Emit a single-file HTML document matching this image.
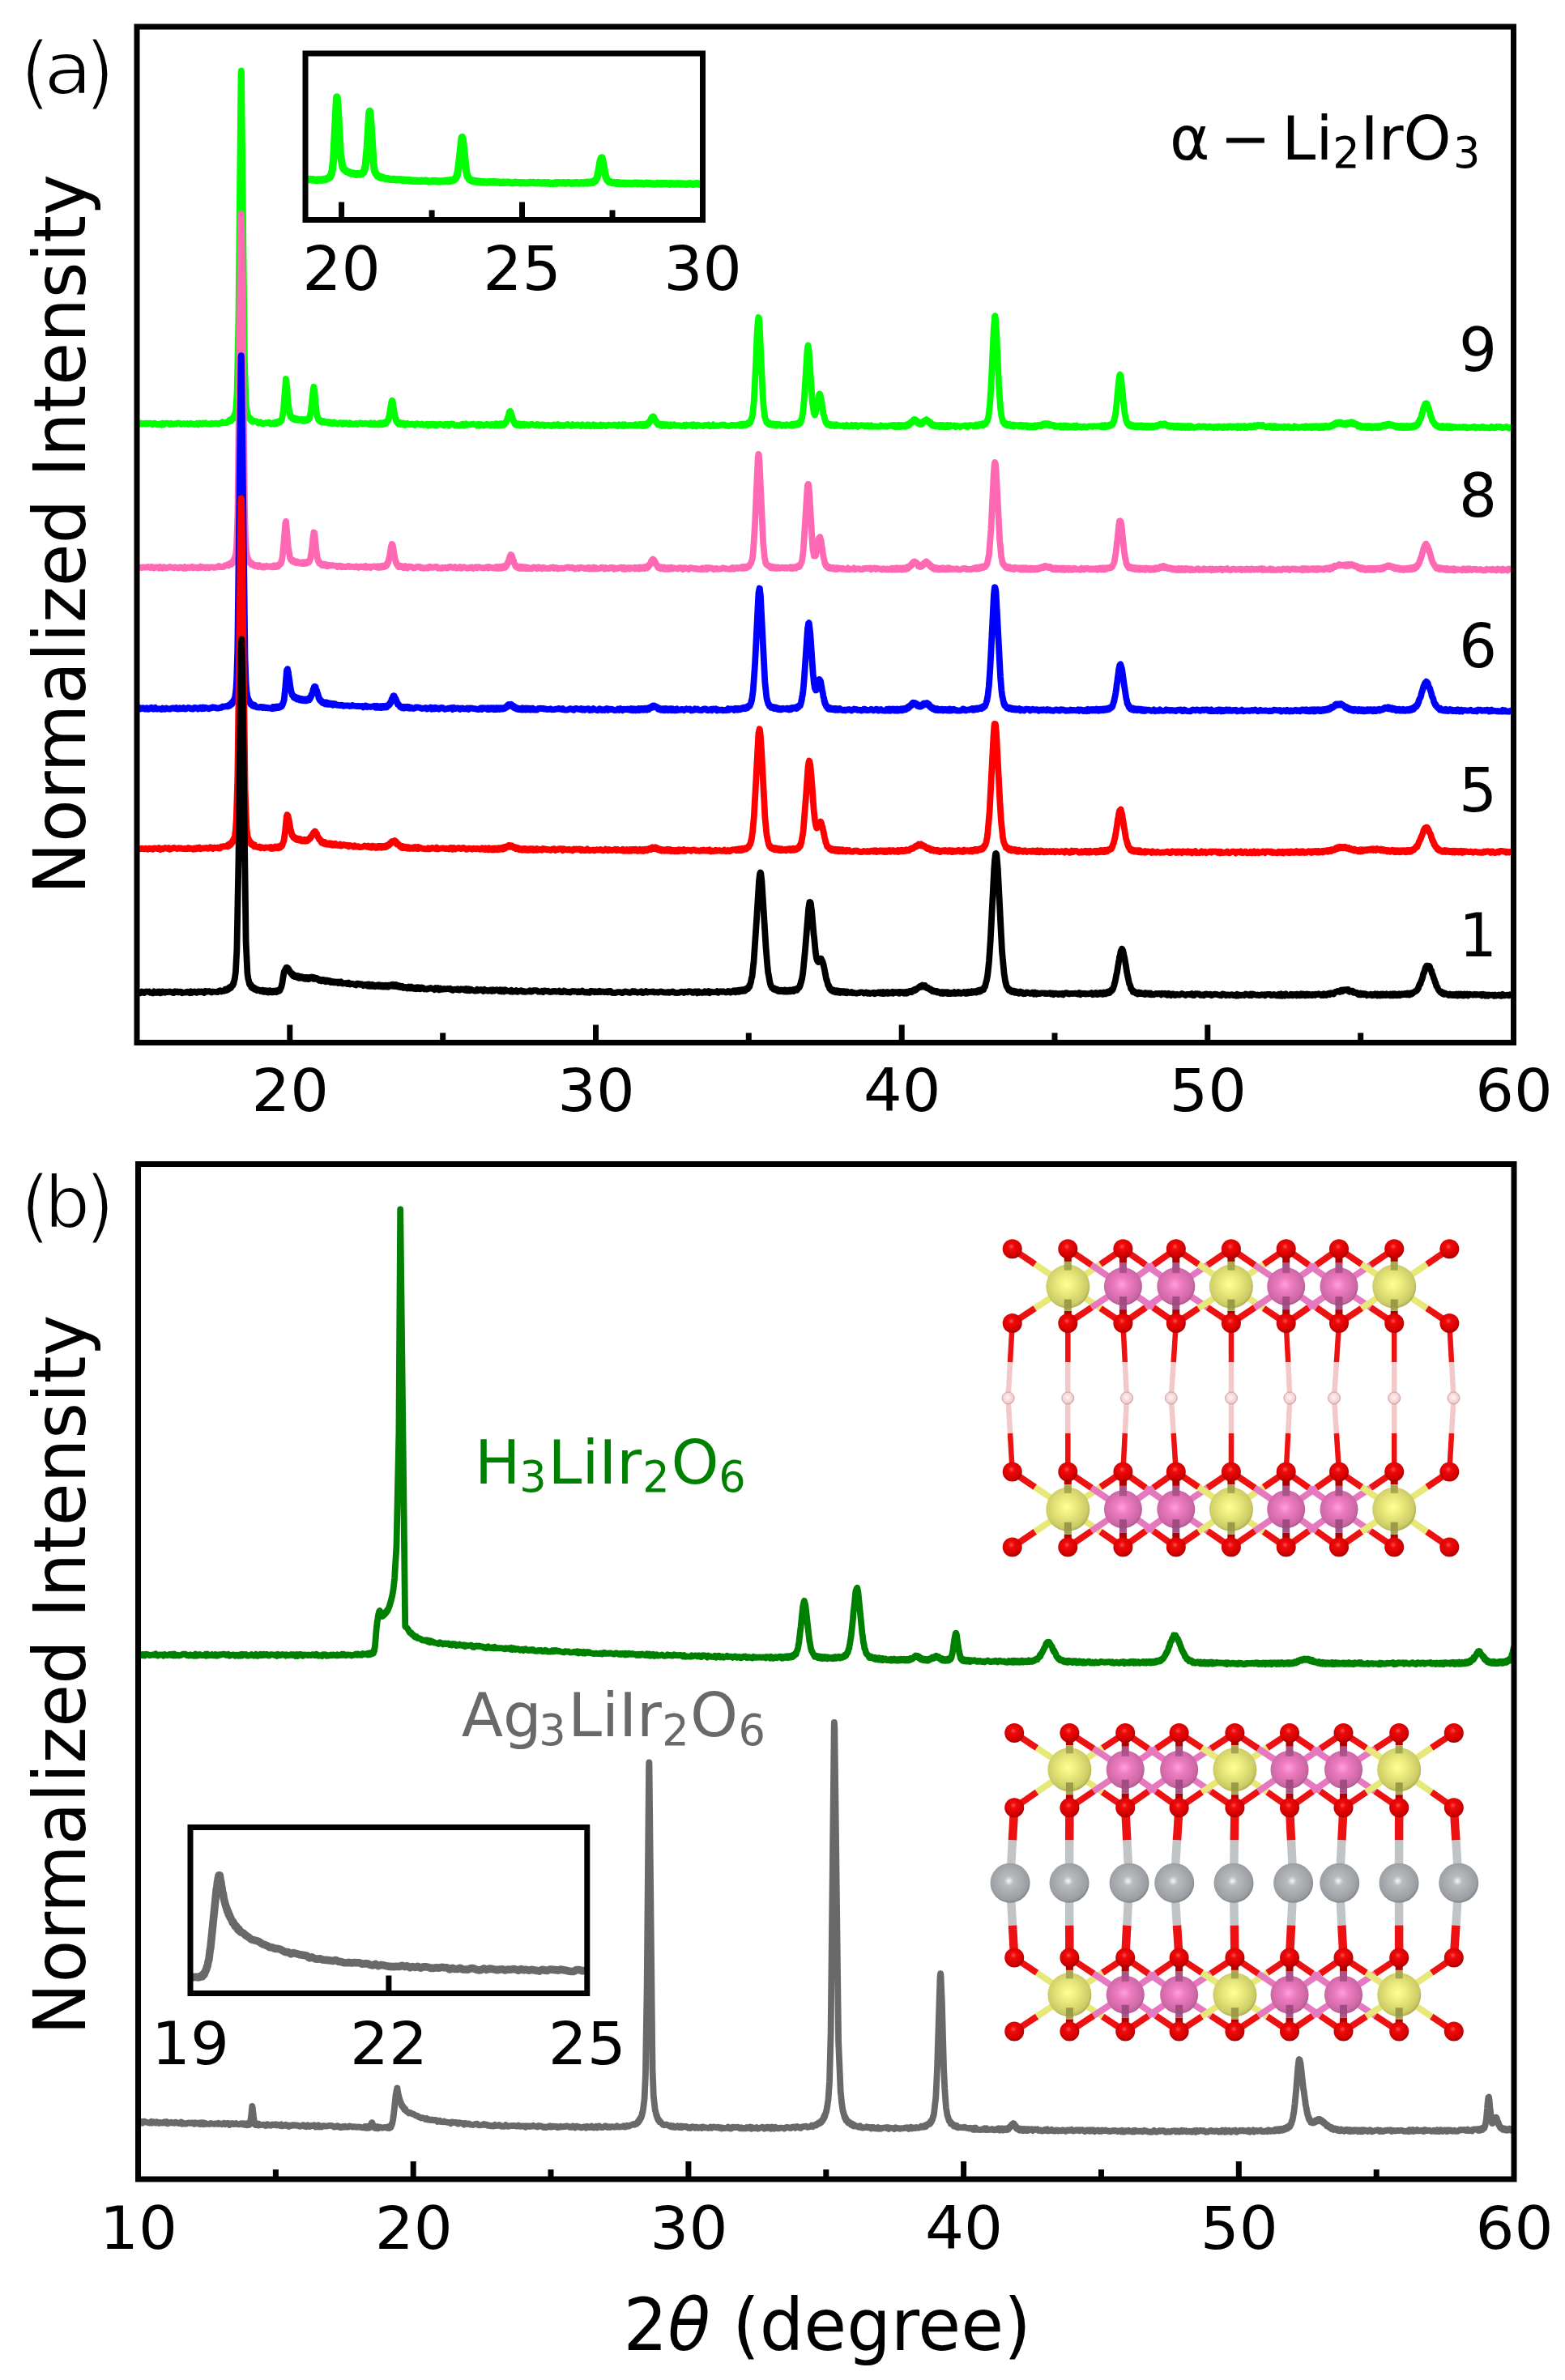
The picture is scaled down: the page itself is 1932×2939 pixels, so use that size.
<!DOCTYPE html>
<html><head><meta charset="utf-8"><title>XRD</title><style>html,body{margin:0;padding:0;background:#fff;}svg{display:block;}</style></head><body>
<svg width="1932" height="2939" viewBox="0 0 1932 2939">
<defs>
<radialGradient id="gO" cx="0.45" cy="0.38" r="0.6">
 <stop offset="0" stop-color="#ff5050"/><stop offset="0.25" stop-color="#f00a0a"/><stop offset="0.8" stop-color="#d20000"/><stop offset="1" stop-color="#a80000"/></radialGradient>
<radialGradient id="gY" cx="0.47" cy="0.45" r="0.6">
 <stop offset="0" stop-color="#ffff9a"/><stop offset="0.3" stop-color="#eeee80"/><stop offset="0.8" stop-color="#cccc66"/><stop offset="1" stop-color="#99994a"/></radialGradient>
<radialGradient id="gP" cx="0.47" cy="0.45" r="0.6">
 <stop offset="0" stop-color="#ffa0dc"/><stop offset="0.3" stop-color="#ee7cc0"/><stop offset="0.8" stop-color="#cc66a4"/><stop offset="1" stop-color="#99507c"/></radialGradient>
<radialGradient id="gA" cx="0.47" cy="0.45" r="0.6">
 <stop offset="0" stop-color="#f4f6f8"/><stop offset="0.2" stop-color="#b8bcbf"/><stop offset="0.8" stop-color="#9a9ea2"/><stop offset="1" stop-color="#6e7276"/></radialGradient>
<radialGradient id="gH" cx="0.47" cy="0.45" r="0.6">
 <stop offset="0" stop-color="#fff4f4"/><stop offset="0.7" stop-color="#f2d0d0"/><stop offset="1" stop-color="#d8a8a8"/></radialGradient>

<clipPath id="ca"><rect x="169.0" y="33.0" width="1699.5" height="1254.5"/></clipPath>
<clipPath id="cb"><rect x="170.5" y="1437.5" width="1698.5" height="1253.5"/></clipPath>
<clipPath id="cia"><rect x="377.0" y="66.0" width="490.5" height="205.5"/></clipPath>
<clipPath id="cib"><rect x="235.0" y="2256.5" width="489.8" height="205.0"/></clipPath>
</defs>
<rect width="1932" height="2939" fill="#fff"/>
<g clip-path="url(#ca)" fill="none" stroke-width="7.8" stroke-linejoin="round" stroke-linecap="butt">
<path d="M169.0 523.2L170.5 522.8L172.0 523.9L173.5 522.6L175.0 523.6L176.6 523.2L178.1 522.6L179.6 523.5L181.1 522.5L182.6 523.4L184.1 522.6L185.6 522.6L188.6 524.2L190.1 522.7L191.7 522.9L194.7 524.5L196.2 523.7L197.7 523.3L199.2 524.6L200.7 522.5L202.2 524.3L203.7 523.0L205.3 522.7L206.8 522.6L208.3 523.1L209.8 524.2L211.3 522.8L212.8 523.7L214.3 523.8L215.8 523.2L217.3 523.6L218.9 522.5L220.4 522.5L221.9 522.8L223.4 523.8L224.9 523.3L226.4 523.0L227.9 523.6L230.9 523.0L232.4 524.0L234.0 523.8L235.5 522.8L237.0 523.5L238.5 523.4L240.0 524.2L241.5 523.8L243.0 522.8L244.5 524.4L246.0 522.4L249.1 523.8L250.6 522.5L252.1 523.2L253.6 522.2L255.1 523.5L256.6 523.7L258.1 523.2L259.6 523.9L261.2 522.6L262.7 523.4L267.2 522.6L268.7 523.4L270.2 523.5L271.7 522.4L273.2 522.6L274.7 521.1L276.3 522.3L277.8 521.9L279.3 522.4L280.8 521.6L282.3 519.9L283.1 519.8L283.3 520.3L283.5 518.7L283.8 519.6L283.8 518.9L284.3 518.4L284.5 519.8L284.8 518.2L285.3 518.5L285.3 519.5L285.5 517.6L285.8 518.2L286.0 518.2L286.2 518.7L286.7 518.2L286.8 516.8L287.0 516.9L287.2 516.5L287.5 517.4L287.7 517.2L288.0 515.1L288.5 514.5L288.7 514.6L288.9 514.3L289.4 511.9L289.7 512.2L289.9 511.6L289.9 511.8L290.2 511.8L291.2 506.2L291.4 503.2L291.4 504.7L292.6 484.8L294.4 396.9L297.5 90.9L297.8 87.5L298.0 90.0L302.0 449.3L303.7 499.2L304.2 504.4L304.9 508.4L305.0 508.0L306.1 514.0L306.4 513.5L306.6 515.2L306.9 515.6L307.1 514.7L308.0 515.7L308.3 517.7L308.6 517.8L308.8 517.3L309.3 518.5L309.5 517.1L309.6 518.4L309.8 519.2L310.3 519.2L310.8 518.3L311.0 519.8L311.0 518.8L311.5 520.5L311.8 519.3L312.0 519.5L312.3 520.8L312.5 520.4L314.0 519.8L317.0 520.6L318.6 522.5L320.1 522.5L321.6 521.3L323.1 522.9L324.6 523.4L327.6 522.2L329.1 522.6L330.6 521.8L332.2 521.5L333.7 523.6L335.2 522.9L336.7 522.6L338.2 523.4L338.4 522.3L338.7 523.3L338.9 523.1L339.2 521.8L339.7 521.9L339.9 522.5L340.2 521.8L340.4 522.1L340.6 521.4L340.9 523.1L341.1 521.9L341.6 523.0L341.9 521.9L342.1 522.9L342.4 522.0L342.7 522.0L342.9 520.8L343.1 521.7L343.6 520.6L343.8 522.3L344.1 520.8L344.3 521.9L344.8 520.8L345.1 521.1L345.3 521.1L345.6 521.4L345.7 519.8L345.8 520.8L346.1 519.9L346.3 519.7L346.5 520.5L346.8 519.6L347.0 519.4L347.3 519.4L347.5 518.2L347.8 517.9L348.5 515.5L349.0 512.3L349.2 511.7L350.0 505.4L352.9 468.0L353.3 469.7L353.4 469.2L353.9 475.4L354.2 476.6L355.1 490.7L356.6 505.3L356.9 505.5L357.3 509.1L357.6 509.3L358.1 512.3L358.3 512.7L358.6 512.3L358.8 514.8L359.1 514.8L359.3 515.5L359.3 513.7L359.6 514.3L359.8 514.0L360.0 515.9L360.3 515.0L360.5 514.9L360.9 516.8L361.0 516.7L361.3 515.6L361.5 515.5L361.8 517.4L362.0 516.7L362.3 517.1L362.4 515.8L362.5 515.8L362.7 517.3L363.2 516.1L363.5 518.1L363.7 517.5L363.9 517.9L364.0 516.4L364.2 518.2L364.5 516.5L364.7 518.3L365.0 517.5L365.2 517.3L365.4 518.7L365.7 517.3L365.9 517.0L366.2 518.0L366.7 517.1L366.9 517.3L366.9 517.1L367.4 517.7L367.7 517.8L368.4 518.9L369.9 518.1L371.4 518.7L372.6 518.1L372.8 518.5L372.9 517.8L373.1 518.3L373.3 517.8L373.5 519.4L374.0 518.2L374.5 519.8L374.5 518.0L374.8 519.6L375.0 518.7L375.3 518.9L375.5 519.6L375.8 518.7L376.2 519.9L376.5 518.5L376.7 519.6L377.7 518.4L378.0 517.7L378.2 517.8L378.5 517.7L378.7 519.1L379.0 517.7L379.2 517.5L379.4 519.1L379.7 519.0L380.2 517.5L380.5 517.3L380.7 517.6L380.9 516.7L381.2 517.1L381.4 516.4L381.6 517.5L381.9 517.1L382.1 515.0L382.4 515.9L383.1 511.1L383.6 509.5L386.8 479.8L387.3 477.7L387.5 478.0L387.8 480.5L388.0 480.4L388.5 484.8L389.6 498.3L389.7 498.9L391.2 512.5L391.7 514.4L392.0 514.3L392.6 516.4L392.7 516.1L392.9 518.2L393.2 518.0L393.9 519.2L394.2 517.9L394.4 519.8L394.7 519.9L394.9 519.5L395.4 520.1L395.6 518.9L395.6 520.4L395.9 519.5L396.1 519.2L396.6 520.8L396.9 519.7L397.4 521.6L397.6 520.6L397.8 520.4L398.6 521.4L398.6 521.1L398.8 521.2L399.1 520.0L399.6 520.5L399.8 521.6L400.1 520.7L400.1 521.3L400.3 520.1L400.8 520.7L401.0 521.6L401.5 521.7L401.6 520.9L401.8 521.4L403.2 521.5L404.7 520.9L406.2 522.7L407.7 521.3L409.2 523.1L410.7 523.1L412.2 521.2L415.2 523.1L416.7 523.5L418.3 522.5L419.8 522.1L421.3 522.1L422.8 523.7L424.3 522.2L425.8 523.1L427.3 522.1L430.3 524.0L431.9 522.3L433.4 523.8L434.9 523.2L436.4 524.0L437.9 523.7L439.4 522.7L440.9 524.2L443.9 522.3L445.5 522.3L447.0 523.4L451.5 522.7L453.0 523.1L454.5 523.1L456.0 524.2L457.5 522.4L459.0 524.1L460.6 524.3L462.1 522.7L463.6 524.4L465.1 523.9L466.6 524.3L467.0 523.0L467.5 523.2L467.8 524.5L468.4 523.1L468.7 523.2L469.2 522.3L469.5 522.4L469.6 524.0L469.8 522.8L470.1 524.2L470.4 522.7L470.7 522.7L470.9 523.2L471.1 522.5L471.5 524.2L472.4 523.4L472.6 523.9L472.9 524.0L473.2 523.1L473.5 523.4L473.8 521.9L474.1 523.3L474.2 522.7L474.3 523.3L474.6 523.0L475.2 521.5L475.5 523.4L475.7 521.6L475.8 522.3L476.3 521.6L476.9 522.8L477.2 521.0L477.5 521.6L477.7 520.5L478.0 520.7L478.9 518.4L479.2 519.2L479.7 515.8L480.0 516.2L483.4 495.8L484.0 494.7L484.5 495.0L484.8 498.1L485.1 497.7L486.0 504.8L486.2 505.3L487.9 516.2L488.2 515.5L489.1 520.0L489.3 519.5L489.4 519.9L489.6 519.2L490.2 522.0L490.8 522.4L491.1 522.9L491.3 521.5L491.6 521.4L491.9 521.6L492.5 523.6L493.0 523.1L493.3 523.5L493.6 522.8L493.8 523.1L493.9 522.0L494.2 523.7L494.5 522.5L494.7 524.1L495.6 522.5L495.9 522.8L496.2 523.7L496.4 523.8L496.8 522.5L497.0 523.5L497.3 523.7L497.9 522.9L498.1 523.8L498.3 522.5L498.4 523.2L498.7 523.5L499.0 524.7L499.3 524.0L499.6 524.5L500.1 523.1L500.4 523.2L500.7 524.8L501.3 523.4L502.9 522.8L504.4 523.9L505.9 524.3L508.9 523.5L510.4 524.4L511.9 525.0L513.4 523.5L514.9 523.1L516.5 523.8L518.0 524.0L519.5 524.6L521.0 523.6L522.5 524.9L524.0 524.8L527.0 523.6L528.5 525.3L530.0 523.9L531.6 525.0L533.1 523.7L534.6 523.7L536.1 524.9L537.6 523.9L539.1 525.4L540.6 524.4L542.1 523.7L543.6 523.8L548.2 525.4L549.7 523.7L551.2 524.2L552.7 523.8L554.2 525.5L555.7 523.7L558.8 523.5L560.3 524.3L561.8 525.4L563.3 525.4L564.8 525.0L566.3 525.6L567.8 525.5L569.3 524.2L570.8 523.8L572.3 525.5L573.9 525.1L575.4 523.5L576.9 524.9L578.4 524.3L581.4 524.2L584.4 523.5L585.9 524.1L587.5 524.3L589.0 525.6L590.5 523.8L592.0 525.6L593.5 524.0L595.0 524.3L596.5 525.3L598.0 525.3L601.1 523.6L602.6 524.6L604.1 524.3L605.6 525.5L607.1 523.9L608.6 524.3L610.1 525.4L611.6 523.5L612.2 525.2L612.5 525.1L612.8 523.5L613.4 523.5L613.7 525.4L614.0 523.9L614.3 525.0L614.6 525.3L614.9 524.1L615.3 523.9L615.6 525.4L616.2 523.9L616.5 524.8L616.8 523.9L617.1 523.8L617.4 523.2L617.7 524.9L618.0 525.2L618.3 524.5L618.6 525.2L618.9 523.1L619.5 524.1L619.8 525.1L620.1 525.0L620.4 523.8L620.7 523.4L621.3 523.8L621.6 524.7L621.9 523.0L622.2 524.2L622.5 524.0L622.8 524.0L623.4 523.1L623.7 522.3L624.3 521.7L624.6 522.2L624.9 520.2L625.2 519.9L625.5 520.5L626.4 516.5L626.7 516.7L627.0 515.2L627.3 515.6L627.9 513.4L628.5 509.4L628.8 508.6L629.5 508.9L630.1 507.9L631.9 513.8L632.2 513.7L632.5 516.3L632.8 516.1L633.1 517.7L633.4 518.1L633.7 519.7L634.0 519.3L634.6 520.6L634.9 520.9L635.2 522.9L635.8 522.3L636.1 522.7L636.4 524.2L637.0 522.9L637.3 524.3L637.6 524.1L637.9 524.9L638.2 523.0L638.8 524.7L639.4 525.0L639.7 523.2L640.0 523.8L640.3 523.4L640.6 523.6L640.9 525.4L641.2 524.5L641.5 525.3L641.8 524.1L642.1 525.2L642.7 523.9L643.0 525.1L643.3 525.5L643.7 523.7L644.0 524.7L644.3 524.8L644.6 523.9L644.9 524.3L645.2 523.8L645.8 524.1L646.1 524.8L646.4 525.0L647.0 523.6L647.6 525.1L647.9 524.0L649.4 524.3L650.9 524.1L652.4 525.4L653.9 524.9L655.4 523.9L656.9 524.0L658.5 524.6L661.5 525.2L663.0 524.0L664.5 524.2L666.0 525.4L667.5 524.7L669.0 524.5L670.5 524.5L672.1 526.0L673.6 524.6L675.1 525.1L676.6 524.7L678.1 524.8L679.6 525.8L681.1 526.1L682.6 524.7L684.1 524.4L685.6 525.5L687.2 524.4L688.7 524.0L690.2 525.9L691.7 524.9L693.2 525.8L694.7 524.9L696.2 525.9L697.7 525.0L699.2 524.4L700.8 524.0L702.3 525.2L703.8 525.4L705.3 526.0L706.8 524.2L708.3 525.4L709.8 524.9L711.3 525.2L712.8 524.4L715.9 525.2L717.4 526.1L718.9 524.3L721.9 525.9L723.4 526.2L724.9 524.5L726.4 524.4L727.9 526.2L729.5 526.3L732.5 524.3L734.0 526.2L735.5 525.0L737.0 526.1L738.5 525.5L740.0 526.0L741.5 524.5L743.1 525.9L744.6 524.7L746.1 525.1L747.6 526.0L749.1 526.0L750.6 524.6L752.1 524.7L755.1 525.3L756.6 525.0L758.2 524.5L759.7 524.7L761.2 525.8L762.7 526.2L764.2 524.3L765.7 525.4L767.2 525.9L768.7 524.3L770.2 526.0L771.8 524.4L773.3 525.5L774.8 525.4L776.3 525.6L777.8 524.8L780.8 525.4L782.3 525.1L783.5 525.6L783.8 525.1L784.2 525.1L784.6 524.2L785.0 525.5L785.7 524.6L786.1 525.8L786.5 525.8L787.2 524.5L787.6 525.1L788.0 524.3L788.4 524.3L788.8 525.0L789.1 524.2L789.5 525.0L789.9 525.1L790.3 524.1L790.6 525.4L791.0 524.2L791.4 525.6L791.8 525.7L792.5 524.0L792.9 525.0L793.3 524.7L793.7 526.0L794.0 524.1L794.4 525.7L794.8 526.0L795.2 525.3L795.5 525.5L795.9 524.1L796.3 525.7L796.7 524.6L797.1 525.5L797.4 525.4L797.8 523.6L798.2 524.8L798.6 525.0L798.9 522.9L799.7 523.9L800.1 522.3L800.5 523.6L800.8 521.8L801.2 522.5L801.6 520.6L802.3 521.1L802.7 518.9L803.1 518.3L803.5 518.2L804.2 515.8L805.0 514.9L805.4 516.2L805.7 515.4L806.1 515.8L806.5 514.3L806.9 515.9L807.3 514.8L808.0 517.1L808.4 517.2L808.8 519.0L809.1 519.0L809.9 521.0L810.3 519.9L810.7 522.4L811.4 522.1L811.8 523.4L812.2 522.6L812.5 524.5L812.9 523.8L813.3 523.6L813.7 524.7L814.4 523.7L814.8 525.0L815.2 523.6L815.6 525.4L815.9 524.2L816.7 525.9L817.1 525.1L817.5 525.3L818.2 523.9L819.0 524.3L819.3 525.3L819.7 524.9L820.1 525.1L820.5 526.0L820.9 524.3L821.2 524.6L821.6 525.5L822.0 524.1L822.4 524.1L822.7 524.9L823.1 524.4L823.5 524.9L823.9 524.6L824.3 525.4L824.6 525.5L825.0 524.6L825.4 525.5L825.8 525.2L826.1 524.5L826.5 526.3L826.9 524.7L827.7 524.4L828.0 525.6L828.4 526.1L828.8 526.0L829.2 525.1L830.7 524.8L832.2 524.3L833.7 525.7L835.2 525.5L836.7 525.1L838.2 525.7L839.7 525.3L841.2 526.4L842.8 526.0L844.3 524.9L845.8 526.3L847.3 524.5L848.8 525.5L853.3 524.5L854.8 526.1L856.4 524.4L857.9 525.6L859.4 526.5L860.9 524.7L862.4 524.8L863.9 525.7L865.4 525.5L868.4 526.2L869.9 524.8L871.5 525.1L873.0 525.0L874.5 524.5L876.0 526.3L879.0 525.9L880.5 524.4L882.0 526.2L883.5 526.0L885.1 525.4L886.6 526.0L889.6 524.8L891.1 524.5L892.6 524.8L894.1 524.4L897.1 525.9L898.7 525.8L900.2 526.1L901.7 525.7L903.2 524.7L904.7 525.3L906.2 525.0L907.7 525.7L910.7 524.5L913.8 525.8L914.1 524.1L914.5 525.6L914.9 523.6L915.3 524.1L915.6 524.0L916.0 525.1L916.4 525.5L917.2 524.1L917.5 525.2L917.9 524.0L918.3 523.7L918.7 525.1L919.0 524.5L919.8 524.4L920.2 525.0L920.6 523.8L920.9 524.6L921.3 524.2L921.7 524.4L922.1 523.4L922.4 523.9L923.6 522.4L924.0 523.1L924.3 521.7L924.7 523.3L925.1 521.4L925.5 520.8L925.8 520.6L926.2 522.0L927.7 516.8L928.1 516.9L929.2 510.7L930.8 495.0L933.0 450.8L934.5 413.4L935.7 396.0L936.4 392.0L936.8 392.2L937.6 399.6L941.7 489.6L942.8 503.8L944.3 515.4L944.7 516.1L945.1 518.2L945.5 518.9L945.9 519.1L946.2 521.2L946.6 520.1L947.0 522.1L947.4 521.1L947.7 521.0L948.1 521.7L948.5 523.2L948.9 523.8L949.3 521.9L949.6 523.1L950.0 523.2L950.4 524.0L950.8 522.8L951.1 523.6L951.5 523.3L951.9 524.5L952.3 523.3L952.7 524.9L953.0 523.5L953.4 523.4L953.8 524.6L954.5 523.4L954.9 524.6L955.3 523.4L955.7 525.0L956.1 524.8L956.4 525.1L957.2 524.2L957.9 524.4L958.3 525.5L958.7 523.7L959.1 525.5L960.6 523.7L962.1 524.2L963.6 524.4L965.1 525.8L966.6 524.9L968.1 524.7L969.7 525.8L971.2 524.3L972.7 524.8L974.2 524.9L974.9 525.4L975.7 525.1L976.1 524.4L976.5 524.4L976.8 524.0L977.2 525.4L977.6 525.0L978.0 525.2L978.3 523.9L979.1 525.1L979.5 524.7L979.9 523.6L980.6 525.2L981.0 523.7L981.4 523.6L981.7 523.8L982.1 524.6L982.5 524.8L982.9 523.2L984.0 523.4L984.4 523.7L984.8 522.8L985.1 523.0L985.5 522.6L985.9 524.2L986.3 523.4L986.6 521.8L987.0 523.4L987.4 521.2L987.8 521.4L988.2 522.2L988.9 520.2L989.7 516.8L990.0 516.3L991.2 509.0L992.7 493.9L996.5 433.8L997.2 427.7L997.6 426.5L998.7 434.1L1002.9 497.0L1004.8 510.2L1005.9 512.4L1006.3 510.3L1006.7 510.6L1007.0 509.7L1007.8 505.8L1008.2 504.9L1008.6 500.6L1008.9 499.4L1009.3 496.2L1010.1 493.3L1010.8 487.7L1011.2 487.5L1011.6 486.6L1012.0 486.8L1012.3 486.7L1013.8 493.0L1014.2 496.6L1014.6 497.6L1015.7 506.5L1016.1 507.5L1016.5 511.6L1017.2 513.4L1018.0 517.2L1018.4 517.6L1018.8 519.5L1019.5 521.7L1019.9 521.6L1020.6 522.2L1021.0 523.7L1021.4 524.4L1022.1 523.2L1022.5 524.7L1022.9 523.9L1023.7 523.5L1024.0 525.1L1024.4 525.2L1025.2 524.6L1025.5 524.9L1025.9 524.2L1026.3 525.8L1026.7 524.5L1027.4 525.7L1027.8 525.7L1028.6 524.6L1028.9 525.2L1029.3 524.3L1029.7 525.9L1030.1 524.9L1030.5 526.0L1030.8 524.7L1031.2 525.0L1031.6 524.7L1032.0 525.2L1032.7 524.3L1033.1 525.9L1033.5 524.9L1034.2 525.0L1034.6 525.4L1036.1 525.3L1037.6 525.9L1039.1 526.0L1040.7 525.3L1042.2 526.6L1043.7 526.5L1045.2 524.8L1046.7 526.5L1048.2 526.7L1049.7 526.4L1051.2 525.0L1052.7 526.6L1054.3 526.2L1055.8 524.8L1057.3 524.8L1058.8 526.9L1061.8 525.4L1063.3 525.1L1066.3 525.4L1067.8 526.6L1069.4 525.6L1070.9 525.2L1072.4 526.9L1073.9 526.6L1075.4 525.3L1076.9 526.9L1078.4 526.3L1079.9 526.6L1081.4 526.4L1083.0 526.9L1084.5 526.7L1086.0 526.8L1087.5 525.4L1089.0 526.5L1090.5 526.1L1092.0 526.6L1093.5 525.9L1095.0 526.9L1098.1 525.5L1100.7 525.3L1101.1 526.0L1101.2 525.1L1101.6 526.0L1102.1 525.3L1102.6 526.0L1103.5 526.1L1104.0 526.8L1104.1 524.9L1104.5 526.8L1105.0 526.0L1105.9 526.8L1106.4 525.7L1106.8 525.8L1107.1 527.0L1107.3 525.1L1107.8 526.3L1108.3 526.3L1108.6 524.9L1108.7 526.2L1109.2 526.4L1109.7 526.9L1110.1 525.6L1110.6 527.0L1111.1 526.0L1111.6 525.9L1111.7 526.8L1112.0 524.9L1112.5 526.4L1113.0 526.2L1113.2 525.5L1113.4 526.7L1113.9 525.6L1114.7 525.9L1114.9 526.4L1115.3 525.2L1115.4 525.7L1115.8 525.6L1116.2 526.5L1116.3 525.3L1116.4 526.5L1116.8 525.5L1116.8 525.7L1117.2 525.2L1117.7 526.7L1117.8 526.0L1118.2 526.2L1118.3 525.2L1118.7 525.0L1119.6 525.9L1119.7 524.2L1120.2 526.0L1120.5 525.1L1120.6 524.0L1120.7 524.5L1121.0 523.7L1121.5 525.5L1121.6 524.8L1121.9 524.7L1122.2 525.1L1122.5 524.3L1123.0 524.1L1123.4 523.6L1123.5 523.7L1123.7 522.4L1123.8 523.4L1123.9 522.8L1124.3 523.1L1124.4 521.6L1124.8 521.4L1124.9 521.0L1125.3 522.5L1125.8 520.8L1126.2 521.4L1126.7 520.4L1126.8 519.6L1127.1 519.4L1127.2 519.6L1127.6 519.1L1128.1 519.5L1128.2 520.1L1128.3 518.2L1128.6 519.2L1128.7 518.0L1129.0 518.1L1129.1 519.6L1129.5 519.2L1129.6 519.9L1130.0 518.1L1130.1 518.9L1130.4 519.6L1130.5 520.4L1130.9 520.8L1131.0 519.7L1131.3 519.8L1131.4 519.2L1131.5 520.5L1132.0 519.8L1132.4 519.9L1132.8 521.7L1132.9 520.5L1133.3 522.7L1133.4 520.9L1133.7 522.9L1133.8 521.3L1134.2 521.3L1134.3 522.9L1134.7 522.1L1134.8 523.2L1135.3 521.9L1135.6 523.6L1135.7 523.5L1135.8 523.8L1136.1 523.6L1136.2 522.1L1136.7 523.5L1137.1 522.9L1137.1 523.9L1137.3 522.4L1137.5 523.9L1138.1 521.6L1138.6 523.1L1138.8 521.3L1139.0 522.6L1139.4 521.0L1139.5 522.5L1139.9 521.4L1140.0 520.3L1140.4 520.7L1140.5 521.1L1140.8 520.4L1140.9 520.9L1141.3 519.4L1141.4 520.7L1141.8 519.5L1141.9 520.0L1142.2 519.8L1142.3 519.2L1142.7 519.0L1142.8 519.8L1143.2 520.0L1143.8 518.0L1144.1 520.1L1144.2 519.5L1144.6 519.9L1144.7 518.9L1145.1 520.5L1145.6 520.0L1145.6 519.5L1146.0 520.0L1146.1 521.1L1146.4 520.3L1147.0 522.0L1147.5 520.6L1148.5 523.3L1148.9 523.8L1149.0 522.0L1149.4 524.1L1149.8 524.5L1149.9 523.9L1150.3 523.5L1150.4 524.9L1150.7 525.0L1150.8 524.8L1150.9 525.4L1151.3 523.7L1151.8 525.5L1152.2 524.4L1152.4 526.1L1152.6 524.6L1152.7 525.4L1153.1 525.7L1153.6 524.8L1154.0 526.2L1154.1 525.5L1154.5 524.7L1154.6 526.3L1155.0 526.3L1155.1 525.1L1155.5 525.9L1155.6 526.6L1155.9 526.6L1156.0 525.8L1156.4 525.8L1156.5 526.0L1157.0 525.2L1157.4 525.2L1157.4 526.3L1157.9 525.6L1158.4 526.1L1158.5 525.7L1158.9 526.0L1159.3 525.2L1159.8 525.0L1160.0 527.1L1160.3 525.7L1160.8 525.1L1161.5 526.7L1161.7 525.3L1162.2 526.3L1162.6 525.7L1163.0 526.1L1163.1 525.0L1163.6 525.0L1164.1 527.1L1164.5 526.9L1165.0 526.1L1165.5 526.2L1165.9 525.6L1166.0 526.7L1166.4 525.9L1166.9 527.1L1167.4 526.7L1167.8 527.1L1168.3 525.6L1168.8 525.1L1169.1 525.5L1170.2 525.1L1170.7 526.9L1171.1 526.0L1171.6 527.1L1172.1 527.0L1173.6 525.2L1175.1 526.4L1178.1 525.3L1179.6 527.2L1181.1 525.6L1182.7 526.3L1184.2 526.4L1185.7 527.1L1188.7 525.8L1190.2 525.9L1191.7 525.3L1193.2 527.0L1194.7 527.1L1196.3 525.3L1197.8 524.9L1199.3 525.3L1200.8 525.4L1202.3 526.6L1204.6 526.3L1205.0 524.5L1205.4 526.0L1205.8 525.8L1206.1 526.5L1206.5 524.4L1206.8 524.6L1206.9 525.9L1207.3 526.3L1208.1 524.8L1208.5 525.7L1208.9 524.3L1209.3 524.7L1209.7 524.5L1209.8 524.2L1210.1 524.9L1210.5 524.2L1210.9 524.3L1211.3 524.0L1211.4 525.1L1211.7 523.6L1212.1 525.1L1212.5 523.8L1212.9 523.4L1212.9 525.3L1213.3 523.7L1213.7 525.1L1214.4 524.8L1214.5 523.1L1214.9 523.7L1215.3 522.7L1215.7 524.3L1216.9 522.2L1217.3 522.9L1217.4 522.0L1217.6 522.0L1218.0 520.4L1218.4 519.9L1218.8 518.6L1218.9 519.9L1219.6 516.4L1220.0 516.3L1221.9 501.3L1223.4 478.7L1226.8 405.6L1228.0 392.5L1228.0 390.6L1228.4 390.1L1228.8 392.5L1229.1 393.7L1230.3 412.5L1233.1 475.9L1235.1 504.5L1236.3 513.6L1237.1 516.5L1238.3 521.2L1238.6 521.2L1238.7 520.6L1239.1 520.9L1239.5 522.8L1239.9 522.5L1240.1 523.3L1240.3 522.0L1240.6 523.9L1241.0 523.1L1241.6 524.5L1242.2 522.9L1242.6 525.0L1243.0 524.2L1243.1 525.1L1243.4 523.9L1243.8 523.8L1244.2 525.3L1244.6 523.9L1245.4 525.1L1245.8 523.8L1246.1 525.0L1246.2 524.9L1246.6 525.1L1247.0 524.3L1247.8 526.0L1248.2 524.9L1248.6 525.8L1249.0 525.1L1249.1 526.0L1249.4 524.5L1249.8 526.3L1250.2 526.5L1250.6 525.6L1251.4 525.7L1251.8 524.6L1252.1 526.7L1253.7 525.2L1256.7 525.1L1257.8 525.4L1258.2 526.7L1258.4 525.0L1258.9 525.2L1259.5 526.5L1259.7 525.4L1260.1 525.0L1260.6 526.3L1261.8 526.2L1262.3 526.6L1262.7 525.3L1262.9 527.0L1263.5 526.7L1264.0 525.2L1264.6 526.2L1265.2 526.2L1266.3 525.4L1266.9 526.0L1267.3 525.5L1267.4 526.5L1268.0 527.1L1268.6 525.5L1268.8 526.4L1269.1 526.8L1269.7 525.5L1270.3 527.0L1270.8 527.3L1271.4 526.1L1271.8 526.1L1272.0 527.0L1272.5 526.4L1273.1 526.1L1273.3 527.3L1274.2 526.0L1274.8 525.7L1275.9 526.2L1276.3 527.4L1276.5 527.0L1277.1 527.2L1277.8 527.0L1278.2 525.3L1279.3 527.2L1279.9 527.1L1280.5 525.6L1281.0 526.4L1281.6 525.7L1282.2 526.0L1282.4 525.0L1282.7 525.7L1283.3 525.8L1283.9 524.6L1284.4 524.7L1285.0 526.4L1285.4 525.9L1285.6 526.2L1286.1 525.3L1286.9 525.6L1287.3 525.5L1287.8 523.4L1288.4 524.6L1289.0 523.6L1289.5 524.3L1289.9 523.3L1290.7 524.6L1291.2 523.9L1291.4 523.0L1291.8 523.6L1292.4 523.5L1292.9 524.7L1293.5 523.3L1294.1 523.5L1294.4 524.4L1294.6 523.3L1295.8 525.5L1296.0 524.6L1296.3 524.2L1297.5 525.2L1298.0 524.5L1299.0 524.8L1299.2 525.2L1299.7 525.6L1300.9 525.1L1302.0 526.9L1302.6 526.5L1303.1 526.4L1303.5 526.7L1303.7 525.7L1304.3 526.8L1304.8 526.3L1305.4 526.7L1307.1 525.9L1307.7 525.9L1308.0 526.5L1308.2 526.3L1308.8 526.7L1309.4 525.5L1309.9 527.4L1310.5 526.0L1311.1 526.7L1311.6 526.6L1312.2 526.1L1312.6 527.7L1312.8 526.1L1313.3 527.2L1314.1 525.6L1314.5 527.4L1315.6 525.7L1316.2 526.4L1316.7 526.5L1317.1 527.1L1317.3 525.8L1317.9 526.0L1318.4 527.6L1319.0 525.9L1319.6 526.3L1320.1 526.3L1320.7 527.0L1321.3 526.9L1321.6 527.4L1322.4 526.7L1323.1 527.2L1323.5 527.2L1324.1 526.6L1324.7 527.3L1325.2 527.1L1325.8 527.6L1326.2 525.8L1327.7 527.5L1329.2 525.6L1330.7 527.3L1333.7 526.7L1335.2 527.7L1336.7 526.8L1338.3 526.5L1339.8 527.3L1341.3 527.5L1344.3 526.4L1347.3 526.5L1348.8 527.1L1350.3 526.1L1353.4 526.7L1356.4 526.1L1357.9 527.0L1359.0 527.1L1359.8 525.6L1360.2 525.9L1360.6 525.5L1361.0 526.5L1361.4 525.4L1361.8 527.2L1362.2 525.8L1362.4 527.0L1363.0 527.2L1363.4 525.5L1363.8 525.9L1363.9 527.0L1364.2 525.0L1364.6 525.0L1365.0 526.1L1365.4 526.0L1365.4 526.9L1366.2 526.0L1366.6 526.9L1367.0 525.8L1367.4 525.8L1367.8 526.1L1368.1 525.4L1368.5 525.2L1368.5 525.7L1368.9 525.1L1369.3 526.4L1370.0 525.3L1370.1 524.3L1370.5 524.8L1370.9 524.7L1371.5 524.8L1371.7 525.4L1372.1 525.3L1372.5 524.0L1372.9 523.6L1373.3 524.4L1373.7 522.4L1374.5 522.0L1374.5 520.5L1374.9 519.9L1375.3 520.2L1376.0 516.3L1376.1 515.1L1376.5 514.8L1377.7 506.8L1380.8 473.6L1382.0 463.9L1382.1 464.5L1382.4 464.1L1382.8 462.5L1383.2 463.9L1383.6 463.7L1386.0 486.0L1386.8 496.1L1388.1 506.2L1388.4 509.5L1389.6 515.3L1390.0 518.4L1390.8 521.0L1391.1 520.2L1391.5 522.7L1391.9 522.4L1392.3 523.8L1392.7 523.0L1393.1 523.6L1393.5 523.5L1393.9 525.5L1394.3 524.5L1394.7 524.9L1395.1 524.9L1395.5 524.3L1395.7 526.1L1395.9 525.5L1396.3 526.5L1396.7 525.4L1397.1 525.9L1397.2 525.1L1397.5 524.7L1397.9 526.7L1398.3 526.6L1398.7 525.5L1399.1 526.8L1399.5 526.7L1399.9 525.6L1400.2 526.3L1400.3 527.1L1400.7 526.1L1401.1 527.1L1401.5 525.6L1401.9 526.7L1402.1 525.6L1402.6 527.1L1403.0 526.3L1403.2 526.9L1403.4 525.7L1403.8 525.6L1403.8 526.0L1404.2 525.7L1404.3 527.4L1404.6 525.9L1404.7 526.5L1404.9 525.6L1405.0 526.5L1405.5 526.2L1405.8 525.5L1406.0 525.6L1406.2 527.2L1406.2 526.1L1407.2 525.8L1407.7 526.0L1408.3 526.0L1408.9 525.5L1409.3 526.9L1409.4 526.2L1410.0 525.8L1410.6 527.1L1410.8 525.7L1411.1 526.1L1411.7 527.4L1412.3 525.8L1413.4 527.4L1413.8 527.3L1414.0 525.9L1414.5 526.4L1415.1 527.2L1415.3 526.4L1415.7 527.7L1416.2 526.1L1416.8 527.7L1417.9 526.1L1418.3 526.6L1418.5 525.9L1419.1 527.2L1419.6 526.2L1419.8 527.6L1420.2 526.9L1421.3 526.2L1421.9 526.9L1422.5 526.1L1422.9 527.5L1423.0 525.8L1423.6 526.7L1424.2 526.7L1424.4 526.1L1424.7 527.2L1425.3 526.3L1425.9 526.8L1426.4 526.5L1427.0 525.9L1427.4 526.0L1427.6 525.3L1428.1 525.4L1428.7 526.7L1428.9 525.5L1429.3 526.2L1429.8 524.8L1430.4 525.6L1431.0 525.0L1431.5 525.1L1432.1 523.9L1432.7 524.3L1433.4 523.6L1433.8 524.8L1434.4 523.7L1434.9 523.9L1435.5 524.9L1436.1 524.6L1436.6 524.8L1437.2 523.3L1437.8 523.7L1438.0 523.2L1438.3 524.8L1438.9 524.9L1439.5 524.4L1440.0 524.8L1441.0 525.7L1441.2 524.8L1441.7 526.3L1442.3 525.4L1442.5 526.1L1442.9 525.2L1443.4 525.2L1444.0 527.1L1444.6 526.8L1445.1 526.9L1445.5 525.5L1446.8 526.0L1447.4 526.5L1448.0 525.8L1449.1 527.2L1449.7 526.2L1450.0 527.6L1450.2 527.1L1450.8 527.4L1451.4 526.4L1451.9 527.4L1453.1 525.9L1453.6 527.7L1454.2 527.6L1454.8 526.0L1455.3 527.8L1455.9 527.3L1456.1 526.0L1456.5 526.5L1457.0 526.2L1457.6 527.7L1458.2 526.4L1458.7 528.0L1459.1 527.6L1459.3 526.2L1459.9 527.5L1460.4 526.8L1460.6 527.6L1461.0 527.8L1461.6 526.6L1462.1 526.2L1462.7 528.1L1463.3 526.9L1463.6 528.0L1463.8 527.5L1465.0 527.8L1466.1 526.1L1466.7 527.6L1467.2 527.0L1467.8 527.2L1468.2 528.1L1468.4 526.3L1468.9 527.7L1469.5 526.1L1469.7 527.6L1470.1 527.8L1471.2 526.6L1472.7 527.3L1474.2 528.2L1475.7 527.5L1477.2 527.3L1480.3 526.2L1481.8 526.9L1483.3 527.0L1484.8 526.5L1486.3 526.8L1487.8 526.4L1489.3 527.7L1490.8 527.6L1492.3 526.7L1493.9 526.7L1495.4 527.3L1496.9 527.1L1498.4 528.2L1499.9 526.9L1501.4 526.8L1502.9 528.1L1504.4 526.5L1505.9 527.4L1507.5 526.9L1509.0 528.0L1509.7 527.4L1510.5 527.9L1511.2 526.6L1512.0 527.6L1513.5 527.2L1514.2 527.9L1515.0 528.0L1515.8 526.4L1517.3 527.0L1518.8 526.3L1519.5 526.8L1520.3 526.6L1521.0 527.7L1522.6 526.4L1524.1 527.2L1527.1 526.2L1527.8 528.4L1528.6 527.8L1529.4 526.4L1530.1 527.8L1530.9 528.3L1532.4 526.4L1533.1 527.2L1533.9 527.1L1534.6 526.6L1535.4 527.3L1536.2 526.2L1536.9 528.1L1537.7 527.5L1538.4 527.5L1539.2 528.1L1540.7 526.5L1543.0 525.9L1543.7 527.5L1544.5 527.5L1545.2 526.3L1546.0 525.9L1546.7 526.8L1547.5 527.1L1548.2 527.2L1549.0 525.4L1549.7 526.6L1550.5 526.6L1551.3 526.3L1552.0 525.2L1552.8 524.8L1553.5 526.2L1554.3 525.0L1555.0 525.1L1555.8 525.5L1556.5 525.2L1557.3 526.3L1558.1 525.0L1558.8 524.7L1559.6 526.0L1560.3 526.3L1561.1 526.8L1561.8 526.7L1562.6 527.3L1563.3 527.5L1564.1 526.6L1564.9 526.7L1565.6 526.1L1566.4 526.5L1567.1 527.1L1567.9 526.1L1568.6 527.5L1569.4 526.4L1570.1 527.0L1570.9 528.2L1571.7 526.3L1572.4 526.2L1573.2 527.1L1573.9 526.6L1574.7 527.8L1575.4 526.2L1576.2 528.1L1577.7 528.0L1578.5 527.2L1579.2 526.9L1580.0 527.7L1582.2 527.0L1583.0 527.2L1584.5 528.1L1585.2 528.2L1586.0 526.6L1588.3 527.5L1590.5 526.5L1592.0 527.3L1592.8 528.4L1594.3 528.2L1595.1 528.4L1595.8 528.4L1596.6 527.6L1597.3 528.1L1598.1 526.4L1598.8 527.8L1599.6 527.6L1600.4 526.9L1602.6 528.4L1604.1 527.3L1605.6 527.7L1607.2 526.9L1608.7 527.0L1610.2 528.2L1611.7 526.3L1612.8 526.7L1613.2 527.8L1614.1 526.5L1614.7 527.7L1614.8 527.1L1615.5 527.5L1616.1 527.2L1616.2 527.4L1616.8 527.5L1617.4 527.1L1617.7 526.5L1618.1 526.7L1618.8 528.2L1619.2 527.5L1619.4 526.5L1620.1 528.1L1620.8 526.8L1621.4 526.4L1622.1 527.4L1622.3 526.8L1622.7 527.3L1623.4 527.4L1623.8 526.7L1624.1 527.5L1624.7 526.5L1625.4 527.5L1626.0 526.4L1626.7 527.1L1626.8 526.4L1628.0 528.1L1628.3 527.4L1628.7 527.7L1629.3 527.8L1629.8 526.4L1630.0 528.3L1630.7 527.7L1631.3 526.4L1632.0 527.9L1632.8 526.5L1633.3 528.2L1634.0 527.3L1634.3 527.8L1634.6 526.3L1635.3 527.7L1635.9 526.1L1636.0 526.5L1636.6 526.8L1637.3 525.9L1637.4 527.2L1637.9 526.3L1638.6 526.4L1638.9 527.3L1639.3 526.6L1639.9 527.6L1640.4 526.9L1640.6 527.4L1641.2 526.6L1641.9 527.2L1642.6 526.9L1643.2 525.2L1643.4 526.4L1643.9 525.3L1644.5 526.0L1644.9 525.7L1645.2 525.9L1645.9 524.0L1646.4 524.3L1646.5 525.0L1647.2 525.1L1647.8 524.3L1647.9 522.8L1648.5 523.7L1649.2 522.3L1649.5 523.1L1649.8 523.5L1650.5 521.7L1651.0 523.4L1651.8 521.7L1652.5 521.5L1653.1 522.0L1653.8 522.9L1654.5 521.5L1655.1 521.4L1655.5 521.7L1655.8 523.4L1656.4 522.2L1657.0 523.2L1657.1 522.6L1657.8 523.7L1658.4 523.2L1658.5 522.7L1659.1 524.4L1659.7 523.7L1660.4 524.3L1661.1 524.6L1661.5 522.5L1661.7 523.2L1662.4 522.7L1663.7 523.9L1664.4 523.6L1664.6 521.8L1665.0 522.0L1665.7 523.2L1666.4 522.1L1667.0 522.2L1667.6 521.4L1667.7 522.9L1668.3 521.9L1669.0 523.0L1669.1 522.5L1669.7 521.4L1670.3 522.2L1670.6 522.1L1671.0 523.7L1671.6 523.3L1672.1 522.4L1674.3 524.7L1675.1 524.6L1675.5 524.0L1675.6 525.3L1676.2 525.0L1676.3 524.4L1676.8 526.7L1676.9 524.7L1677.5 525.1L1677.6 526.3L1678.3 525.6L1678.8 526.3L1678.9 525.8L1679.6 526.5L1679.7 527.5L1680.1 527.6L1680.2 525.6L1680.9 527.3L1681.2 527.6L1681.6 527.1L1682.1 527.2L1682.2 526.6L1682.7 526.4L1682.9 527.8L1683.4 527.9L1683.5 527.4L1684.1 526.6L1684.2 527.6L1684.8 527.6L1684.9 527.1L1685.4 527.4L1685.5 526.8L1685.7 527.2L1686.1 526.9L1686.2 526.2L1686.8 526.8L1687.2 528.2L1687.5 526.9L1688.2 526.6L1688.7 526.9L1688.8 526.4L1689.4 526.1L1689.5 528.0L1690.1 527.1L1690.2 527.4L1690.8 526.5L1691.4 526.3L1691.5 526.8L1691.8 526.8L1692.0 527.7L1692.1 527.3L1692.7 528.2L1692.8 526.9L1693.3 528.2L1693.5 526.3L1694.0 526.5L1694.1 527.4L1694.7 528.3L1694.8 526.9L1695.3 527.8L1695.4 527.1L1696.0 528.0L1696.1 526.3L1696.7 528.1L1696.8 526.7L1697.3 526.7L1697.4 526.2L1698.0 526.7L1698.1 527.7L1698.6 526.6L1698.7 527.0L1699.3 526.5L1699.4 527.4L1700.0 528.0L1700.6 526.5L1700.8 528.1L1701.3 527.3L1701.4 526.2L1702.0 527.9L1702.6 526.2L1703.3 527.0L1703.4 527.7L1703.8 527.2L1703.9 527.8L1704.0 526.2L1704.6 526.4L1704.7 527.3L1705.3 527.0L1705.3 526.4L1705.9 526.9L1706.0 526.2L1706.6 525.4L1706.7 526.2L1706.9 525.3L1707.2 526.5L1707.3 525.9L1707.9 526.1L1708.0 526.3L1708.4 525.4L1708.6 525.8L1709.2 524.7L1709.9 526.5L1710.5 525.5L1711.2 526.2L1711.4 524.1L1711.9 525.2L1712.5 525.3L1713.2 523.7L1714.4 523.7L1714.5 525.0L1715.2 523.5L1715.8 525.1L1715.9 524.3L1717.4 524.8L1717.8 525.1L1718.5 525.2L1718.9 524.7L1719.1 525.6L1719.8 524.8L1720.5 526.0L1721.8 526.5L1722.0 525.5L1722.4 526.7L1723.1 527.3L1723.8 525.9L1724.4 526.6L1725.0 527.6L1725.1 525.8L1725.7 525.6L1726.5 527.1L1727.1 527.5L1727.6 526.6L1727.7 528.0L1728.0 526.3L1728.2 527.5L1728.4 526.1L1728.8 526.0L1729.0 526.2L1729.3 526.1L1729.5 527.0L1729.7 527.2L1729.9 526.3L1730.4 528.0L1730.5 526.8L1731.0 526.3L1731.6 526.4L1731.7 527.6L1732.2 528.0L1732.4 526.3L1732.5 526.0L1732.7 527.7L1733.0 526.5L1733.3 528.1L1733.7 527.1L1733.9 527.4L1734.1 526.7L1734.3 527.7L1734.4 527.0L1735.0 526.7L1735.6 527.9L1735.7 526.2L1736.1 527.6L1736.3 526.1L1736.7 527.4L1737.0 526.8L1737.1 527.8L1737.3 526.0L1737.6 527.1L1737.8 526.8L1738.4 528.0L1739.0 526.4L1739.6 526.4L1740.1 526.8L1740.3 526.3L1740.7 526.2L1740.9 527.4L1741.6 526.4L1741.8 527.9L1742.3 526.1L1742.4 526.9L1742.9 526.0L1743.1 527.5L1743.5 527.5L1743.6 526.1L1744.2 527.3L1744.6 526.0L1745.2 526.4L1745.6 527.2L1745.8 525.5L1746.1 526.6L1746.3 526.0L1746.9 526.1L1747.5 526.5L1747.6 525.0L1747.6 526.4L1748.0 525.1L1748.2 525.9L1748.6 525.8L1748.9 524.1L1749.2 525.4L1749.5 525.3L1749.7 523.6L1750.3 522.5L1750.7 523.9L1750.9 521.5L1751.4 522.6L1751.5 520.8L1752.0 521.2L1752.2 519.4L1752.6 518.7L1752.8 519.2L1753.1 517.2L1753.5 516.7L1753.7 517.5L1754.8 514.2L1755.2 510.8L1756.0 509.9L1756.5 507.7L1756.7 505.7L1757.1 505.4L1757.7 503.0L1758.2 501.8L1758.8 499.7L1759.4 498.5L1759.7 500.1L1759.9 498.4L1760.5 499.5L1761.1 498.0L1761.2 499.0L1761.6 498.7L1762.2 500.4L1762.8 501.3L1763.3 504.0L1763.9 504.6L1764.3 507.2L1765.0 508.4L1766.2 514.1L1766.7 514.6L1767.3 516.0L1767.9 519.1L1768.8 520.8L1769.0 520.2L1770.1 522.2L1770.3 522.0L1770.7 522.4L1771.3 524.1L1771.8 524.4L1772.4 525.2L1773.0 525.1L1773.3 524.6L1773.5 526.2L1774.8 526.4L1775.8 527.5L1776.9 527.2L1777.5 526.5L1777.9 526.4L1778.6 527.9L1779.2 526.7L1779.7 526.8L1780.3 526.2L1780.9 528.1L1781.4 526.0L1782.4 528.1L1782.6 526.6L1783.1 527.4L1783.9 526.6L1784.8 526.4L1785.4 528.0L1786.0 527.9L1786.5 528.2L1786.9 526.3L1787.1 527.7L1787.7 526.9L1788.2 527.7L1788.8 526.9L1789.4 528.4L1789.9 526.3L1790.5 527.9L1791.1 528.2L1791.5 527.4L1792.2 528.5L1792.8 526.8L1793.0 527.7L1793.3 528.0L1793.9 527.2L1794.5 527.9L1796.0 527.2L1800.5 527.9L1802.0 527.1L1803.5 527.8L1805.1 527.7L1806.6 527.0L1808.1 527.8L1809.6 527.1L1811.1 528.5L1812.6 527.6L1814.1 528.1L1815.6 527.7L1817.1 527.6L1818.6 527.0L1820.2 526.9L1821.7 528.6L1823.2 527.7L1826.2 527.7L1827.7 528.4L1829.2 527.1L1830.7 527.0L1832.2 528.4L1833.8 527.6L1836.8 528.4L1839.8 528.5L1841.3 526.7L1844.3 528.4L1845.8 528.4L1847.4 526.9L1850.4 527.2L1851.9 526.9L1853.4 527.4L1854.9 528.4L1856.4 527.8L1857.9 527.6L1859.4 526.8L1860.9 527.5L1862.5 528.8L1865.5 527.6L1867.0 527.7L1868.5 528.4" stroke="#00ff00"/>
<path d="M169.0 701.5L170.5 700.2L172.0 701.3L173.5 700.6L175.0 701.0L176.6 700.4L178.1 700.6L181.1 700.7L182.6 699.9L184.1 700.3L185.6 701.1L187.1 699.9L188.6 700.2L190.1 701.4L191.7 700.4L193.2 700.5L194.7 700.3L196.2 701.6L197.7 700.0L199.2 701.2L200.7 701.7L202.2 700.2L203.7 700.7L205.3 701.5L208.3 700.6L209.8 699.9L211.3 700.7L212.8 700.6L214.3 701.3L215.8 700.4L217.3 700.7L220.4 701.5L221.9 700.5L223.4 700.6L224.9 701.0L226.4 701.8L227.9 700.1L229.4 701.8L232.4 700.5L234.0 701.1L237.0 699.8L238.5 701.3L240.0 700.5L241.5 700.8L243.0 700.7L244.5 701.6L246.0 701.2L247.6 699.6L249.1 700.8L250.6 700.5L252.1 700.5L253.6 701.3L255.1 700.3L256.6 700.4L258.1 701.3L259.6 700.3L262.7 700.4L264.2 701.0L265.7 700.6L267.2 700.7L270.2 698.9L271.7 700.2L273.2 699.8L274.7 700.1L276.3 699.9L277.8 698.2L279.3 698.1L280.8 697.3L282.3 698.4L283.1 696.5L283.3 696.4L283.5 697.7L283.8 697.2L283.8 696.0L284.0 697.3L284.3 697.2L284.8 695.5L285.0 696.7L285.3 695.9L285.5 697.0L285.8 696.4L286.0 696.3L286.2 694.5L286.7 694.8L286.8 693.6L287.0 695.6L287.2 693.7L288.0 692.7L288.2 693.6L288.9 690.5L289.2 690.6L289.4 691.2L289.9 690.1L289.9 688.5L290.4 686.3L290.7 686.2L291.4 681.4L291.9 676.6L293.4 637.8L297.5 268.5L297.8 264.2L298.3 278.4L302.0 627.0L302.9 662.8L303.9 679.0L304.4 683.3L304.7 684.0L304.9 687.0L305.0 686.0L305.1 688.0L305.4 687.4L305.9 690.8L306.4 689.9L306.6 691.8L306.9 691.4L307.1 692.5L307.4 691.9L307.8 694.0L308.0 693.6L308.1 694.3L308.3 693.3L308.6 695.2L308.8 693.9L309.1 695.9L309.5 696.3L309.6 695.5L309.8 695.2L310.1 695.5L310.3 696.6L310.5 696.2L310.8 697.3L311.0 695.6L311.3 697.5L311.5 697.0L311.8 697.0L312.0 696.2L314.0 698.8L315.5 699.1L317.0 698.1L318.6 699.9L320.1 698.2L321.6 699.6L323.1 700.6L324.6 699.3L326.1 700.7L327.6 700.1L329.1 698.8L330.6 699.5L332.2 699.8L333.7 699.3L335.2 700.3L336.7 699.0L336.9 700.4L337.5 698.7L337.7 699.8L338.0 698.8L338.3 700.3L338.8 699.5L339.1 698.5L339.3 699.5L339.6 698.6L339.7 699.8L339.9 698.6L340.1 699.6L340.4 699.0L340.6 699.0L340.9 699.6L341.2 698.5L341.4 700.1L341.7 698.7L342.0 699.8L342.2 699.8L342.8 697.9L343.0 699.6L343.3 697.8L343.6 698.5L343.8 698.5L344.1 697.5L344.2 698.2L344.4 697.4L344.6 698.1L345.4 696.7L345.7 696.9L345.9 696.0L346.2 695.8L346.5 696.8L346.7 695.4L347.0 695.6L347.3 693.0L347.5 694.1L347.8 692.0L348.1 691.4L348.8 685.7L348.8 686.3L350.4 670.0L352.3 645.7L352.5 645.0L352.8 645.3L353.1 643.9L354.7 663.0L354.8 662.9L354.9 666.3L356.3 679.7L356.5 680.0L358.1 689.2L358.4 689.9L358.6 690.0L358.9 689.8L359.4 691.6L359.9 691.6L360.2 690.9L360.7 692.7L361.0 691.2L361.3 692.8L361.8 691.8L362.1 693.7L362.3 693.2L362.6 692.2L362.9 693.8L363.1 694.1L363.4 694.2L363.6 693.9L363.9 694.1L364.4 693.5L364.7 694.4L365.0 694.4L365.2 694.7L365.4 693.5L365.5 695.0L365.8 694.1L366.0 695.1L366.3 693.3L366.6 695.2L366.8 694.9L366.9 693.7L367.1 695.1L367.4 693.8L367.6 693.8L367.9 694.4L368.1 693.9L368.4 694.6L369.9 695.7L371.4 695.4L371.8 695.5L372.1 694.8L372.3 695.7L372.6 695.8L372.9 695.5L372.9 696.1L373.7 694.3L373.9 695.5L374.2 695.9L374.5 694.9L375.0 696.0L375.2 695.9L375.5 694.1L375.8 695.2L376.0 694.2L376.3 695.9L376.6 695.0L376.8 695.4L377.5 694.5L377.9 695.8L378.7 694.0L378.9 694.4L379.0 695.3L379.2 694.7L379.7 695.3L380.0 693.7L380.3 694.8L380.5 693.2L380.5 694.9L380.8 693.3L381.1 693.3L381.3 694.5L381.9 692.2L382.0 693.4L382.1 692.5L382.4 692.6L382.6 690.8L382.9 690.2L383.2 690.2L383.4 688.1L383.5 688.8L383.7 686.0L384.0 685.9L384.2 682.8L384.5 681.7L385.0 676.5L385.3 675.8L386.6 662.3L387.4 657.5L387.7 658.4L387.9 658.7L388.2 657.9L390.6 680.9L391.1 683.6L391.1 685.2L391.4 684.9L391.6 688.2L392.4 690.9L392.7 692.8L393.2 693.8L393.5 692.8L393.7 693.9L394.0 693.9L394.1 695.7L394.3 695.8L394.5 694.5L394.8 695.7L395.1 695.9L395.3 694.9L395.9 696.7L396.1 696.6L396.4 696.0L396.7 697.1L396.9 696.2L397.1 696.8L397.2 696.6L397.5 697.9L397.7 697.3L398.0 697.7L398.5 696.9L398.6 698.2L398.8 697.7L399.0 697.7L399.3 696.9L399.6 696.7L400.1 698.2L400.6 696.8L401.2 698.5L401.4 697.0L401.6 698.3L401.7 697.1L401.9 697.4L402.2 696.9L402.7 697.7L403.0 699.0L403.2 699.0L403.3 697.3L404.7 699.2L406.2 697.7L409.2 698.5L410.7 697.9L413.7 698.7L415.2 698.7L416.7 700.1L418.3 698.6L419.8 698.6L421.3 700.2L422.8 699.2L424.3 700.2L425.8 699.8L427.3 700.1L428.8 699.2L430.3 698.9L431.9 700.2L433.4 699.6L437.9 700.4L439.4 699.4L440.9 699.6L442.4 700.9L443.9 700.0L445.5 699.5L447.0 700.3L448.5 699.5L450.0 700.7L451.5 699.1L453.0 700.8L456.0 699.8L457.5 701.1L459.0 699.6L460.6 699.6L462.1 699.2L463.6 700.2L465.1 700.6L465.8 700.4L466.1 699.8L466.5 700.7L466.6 699.2L467.4 701.0L467.7 700.3L468.1 700.6L468.3 699.7L468.6 700.9L469.2 699.6L469.5 699.7L469.6 700.6L469.8 699.5L470.1 699.2L470.4 700.6L470.7 699.9L471.0 699.8L471.3 700.6L471.6 698.9L471.9 699.3L472.2 698.7L472.8 700.3L473.7 699.2L474.0 699.5L474.2 698.8L474.3 700.0L474.9 699.8L475.2 698.2L475.7 699.4L475.8 698.8L476.1 699.5L476.7 698.8L477.0 698.7L477.2 698.2L477.3 698.5L477.6 696.5L477.9 697.3L478.5 696.0L478.8 694.1L479.1 694.5L479.4 694.0L480.3 688.8L480.7 688.6L481.3 685.5L481.6 682.8L481.7 682.6L481.9 680.3L482.2 680.1L482.8 674.9L483.1 674.9L483.7 671.9L484.3 673.0L484.6 674.2L484.7 673.0L484.9 675.3L485.2 675.2L486.4 683.3L486.7 684.3L487.0 687.3L487.3 687.6L487.8 691.1L488.2 691.3L488.5 694.0L488.8 693.3L489.3 695.4L489.4 694.9L489.7 696.8L490.0 697.5L490.6 697.6L490.9 698.3L491.2 697.7L491.5 699.4L491.8 699.8L492.1 699.6L492.3 700.0L492.4 698.7L492.7 700.2L493.0 698.3L493.3 699.3L493.6 698.6L493.9 699.9L494.2 700.0L495.2 699.1L495.3 699.6L495.8 699.2L496.1 700.4L496.7 699.8L496.8 699.3L497.0 700.4L497.3 699.4L497.6 699.5L498.2 700.6L498.3 701.2L498.5 700.7L498.8 701.1L499.1 701.1L499.4 700.7L499.7 700.7L499.8 699.3L500.0 699.6L500.3 699.2L500.6 701.1L501.2 700.6L501.3 699.8L501.5 700.0L501.8 699.6L502.1 700.7L502.9 701.5L504.4 700.0L505.9 699.5L508.9 700.3L510.4 701.5L511.9 701.3L514.9 699.8L518.0 699.9L519.5 701.3L521.0 700.7L522.5 701.8L525.5 701.4L527.0 700.7L528.5 701.5L530.0 700.0L531.6 699.9L533.1 700.9L534.6 700.8L536.1 700.2L537.6 700.3L539.1 699.8L540.6 701.7L542.1 701.3L543.6 701.8L545.2 701.9L546.7 700.7L548.2 701.4L549.7 700.6L551.2 701.6L552.7 701.6L554.2 700.1L555.7 699.8L557.2 700.3L558.8 701.1L560.3 700.7L561.8 699.9L563.3 701.7L564.8 701.6L567.8 700.0L569.3 701.8L572.3 700.1L576.9 701.9L578.4 701.0L579.9 701.3L581.4 700.4L582.9 700.5L584.4 701.9L585.9 700.8L587.5 700.2L589.0 701.3L590.5 700.2L592.0 700.4L593.5 701.0L598.0 701.5L601.1 700.1L602.6 701.6L604.1 700.1L605.6 701.0L607.1 700.8L608.6 701.4L610.1 701.5L611.6 700.4L611.9 701.3L612.3 701.4L612.9 700.2L613.1 701.9L613.6 700.0L613.9 700.4L614.2 702.0L614.5 700.3L614.8 701.6L615.2 701.6L615.5 701.2L615.8 701.4L616.2 700.0L616.4 701.9L616.8 701.5L617.1 699.8L617.4 699.8L617.7 700.2L617.7 701.7L618.0 700.2L618.7 701.7L619.0 701.0L619.2 701.6L619.3 700.2L620.0 699.6L620.3 701.2L620.6 699.7L620.7 701.6L621.3 699.8L621.6 701.1L621.9 699.6L622.2 700.3L622.2 699.4L622.5 700.8L623.2 700.9L623.5 698.7L623.7 700.5L623.8 699.8L624.1 700.2L624.5 699.2L624.8 699.2L625.1 698.8L625.2 699.1L625.4 697.3L625.8 696.8L626.1 697.4L626.4 696.2L626.7 695.8L626.7 694.9L627.0 695.8L627.4 693.4L627.7 694.3L628.3 690.8L628.6 690.9L629.0 688.9L629.3 688.4L629.6 686.8L629.8 688.3L630.6 685.0L630.9 686.3L631.3 686.7L631.5 685.4L632.2 687.2L632.5 689.2L632.8 688.7L633.1 691.6L633.5 692.2L633.8 691.5L634.3 693.2L634.4 694.9L635.7 697.1L636.3 699.2L636.7 699.2L637.3 700.2L637.9 700.2L638.3 698.9L638.8 700.9L638.9 700.0L639.2 701.1L639.6 699.6L639.9 701.4L640.2 700.4L640.3 701.0L640.5 700.0L641.5 700.3L641.8 699.8L642.1 701.8L642.4 701.1L642.8 701.8L643.1 701.4L643.3 701.6L643.4 702.0L644.0 700.4L644.4 700.4L644.7 700.8L644.9 699.9L645.3 701.8L645.7 701.9L646.0 700.6L646.6 701.9L647.3 701.1L647.6 700.2L647.9 701.8L647.9 700.7L648.2 701.4L648.5 700.8L648.9 701.2L649.2 702.2L649.4 700.4L649.5 701.2L649.8 701.5L650.1 701.2L650.9 702.1L652.4 701.0L653.9 702.2L655.4 701.7L656.9 702.3L658.5 700.4L661.5 700.9L663.0 702.2L664.5 700.3L666.0 700.8L667.5 701.9L669.0 702.5L670.5 700.7L673.6 701.8L678.1 702.0L679.6 700.9L681.1 700.9L682.6 700.4L684.1 701.9L685.6 700.8L687.2 701.0L688.7 702.5L690.2 701.8L691.7 701.7L693.2 701.9L694.7 701.7L696.2 702.0L697.7 701.1L699.2 700.6L702.3 700.5L703.8 701.3L705.3 700.8L706.8 700.7L709.8 702.6L711.3 702.0L712.8 701.1L714.4 702.2L715.9 700.9L717.4 700.7L720.4 701.4L721.9 702.1L723.4 701.5L724.9 702.2L726.4 700.8L727.9 702.6L729.5 701.3L731.0 702.4L732.5 700.7L734.0 702.4L735.5 701.1L737.0 702.5L740.0 702.1L741.5 701.2L743.1 700.6L744.6 701.0L746.1 702.6L747.6 701.0L749.1 702.1L750.6 701.9L752.1 702.1L753.6 701.0L756.6 700.9L758.2 702.8L759.7 701.5L761.2 702.1L762.7 701.9L764.2 701.2L767.2 700.7L768.7 702.6L770.2 701.0L771.8 702.8L773.3 701.5L774.8 702.3L776.3 701.0L777.8 702.4L779.3 701.2L782.3 701.8L783.5 700.9L783.8 701.2L784.2 702.4L784.6 701.3L785.0 701.5L785.4 702.3L785.7 701.1L786.5 701.1L786.9 701.5L787.2 701.4L787.6 702.0L788.0 701.6L788.4 702.5L788.8 700.7L789.1 702.0L789.5 702.4L789.9 701.1L790.3 700.6L790.6 701.5L791.0 700.8L791.8 702.0L792.1 700.7L792.5 700.7L792.9 701.5L793.3 700.8L793.7 700.9L794.0 701.3L794.4 700.6L794.8 700.4L795.2 701.1L795.5 701.3L795.9 702.2L796.7 700.2L797.1 700.5L797.4 701.5L797.8 701.0L798.2 701.5L798.6 701.6L798.9 701.2L799.3 699.3L799.7 700.9L800.5 698.7L800.8 698.1L801.2 699.2L801.6 697.2L802.0 696.4L802.3 696.2L802.7 697.0L803.1 695.3L803.5 695.2L803.9 693.1L804.2 693.2L805.0 691.6L805.4 692.2L806.1 690.6L806.5 692.6L806.9 691.8L807.3 691.5L807.6 691.7L808.0 693.7L808.4 694.1L808.8 693.7L809.5 696.6L809.9 696.8L810.3 696.8L811.4 699.2L811.8 698.5L812.2 700.3L812.5 700.9L812.9 700.7L813.3 701.2L813.7 700.3L814.1 701.7L814.4 700.2L814.8 700.4L815.6 702.1L815.9 700.4L816.3 700.7L816.7 700.4L817.1 701.3L817.5 700.7L817.8 700.8L818.2 702.1L818.6 701.8L819.0 702.6L819.3 701.4L819.7 702.0L820.1 700.6L820.5 702.7L820.9 701.1L821.2 701.7L821.6 701.8L822.0 702.7L822.4 701.7L822.7 702.9L823.5 701.2L823.9 702.5L824.3 701.2L824.6 702.9L825.0 701.7L825.4 701.2L825.8 702.9L826.1 701.5L826.5 701.7L826.9 701.5L827.3 702.2L827.7 700.8L828.0 701.6L828.4 701.2L828.8 702.6L829.2 700.8L830.7 702.2L832.2 701.4L836.7 702.5L838.2 701.2L839.7 701.4L841.2 701.2L842.8 703.0L844.3 701.3L845.8 701.2L847.3 702.1L848.8 702.2L850.3 702.9L851.8 701.1L853.3 701.5L854.8 701.3L856.4 702.3L859.4 701.9L860.9 702.9L862.4 702.5L865.4 703.1L866.9 701.6L868.4 703.1L869.9 701.9L871.5 701.1L873.0 703.0L874.5 701.2L876.0 701.0L877.5 701.6L879.0 701.6L880.5 703.1L882.0 702.9L883.5 701.9L885.1 702.2L886.6 702.8L888.1 702.7L891.1 702.1L892.6 701.2L894.1 701.5L895.6 702.4L897.1 702.2L898.7 702.6L901.7 702.9L903.2 701.2L904.7 700.9L906.2 702.7L909.2 701.0L910.7 702.0L912.2 701.0L913.8 700.8L914.9 701.7L915.3 700.3L915.6 701.8L916.4 701.1L917.2 701.7L917.5 699.9L917.9 700.9L918.3 701.3L919.0 701.1L919.4 700.0L919.8 701.7L920.2 701.2L920.6 699.9L920.9 700.2L921.3 701.3L921.7 699.6L922.1 699.9L922.4 701.0L922.8 700.7L923.2 699.1L923.6 700.1L924.0 699.1L924.3 699.5L924.7 699.5L925.1 697.8L925.5 697.7L926.2 696.9L926.6 695.8L927.4 695.0L928.1 691.7L928.5 691.1L928.9 689.7L930.0 679.5L931.9 649.3L935.7 564.9L936.4 560.9L936.8 561.9L937.6 570.9L942.1 669.7L944.0 689.7L944.3 689.8L945.1 695.0L945.5 696.2L945.9 695.3L946.6 697.4L947.0 697.5L947.7 698.5L948.5 698.1L949.3 698.7L949.6 698.7L950.0 700.0L950.4 700.3L950.8 699.5L951.1 700.8L951.5 700.7L951.9 700.0L952.3 700.4L952.7 699.8L953.0 701.5L953.8 699.7L954.2 700.0L954.5 701.2L954.9 700.6L955.3 701.4L955.7 700.4L956.1 701.6L956.4 701.7L956.8 700.2L957.2 701.3L957.6 700.5L957.9 701.6L958.7 701.9L959.1 700.7L960.6 700.5L962.1 701.8L963.6 701.6L965.1 700.7L966.6 700.8L968.1 701.7L969.7 700.7L971.2 701.8L972.7 700.9L974.2 700.9L975.3 701.4L975.7 701.8L976.1 700.3L976.5 701.8L976.8 700.7L977.2 700.8L977.6 701.5L978.0 701.6L978.3 701.4L978.7 702.0L979.1 700.4L979.5 700.6L979.9 701.4L980.2 700.4L980.6 700.1L981.0 700.2L981.4 701.4L981.7 701.4L982.1 701.1L982.5 701.6L982.9 701.2L983.2 700.0L983.6 699.9L984.0 700.7L984.4 699.2L984.8 700.3L985.1 699.0L985.5 698.7L985.9 699.6L986.3 698.6L986.6 700.1L987.0 699.6L988.2 696.6L988.5 696.8L989.3 694.6L989.7 694.1L990.4 690.6L991.9 677.6L996.8 600.0L997.2 598.4L997.6 598.0L998.0 598.0L998.4 599.7L999.5 614.3L1002.9 671.2L1003.6 680.1L1004.0 680.9L1004.8 686.4L1005.2 686.1L1005.5 686.6L1006.7 686.6L1007.0 686.1L1007.8 681.5L1008.2 680.8L1009.7 670.4L1010.1 669.8L1010.4 665.9L1010.8 664.5L1012.0 663.7L1012.3 663.1L1012.7 665.1L1013.5 667.0L1014.6 675.2L1015.0 676.5L1015.7 683.4L1016.1 683.9L1016.5 687.7L1018.0 693.9L1018.4 696.2L1018.8 695.4L1019.1 697.9L1019.5 697.4L1019.9 697.7L1020.3 699.5L1020.6 699.0L1021.0 699.0L1021.8 700.9L1022.1 701.2L1022.5 700.7L1022.9 699.6L1023.3 701.4L1023.7 701.1L1024.0 701.8L1024.4 702.0L1024.8 700.7L1025.2 701.9L1025.5 701.9L1025.9 700.8L1027.4 701.2L1027.8 700.7L1028.2 700.9L1028.6 702.5L1028.9 701.4L1029.7 702.5L1030.1 702.3L1030.5 701.2L1030.8 702.7L1031.2 702.5L1031.6 702.9L1032.0 702.3L1032.7 702.6L1033.1 701.3L1033.5 702.3L1033.9 701.7L1034.2 702.7L1034.6 701.2L1036.1 702.1L1037.6 701.7L1039.1 702.8L1040.7 701.8L1042.2 702.9L1045.2 703.1L1046.7 701.5L1048.2 703.3L1049.7 702.8L1052.7 702.7L1054.3 701.4L1055.8 703.2L1057.3 702.5L1060.3 702.1L1061.8 703.0L1064.8 703.2L1066.3 701.8L1067.8 702.1L1070.9 701.6L1072.4 702.1L1073.9 701.4L1075.4 703.1L1076.9 701.9L1078.4 701.5L1079.9 701.5L1081.4 703.0L1083.0 701.8L1084.5 702.4L1086.0 702.3L1087.5 703.2L1089.0 703.5L1090.5 702.1L1093.5 703.4L1095.0 702.4L1096.5 703.4L1098.1 703.0L1099.6 702.1L1100.7 703.3L1101.1 702.6L1101.2 701.6L1101.6 702.6L1102.1 703.2L1102.6 702.5L1103.5 702.3L1104.0 703.3L1104.5 701.8L1105.0 702.1L1105.4 702.1L1105.6 703.4L1106.4 701.6L1106.8 703.3L1107.1 701.4L1107.3 702.6L1107.8 702.2L1108.3 702.9L1108.6 702.2L1108.7 701.5L1109.7 703.1L1110.1 703.0L1110.6 702.0L1111.1 701.7L1111.7 703.0L1112.0 701.7L1112.5 703.1L1113.0 703.4L1113.2 702.1L1113.4 702.0L1114.4 703.2L1114.7 701.5L1114.9 701.8L1115.3 701.8L1115.4 702.7L1115.8 701.4L1115.9 702.2L1116.2 702.1L1116.3 702.5L1116.4 701.3L1116.8 703.1L1117.2 702.1L1117.3 702.6L1117.7 701.3L1117.8 702.8L1118.2 702.0L1118.3 702.4L1118.6 702.6L1118.7 701.5L1119.1 702.6L1119.2 701.0L1119.6 700.5L1119.7 701.5L1120.2 702.3L1120.5 702.2L1120.6 701.2L1120.7 702.1L1121.1 700.2L1121.6 701.4L1121.9 700.3L1122.0 700.6L1122.2 699.8L1122.4 699.7L1122.5 699.9L1123.0 699.6L1123.5 698.2L1123.7 698.7L1123.9 699.4L1124.4 697.8L1124.8 698.0L1124.9 697.1L1125.3 697.6L1125.3 698.2L1125.7 696.2L1125.8 696.9L1126.3 696.8L1126.8 696.2L1127.1 694.8L1127.2 696.0L1127.6 695.9L1127.7 693.9L1128.1 695.6L1128.3 693.6L1128.6 693.5L1128.7 695.0L1129.0 694.7L1129.1 693.5L1129.8 695.5L1130.0 694.2L1130.1 695.2L1130.5 694.2L1130.9 694.4L1131.3 695.8L1131.5 694.9L1131.9 695.4L1132.0 695.2L1132.8 697.0L1132.9 696.4L1133.4 697.4L1133.7 698.9L1133.8 697.9L1134.2 699.2L1134.3 698.2L1134.7 697.8L1134.8 698.7L1135.2 697.9L1135.6 697.9L1135.8 700.0L1136.2 698.7L1136.6 698.8L1136.7 698.6L1137.1 699.3L1137.3 698.1L1137.5 699.6L1138.0 697.5L1138.1 699.3L1138.5 698.8L1138.6 697.9L1138.9 698.8L1139.0 697.6L1139.4 697.4L1139.5 697.0L1140.0 697.3L1140.4 697.1L1140.5 697.5L1140.8 695.4L1141.3 696.4L1141.8 695.4L1141.9 695.6L1142.2 694.5L1142.3 695.8L1143.3 693.5L1143.4 695.2L1143.7 695.0L1143.8 693.3L1144.2 694.4L1144.6 694.6L1144.7 694.3L1144.9 695.6L1145.1 694.5L1145.6 696.2L1145.6 695.6L1146.0 695.7L1146.1 695.4L1146.6 696.9L1147.0 696.2L1147.5 697.1L1147.9 698.7L1148.0 698.0L1148.4 697.9L1148.9 699.5L1149.0 698.2L1149.3 699.7L1149.4 698.3L1149.8 699.0L1149.9 698.8L1150.3 700.8L1150.4 699.4L1150.7 699.8L1150.8 699.5L1151.3 701.3L1151.8 702.0L1152.2 701.3L1152.3 702.2L1152.4 700.4L1152.6 702.3L1152.7 701.3L1153.1 700.9L1153.2 702.1L1153.6 702.5L1153.7 701.4L1154.0 700.9L1154.0 702.6L1154.5 702.1L1154.6 702.9L1155.1 701.0L1155.5 701.2L1155.6 701.0L1155.9 702.5L1156.4 701.2L1156.9 701.4L1157.0 702.4L1157.4 702.5L1157.4 703.2L1157.9 701.9L1158.4 703.3L1158.5 702.1L1159.8 701.7L1160.0 703.3L1160.3 703.4L1160.8 702.8L1161.2 701.6L1161.7 701.6L1162.2 702.0L1162.6 702.9L1163.0 701.4L1163.1 702.4L1163.6 702.8L1164.1 701.3L1165.0 703.0L1165.9 702.3L1166.0 703.2L1166.9 702.1L1167.4 702.2L1167.6 703.4L1167.8 703.2L1168.3 703.3L1169.1 701.6L1170.2 702.9L1170.6 701.3L1170.7 703.1L1171.1 703.1L1171.6 702.5L1172.1 701.4L1173.6 703.1L1175.1 702.3L1176.6 702.8L1178.1 702.6L1179.6 702.9L1181.1 702.2L1182.7 703.4L1185.7 703.3L1188.7 702.0L1190.2 702.1L1191.7 701.8L1193.2 703.2L1196.3 702.8L1197.8 702.9L1199.3 703.2L1202.3 701.5L1203.4 702.4L1203.8 701.3L1203.8 702.1L1204.3 701.1L1204.7 702.6L1205.3 701.2L1205.5 702.6L1205.9 700.8L1206.3 702.6L1206.8 702.2L1206.8 700.8L1207.2 702.1L1207.6 701.7L1208.0 702.3L1208.4 701.2L1208.8 702.3L1209.2 700.4L1209.7 701.8L1209.8 700.3L1210.1 700.7L1210.5 700.2L1210.9 701.8L1211.3 700.8L1211.4 701.4L1211.7 700.3L1212.2 701.3L1212.6 701.0L1212.9 699.7L1213.0 700.5L1213.4 700.9L1213.8 699.6L1214.2 700.5L1214.4 699.6L1214.6 699.7L1215.1 700.7L1215.9 700.4L1216.3 698.8L1217.1 698.9L1217.6 697.6L1218.0 697.8L1218.4 695.9L1218.8 696.0L1219.2 692.9L1219.6 692.7L1220.0 689.3L1220.4 688.3L1220.5 686.6L1220.9 685.7L1223.4 653.8L1226.7 586.3L1227.5 575.0L1227.9 572.0L1228.0 573.3L1228.4 571.0L1228.8 572.1L1229.6 579.7L1234.2 667.3L1236.2 688.2L1236.7 689.5L1237.5 694.8L1237.9 696.0L1238.3 695.4L1238.6 697.0L1239.2 697.5L1239.6 697.5L1240.0 697.9L1240.1 698.7L1240.4 699.0L1240.8 698.8L1241.6 699.9L1241.6 700.4L1242.1 700.2L1242.5 699.4L1242.9 701.2L1243.1 700.1L1243.3 701.5L1243.7 701.6L1244.1 699.9L1244.6 701.0L1244.6 701.8L1245.0 700.6L1245.4 701.1L1246.1 700.1L1246.2 700.5L1246.6 700.4L1247.5 701.6L1247.6 701.5L1247.9 702.4L1248.7 701.2L1249.1 702.5L1249.5 701.9L1250.0 701.7L1250.4 702.5L1250.8 701.4L1251.2 702.0L1251.6 701.4L1252.0 702.9L1252.1 701.3L1252.5 702.9L1252.9 700.9L1253.3 700.8L1253.7 702.1L1255.2 701.4L1256.7 702.1L1257.8 701.3L1258.2 702.9L1258.4 702.6L1258.9 702.6L1259.7 703.3L1260.1 702.6L1260.6 702.7L1261.2 701.2L1261.8 701.3L1262.3 702.2L1262.7 703.4L1262.9 701.9L1263.5 702.5L1264.0 701.3L1264.6 703.3L1265.2 702.6L1265.7 703.1L1266.3 701.3L1266.9 701.8L1267.3 701.7L1267.4 703.2L1268.0 701.6L1268.6 703.4L1268.8 701.9L1269.1 703.3L1269.7 702.5L1270.3 702.1L1270.8 703.5L1271.4 702.3L1271.8 702.9L1272.0 701.5L1272.5 703.2L1273.1 703.5L1273.3 701.6L1273.7 703.0L1274.2 702.0L1274.8 701.7L1275.9 702.8L1276.5 703.5L1277.1 703.5L1277.6 702.7L1277.8 702.8L1278.2 701.7L1278.8 702.9L1279.9 702.0L1280.5 703.2L1281.0 701.5L1282.2 701.3L1282.4 702.3L1282.7 702.7L1283.3 701.2L1283.9 701.8L1285.0 701.7L1285.4 701.2L1285.6 701.5L1286.1 700.1L1286.7 700.0L1286.9 700.8L1287.3 700.2L1287.8 701.2L1288.4 699.9L1289.0 700.9L1289.5 699.5L1289.9 699.1L1290.1 699.9L1291.2 699.4L1291.4 700.3L1291.8 699.1L1292.4 700.1L1292.9 700.6L1293.5 699.8L1294.1 700.1L1294.4 701.1L1294.6 700.5L1295.2 699.8L1296.0 699.8L1296.3 700.5L1296.9 700.2L1297.5 701.6L1298.6 701.2L1299.0 701.7L1299.2 702.7L1299.7 701.3L1300.3 701.3L1300.5 701.6L1300.9 701.7L1301.4 703.1L1303.5 701.4L1304.3 703.3L1304.8 702.9L1305.0 701.8L1305.4 702.8L1306.0 701.6L1306.5 702.6L1307.7 701.8L1308.0 703.2L1308.8 702.7L1309.4 701.9L1309.6 703.0L1309.9 702.5L1310.5 703.0L1311.1 701.8L1311.6 703.6L1312.2 701.6L1312.8 702.5L1313.9 701.8L1314.1 703.1L1314.5 703.8L1315.0 702.4L1315.6 702.2L1316.2 703.1L1316.7 702.1L1317.1 702.5L1317.3 703.1L1318.6 701.8L1319.6 703.8L1320.1 703.7L1320.7 701.9L1321.3 702.8L1321.6 702.7L1321.8 702.1L1322.4 703.1L1323.0 702.7L1323.1 703.4L1323.5 702.3L1324.1 703.7L1324.7 703.4L1325.8 702.0L1326.2 702.7L1327.7 701.9L1329.2 703.2L1330.7 703.2L1332.2 702.9L1333.7 703.8L1335.2 701.7L1336.7 703.2L1338.3 703.4L1339.8 701.9L1341.3 702.3L1342.8 701.7L1344.3 702.9L1345.8 703.2L1347.3 702.3L1348.8 703.1L1350.3 702.3L1351.9 703.1L1353.4 702.1L1354.9 703.6L1357.9 701.4L1358.3 701.5L1358.7 702.9L1359.1 703.2L1359.4 702.7L1359.6 701.6L1360.0 703.2L1360.4 702.8L1360.8 701.5L1361.2 702.7L1361.6 701.2L1362.0 701.2L1362.4 701.9L1362.5 703.0L1362.9 703.3L1363.3 701.8L1363.7 703.0L1363.9 702.7L1364.1 702.9L1364.5 702.3L1365.0 703.1L1365.4 702.3L1365.4 703.0L1366.2 701.2L1366.6 701.9L1367.0 701.8L1367.0 701.4L1368.3 701.8L1368.5 700.9L1369.1 701.4L1369.9 701.0L1370.0 701.6L1370.4 700.4L1370.8 701.0L1371.2 700.2L1371.5 701.2L1371.6 701.0L1372.0 700.9L1372.9 699.0L1373.0 700.3L1373.3 699.1L1374.5 696.5L1374.9 696.1L1375.3 695.0L1376.0 692.0L1376.2 690.2L1377.8 680.7L1379.0 668.8L1379.1 669.7L1381.2 648.9L1382.0 643.8L1382.1 645.5L1382.4 643.5L1382.8 643.3L1383.6 645.2L1383.7 644.2L1384.5 649.0L1387.8 680.9L1388.6 685.7L1389.1 689.7L1389.5 690.1L1390.3 695.2L1390.7 696.4L1391.1 696.4L1391.5 698.5L1392.0 699.3L1392.6 698.7L1392.8 700.1L1393.6 699.4L1394.0 701.4L1394.2 700.5L1394.5 700.5L1394.9 701.2L1395.7 700.2L1395.7 701.0L1396.1 701.1L1396.5 700.4L1397.2 702.2L1397.4 701.2L1397.8 702.1L1398.2 702.0L1398.7 700.8L1399.0 702.3L1399.4 702.2L1399.9 701.5L1400.2 701.4L1400.3 702.8L1400.7 703.0L1401.1 701.5L1401.5 702.3L1401.7 702.3L1402.1 701.2L1402.6 702.5L1403.2 702.3L1403.2 701.4L1404.0 702.1L1404.3 702.0L1404.4 703.2L1404.7 701.5L1404.8 703.4L1404.9 701.8L1405.3 703.2L1405.5 701.8L1405.7 702.6L1406.0 702.2L1406.1 701.4L1406.2 703.1L1406.5 703.1L1406.6 701.9L1406.9 703.1L1407.2 702.4L1407.3 703.5L1407.7 701.5L1408.3 702.2L1408.9 701.9L1409.4 703.2L1410.0 703.3L1410.8 702.3L1411.1 703.2L1411.7 701.7L1412.3 702.1L1412.8 703.2L1413.4 702.5L1413.8 703.7L1414.0 701.7L1414.5 702.6L1415.1 702.0L1415.3 701.6L1415.7 701.8L1416.2 701.8L1416.8 702.4L1417.9 702.7L1418.3 702.2L1418.5 703.1L1419.1 702.7L1419.6 703.7L1419.8 702.0L1420.2 702.7L1421.3 702.4L1421.9 703.4L1422.5 702.0L1422.9 703.5L1423.0 702.3L1423.6 702.2L1424.2 702.8L1425.3 701.6L1425.9 703.4L1426.4 702.0L1427.0 701.4L1427.4 702.5L1428.1 701.7L1428.7 701.5L1428.9 702.6L1429.3 701.4L1429.8 701.4L1430.4 702.4L1431.0 700.9L1431.5 700.8L1431.9 700.2L1432.1 701.2L1432.7 701.0L1433.8 699.7L1434.4 700.8L1434.9 699.9L1435.5 700.7L1436.1 699.7L1436.4 700.5L1436.6 698.9L1437.2 699.4L1437.8 701.2L1438.0 700.6L1438.3 700.7L1438.9 700.5L1439.5 700.6L1440.0 700.2L1440.6 700.4L1441.2 701.7L1441.7 700.9L1442.3 702.0L1442.5 700.9L1442.9 702.1L1443.4 701.3L1444.0 702.1L1444.6 701.8L1445.1 702.5L1445.5 701.6L1445.7 702.4L1446.3 702.8L1446.8 701.8L1447.4 703.0L1448.0 702.8L1449.1 703.4L1449.7 703.0L1450.0 702.2L1450.8 703.6L1451.4 703.0L1451.6 703.4L1451.9 702.6L1452.5 702.8L1453.1 703.9L1454.2 703.3L1454.6 702.1L1454.8 703.2L1455.3 701.9L1455.9 703.9L1456.1 704.0L1457.0 702.4L1457.6 703.7L1458.2 702.3L1458.7 703.7L1459.1 703.0L1459.3 701.9L1459.9 703.8L1460.4 702.8L1460.6 703.7L1461.6 703.1L1462.1 703.8L1462.7 702.3L1463.3 703.9L1463.8 702.0L1464.4 702.6L1465.0 702.1L1465.2 702.1L1465.5 703.3L1466.1 702.2L1467.2 702.6L1467.8 702.5L1468.2 703.9L1468.9 703.8L1469.5 704.1L1469.7 702.9L1470.1 703.7L1471.2 702.6L1472.7 704.0L1475.7 703.6L1477.2 702.5L1478.7 702.2L1480.3 704.0L1481.8 703.2L1483.3 703.3L1484.8 703.9L1486.3 702.3L1487.8 703.5L1489.3 703.0L1490.8 703.7L1493.9 702.4L1495.4 704.1L1496.9 702.6L1498.4 703.6L1499.9 703.8L1501.4 702.6L1502.9 703.5L1504.4 702.9L1505.9 702.5L1507.5 702.5L1509.0 704.1L1510.5 702.8L1512.0 703.1L1513.5 703.1L1515.0 702.1L1516.5 703.7L1518.0 703.7L1519.5 704.0L1521.0 702.8L1522.6 702.5L1524.1 702.8L1525.6 703.7L1527.1 703.5L1528.6 702.9L1530.1 703.2L1531.6 702.4L1533.1 704.1L1534.6 703.1L1536.2 703.2L1537.7 703.8L1539.2 702.5L1540.7 703.6L1542.2 702.8L1543.7 703.8L1545.2 702.3L1546.7 702.7L1548.2 703.5L1551.3 702.9L1552.8 703.3L1554.3 702.5L1555.8 703.0L1557.3 702.1L1558.8 703.8L1560.3 702.6L1561.8 703.9L1563.3 703.3L1566.4 703.5L1567.9 702.4L1569.4 703.8L1570.9 702.7L1572.4 704.0L1575.4 703.6L1576.9 703.9L1578.5 703.0L1581.5 704.2L1583.0 702.5L1584.5 702.3L1586.0 703.0L1587.5 703.2L1589.0 702.4L1590.5 702.6L1592.0 704.0L1593.6 702.9L1595.1 702.4L1596.6 702.5L1598.1 703.3L1599.6 702.5L1601.1 703.1L1602.6 703.2L1604.1 703.0L1605.6 703.2L1607.2 703.9L1607.9 702.1L1608.7 704.1L1609.4 702.5L1610.2 702.1L1610.9 703.7L1611.7 703.3L1612.4 703.2L1613.2 702.5L1614.0 703.7L1614.7 702.7L1615.5 703.6L1616.2 702.5L1617.0 703.3L1617.7 703.4L1618.5 702.8L1619.2 703.1L1620.0 702.1L1620.8 703.4L1621.5 703.5L1622.3 702.3L1623.0 703.2L1623.8 703.6L1624.5 702.2L1625.3 703.8L1626.0 703.9L1626.8 702.0L1627.5 702.5L1628.3 702.1L1629.1 702.4L1629.8 702.1L1630.6 702.9L1631.3 702.4L1632.8 702.8L1633.6 702.6L1634.3 703.5L1635.1 703.3L1635.9 701.9L1636.6 702.1L1637.4 701.5L1638.1 702.2L1638.9 701.6L1639.6 702.8L1640.4 702.8L1641.1 703.1L1641.9 701.2L1642.7 700.6L1643.4 702.0L1644.2 701.0L1644.9 701.8L1645.7 700.3L1646.4 699.8L1647.2 698.9L1647.9 700.5L1648.7 699.2L1650.2 698.4L1651.0 698.8L1651.7 698.7L1653.2 697.0L1654.0 697.4L1654.7 698.5L1655.5 697.5L1656.3 698.1L1657.8 697.9L1658.5 698.3L1659.3 697.6L1660.8 699.1L1661.5 697.3L1662.3 697.9L1663.0 698.9L1663.8 699.0L1664.6 696.8L1665.3 698.0L1666.1 698.0L1666.8 698.4L1668.3 696.8L1669.1 697.3L1669.8 698.4L1670.6 698.7L1671.4 697.8L1672.1 699.1L1673.6 699.8L1674.4 698.8L1675.1 700.1L1675.5 700.0L1675.9 700.7L1676.2 700.3L1676.6 700.0L1676.8 701.3L1677.4 700.6L1677.5 701.8L1678.2 701.0L1678.8 701.7L1678.9 702.3L1679.5 700.9L1679.7 702.3L1680.1 701.0L1680.4 703.0L1680.8 701.0L1681.2 702.6L1681.5 701.9L1681.9 701.6L1682.1 702.1L1682.7 702.4L1683.4 701.7L1684.1 702.6L1684.2 702.1L1684.8 703.7L1685.0 702.4L1685.4 702.5L1685.7 702.1L1686.1 703.7L1686.5 702.3L1686.7 703.1L1687.2 703.5L1687.4 702.5L1688.0 703.4L1688.1 702.3L1689.4 701.8L1689.5 702.7L1690.1 703.7L1690.2 702.2L1690.7 702.7L1691.0 703.4L1691.4 702.4L1691.8 702.1L1692.0 702.9L1692.5 702.7L1692.7 703.8L1693.3 703.8L1693.4 702.3L1694.0 703.0L1694.7 702.7L1694.8 701.9L1695.3 702.8L1695.5 703.8L1696.0 702.4L1696.3 703.1L1696.7 703.3L1697.0 701.9L1697.3 703.8L1697.8 702.0L1698.5 703.3L1698.6 701.8L1699.3 702.5L1700.0 702.0L1700.1 702.7L1700.6 701.7L1700.8 702.0L1701.3 702.1L1701.6 701.7L1702.3 701.9L1702.6 702.6L1703.1 701.7L1703.3 703.2L1703.9 701.8L1704.6 701.7L1705.3 702.9L1705.3 701.1L1705.9 702.5L1706.1 701.0L1706.6 702.8L1706.9 701.5L1707.6 702.3L1707.9 700.5L1708.4 700.2L1708.6 701.5L1709.1 701.1L1709.2 701.4L1709.9 700.1L1710.5 700.3L1710.6 699.6L1711.2 699.9L1711.4 699.5L1711.9 700.0L1712.1 699.3L1712.5 699.1L1712.9 699.8L1713.2 698.5L1713.7 699.9L1713.8 699.2L1714.5 698.3L1715.2 699.1L1715.8 699.2L1715.9 699.6L1716.5 699.0L1717.2 699.2L1717.4 700.3L1717.8 699.1L1718.5 700.9L1718.9 700.8L1719.1 701.1L1719.8 701.3L1720.5 700.0L1721.1 701.5L1721.8 701.3L1722.0 700.5L1722.4 702.4L1723.1 701.9L1723.5 702.3L1724.2 700.9L1724.4 702.7L1724.8 701.3L1725.1 702.3L1725.4 701.4L1726.0 702.7L1726.4 701.4L1726.5 702.7L1726.6 701.5L1727.3 702.7L1727.7 702.9L1727.9 701.5L1728.4 703.5L1728.5 702.3L1729.1 702.3L1729.7 703.1L1730.3 702.4L1730.4 702.8L1730.9 702.7L1731.0 702.0L1731.5 703.7L1731.7 703.7L1732.1 703.3L1732.4 703.8L1732.5 702.6L1732.7 703.4L1733.0 702.1L1733.3 703.2L1733.7 703.2L1733.9 703.7L1734.1 703.4L1734.3 703.5L1734.5 702.2L1735.0 703.3L1735.1 702.6L1735.6 702.2L1735.7 703.3L1736.9 703.4L1737.1 701.9L1737.5 701.8L1737.6 702.7L1738.1 701.9L1738.3 702.2L1738.6 701.7L1739.0 703.0L1739.3 701.9L1739.6 703.3L1739.9 702.1L1740.1 703.2L1740.3 702.0L1740.5 701.9L1740.9 702.2L1741.2 701.3L1741.6 702.2L1742.3 701.2L1742.4 703.1L1742.9 701.9L1743.0 701.1L1743.1 703.2L1743.6 701.6L1744.2 701.0L1744.6 702.4L1745.4 701.2L1745.6 701.2L1746.0 702.5L1746.1 701.2L1746.2 702.5L1746.6 702.1L1746.9 700.3L1747.2 701.7L1747.6 699.7L1747.6 701.1L1747.8 701.2L1748.4 700.2L1748.9 700.3L1749.0 698.7L1749.2 699.4L1749.5 698.4L1749.6 698.6L1750.2 697.3L1750.2 698.4L1750.7 697.4L1750.8 697.6L1751.4 696.1L1751.5 696.6L1752.6 692.7L1752.8 693.5L1753.5 689.9L1753.7 689.8L1753.8 690.2L1754.2 689.7L1754.8 686.9L1755.0 686.8L1755.7 683.6L1756.3 681.6L1756.7 680.7L1756.9 679.2L1757.5 676.8L1758.2 676.2L1758.7 673.9L1759.7 673.6L1759.9 671.8L1760.5 671.5L1761.1 672.6L1761.2 672.4L1761.7 674.3L1762.3 675.5L1762.8 675.4L1762.9 676.6L1764.1 678.9L1764.3 681.1L1764.7 680.9L1765.3 682.8L1765.8 685.2L1765.9 684.8L1766.5 687.8L1767.1 689.6L1767.3 691.2L1767.7 691.4L1768.3 693.9L1768.8 694.9L1768.9 694.8L1769.6 695.4L1770.3 697.3L1770.8 697.8L1771.4 699.2L1771.8 699.4L1772.0 699.2L1773.2 701.7L1773.3 700.1L1773.8 700.7L1774.4 700.3L1775.0 700.6L1776.2 702.7L1776.3 702.4L1776.8 703.1L1777.4 703.0L1778.0 702.5L1778.6 701.3L1779.2 702.2L1779.4 702.0L1779.8 702.8L1780.4 701.6L1780.9 702.7L1781.0 702.4L1781.6 702.7L1782.2 702.5L1782.4 701.9L1782.8 703.3L1783.4 703.4L1783.9 703.0L1784.1 702.0L1784.7 703.1L1785.4 703.9L1785.9 703.5L1786.5 701.9L1786.9 703.8L1787.7 702.5L1788.3 703.9L1788.4 703.7L1788.9 703.9L1789.5 702.5L1789.9 703.2L1790.1 702.8L1790.7 702.6L1791.3 703.6L1791.9 702.7L1792.5 703.2L1793.0 704.0L1793.1 703.2L1793.7 704.0L1794.3 703.3L1794.5 704.2L1794.9 702.1L1795.5 703.0L1796.0 703.3L1796.1 703.6L1796.7 704.2L1797.5 703.4L1799.0 703.1L1800.5 703.5L1802.0 703.3L1805.1 704.2L1806.6 702.2L1808.1 702.9L1809.6 704.1L1811.1 702.3L1812.6 703.9L1814.1 702.3L1815.6 703.6L1817.1 704.0L1818.6 702.8L1820.2 703.1L1821.7 702.7L1823.2 703.8L1824.7 703.4L1826.2 703.6L1827.7 703.0L1830.7 704.4L1832.2 704.0L1833.8 704.4L1835.3 702.8L1836.8 703.4L1839.8 703.1L1841.3 704.1L1842.8 702.7L1844.3 703.5L1847.4 704.4L1848.9 702.4L1851.9 703.4L1853.4 704.4L1854.9 702.7L1856.4 704.2L1857.9 703.2L1859.4 703.5L1860.9 704.4L1862.5 702.5L1864.0 703.1L1865.5 702.7L1867.0 702.6L1868.5 703.0" stroke="#ff69b4"/>
<path d="M169.0 875.4L170.5 875.1L172.0 874.1L173.5 875.6L176.6 874.1L178.1 875.6L179.6 875.6L181.1 874.3L182.6 875.9L184.1 875.6L185.6 874.3L187.1 873.8L188.6 875.7L190.1 875.6L191.7 874.0L193.2 875.5L194.7 875.5L196.2 875.2L199.2 876.0L200.7 874.5L202.2 875.6L203.7 875.8L205.3 874.5L206.8 875.3L208.3 875.3L209.8 875.7L212.8 874.4L214.3 874.3L215.8 875.0L217.3 874.1L218.9 875.7L220.4 875.7L221.9 874.3L223.4 875.3L224.9 875.2L226.4 874.0L227.9 875.5L229.4 875.4L230.9 874.4L232.4 873.9L234.0 874.3L235.5 875.4L237.0 874.7L238.5 875.5L240.0 874.0L241.5 873.9L243.0 874.4L244.5 875.5L246.0 874.0L247.6 873.7L249.1 875.2L250.6 873.7L252.1 875.0L253.6 873.7L255.1 874.0L256.6 874.9L258.1 875.3L259.6 874.2L261.2 874.3L262.7 873.3L264.2 873.9L265.7 873.6L267.2 874.7L268.7 874.4L270.2 874.5L271.7 873.8L273.2 874.0L274.7 872.5L276.3 872.8L279.3 871.9L280.8 872.5L281.9 870.9L282.2 871.0L282.3 870.9L282.5 872.1L283.2 870.6L283.5 871.6L283.8 871.5L283.8 870.4L284.3 871.0L284.6 869.5L285.1 868.7L285.4 870.0L285.6 868.4L286.2 869.7L286.7 867.8L286.9 868.6L287.5 866.1L287.7 866.9L288.3 866.6L288.5 864.7L288.8 864.6L289.1 863.4L289.6 862.2L289.9 862.3L290.4 859.8L290.6 857.3L290.9 856.4L291.2 852.2L291.4 851.9L292.2 837.6L293.3 801.0L297.5 441.5L297.8 439.1L298.0 442.6L302.5 811.1L303.6 842.6L304.4 853.0L304.9 856.3L305.2 859.3L305.5 860.0L305.7 862.3L306.0 863.0L306.2 862.7L306.5 862.8L306.5 864.0L306.8 864.8L307.0 864.5L307.3 864.6L307.6 866.1L307.8 865.5L308.0 867.3L308.4 866.8L308.6 867.5L308.9 867.4L309.4 867.9L309.5 869.4L309.7 868.7L309.9 869.6L310.2 869.0L310.5 870.2L310.7 870.0L311.0 870.3L311.3 869.9L311.5 870.5L311.8 869.8L312.1 871.7L312.5 871.0L312.6 871.3L312.9 870.2L313.1 870.9L313.4 870.7L313.6 872.2L314.0 870.5L317.0 873.4L320.1 873.6L321.6 872.9L323.1 872.9L324.6 874.1L326.1 873.3L327.6 874.3L329.1 873.6L330.6 874.5L332.2 874.2L335.2 875.1L336.7 873.7L337.0 875.1L337.3 872.9L337.6 874.8L337.9 872.9L338.2 874.1L338.5 873.7L338.8 874.5L339.1 873.5L339.4 873.3L339.7 874.5L340.0 874.0L340.3 874.4L340.9 872.8L341.2 874.4L341.5 873.1L341.8 873.7L342.1 872.6L342.7 874.0L343.0 874.1L343.6 873.3L343.9 873.9L344.2 873.7L344.5 872.6L344.8 873.3L345.4 873.5L345.7 872.3L346.4 872.3L346.7 871.6L347.3 872.6L347.9 870.8L348.2 871.7L348.5 869.9L348.8 870.8L349.4 868.0L350.0 867.0L350.3 865.1L350.6 865.0L352.1 851.0L353.9 828.9L354.2 827.2L354.5 827.0L354.8 827.8L355.1 826.2L355.4 828.9L355.7 829.2L356.0 830.3L356.3 834.3L356.6 835.1L359.0 851.7L360.3 856.9L360.6 856.8L360.9 858.8L361.2 859.1L362.1 859.4L362.4 859.3L362.7 861.2L363.3 859.9L363.6 862.0L363.9 862.1L364.2 860.4L364.5 862.0L364.8 861.1L365.4 862.7L365.7 861.7L366.1 862.6L366.3 861.6L366.5 862.7L366.6 862.2L366.9 863.6L367.2 861.9L367.3 863.1L367.5 861.7L367.7 862.3L367.8 862.0L368.0 862.1L368.1 863.0L368.4 862.3L368.7 863.7L368.8 862.2L369.2 864.0L369.3 862.4L369.5 862.7L369.6 863.9L369.9 863.3L370.2 864.4L370.3 863.1L370.5 863.3L370.7 864.5L370.8 863.2L371.1 864.5L371.4 863.0L371.8 864.7L372.0 863.0L372.2 864.6L372.6 864.5L372.9 863.1L373.3 865.1L373.7 863.2L374.1 864.8L374.5 864.7L374.8 863.9L375.2 864.7L375.6 864.2L376.0 864.9L376.3 863.4L376.7 865.4L377.1 864.2L377.5 865.1L377.8 864.4L378.2 865.2L378.6 864.0L379.0 864.5L379.4 863.3L379.7 864.3L380.1 863.3L380.5 864.8L381.2 863.5L381.6 864.4L382.4 863.6L382.8 861.2L383.1 862.0L383.9 860.3L384.3 858.2L384.6 859.2L385.0 857.1L385.8 855.7L386.5 851.6L386.9 852.4L387.7 848.5L388.0 848.0L388.4 849.5L389.2 847.9L389.6 848.3L389.9 850.7L390.7 852.2L391.1 852.5L391.8 856.8L392.2 856.0L392.6 858.2L393.0 858.5L393.3 861.7L393.7 860.7L394.1 863.4L394.8 864.4L395.2 863.5L395.6 865.4L396.0 865.4L396.4 865.8L396.7 865.4L397.5 867.4L397.9 866.1L398.2 868.0L398.6 867.1L399.0 866.9L399.4 867.0L400.1 868.1L400.5 868.1L400.9 868.9L401.3 868.1L401.6 868.2L402.0 869.4L402.4 867.7L402.8 867.4L403.2 868.1L403.5 868.2L403.9 867.8L404.3 868.5L404.7 867.8L405.0 869.8L405.4 868.9L405.8 869.8L406.2 869.5L406.9 869.7L407.3 868.7L407.7 869.7L408.1 868.6L408.4 869.5L408.8 869.6L409.2 870.0L409.6 868.8L410.0 869.2L410.3 870.3L410.7 870.3L411.1 870.7L411.5 868.9L412.2 869.2L413.7 869.1L415.2 870.6L416.7 870.8L418.3 870.7L419.8 871.2L421.3 870.7L422.8 870.9L424.3 871.8L425.8 871.4L430.3 871.4L431.9 872.0L433.4 871.7L434.9 870.9L436.4 871.6L439.4 871.8L440.9 872.2L442.4 871.8L445.5 872.1L447.0 872.0L448.5 873.4L450.0 871.6L451.5 871.5L453.0 873.1L454.5 872.4L457.5 873.0L462.1 871.8L463.6 873.8L464.0 873.9L464.3 872.5L464.7 872.9L465.5 872.0L465.8 873.8L466.2 873.7L466.6 872.4L467.0 872.5L467.4 873.4L467.7 873.7L468.1 872.9L468.9 872.4L469.2 873.7L470.0 873.8L470.4 872.1L471.1 874.1L472.3 872.2L472.6 872.0L473.0 873.4L473.4 872.0L473.8 873.6L474.5 872.8L474.9 873.7L475.3 873.7L476.0 871.8L476.4 872.8L477.2 871.9L477.6 873.2L477.9 872.7L478.3 871.2L479.1 871.2L479.4 871.4L479.8 870.5L480.2 870.4L480.6 870.7L481.0 868.8L481.3 869.4L481.7 867.9L482.1 868.5L482.5 867.7L482.8 865.5L483.2 865.2L483.6 863.2L484.4 862.6L485.5 859.2L485.9 859.1L486.2 860.0L486.6 859.2L487.8 862.5L488.1 862.4L488.5 862.7L488.9 864.4L489.3 864.7L489.6 866.7L490.0 866.2L491.1 870.1L491.5 869.1L493.4 871.7L493.8 872.7L494.2 872.2L494.5 872.5L494.9 872.5L495.3 873.5L495.7 873.9L496.1 872.9L496.4 874.1L496.8 872.7L497.2 874.4L497.6 873.4L497.9 873.8L498.3 873.2L499.1 872.8L499.5 874.5L499.8 873.3L500.2 874.1L500.6 873.6L501.0 873.8L501.3 873.1L501.7 873.1L502.5 874.2L502.9 874.0L503.2 872.8L503.6 874.4L504.4 873.0L504.7 873.4L505.1 873.3L505.5 874.7L506.3 873.6L506.6 873.5L507.8 873.7L508.1 874.7L508.9 874.6L510.4 875.0L511.9 874.6L513.4 873.4L514.9 873.3L518.0 873.8L521.0 875.1L525.5 873.9L527.0 875.6L528.5 875.1L531.6 873.6L533.1 875.7L534.6 874.1L536.1 875.4L537.6 873.8L539.1 875.0L540.6 874.4L542.1 875.6L543.6 874.3L545.2 873.9L546.7 874.1L548.2 875.5L549.7 875.9L551.2 875.1L552.7 875.2L554.2 874.4L555.7 874.4L557.2 874.0L558.8 876.0L560.3 873.9L561.8 875.2L564.8 874.3L566.3 874.8L567.8 875.9L569.3 874.5L570.8 874.3L572.3 875.3L573.9 875.4L575.4 875.1L576.9 874.4L578.4 875.9L579.9 874.3L582.9 874.6L584.4 875.2L585.9 875.1L590.5 876.1L593.5 874.2L595.0 875.9L596.5 874.2L598.0 874.8L599.5 874.5L601.4 875.9L601.9 874.4L602.4 874.8L602.6 876.0L603.3 874.4L603.8 875.7L604.1 875.9L604.3 875.1L604.7 874.5L605.2 875.6L605.7 874.5L606.1 874.5L606.6 875.0L607.1 874.4L608.0 875.4L608.5 875.4L608.6 875.0L609.0 875.9L609.5 874.3L609.9 874.9L610.1 876.2L610.4 876.1L610.9 876.2L611.3 875.8L611.6 875.3L611.8 875.9L612.3 875.4L612.8 874.4L613.1 874.7L613.2 874.3L613.7 876.1L614.2 874.8L615.1 875.3L615.6 874.3L616.2 875.8L617.0 876.0L617.7 874.3L618.0 875.7L618.4 875.5L618.9 874.7L619.2 874.7L619.4 874.2L619.8 875.6L620.3 874.8L620.7 875.5L620.8 874.4L621.3 874.3L622.7 875.0L623.1 873.7L623.6 874.2L623.7 873.5L624.1 874.3L625.0 873.1L625.5 872.1L626.0 873.2L626.4 872.6L626.9 870.7L627.4 870.7L627.9 872.1L628.2 869.9L628.3 871.5L628.8 870.7L630.2 870.3L630.7 870.8L631.2 869.9L631.3 871.8L631.6 870.2L632.1 870.6L632.6 872.1L633.1 872.7L633.5 872.8L634.0 873.6L634.3 871.9L634.5 871.9L634.9 872.7L635.4 874.2L635.8 873.0L635.9 873.9L636.4 874.7L636.8 873.5L637.8 875.5L638.3 875.3L638.7 874.6L638.8 874.8L639.2 874.5L639.7 876.0L640.3 875.5L640.6 874.7L641.1 875.7L641.6 875.2L641.8 875.9L642.0 875.0L642.5 876.1L643.3 875.2L643.9 876.0L644.4 875.4L644.9 876.4L645.3 874.3L645.8 876.3L646.3 875.9L646.4 875.4L646.7 876.2L647.2 874.7L647.7 875.1L647.9 875.9L648.2 876.2L648.6 875.2L649.1 876.6L649.6 874.5L650.1 874.7L650.5 874.6L650.9 875.7L651.0 875.1L651.5 875.0L651.9 875.4L652.4 874.6L652.9 876.4L653.4 876.3L654.3 875.1L654.8 875.8L655.2 875.2L655.4 876.6L655.7 876.6L656.2 876.1L656.7 876.3L656.9 874.6L657.6 875.2L658.1 874.8L658.5 875.4L660.0 876.7L661.5 876.4L663.0 876.6L664.5 875.0L666.0 875.0L667.5 874.6L669.0 875.2L670.5 874.7L672.1 875.7L673.6 875.3L675.1 876.1L676.6 875.8L678.1 875.9L679.6 875.3L681.1 876.3L684.1 876.2L685.6 875.7L687.2 875.7L690.2 874.8L691.7 875.7L693.2 876.1L694.7 875.1L696.2 876.6L700.8 876.5L703.8 875.1L705.3 875.3L706.8 876.4L708.3 876.9L709.8 875.0L711.3 874.8L712.8 875.6L714.4 875.6L715.9 876.1L717.4 875.1L718.9 876.7L720.4 875.6L721.9 876.8L723.4 875.6L726.4 875.2L727.9 877.0L729.5 876.2L731.0 876.7L732.5 875.0L734.0 876.1L737.0 877.0L738.5 877.0L740.0 875.1L741.5 875.7L743.1 877.1L744.6 876.1L746.1 877.0L747.6 875.5L749.1 875.0L750.6 877.0L752.1 875.5L753.6 876.2L755.1 875.7L756.6 876.2L758.2 877.0L761.2 876.9L762.7 875.5L764.2 876.8L765.7 875.0L768.7 877.1L770.2 875.6L773.3 876.3L774.8 875.5L776.3 876.6L777.8 876.4L778.9 875.2L779.3 877.0L779.4 875.2L779.9 876.5L780.8 875.3L781.3 875.2L781.8 877.2L782.2 876.8L782.3 876.0L782.7 876.8L783.2 877.1L783.7 877.0L784.1 875.6L784.6 876.1L785.1 877.2L785.5 876.5L786.0 876.9L786.5 875.9L786.9 876.2L787.0 876.9L787.4 875.4L787.9 876.9L788.4 875.0L788.8 876.2L789.3 876.3L789.8 875.3L789.9 877.0L790.3 875.9L790.7 875.4L791.4 876.3L792.1 875.0L792.6 875.2L792.9 876.5L793.1 875.2L793.6 875.5L794.0 876.7L794.5 876.8L795.0 875.3L795.5 874.9L795.9 876.5L796.9 875.6L797.3 874.7L797.4 875.6L797.8 875.2L798.8 876.6L798.9 874.9L799.2 874.6L799.7 875.8L800.2 874.4L801.1 876.0L801.6 874.3L802.0 874.1L802.1 874.4L802.5 873.5L803.5 874.2L804.0 873.1L804.4 873.8L805.0 872.0L805.4 873.0L805.8 872.4L806.3 873.3L806.5 871.5L806.8 872.8L807.3 872.6L808.0 871.5L808.2 872.6L808.7 873.1L809.1 872.7L809.5 872.9L809.6 873.4L810.6 873.3L811.0 873.1L811.5 873.9L812.0 874.4L812.5 875.6L812.9 874.9L813.9 874.5L814.1 875.5L814.3 875.8L814.8 874.9L815.6 876.7L815.8 875.4L816.2 876.7L816.7 875.7L817.2 876.7L817.6 875.3L818.1 875.6L818.6 877.1L819.1 875.1L820.0 876.0L820.1 876.6L820.5 876.4L820.9 877.1L821.4 876.5L821.6 875.0L821.9 875.2L822.4 875.1L822.8 876.0L823.1 875.1L823.3 876.2L823.8 876.5L824.3 875.5L824.6 877.0L824.7 876.0L825.2 877.2L825.7 875.9L826.1 876.5L826.6 876.3L827.1 875.7L827.6 876.8L827.7 875.1L828.0 875.7L828.5 875.8L829.0 877.1L829.4 875.2L830.7 876.9L830.9 875.4L831.3 876.9L831.8 876.0L832.2 876.3L832.3 876.1L832.7 876.1L833.2 877.4L834.2 877.2L834.6 876.8L835.1 876.7L835.2 875.5L835.6 875.3L836.7 877.0L838.2 876.7L839.7 876.6L841.2 875.9L842.8 875.8L844.3 877.2L847.3 875.3L848.8 876.0L850.3 876.0L851.8 875.4L853.3 877.4L856.4 877.0L857.9 875.3L859.4 876.2L860.9 875.5L862.4 876.8L866.9 877.0L868.4 875.5L869.9 875.3L871.5 875.4L873.0 877.1L874.5 877.1L877.5 875.7L879.0 877.1L880.5 875.5L882.0 875.9L883.5 875.2L885.1 877.4L886.6 876.1L888.1 876.9L889.6 876.9L891.1 876.4L892.6 877.3L894.1 876.8L895.6 877.1L897.1 877.2L898.7 875.2L900.2 876.6L901.7 875.4L904.7 875.6L906.2 876.9L907.7 874.8L909.2 875.6L910.4 874.8L910.7 876.7L910.8 875.6L911.3 876.0L911.7 875.6L912.2 876.1L912.2 875.1L912.6 875.2L913.1 875.9L913.5 875.8L913.8 876.2L914.0 874.9L914.4 876.0L915.3 875.3L915.3 874.9L915.8 875.2L916.3 874.1L916.7 874.1L916.8 874.5L917.6 873.8L918.1 875.2L918.5 874.9L919.0 873.9L919.4 874.9L919.8 875.1L920.3 873.6L920.8 874.2L921.7 873.0L922.1 874.4L922.6 873.7L922.8 874.3L923.0 872.5L923.5 872.5L924.0 872.7L924.3 871.4L924.4 871.9L924.9 872.0L925.3 871.4L925.8 871.7L925.8 870.8L927.1 868.4L927.6 865.2L928.0 865.5L929.8 852.2L932.1 819.2L936.4 732.5L937.6 726.5L937.9 726.8L938.9 735.7L944.3 842.0L946.2 859.9L946.6 862.8L947.0 863.7L947.1 865.3L947.5 865.7L948.4 869.3L948.5 868.5L948.9 869.6L949.3 869.8L949.8 871.9L950.0 870.9L950.7 871.7L951.1 872.9L951.5 873.1L951.6 872.9L952.1 873.9L952.5 873.8L953.0 872.8L953.0 873.6L953.4 872.9L953.9 873.2L954.5 873.0L955.2 875.0L955.7 874.6L956.1 873.4L956.6 874.6L957.0 874.6L957.5 873.5L957.9 874.8L958.4 874.9L958.9 873.9L959.1 875.4L959.3 874.3L959.8 875.1L960.2 875.0L960.6 874.6L960.7 876.0L961.1 874.8L962.0 875.2L962.1 875.8L962.5 876.2L963.4 875.3L963.6 875.7L963.8 875.5L964.3 876.2L964.7 876.3L966.6 874.7L968.1 875.5L971.2 874.7L971.6 875.9L972.1 874.7L972.5 875.8L972.7 875.3L973.0 875.1L973.4 875.7L973.9 875.7L974.3 876.3L974.8 875.9L975.2 874.7L975.7 875.5L976.1 875.1L976.6 876.1L977.5 874.0L978.0 874.9L978.4 875.0L978.9 874.0L979.3 874.8L979.8 873.8L980.2 874.0L980.7 874.5L981.1 874.2L981.7 874.5L982.9 873.1L983.4 875.0L983.9 873.4L984.3 873.3L984.8 873.1L985.2 873.7L985.7 872.9L986.1 873.2L986.3 871.3L986.6 871.3L987.5 870.6L987.8 870.1L987.9 871.2L987.9 869.9L988.3 869.4L988.4 869.9L988.8 867.8L989.1 867.4L989.5 864.0L989.7 865.0L990.3 859.7L990.7 859.2L991.1 854.8L991.2 855.6L992.0 847.6L992.8 838.0L997.0 776.2L997.8 771.7L997.9 769.9L998.4 769.7L998.7 769.2L1000.3 782.3L1003.8 833.8L1004.1 834.8L1004.9 844.3L1005.2 844.5L1005.7 849.4L1006.1 849.0L1006.1 850.0L1006.6 851.7L1007.0 850.8L1007.4 850.9L1007.4 852.4L1007.8 849.7L1007.9 850.9L1008.2 849.0L1008.3 850.1L1008.6 848.5L1008.8 849.1L1008.9 847.0L1009.0 848.0L1009.9 843.2L1010.1 842.9L1010.3 843.7L1010.4 841.8L1010.6 842.2L1010.7 840.4L1011.1 840.6L1011.5 839.1L1011.5 840.1L1012.0 839.8L1012.4 840.0L1012.4 841.2L1012.8 841.7L1012.9 840.7L1013.5 843.3L1014.2 848.3L1014.4 847.9L1015.1 853.7L1015.3 853.7L1016.0 856.9L1016.5 861.1L1016.9 861.2L1017.4 863.1L1017.4 865.3L1017.8 865.3L1018.0 867.4L1018.2 866.4L1018.3 868.3L1018.6 869.5L1018.8 869.1L1019.0 869.9L1019.2 869.1L1019.7 871.7L1020.1 871.1L1020.6 872.9L1020.7 871.8L1021.1 872.6L1021.5 874.2L1021.5 873.7L1021.9 873.6L1022.3 875.1L1022.5 873.7L1022.8 875.2L1023.2 874.2L1023.6 874.8L1023.7 875.8L1024.0 875.1L1024.0 874.1L1024.2 875.0L1024.4 874.5L1024.8 875.5L1025.1 874.0L1025.2 875.1L1025.5 874.8L1025.7 875.4L1026.1 876.0L1026.5 875.3L1026.9 875.7L1027.1 874.9L1027.3 874.9L1027.7 875.5L1028.2 875.6L1028.6 875.0L1029.0 876.2L1030.1 875.2L1030.2 876.5L1031.1 876.8L1031.6 874.9L1031.9 876.2L1032.3 874.9L1032.7 876.7L1033.1 876.4L1033.1 875.6L1034.0 876.4L1034.4 875.3L1034.8 876.7L1035.6 876.3L1036.0 875.3L1036.1 875.5L1036.5 875.6L1036.9 875.1L1037.6 876.5L1039.1 876.4L1040.7 877.2L1042.2 876.5L1043.7 877.3L1045.2 876.3L1046.7 876.5L1048.2 876.0L1049.7 876.4L1051.2 877.5L1054.3 875.5L1055.8 876.2L1057.3 875.9L1058.8 876.9L1061.8 876.6L1063.3 877.6L1064.8 877.2L1066.3 875.7L1067.8 875.6L1069.4 877.1L1070.9 876.9L1072.4 877.0L1073.9 876.7L1075.4 875.7L1078.4 877.4L1079.9 876.9L1081.4 875.7L1083.0 875.9L1084.5 877.6L1087.5 876.0L1089.0 877.2L1090.5 877.6L1092.0 877.5L1093.5 877.0L1094.3 877.4L1094.8 875.8L1095.4 877.4L1096.0 876.3L1096.5 875.9L1097.1 877.5L1097.7 877.1L1098.1 875.6L1099.4 877.7L1099.6 876.9L1099.9 877.5L1100.5 875.8L1101.1 876.8L1101.6 875.9L1102.2 876.3L1102.6 875.9L1102.8 876.6L1103.3 875.6L1103.9 877.0L1104.1 876.9L1104.5 877.5L1105.0 877.2L1105.6 875.7L1106.2 877.4L1106.7 876.7L1107.1 877.5L1107.3 876.5L1107.9 875.6L1108.4 877.0L1108.6 875.8L1109.0 877.6L1109.4 876.6L1109.6 877.4L1110.1 876.1L1110.7 876.9L1111.3 875.9L1111.7 876.2L1111.8 876.9L1112.4 875.6L1113.0 876.7L1113.2 875.4L1113.5 877.3L1113.9 875.7L1114.1 876.8L1114.7 875.3L1115.2 876.9L1115.6 876.7L1115.8 875.0L1116.2 876.4L1116.8 875.8L1116.9 876.1L1117.3 875.7L1117.5 874.9L1117.7 876.0L1117.9 874.7L1118.5 876.1L1118.6 875.4L1119.0 875.1L1119.2 875.5L1119.8 874.4L1120.2 874.6L1120.3 873.3L1120.7 873.8L1120.9 873.0L1121.3 874.8L1121.9 873.6L1122.0 872.4L1122.2 873.8L1122.4 872.3L1122.6 873.3L1123.2 872.4L1123.6 872.3L1123.7 871.1L1124.1 872.0L1124.3 871.1L1124.9 871.2L1125.3 869.6L1125.4 869.8L1125.8 869.4L1126.0 868.6L1126.4 870.0L1126.8 868.9L1127.0 869.0L1127.1 869.6L1127.5 867.7L1128.1 868.9L1128.3 868.5L1128.7 868.4L1128.8 867.9L1129.2 867.9L1129.4 869.0L1129.8 868.4L1130.0 869.8L1130.5 870.2L1130.9 868.9L1131.1 869.6L1131.3 868.8L1131.5 869.5L1131.7 869.0L1132.2 871.3L1132.6 871.2L1132.8 870.4L1133.2 870.4L1133.4 872.0L1133.7 870.3L1133.9 872.1L1134.3 872.3L1134.5 870.6L1134.9 872.6L1135.4 871.5L1135.8 872.0L1136.0 871.8L1136.2 872.6L1136.6 872.6L1136.8 871.3L1137.1 870.5L1137.3 872.1L1137.9 871.6L1138.3 870.1L1138.5 870.0L1138.8 871.6L1139.0 870.3L1139.4 870.3L1139.6 871.2L1140.0 869.3L1140.2 870.1L1140.4 868.7L1140.7 869.9L1141.1 868.4L1141.3 869.6L1141.7 869.9L1141.9 869.5L1142.2 869.2L1142.4 869.5L1143.0 868.5L1143.4 869.2L1143.9 868.8L1144.1 869.0L1144.5 868.1L1144.9 868.6L1145.1 869.9L1145.3 869.8L1145.6 869.0L1145.8 870.7L1146.2 869.0L1146.8 870.1L1147.0 869.7L1147.3 872.0L1147.5 870.9L1147.9 871.3L1148.1 872.5L1148.5 872.2L1148.7 872.6L1149.0 872.5L1149.2 872.7L1149.4 874.0L1149.6 872.6L1149.8 873.3L1150.2 873.5L1150.4 872.9L1150.7 873.2L1151.3 875.0L1151.9 873.7L1152.1 875.7L1152.4 874.2L1152.6 875.9L1153.0 874.2L1153.2 875.6L1153.6 874.7L1154.1 876.2L1154.3 875.5L1154.9 875.6L1155.3 875.9L1155.5 875.5L1155.8 877.0L1156.0 875.4L1156.4 875.3L1156.6 876.2L1157.0 875.8L1157.2 876.7L1157.5 875.2L1157.7 876.6L1158.1 876.0L1158.3 877.2L1158.5 875.9L1158.7 876.2L1158.9 875.9L1159.2 876.4L1159.4 875.9L1159.8 876.8L1160.0 876.2L1160.4 876.9L1160.6 876.0L1161.5 876.9L1162.1 876.3L1162.3 875.6L1163.8 875.8L1164.3 876.9L1164.5 876.2L1164.9 877.4L1165.5 876.0L1167.2 875.8L1167.6 877.0L1168.3 876.0L1168.9 877.3L1169.4 876.4L1170.0 876.8L1170.6 876.9L1171.7 875.7L1172.1 876.3L1172.3 877.6L1172.8 876.3L1173.4 876.9L1173.6 875.7L1174.0 877.2L1174.5 877.4L1175.1 876.3L1175.7 876.3L1176.2 876.6L1176.8 876.0L1177.4 875.8L1178.1 877.0L1179.6 876.6L1181.1 877.6L1184.2 877.4L1185.7 877.5L1187.2 877.2L1188.7 875.4L1190.2 875.6L1191.7 877.4L1193.2 877.1L1194.7 876.5L1196.3 876.5L1197.8 876.0L1199.3 875.9L1200.0 875.2L1200.5 876.1L1201.0 875.1L1201.4 876.7L1201.9 876.0L1202.3 876.6L1202.4 875.4L1202.9 875.9L1203.3 875.2L1203.8 876.4L1204.3 875.0L1204.8 875.9L1205.2 875.6L1205.7 874.5L1206.2 875.4L1206.6 875.4L1206.8 876.0L1207.1 874.6L1207.6 874.5L1208.1 874.7L1208.3 875.7L1208.5 874.4L1209.0 875.2L1209.5 873.8L1209.8 873.8L1209.9 875.2L1210.9 873.6L1211.8 875.1L1212.3 873.7L1212.8 873.9L1212.9 873.6L1213.2 873.6L1213.7 872.3L1214.2 873.9L1214.7 872.3L1215.6 871.1L1215.9 872.3L1216.6 870.1L1217.0 869.6L1217.4 868.5L1218.0 865.5L1218.4 865.2L1218.9 861.6L1219.4 859.6L1220.8 847.4L1222.2 827.7L1223.6 801.9L1226.9 734.5L1227.9 725.5L1228.0 726.2L1228.4 725.3L1228.8 726.7L1229.5 731.2L1232.1 780.2L1235.0 835.7L1236.4 852.6L1237.3 860.3L1237.8 861.3L1238.6 865.8L1238.7 865.7L1239.2 868.9L1239.7 868.5L1240.1 871.0L1240.2 869.8L1240.6 870.3L1241.1 872.3L1241.6 872.7L1242.0 872.5L1242.5 873.3L1243.0 873.5L1243.1 874.4L1243.5 873.6L1243.9 873.9L1244.6 873.9L1244.9 874.6L1245.3 873.5L1246.1 875.5L1247.7 874.1L1248.7 876.0L1249.1 876.1L1249.6 874.6L1250.1 875.9L1250.5 876.1L1250.6 875.4L1251.0 876.3L1251.5 874.9L1252.4 876.2L1253.4 875.4L1253.7 876.6L1253.8 875.6L1254.3 875.7L1254.8 875.3L1255.3 876.4L1255.7 875.7L1256.2 876.4L1258.2 875.1L1259.7 877.3L1261.2 875.9L1262.7 876.5L1264.2 877.5L1265.7 875.9L1267.3 875.6L1268.8 876.0L1270.3 875.9L1271.8 877.5L1273.3 876.8L1274.8 875.7L1277.8 876.8L1279.3 876.1L1280.9 876.4L1282.4 877.7L1283.9 876.7L1285.4 876.3L1286.9 877.1L1288.4 876.1L1289.9 877.0L1291.4 877.3L1292.9 876.0L1294.4 877.1L1296.0 876.5L1297.5 877.5L1299.0 877.2L1300.5 877.9L1303.5 876.3L1305.0 876.3L1306.5 877.5L1308.0 877.7L1309.6 876.1L1311.1 876.8L1312.6 876.5L1314.1 877.0L1315.6 877.8L1317.1 877.2L1318.6 877.6L1320.1 877.6L1321.6 876.5L1323.1 877.3L1324.7 876.8L1329.2 877.4L1330.7 876.3L1332.2 877.8L1333.7 876.3L1335.2 876.6L1336.7 877.8L1338.3 878.1L1339.8 876.7L1341.3 878.0L1342.8 875.9L1344.3 877.9L1345.8 876.3L1347.3 875.9L1348.8 877.4L1350.3 876.1L1351.9 877.4L1353.4 875.7L1354.2 876.4L1354.7 875.8L1354.9 876.7L1355.2 876.4L1355.7 877.2L1356.2 876.7L1356.4 877.7L1356.7 877.4L1357.2 875.9L1357.7 877.5L1357.9 877.5L1358.2 876.7L1358.7 876.6L1359.1 875.8L1359.4 876.1L1359.6 875.9L1360.1 875.8L1360.6 876.7L1360.9 876.1L1361.1 877.0L1361.6 876.6L1362.1 877.1L1362.4 875.4L1362.6 877.1L1363.1 876.3L1363.6 876.5L1363.9 875.6L1364.1 876.6L1364.5 875.9L1365.0 876.6L1365.4 876.2L1365.5 875.2L1366.0 875.5L1366.5 876.4L1367.0 874.7L1367.0 876.1L1367.5 875.8L1368.0 876.1L1368.5 875.1L1369.0 875.3L1369.5 875.1L1369.9 875.5L1370.0 874.0L1370.4 874.7L1370.9 873.8L1371.4 874.2L1371.5 873.4L1372.4 872.3L1372.9 873.1L1373.0 871.7L1373.4 872.2L1374.4 868.5L1374.5 868.7L1374.9 866.4L1375.3 866.6L1376.0 861.9L1376.3 861.3L1377.3 855.9L1377.5 853.6L1377.8 853.2L1378.8 844.1L1379.0 843.7L1379.8 837.0L1380.7 830.9L1381.2 825.9L1381.7 824.8L1382.1 822.0L1382.2 822.7L1383.2 820.2L1385.1 826.5L1387.6 844.6L1390.6 864.0L1391.1 864.6L1391.5 868.5L1392.0 868.4L1392.5 870.2L1392.6 869.6L1393.5 873.0L1394.0 871.9L1394.2 873.8L1395.0 874.8L1395.5 873.9L1395.7 875.5L1396.0 874.4L1396.5 874.9L1396.9 876.2L1397.2 875.4L1397.4 875.8L1397.9 874.7L1398.4 874.5L1398.7 875.2L1398.9 874.9L1399.4 876.6L1399.9 875.4L1400.2 877.0L1400.9 875.4L1401.4 876.6L1401.7 875.8L1401.9 876.3L1402.3 875.3L1402.8 877.0L1403.2 877.0L1403.3 876.5L1403.8 876.8L1404.7 875.6L1405.3 877.0L1405.8 876.7L1406.2 875.8L1406.8 876.5L1407.3 875.6L1407.7 875.7L1408.2 876.6L1408.7 875.9L1409.2 877.6L1409.3 875.9L1409.7 877.3L1410.2 877.4L1410.7 876.4L1411.2 877.9L1412.2 876.6L1412.3 877.9L1412.7 876.3L1413.8 877.9L1415.3 876.5L1416.8 876.8L1418.3 876.6L1421.3 877.9L1422.9 877.5L1424.4 876.4L1425.9 878.2L1428.9 877.2L1430.4 877.9L1431.9 876.3L1433.4 877.4L1434.9 877.8L1438.0 877.6L1439.5 876.3L1441.0 877.2L1442.5 876.7L1444.0 877.5L1445.5 877.0L1450.0 877.5L1451.6 878.1L1453.1 876.8L1457.6 876.5L1459.1 878.1L1460.6 878.2L1462.1 876.5L1463.6 877.0L1465.2 878.2L1466.7 878.1L1469.7 878.4L1471.2 876.9L1472.7 876.4L1475.7 877.4L1477.2 876.3L1481.8 877.8L1483.3 876.6L1484.8 876.5L1486.3 877.0L1487.8 876.5L1490.8 876.5L1492.3 878.0L1493.9 878.2L1495.4 876.4L1496.9 878.1L1498.4 878.2L1499.9 877.7L1501.4 877.0L1502.9 878.1L1504.4 876.5L1505.9 876.4L1507.5 878.4L1509.0 876.8L1510.5 878.3L1512.0 878.0L1513.5 876.4L1515.0 876.5L1516.5 877.7L1518.0 876.6L1519.5 877.8L1521.0 877.8L1522.6 876.8L1524.1 877.4L1525.6 876.8L1527.1 878.3L1528.6 877.7L1530.1 877.9L1531.6 877.7L1533.1 876.5L1534.6 878.3L1536.2 878.1L1537.7 877.5L1539.2 877.6L1540.7 877.4L1542.2 878.0L1545.2 877.0L1546.7 877.5L1549.7 876.4L1551.3 877.5L1552.8 878.3L1554.3 877.9L1555.8 876.8L1557.3 877.5L1560.3 877.6L1561.8 877.4L1563.3 877.5L1566.4 878.3L1567.9 877.5L1569.4 878.1L1570.9 877.9L1572.4 876.6L1578.5 877.4L1580.0 877.0L1581.5 878.6L1584.5 877.2L1587.5 878.4L1589.0 876.7L1590.5 877.7L1592.0 878.5L1593.6 877.2L1595.1 878.3L1596.6 878.1L1598.1 877.0L1599.6 876.7L1601.1 878.1L1602.6 877.1L1603.9 877.9L1604.1 878.3L1604.8 878.3L1605.6 878.0L1606.5 876.7L1607.2 877.1L1607.3 876.3L1608.7 877.1L1609.0 876.7L1609.9 877.4L1610.2 876.6L1610.7 877.7L1611.6 877.2L1611.7 876.8L1612.4 877.8L1613.2 877.0L1613.3 876.3L1614.1 878.1L1614.7 877.9L1615.0 878.2L1615.8 876.9L1616.2 876.8L1616.7 877.8L1617.5 876.6L1617.7 878.4L1618.4 877.7L1619.2 877.4L1620.1 876.3L1620.9 877.2L1621.8 878.4L1622.3 876.5L1622.6 877.5L1623.5 876.4L1623.8 878.3L1624.3 877.8L1625.2 877.9L1626.0 876.5L1626.8 876.7L1626.9 876.2L1627.7 877.3L1628.3 876.3L1628.6 876.5L1629.4 876.4L1629.8 878.1L1630.3 877.8L1631.1 876.6L1631.3 878.1L1632.0 876.3L1632.8 876.2L1633.7 876.6L1634.3 877.5L1634.5 875.9L1635.4 877.4L1635.9 876.7L1636.2 877.2L1637.1 876.1L1637.4 875.4L1637.9 875.4L1638.8 876.6L1638.9 876.1L1639.6 876.4L1640.4 874.9L1640.5 875.1L1641.3 874.6L1641.9 875.8L1643.0 873.7L1643.4 874.8L1643.9 873.0L1644.7 873.5L1644.9 872.9L1645.6 873.6L1647.3 872.4L1648.1 870.4L1649.0 871.2L1649.5 871.1L1649.8 869.4L1650.7 870.8L1651.0 870.8L1651.5 869.5L1652.4 869.6L1652.5 869.9L1653.2 870.5L1654.0 869.9L1654.1 869.6L1654.9 870.4L1655.5 869.9L1655.8 869.1L1656.6 870.6L1657.5 870.6L1658.3 871.2L1658.5 870.9L1659.2 871.5L1660.0 873.0L1660.9 873.9L1661.5 873.3L1661.7 874.3L1662.6 873.2L1663.4 875.0L1664.3 875.5L1664.6 874.7L1665.1 874.5L1666.0 876.5L1666.1 875.8L1666.8 876.1L1667.6 875.7L1667.7 875.2L1668.3 876.4L1668.5 876.0L1669.1 877.2L1669.4 876.8L1669.8 877.1L1670.2 876.7L1670.6 877.2L1671.1 875.9L1671.4 877.8L1671.9 877.0L1672.1 877.0L1672.9 876.0L1673.6 877.4L1674.4 877.5L1675.1 876.5L1675.3 877.0L1675.9 877.7L1676.2 877.4L1676.6 878.0L1677.0 876.2L1677.4 877.7L1677.9 876.1L1678.2 877.4L1678.7 877.2L1678.9 876.2L1679.6 877.0L1679.7 877.5L1680.4 878.0L1681.2 876.3L1681.3 877.2L1681.9 877.9L1682.1 876.4L1682.7 878.1L1683.0 878.2L1683.4 876.9L1684.2 876.5L1684.7 876.6L1685.7 878.2L1686.4 877.4L1686.5 878.2L1687.2 877.1L1688.0 877.6L1688.1 876.2L1688.7 877.1L1688.9 876.2L1689.5 876.4L1689.8 877.9L1690.2 876.4L1691.0 877.3L1691.5 877.3L1691.8 876.2L1692.3 876.4L1692.5 877.6L1693.2 877.0L1693.3 876.3L1694.0 877.2L1694.8 876.9L1694.9 878.3L1695.5 876.2L1695.7 876.5L1696.3 876.2L1697.0 878.1L1697.4 877.7L1697.8 876.2L1698.3 877.1L1698.5 876.7L1699.1 878.0L1699.3 877.4L1700.0 877.2L1700.1 876.4L1701.6 876.8L1701.7 876.5L1702.3 876.8L1702.5 875.7L1703.1 876.3L1703.4 877.5L1703.8 876.2L1704.6 876.8L1705.3 876.8L1706.1 876.4L1706.9 875.4L1707.6 876.0L1708.4 874.6L1709.1 875.3L1709.9 873.8L1710.6 874.0L1711.4 873.9L1712.1 874.1L1712.9 874.9L1713.7 873.3L1714.4 875.2L1715.2 873.5L1715.9 875.5L1716.7 875.7L1717.4 875.1L1718.2 876.0L1718.5 875.0L1718.9 876.0L1719.2 874.3L1719.7 876.0L1720.0 875.8L1720.5 876.2L1720.7 874.9L1721.2 874.9L1721.4 875.9L1722.1 876.4L1722.7 875.4L1722.8 876.3L1723.5 877.3L1723.6 875.7L1724.3 877.4L1725.7 876.4L1726.4 876.6L1726.5 875.8L1727.1 875.7L1727.3 876.2L1727.9 876.0L1728.0 877.6L1728.6 876.5L1728.8 877.6L1729.3 876.9L1729.5 877.7L1730.0 877.7L1731.0 876.3L1731.4 877.0L1731.8 876.4L1732.2 877.5L1732.5 875.8L1732.9 877.1L1733.3 876.4L1734.1 876.9L1734.3 877.8L1734.8 877.8L1735.0 876.4L1735.6 877.7L1735.8 877.7L1736.3 876.7L1736.5 876.8L1737.1 876.0L1737.2 877.3L1737.8 876.6L1737.9 877.2L1738.6 877.5L1738.6 876.8L1739.3 876.9L1740.1 876.5L1740.1 875.6L1740.8 876.2L1740.8 875.3L1741.5 875.4L1741.6 877.2L1742.4 875.2L1742.9 875.7L1743.1 874.8L1743.6 875.8L1743.9 874.9L1744.4 874.7L1744.6 875.5L1745.1 875.9L1745.4 873.7L1745.8 875.0L1746.9 873.5L1747.2 872.2L1747.9 872.6L1748.4 871.6L1748.7 872.7L1749.2 870.5L1749.4 871.3L1750.1 869.9L1750.8 867.8L1751.4 867.1L1751.5 865.3L1752.2 863.9L1752.3 863.2L1753.7 861.1L1754.4 858.8L1754.4 857.5L1755.1 855.5L1755.2 854.4L1755.8 853.7L1756.6 850.1L1756.7 851.2L1757.3 847.6L1758.0 846.6L1758.2 847.2L1758.7 844.2L1759.0 844.0L1759.4 844.4L1759.7 843.0L1760.1 843.9L1760.9 841.6L1761.6 842.5L1762.3 844.5L1762.8 843.6L1763.0 845.4L1764.5 849.3L1765.2 849.9L1765.8 852.8L1765.9 852.5L1767.3 857.2L1767.3 858.4L1768.0 860.3L1768.8 861.5L1768.8 862.0L1769.5 863.4L1770.2 867.1L1770.3 867.0L1770.9 867.8L1771.8 870.7L1772.3 869.9L1773.3 871.4L1773.8 872.9L1774.8 873.8L1775.2 874.6L1775.9 874.6L1776.3 874.4L1776.7 875.4L1777.4 876.4L1777.9 874.6L1778.1 875.6L1778.8 875.1L1779.4 876.6L1779.5 876.0L1780.2 877.0L1780.9 876.8L1781.0 877.4L1781.7 876.7L1782.4 876.8L1783.1 877.7L1783.8 877.4L1783.9 876.4L1784.5 875.9L1785.3 877.8L1785.4 875.9L1786.0 877.8L1786.7 877.9L1786.9 877.3L1787.4 878.0L1788.1 877.3L1788.4 877.6L1789.9 876.2L1790.3 877.6L1791.0 877.0L1791.5 876.3L1791.7 877.3L1792.4 876.7L1793.0 876.7L1793.2 878.0L1793.9 877.5L1794.6 877.9L1795.3 877.1L1796.7 877.0L1797.5 878.2L1798.2 876.9L1798.9 877.8L1799.0 876.7L1799.6 876.3L1800.5 878.0L1801.0 877.0L1801.8 878.5L1802.5 877.0L1803.2 878.0L1803.5 878.2L1803.9 876.6L1805.1 878.4L1806.6 877.3L1808.1 877.0L1811.1 877.6L1812.6 877.6L1815.6 876.6L1817.1 877.9L1818.6 878.1L1820.2 878.0L1821.7 877.4L1823.2 878.4L1824.7 876.5L1826.2 876.8L1827.7 876.6L1829.2 877.8L1830.7 877.7L1832.2 877.0L1833.8 877.7L1835.3 876.6L1836.8 876.6L1838.3 878.7L1839.8 878.5L1841.3 876.7L1842.8 878.0L1844.3 877.7L1845.8 877.8L1847.4 878.4L1848.9 878.0L1850.4 878.7L1851.9 878.1L1853.4 878.6L1854.9 876.9L1856.4 878.4L1857.9 877.3L1859.4 878.6L1860.9 878.4L1862.5 878.8L1864.0 878.3L1865.5 877.5L1867.0 877.8L1868.5 878.4" stroke="#0000ff"/>
<path d="M169.0 1047.0L170.5 1048.0L172.0 1048.1L173.5 1048.4L175.0 1047.6L176.6 1048.2L178.1 1048.4L179.6 1047.7L182.6 1048.8L184.1 1047.6L185.6 1048.0L187.1 1047.9L188.6 1048.7L190.1 1047.4L193.2 1047.7L194.7 1048.2L196.2 1047.1L197.7 1049.0L199.2 1047.9L200.7 1048.4L203.7 1046.9L205.3 1047.6L206.8 1048.0L208.3 1047.0L209.8 1048.9L211.3 1048.1L212.8 1047.8L214.3 1046.8L215.8 1047.3L217.3 1047.5L218.9 1048.2L220.4 1047.1L221.9 1047.8L223.4 1047.3L224.9 1048.0L226.4 1048.2L227.9 1047.9L229.4 1048.4L230.9 1048.1L232.4 1046.9L234.0 1048.1L235.5 1047.7L238.5 1048.7L240.0 1047.4L241.5 1048.5L243.0 1047.1L244.5 1048.0L246.0 1046.6L247.6 1048.3L249.1 1047.5L252.1 1047.5L255.1 1046.9L256.6 1047.8L258.1 1047.7L259.6 1046.3L261.2 1046.8L262.7 1048.1L264.2 1046.6L265.7 1046.6L267.2 1047.1L268.7 1046.5L270.2 1047.7L271.7 1047.6L273.2 1045.5L274.7 1045.5L276.3 1045.1L277.8 1045.4L279.3 1044.6L280.8 1044.9L281.1 1045.3L281.4 1043.3L281.6 1043.1L282.2 1043.5L282.3 1043.0L282.5 1043.6L282.8 1043.3L283.3 1044.3L283.6 1044.1L283.8 1042.7L283.9 1043.2L284.2 1041.8L284.8 1043.0L285.0 1042.8L285.3 1040.9L285.6 1040.6L285.9 1042.0L286.2 1041.2L286.5 1041.0L286.7 1039.1L286.8 1040.1L287.0 1038.6L287.3 1039.7L287.6 1039.3L288.2 1036.5L288.4 1038.0L289.3 1034.1L289.6 1034.0L289.9 1033.0L290.4 1027.9L290.7 1027.2L291.8 1010.8L293.3 961.2L297.5 619.0L297.8 615.4L298.1 618.8L298.6 643.2L302.6 974.6L304.3 1019.8L305.0 1027.9L305.1 1027.5L305.4 1031.3L305.7 1032.2L306.0 1034.4L306.6 1035.9L307.1 1036.1L307.4 1038.3L307.7 1039.0L308.0 1039.1L308.3 1038.5L308.8 1040.0L309.1 1040.1L309.5 1040.7L309.7 1042.1L310.0 1041.6L310.2 1042.7L310.5 1042.8L310.8 1041.4L311.0 1042.9L311.1 1042.1L311.4 1042.8L311.7 1042.9L311.9 1043.5L312.2 1042.7L312.5 1043.7L312.8 1043.2L313.1 1044.3L313.4 1043.8L313.9 1045.2L314.2 1043.1L314.5 1045.2L314.8 1044.5L317.0 1045.9L318.6 1046.4L320.1 1045.6L321.6 1047.2L323.1 1046.1L324.6 1047.0L326.1 1047.3L327.6 1046.4L329.1 1046.6L332.2 1046.5L333.7 1046.7L334.4 1047.7L334.8 1046.0L335.1 1048.0L335.4 1047.1L335.8 1047.2L336.1 1046.5L336.7 1047.7L336.8 1046.6L337.1 1046.9L337.5 1046.3L337.8 1046.3L338.2 1047.6L338.2 1047.2L338.5 1046.7L338.8 1047.2L339.2 1046.1L339.5 1045.7L339.9 1047.0L340.2 1046.1L340.5 1046.8L341.2 1046.2L341.6 1047.2L341.9 1046.3L342.2 1047.1L342.6 1047.1L342.9 1045.5L343.3 1047.2L343.6 1046.5L344.2 1046.7L344.3 1046.3L344.6 1047.1L345.0 1045.0L345.3 1047.0L345.7 1045.6L346.0 1046.6L346.3 1046.4L347.0 1044.0L347.3 1045.1L347.3 1044.5L348.0 1044.7L348.4 1042.6L348.7 1043.6L348.8 1042.3L350.3 1038.4L350.4 1038.8L352.1 1026.1L353.8 1008.0L354.1 1008.0L354.5 1006.1L354.8 1007.8L355.5 1007.2L355.8 1008.9L356.3 1010.4L358.6 1023.6L359.2 1026.0L359.3 1027.4L359.6 1027.1L360.6 1031.6L360.9 1030.8L361.3 1031.8L361.6 1031.9L361.9 1032.7L362.1 1033.8L362.3 1032.8L362.4 1033.5L362.5 1033.2L363.0 1034.8L363.3 1033.6L363.4 1034.5L363.6 1034.0L364.0 1035.3L364.3 1034.5L365.0 1035.0L365.4 1036.2L365.7 1035.5L366.0 1035.7L366.1 1035.2L366.6 1037.0L366.7 1035.2L366.9 1035.9L367.0 1035.5L367.4 1037.0L367.5 1035.9L367.7 1036.3L368.0 1035.4L368.1 1036.9L368.4 1036.6L368.7 1037.3L368.9 1037.2L369.1 1037.3L369.4 1036.3L369.8 1037.1L369.9 1035.9L370.1 1037.9L370.8 1036.2L371.4 1037.8L371.6 1036.4L371.8 1037.7L372.0 1037.3L372.1 1038.0L372.5 1037.2L372.8 1038.5L373.2 1037.1L373.5 1037.8L373.8 1037.5L374.2 1038.4L374.3 1038.1L374.5 1038.4L374.5 1037.2L374.9 1037.8L375.2 1038.0L375.7 1036.7L376.0 1038.5L376.1 1037.7L376.6 1037.1L377.0 1038.7L377.5 1038.0L377.9 1038.4L378.4 1038.3L378.8 1038.0L379.0 1038.6L379.3 1036.7L379.7 1037.2L380.2 1036.6L380.5 1037.5L380.6 1036.5L381.1 1035.9L382.0 1035.5L382.5 1035.9L383.4 1034.7L383.5 1033.5L383.8 1034.2L385.2 1031.2L385.6 1030.9L386.1 1029.6L386.5 1029.5L387.0 1028.2L387.4 1028.8L387.9 1028.7L388.0 1027.4L388.3 1026.7L388.8 1028.6L389.3 1026.8L389.7 1028.7L390.2 1028.6L390.6 1030.2L391.1 1029.4L392.0 1032.9L392.6 1034.0L392.9 1033.7L393.8 1036.2L394.2 1035.7L394.7 1035.8L395.1 1036.8L395.6 1037.3L396.1 1039.5L396.5 1038.6L397.0 1039.0L397.1 1040.5L398.3 1039.3L398.6 1040.1L398.8 1040.0L399.2 1041.6L399.7 1040.6L400.1 1042.0L400.6 1040.6L401.0 1040.2L401.5 1042.2L401.6 1040.4L401.9 1042.0L402.9 1041.1L403.2 1042.4L403.3 1041.5L403.8 1042.8L404.2 1041.9L404.7 1042.9L405.1 1042.9L405.6 1041.8L406.2 1042.6L406.5 1042.5L406.9 1041.2L407.4 1042.7L407.7 1042.9L407.8 1041.7L408.7 1041.5L409.2 1042.6L409.6 1041.7L410.1 1043.4L410.6 1042.5L410.7 1043.8L411.9 1042.1L412.8 1043.7L413.3 1043.8L413.7 1042.6L414.2 1042.0L414.6 1043.4L415.2 1043.5L415.5 1043.8L416.0 1043.9L416.7 1043.6L418.3 1044.1L419.8 1042.7L421.3 1044.6L422.8 1044.1L424.3 1043.0L425.8 1043.3L427.3 1044.4L428.8 1043.8L430.3 1045.3L431.9 1043.9L433.4 1044.5L434.9 1044.6L436.4 1045.7L437.9 1044.3L439.4 1045.7L442.4 1045.2L443.9 1046.1L447.0 1045.8L448.5 1045.4L450.0 1044.4L451.5 1044.8L453.0 1045.8L454.5 1044.7L455.0 1045.9L455.6 1045.3L456.0 1045.4L456.1 1046.3L456.6 1046.4L457.2 1046.2L457.5 1045.5L458.2 1046.7L458.7 1046.6L459.3 1044.8L459.8 1046.6L460.3 1044.7L460.6 1044.9L460.9 1046.1L461.4 1045.1L461.9 1046.3L462.4 1045.1L463.0 1046.7L463.5 1046.9L463.6 1046.2L464.0 1046.9L465.1 1045.8L465.6 1046.6L466.1 1046.8L466.6 1046.3L466.7 1044.9L467.7 1046.3L468.3 1045.1L468.8 1045.8L469.3 1045.1L469.6 1045.8L469.8 1045.0L470.4 1046.4L470.9 1045.2L471.1 1046.8L471.4 1045.0L472.0 1046.1L472.5 1046.1L472.6 1045.1L473.0 1046.0L473.6 1045.8L474.1 1045.9L474.2 1044.9L475.1 1046.2L476.2 1044.7L476.7 1044.7L477.2 1045.8L477.3 1043.9L477.8 1044.6L478.3 1044.5L478.7 1044.1L478.8 1043.1L479.4 1042.9L479.9 1044.2L480.4 1042.6L481.0 1042.5L481.5 1041.1L481.7 1041.0L482.0 1042.3L482.5 1041.7L483.1 1039.9L483.2 1040.0L483.6 1039.2L484.7 1039.3L484.7 1039.8L485.2 1039.0L486.2 1039.8L487.3 1038.0L487.8 1038.5L487.8 1039.7L488.4 1038.9L488.9 1041.1L489.3 1039.6L489.9 1042.4L490.5 1041.6L491.0 1042.6L491.5 1042.0L492.3 1043.2L492.6 1044.3L493.1 1044.8L493.6 1045.0L493.8 1043.9L494.7 1046.0L495.2 1044.7L496.3 1046.9L496.8 1044.9L497.3 1046.5L497.9 1046.1L498.3 1046.3L498.4 1047.0L498.9 1045.5L499.5 1046.6L499.8 1046.1L500.0 1047.1L500.5 1047.0L501.3 1045.9L501.6 1047.2L502.6 1046.9L503.2 1047.7L503.7 1046.2L504.4 1047.5L504.7 1046.3L505.3 1047.7L505.8 1046.5L505.9 1047.9L506.3 1047.1L506.9 1048.0L507.9 1047.6L508.4 1046.7L508.9 1046.9L509.5 1047.7L510.0 1046.9L510.4 1047.9L510.6 1046.4L511.1 1047.1L511.6 1046.3L512.1 1046.6L512.7 1046.1L513.2 1047.3L513.4 1047.4L513.7 1046.9L514.3 1047.8L514.8 1047.3L514.9 1047.6L515.3 1046.3L515.8 1046.8L516.4 1046.2L516.9 1048.0L517.4 1046.4L518.0 1047.5L519.5 1047.0L522.5 1048.2L524.0 1048.1L525.5 1048.4L527.0 1048.4L528.5 1047.2L530.0 1048.5L531.6 1048.1L533.1 1047.0L534.6 1047.2L536.1 1047.6L537.6 1048.3L539.1 1046.7L540.6 1048.5L542.1 1048.0L545.2 1047.5L548.2 1047.5L549.7 1048.2L551.2 1047.6L554.2 1048.6L555.7 1046.9L557.2 1046.8L558.8 1048.8L560.3 1047.2L561.8 1048.6L563.3 1047.7L566.3 1046.9L567.8 1047.8L569.3 1048.2L570.8 1047.1L572.3 1047.0L573.9 1047.6L575.4 1048.9L576.9 1048.7L578.4 1047.6L579.9 1047.9L581.4 1048.0L582.9 1048.7L584.4 1047.7L587.5 1048.3L589.0 1047.7L590.5 1048.1L592.0 1048.8L593.5 1048.3L595.0 1047.3L596.3 1048.5L596.5 1047.7L597.5 1048.5L598.6 1047.6L599.2 1049.2L599.5 1047.4L599.7 1049.2L600.3 1047.5L600.9 1048.5L601.4 1048.2L602.6 1049.2L603.1 1048.0L603.7 1047.4L604.1 1047.7L604.3 1049.2L604.8 1048.6L605.4 1048.9L605.6 1048.1L606.0 1048.0L606.5 1048.8L607.1 1048.5L607.7 1049.3L608.2 1047.7L608.6 1048.1L608.8 1048.8L609.4 1049.3L609.9 1048.3L610.1 1049.0L610.5 1047.5L611.1 1048.7L611.6 1048.0L612.2 1048.8L612.8 1047.9L613.1 1047.7L613.9 1048.9L614.5 1048.8L614.6 1049.3L615.0 1048.2L615.6 1047.4L616.2 1049.0L616.7 1047.7L617.3 1048.7L618.4 1047.1L619.0 1047.5L619.2 1048.6L619.6 1047.9L620.1 1048.7L620.7 1048.4L621.3 1047.7L621.8 1048.5L622.2 1046.3L622.4 1047.1L623.0 1047.2L623.5 1045.9L623.7 1047.6L624.1 1045.9L624.7 1046.6L625.2 1045.7L626.4 1045.6L626.9 1044.7L627.5 1045.5L628.1 1045.3L628.2 1044.0L628.6 1045.9L629.2 1043.9L630.9 1044.6L631.3 1044.9L631.5 1045.9L632.0 1044.3L632.8 1045.8L633.2 1045.2L634.3 1046.1L634.9 1047.4L635.4 1047.4L635.8 1046.9L636.0 1046.1L637.1 1048.1L637.3 1047.4L637.7 1047.4L638.3 1048.1L638.8 1046.9L639.4 1048.4L640.0 1048.6L640.3 1047.4L641.1 1049.1L641.6 1047.9L641.8 1048.5L642.2 1048.1L642.8 1048.6L643.9 1048.3L644.5 1049.6L644.9 1049.1L645.0 1049.7L645.6 1048.3L646.2 1048.6L646.4 1048.4L646.7 1049.5L647.3 1048.4L647.9 1049.1L648.4 1048.0L649.0 1048.9L649.4 1048.3L649.6 1049.7L650.1 1048.5L650.7 1049.8L650.9 1048.9L651.3 1048.5L651.8 1048.9L652.4 1049.8L653.0 1049.3L653.5 1049.6L653.9 1049.0L654.1 1049.1L654.7 1048.1L655.2 1049.6L655.4 1049.2L655.8 1049.2L656.4 1048.5L656.9 1049.5L658.1 1048.5L658.5 1050.0L658.6 1049.5L659.2 1049.3L659.8 1049.7L660.3 1048.7L660.9 1049.9L661.5 1049.8L662.6 1048.8L663.0 1049.0L663.2 1048.0L663.7 1049.8L667.5 1048.9L669.0 1049.7L670.5 1048.0L672.1 1048.8L673.6 1048.5L675.1 1049.3L676.6 1048.8L679.6 1050.0L681.1 1048.9L682.6 1048.3L684.1 1048.1L685.6 1049.9L687.2 1049.1L688.7 1049.1L690.2 1048.2L691.7 1048.4L693.2 1048.1L694.7 1050.1L696.2 1048.3L697.7 1048.9L700.8 1049.5L702.3 1048.7L703.8 1049.6L705.3 1049.6L706.8 1050.4L708.3 1048.5L709.8 1048.9L711.3 1048.5L712.8 1048.9L715.9 1048.4L717.4 1050.1L718.9 1048.9L720.4 1050.0L723.4 1050.1L724.9 1048.4L726.4 1049.7L727.9 1050.3L729.5 1049.8L731.0 1049.8L732.5 1049.4L734.0 1050.3L737.0 1049.2L738.5 1049.6L740.0 1049.5L741.5 1048.9L743.1 1050.0L744.6 1050.4L746.1 1050.0L747.6 1048.6L750.6 1050.3L752.1 1048.9L753.6 1049.7L755.1 1050.1L758.2 1049.3L759.7 1048.7L761.2 1050.2L762.7 1049.0L764.2 1050.0L765.7 1049.8L767.2 1050.3L768.7 1048.9L770.2 1050.8L771.8 1050.3L773.3 1050.6L773.8 1049.1L774.4 1050.3L774.8 1049.5L775.0 1050.3L775.5 1050.3L776.1 1049.6L776.3 1050.8L776.7 1049.7L777.2 1049.8L777.8 1050.3L778.4 1049.1L778.9 1050.7L779.3 1049.5L779.5 1050.7L780.1 1049.1L780.6 1049.0L780.8 1050.0L781.2 1049.3L781.8 1049.7L782.3 1049.2L782.9 1050.3L783.8 1050.3L784.0 1049.0L784.6 1048.8L785.2 1050.0L785.4 1048.9L785.7 1050.3L786.3 1049.9L786.9 1050.8L788.0 1050.2L788.4 1050.6L788.6 1049.9L789.7 1048.9L789.9 1050.3L792.0 1049.7L792.5 1050.7L793.1 1049.0L793.7 1050.8L794.2 1050.3L794.8 1050.8L795.4 1049.5L795.9 1048.9L796.5 1049.6L797.1 1049.5L797.4 1049.2L797.6 1050.1L798.2 1048.8L798.8 1050.3L798.9 1048.6L799.3 1048.7L799.9 1049.7L800.5 1048.3L801.0 1049.2L801.6 1048.0L802.2 1048.3L802.7 1047.6L803.5 1048.9L803.9 1048.7L804.4 1046.8L805.0 1046.4L806.1 1047.7L806.5 1047.2L806.7 1048.1L807.3 1048.1L807.8 1047.5L808.0 1046.6L808.4 1046.9L809.0 1046.3L810.1 1048.2L810.7 1047.4L811.0 1047.2L811.2 1048.1L811.8 1049.1L812.4 1048.7L812.5 1047.6L812.9 1048.4L813.5 1048.2L814.1 1049.6L814.6 1048.9L815.2 1049.1L815.6 1050.2L815.8 1048.9L816.3 1049.4L816.9 1050.6L817.1 1049.2L817.5 1049.7L818.0 1050.0L818.6 1049.4L819.2 1050.1L819.7 1049.7L820.1 1050.6L820.3 1050.0L820.9 1050.4L821.4 1050.1L821.6 1050.4L822.6 1049.2L823.1 1049.7L823.7 1049.6L824.3 1049.0L824.6 1050.6L824.8 1050.1L825.4 1050.0L826.0 1050.5L826.1 1049.1L826.5 1049.3L827.1 1050.6L827.7 1049.1L828.2 1050.9L828.8 1050.1L829.2 1051.1L829.9 1049.9L830.5 1049.8L831.0 1050.7L831.6 1050.1L832.7 1051.2L833.7 1050.2L833.9 1050.7L834.4 1050.2L835.0 1050.3L835.2 1050.0L835.6 1051.1L836.1 1051.3L836.7 1050.3L837.3 1050.3L837.8 1049.3L838.4 1051.1L839.0 1049.6L839.5 1050.8L839.7 1049.7L840.1 1050.7L840.7 1049.7L841.2 1050.4L842.8 1050.8L844.3 1049.2L845.8 1051.0L848.8 1049.7L850.3 1049.8L853.3 1050.8L854.8 1049.6L856.4 1049.4L857.9 1049.7L859.4 1050.6L860.9 1050.1L862.4 1050.9L863.9 1050.8L865.4 1050.0L866.9 1050.5L868.4 1049.5L869.9 1050.6L871.5 1050.7L873.0 1049.8L874.5 1050.7L876.0 1049.5L877.5 1051.4L879.0 1050.4L880.5 1051.2L882.0 1050.7L883.5 1049.7L885.1 1050.8L886.6 1050.5L888.1 1050.0L889.6 1050.7L891.1 1050.8L892.6 1050.6L894.1 1049.6L895.6 1051.2L897.1 1051.1L898.7 1050.0L900.2 1051.0L901.7 1051.1L903.2 1049.6L904.7 1049.2L906.2 1049.3L907.7 1049.7L908.1 1049.0L908.6 1049.1L909.1 1050.2L909.2 1048.6L909.6 1049.9L910.1 1049.4L910.5 1050.0L910.7 1049.0L911.0 1049.5L912.0 1048.4L912.2 1050.2L912.5 1049.1L913.0 1048.9L913.5 1050.2L913.8 1049.0L914.0 1049.3L914.5 1048.4L915.0 1048.9L915.3 1049.9L915.9 1049.6L916.4 1049.8L916.9 1047.8L917.4 1047.9L917.9 1048.9L918.3 1048.6L918.4 1048.2L918.9 1048.8L919.4 1047.6L919.8 1048.4L920.4 1047.2L920.9 1048.4L921.3 1046.9L921.3 1048.3L921.8 1048.0L922.3 1047.0L922.8 1046.7L923.8 1045.3L924.3 1046.0L924.3 1045.3L924.8 1045.1L925.8 1042.3L926.3 1042.6L927.2 1037.8L927.4 1038.9L929.2 1026.6L929.7 1020.2L930.7 1010.0L932.6 976.6L936.4 905.7L937.6 900.2L937.9 900.9L938.5 904.6L940.0 925.4L944.4 1009.4L946.4 1030.2L946.9 1033.5L947.0 1033.1L947.9 1038.3L948.4 1039.6L948.8 1042.1L949.8 1044.9L950.0 1044.6L950.3 1045.4L950.8 1044.6L951.3 1046.8L951.5 1047.1L951.8 1046.6L952.3 1047.4L953.0 1047.0L953.3 1046.5L954.7 1048.7L955.2 1048.0L955.7 1049.0L956.2 1047.1L956.7 1048.1L957.6 1049.1L957.7 1047.9L958.2 1047.5L958.7 1049.1L959.1 1048.0L959.2 1049.5L960.1 1048.1L960.6 1049.0L960.6 1049.5L961.1 1048.4L961.6 1050.0L962.1 1048.1L962.6 1048.3L963.1 1049.3L963.6 1049.6L963.6 1049.4L964.1 1050.1L964.6 1048.6L965.0 1048.3L965.1 1049.3L965.5 1049.0L966.5 1049.1L966.6 1050.2L967.0 1048.9L968.1 1049.8L969.7 1049.5L970.1 1048.9L970.6 1050.3L971.2 1048.9L971.6 1048.7L972.1 1049.8L972.6 1049.7L972.7 1049.0L973.1 1048.5L973.6 1049.5L974.1 1048.9L974.2 1049.4L974.6 1049.6L975.1 1048.1L975.5 1048.2L975.7 1049.9L976.0 1050.0L976.5 1048.2L977.0 1048.5L977.5 1049.8L978.0 1048.5L978.5 1049.9L978.7 1048.0L979.0 1049.7L979.5 1047.8L980.2 1049.7L980.5 1049.1L980.9 1049.5L981.4 1048.1L981.7 1049.4L982.4 1047.7L982.9 1048.7L983.2 1048.9L983.4 1047.3L983.9 1047.5L984.4 1048.1L984.8 1047.5L984.9 1048.2L985.7 1046.0L986.2 1047.1L986.3 1045.7L986.3 1047.0L987.3 1043.8L987.6 1043.6L987.8 1045.0L988.1 1044.4L988.3 1042.4L988.5 1043.2L989.0 1040.5L989.3 1040.7L990.8 1031.3L990.9 1031.5L991.4 1027.1L991.7 1025.4L995.3 979.2L997.6 946.2L998.0 944.2L998.1 944.1L998.4 941.1L998.5 941.5L998.6 941.0L998.9 940.8L999.1 939.5L1000.3 944.4L1002.2 965.9L1004.6 999.9L1006.0 1012.5L1007.0 1018.8L1007.4 1019.5L1007.5 1021.0L1007.9 1021.3L1007.9 1021.8L1008.4 1021.8L1008.4 1022.6L1008.8 1022.3L1008.9 1021.0L1009.3 1021.5L1009.4 1020.8L1009.8 1021.2L1010.4 1018.3L1010.4 1020.3L1010.7 1017.8L1010.9 1017.7L1011.2 1018.5L1011.4 1016.2L1011.7 1016.4L1011.9 1016.1L1012.0 1016.6L1012.4 1016.8L1012.9 1014.7L1013.1 1015.1L1013.3 1014.8L1013.8 1017.6L1014.0 1016.3L1014.5 1019.4L1015.3 1020.7L1015.9 1024.6L1016.3 1025.1L1016.5 1027.7L1016.8 1027.4L1017.8 1033.7L1018.3 1034.9L1018.3 1035.6L1018.8 1037.1L1019.2 1039.9L1019.2 1039.1L1019.7 1040.9L1019.7 1040.6L1020.6 1043.4L1020.7 1044.5L1021.0 1043.6L1021.2 1045.5L1021.6 1045.9L1021.7 1045.5L1022.2 1045.4L1023.0 1047.0L1023.2 1046.8L1023.7 1047.9L1023.9 1047.1L1024.2 1048.5L1024.4 1047.6L1024.6 1047.8L1024.9 1047.5L1025.4 1049.1L1025.5 1048.6L1025.6 1049.0L1025.8 1049.1L1026.1 1048.0L1026.3 1048.0L1026.8 1050.1L1027.1 1049.7L1027.2 1048.7L1027.6 1048.5L1027.7 1049.7L1028.1 1050.0L1028.2 1049.2L1028.6 1048.6L1029.1 1050.1L1029.6 1050.3L1030.1 1049.5L1030.6 1050.6L1031.5 1048.8L1032.0 1050.8L1032.4 1050.4L1032.9 1049.1L1033.4 1049.8L1033.9 1050.1L1034.3 1049.1L1034.6 1051.1L1034.8 1050.2L1035.7 1049.2L1036.2 1051.2L1036.7 1050.8L1037.2 1051.1L1037.6 1051.2L1038.1 1050.7L1038.6 1049.4L1039.0 1050.0L1039.1 1050.6L1040.5 1049.5L1040.7 1051.3L1041.4 1050.1L1043.7 1051.4L1045.2 1049.9L1046.7 1051.0L1048.2 1050.1L1049.7 1051.6L1051.2 1051.4L1052.7 1051.8L1054.3 1050.6L1055.8 1050.9L1057.3 1050.5L1058.8 1050.6L1060.3 1051.9L1063.3 1052.0L1064.8 1051.9L1066.3 1050.9L1069.4 1051.9L1070.9 1050.9L1072.4 1051.9L1073.9 1051.7L1075.4 1050.6L1076.9 1050.7L1078.4 1051.5L1079.2 1050.3L1079.9 1050.5L1081.1 1050.2L1081.4 1051.9L1082.0 1052.1L1083.0 1051.8L1083.9 1051.1L1084.5 1051.6L1085.8 1050.9L1086.0 1051.1L1086.7 1050.2L1087.7 1050.7L1088.6 1050.7L1089.0 1051.4L1089.6 1050.5L1090.5 1050.5L1091.5 1051.9L1092.0 1051.7L1092.4 1052.0L1093.3 1051.7L1093.5 1050.4L1095.0 1051.8L1096.2 1050.4L1096.5 1051.0L1097.1 1051.2L1098.1 1050.0L1099.0 1050.5L1099.6 1051.6L1100.9 1050.9L1101.1 1051.2L1101.8 1051.1L1102.6 1050.7L1102.8 1050.1L1103.7 1051.5L1104.1 1051.6L1104.7 1050.8L1105.6 1051.6L1106.6 1051.7L1107.1 1051.4L1108.4 1051.9L1108.6 1049.9L1109.4 1051.9L1110.1 1050.8L1110.3 1051.5L1111.3 1051.3L1111.7 1049.9L1112.2 1051.0L1113.2 1049.8L1114.1 1051.2L1114.7 1050.2L1115.1 1050.3L1116.0 1050.0L1116.2 1051.1L1116.9 1050.7L1117.7 1049.8L1117.9 1050.7L1118.8 1049.3L1119.2 1050.6L1119.8 1050.1L1120.7 1050.2L1121.7 1049.6L1122.2 1050.2L1122.6 1049.4L1123.6 1048.5L1123.7 1048.7L1124.5 1048.4L1125.4 1047.4L1126.4 1048.0L1127.3 1047.8L1129.8 1045.2L1130.2 1045.7L1131.1 1045.0L1131.3 1045.6L1133.0 1043.4L1133.9 1042.6L1134.3 1044.1L1134.9 1043.2L1135.8 1043.1L1136.8 1042.4L1137.7 1044.5L1138.7 1043.4L1138.8 1044.5L1140.5 1044.9L1141.5 1044.7L1141.9 1045.8L1142.4 1045.9L1143.4 1047.3L1144.3 1046.9L1144.9 1046.8L1145.3 1048.2L1146.2 1048.1L1146.4 1047.5L1147.2 1048.6L1147.9 1047.8L1149.0 1049.9L1149.4 1049.1L1150.0 1050.0L1150.9 1049.0L1151.9 1049.8L1152.4 1049.4L1152.8 1050.7L1153.8 1050.4L1154.0 1050.0L1154.7 1050.1L1155.7 1049.9L1156.6 1051.0L1157.0 1050.2L1157.5 1049.8L1158.5 1050.5L1159.4 1050.7L1160.0 1051.9L1160.4 1050.6L1161.3 1050.7L1161.5 1051.9L1163.2 1050.7L1164.5 1050.2L1165.1 1050.9L1166.0 1051.3L1167.0 1050.1L1167.6 1050.9L1167.9 1050.3L1168.9 1051.2L1169.1 1050.7L1169.8 1051.4L1170.6 1051.6L1170.8 1050.8L1171.7 1050.8L1172.1 1050.1L1172.6 1050.4L1173.6 1051.3L1174.5 1051.7L1175.1 1050.2L1175.5 1052.1L1176.4 1051.9L1176.6 1050.7L1178.1 1051.4L1178.3 1050.6L1179.3 1050.7L1179.6 1051.5L1180.2 1051.0L1181.1 1050.9L1182.1 1051.1L1182.7 1050.1L1183.0 1050.9L1184.0 1050.5L1184.2 1050.2L1184.9 1051.0L1185.7 1051.4L1185.9 1051.0L1186.8 1050.9L1187.2 1051.3L1187.8 1050.7L1188.7 1051.9L1189.6 1050.2L1190.2 1049.7L1190.6 1051.0L1191.5 1051.2L1191.7 1050.5L1194.7 1050.1L1196.3 1051.2L1197.8 1051.3L1198.3 1050.0L1198.8 1050.6L1199.3 1050.3L1199.3 1049.6L1199.8 1050.9L1200.3 1050.4L1200.8 1051.3L1200.8 1051.2L1201.3 1051.1L1201.8 1049.6L1202.3 1049.3L1202.4 1050.8L1202.9 1049.2L1203.4 1050.4L1203.8 1049.2L1203.9 1050.4L1204.4 1048.9L1204.9 1048.9L1205.3 1050.6L1205.4 1049.8L1205.9 1049.5L1206.4 1050.6L1206.8 1050.1L1206.9 1048.9L1207.5 1049.8L1208.0 1049.0L1208.3 1049.1L1208.5 1048.7L1209.0 1048.4L1209.8 1048.3L1210.0 1048.1L1210.5 1049.4L1211.0 1048.2L1211.4 1048.4L1211.5 1048.9L1212.0 1048.4L1212.5 1047.0L1212.9 1048.6L1213.6 1047.8L1214.1 1046.3L1214.4 1047.1L1215.1 1044.4L1215.6 1044.4L1215.9 1044.5L1216.1 1043.7L1216.6 1043.3L1217.6 1039.8L1218.2 1036.0L1218.7 1034.3L1218.9 1030.6L1219.2 1030.4L1221.7 1000.9L1226.5 908.9L1227.3 897.4L1227.8 893.9L1228.9 894.1L1229.4 897.4L1229.5 900.3L1229.9 903.4L1234.5 992.1L1236.0 1014.7L1238.0 1034.0L1239.1 1039.9L1239.6 1040.7L1240.1 1042.5L1240.1 1042.1L1241.1 1044.7L1241.6 1046.5L1241.6 1044.5L1242.1 1046.7L1242.6 1046.3L1243.1 1047.3L1243.1 1046.7L1243.7 1048.0L1244.6 1047.7L1244.7 1048.0L1245.2 1047.2L1245.7 1047.7L1246.1 1049.6L1246.2 1047.8L1247.2 1049.4L1247.6 1048.1L1247.7 1050.1L1248.2 1048.6L1248.7 1050.4L1249.1 1049.3L1249.3 1049.7L1249.8 1049.8L1250.3 1048.8L1250.8 1050.3L1252.1 1050.4L1252.3 1049.2L1252.8 1049.9L1253.3 1050.2L1253.7 1049.2L1253.8 1050.8L1254.4 1049.4L1254.9 1050.5L1255.4 1049.6L1255.9 1051.4L1256.4 1050.7L1256.7 1051.0L1256.9 1050.8L1257.4 1050.7L1257.9 1051.4L1258.2 1049.7L1258.4 1050.4L1258.9 1050.1L1259.7 1051.0L1261.2 1050.6L1262.7 1051.8L1264.2 1050.4L1265.7 1050.5L1267.3 1052.0L1270.3 1051.0L1271.8 1051.0L1273.3 1051.8L1274.8 1050.5L1276.3 1051.8L1277.8 1050.8L1279.3 1052.1L1280.9 1050.5L1282.4 1052.4L1283.9 1052.3L1285.4 1050.5L1286.9 1050.8L1288.4 1052.4L1289.9 1052.3L1291.4 1051.1L1292.9 1052.2L1296.0 1051.0L1297.5 1052.0L1300.5 1050.9L1302.0 1052.4L1303.5 1052.1L1305.0 1051.1L1308.0 1052.1L1309.6 1051.4L1311.1 1051.2L1312.6 1051.8L1314.1 1052.7L1315.6 1050.8L1318.6 1051.7L1320.1 1052.8L1321.6 1052.8L1323.1 1050.6L1324.7 1052.0L1326.2 1050.9L1327.7 1051.1L1329.2 1050.9L1330.7 1051.7L1332.2 1052.8L1333.7 1052.7L1335.2 1051.4L1336.7 1052.6L1338.3 1052.1L1339.8 1050.8L1341.3 1052.6L1342.8 1051.2L1344.3 1052.7L1345.8 1050.8L1347.3 1052.5L1348.8 1051.6L1350.3 1051.6L1351.5 1050.8L1352.0 1052.1L1352.5 1051.6L1353.1 1052.6L1353.4 1051.6L1353.6 1052.4L1354.1 1050.7L1354.6 1052.0L1354.9 1051.7L1355.2 1052.3L1355.7 1051.1L1356.2 1051.3L1356.4 1052.1L1356.8 1050.8L1357.3 1051.1L1357.8 1052.1L1357.9 1051.7L1358.3 1051.3L1358.9 1050.2L1359.4 1051.8L1359.9 1051.0L1360.5 1050.6L1360.9 1050.9L1361.0 1050.4L1361.5 1051.9L1362.0 1051.7L1362.4 1052.1L1363.1 1050.2L1363.6 1050.8L1363.9 1052.0L1364.2 1049.8L1364.7 1050.5L1365.2 1050.0L1365.8 1050.2L1366.3 1050.9L1366.8 1049.5L1367.0 1051.3L1367.3 1050.2L1367.9 1049.5L1368.4 1049.2L1368.5 1050.1L1368.9 1049.6L1369.5 1049.7L1370.0 1048.5L1370.5 1048.7L1371.0 1048.6L1371.5 1047.3L1371.6 1048.1L1372.1 1048.2L1372.6 1046.8L1373.0 1045.2L1373.2 1046.0L1373.7 1043.6L1374.5 1041.1L1374.7 1041.6L1376.0 1035.6L1376.3 1035.8L1376.9 1031.5L1377.5 1029.0L1379.0 1018.8L1379.0 1019.4L1380.0 1011.3L1380.6 1009.4L1381.1 1005.2L1382.1 1001.2L1382.1 1001.6L1382.7 1000.8L1383.2 1000.6L1383.7 999.5L1384.8 1004.5L1385.1 1005.0L1388.0 1023.4L1388.1 1022.9L1389.0 1029.8L1390.1 1035.6L1391.1 1038.9L1391.7 1041.9L1392.2 1042.3L1392.6 1044.4L1392.7 1044.1L1393.8 1047.0L1394.3 1047.8L1394.8 1047.2L1395.4 1049.6L1395.7 1049.4L1395.9 1050.0L1396.4 1049.7L1396.9 1050.1L1397.2 1050.7L1398.0 1050.5L1398.5 1049.3L1398.7 1049.3L1399.1 1051.0L1399.6 1051.4L1400.2 1050.1L1401.2 1051.6L1401.7 1051.5L1402.2 1050.2L1403.2 1050.5L1403.3 1051.7L1403.8 1050.6L1404.3 1052.1L1404.9 1050.6L1405.4 1051.1L1405.9 1050.5L1406.2 1052.2L1406.5 1050.3L1407.0 1051.2L1407.5 1051.2L1407.7 1050.4L1408.0 1050.9L1408.6 1052.6L1409.1 1052.3L1409.3 1051.4L1409.6 1052.4L1410.7 1052.4L1410.8 1052.1L1411.2 1051.8L1411.7 1051.7L1412.3 1052.1L1412.8 1051.9L1413.3 1052.7L1413.8 1051.0L1413.9 1052.6L1414.4 1052.3L1414.9 1051.6L1415.3 1052.5L1416.8 1051.3L1419.8 1052.0L1421.3 1052.9L1422.9 1051.3L1424.4 1052.7L1425.9 1052.3L1427.4 1052.9L1428.9 1051.6L1430.4 1052.4L1431.9 1052.9L1433.4 1052.9L1434.9 1052.5L1436.4 1052.8L1438.0 1052.4L1439.5 1052.2L1441.0 1051.4L1442.5 1052.2L1444.0 1053.2L1445.5 1053.1L1447.0 1051.1L1448.5 1051.7L1450.0 1051.6L1451.6 1052.9L1453.1 1051.5L1454.6 1052.8L1456.1 1051.5L1457.6 1051.8L1459.1 1053.2L1460.6 1051.4L1462.1 1052.4L1463.6 1051.7L1465.2 1052.8L1466.7 1051.3L1468.2 1052.6L1469.7 1051.7L1471.2 1053.3L1472.7 1051.9L1474.2 1052.6L1475.7 1051.2L1477.2 1053.2L1478.7 1052.6L1480.3 1053.2L1481.8 1052.8L1483.3 1051.3L1484.8 1052.8L1486.3 1052.0L1487.8 1051.7L1489.3 1053.2L1493.9 1051.4L1495.4 1052.7L1496.9 1051.4L1498.4 1051.8L1499.9 1051.4L1501.4 1051.6L1502.9 1052.9L1504.4 1051.8L1505.9 1053.4L1507.5 1051.9L1509.0 1053.0L1513.5 1052.6L1515.0 1051.6L1516.5 1053.1L1518.0 1053.3L1521.0 1051.7L1522.6 1051.5L1524.1 1051.9L1525.6 1053.5L1527.1 1052.0L1528.6 1051.9L1530.1 1052.5L1531.6 1051.4L1533.1 1053.1L1534.6 1053.0L1536.2 1052.0L1537.7 1051.4L1539.2 1053.3L1542.2 1053.0L1543.7 1051.8L1545.2 1053.4L1546.7 1052.7L1548.2 1051.4L1549.7 1053.4L1551.3 1052.8L1552.8 1051.7L1554.3 1053.2L1555.8 1052.6L1557.3 1052.7L1558.8 1051.3L1560.3 1051.7L1561.8 1053.0L1563.3 1051.3L1564.9 1051.7L1566.4 1051.4L1567.9 1052.5L1569.4 1051.5L1570.9 1053.0L1572.4 1052.2L1573.9 1053.0L1576.9 1053.4L1578.5 1051.6L1580.0 1052.0L1581.5 1053.0L1583.0 1051.9L1584.5 1053.3L1586.0 1051.9L1587.5 1052.6L1589.0 1051.7L1590.2 1052.8L1590.5 1051.8L1591.3 1052.1L1592.4 1053.0L1593.6 1051.5L1595.1 1051.6L1595.8 1052.8L1596.6 1052.6L1598.1 1052.9L1599.2 1051.7L1599.6 1052.2L1600.4 1051.1L1601.5 1052.4L1602.6 1051.7L1603.8 1052.9L1604.1 1051.6L1605.6 1052.6L1606.0 1051.6L1607.2 1052.6L1607.9 1052.0L1608.3 1051.2L1608.7 1051.3L1609.4 1052.5L1610.2 1052.9L1610.6 1052.6L1610.9 1053.0L1611.7 1052.5L1612.8 1052.9L1613.2 1052.4L1614.0 1052.2L1614.7 1051.4L1615.1 1051.5L1615.5 1051.2L1616.2 1051.3L1617.0 1051.9L1617.4 1051.6L1617.7 1052.2L1618.5 1052.8L1619.2 1051.6L1619.6 1052.9L1620.0 1052.8L1620.8 1051.4L1621.5 1052.2L1621.9 1051.4L1622.3 1051.1L1623.0 1051.4L1623.8 1051.4L1624.1 1050.9L1624.5 1050.9L1625.3 1052.6L1626.4 1052.7L1626.8 1051.0L1627.5 1050.9L1628.3 1052.7L1628.7 1051.6L1629.1 1051.5L1629.8 1052.3L1630.6 1051.9L1631.3 1051.0L1632.1 1050.9L1633.2 1052.5L1633.6 1050.6L1635.1 1051.5L1635.5 1050.9L1635.9 1051.3L1636.6 1051.3L1637.7 1050.3L1638.9 1051.6L1639.6 1050.0L1640.4 1051.3L1641.9 1049.9L1642.3 1051.1L1642.7 1050.7L1643.4 1051.0L1644.2 1049.2L1644.5 1049.5L1644.9 1049.3L1645.7 1049.9L1647.2 1048.7L1647.9 1049.3L1649.1 1047.2L1650.2 1047.0L1651.0 1046.4L1651.3 1048.2L1651.7 1047.2L1652.5 1047.5L1653.2 1046.5L1653.6 1046.6L1654.0 1045.9L1654.7 1047.2L1655.5 1046.0L1655.9 1045.9L1656.3 1046.7L1657.8 1047.2L1658.1 1046.1L1658.5 1046.0L1659.3 1047.0L1660.4 1045.8L1660.8 1046.5L1661.5 1046.3L1662.3 1046.4L1662.7 1047.7L1663.0 1046.9L1663.8 1047.7L1664.9 1046.9L1665.3 1048.5L1666.8 1048.9L1667.2 1048.8L1667.6 1047.9L1669.1 1049.8L1669.5 1049.8L1669.8 1049.5L1670.6 1049.8L1671.4 1048.9L1671.7 1048.7L1672.1 1050.5L1672.9 1048.9L1674.0 1049.9L1674.4 1050.6L1675.1 1050.7L1676.3 1051.3L1676.6 1049.8L1678.2 1049.6L1678.5 1050.0L1678.9 1049.5L1679.7 1051.4L1680.8 1050.4L1681.2 1049.4L1681.9 1051.2L1682.7 1049.7L1683.1 1050.8L1683.4 1049.6L1684.2 1049.6L1685.0 1049.3L1685.3 1050.1L1685.7 1049.5L1686.5 1050.1L1687.2 1050.3L1687.6 1049.2L1688.0 1049.0L1688.7 1049.7L1689.5 1049.4L1689.9 1049.4L1691.0 1048.7L1691.8 1048.5L1692.1 1049.8L1692.5 1049.6L1694.0 1049.4L1694.4 1049.1L1694.8 1048.4L1695.5 1049.9L1696.3 1049.1L1697.0 1048.4L1697.8 1048.7L1698.5 1050.0L1698.9 1048.7L1699.3 1049.6L1700.1 1048.1L1700.8 1049.2L1701.2 1048.5L1703.1 1048.9L1703.5 1049.5L1703.8 1049.0L1704.6 1050.1L1705.3 1048.6L1705.7 1050.2L1706.1 1049.3L1706.9 1050.2L1708.0 1049.2L1708.4 1050.6L1709.1 1050.1L1709.9 1050.4L1710.3 1050.0L1711.4 1051.1L1712.1 1050.7L1712.5 1051.3L1712.9 1050.0L1713.7 1050.0L1714.4 1051.3L1715.2 1051.4L1715.5 1050.5L1715.9 1050.5L1716.3 1051.7L1716.7 1050.1L1717.4 1050.1L1718.2 1050.7L1718.9 1050.8L1719.3 1049.9L1720.1 1051.0L1720.5 1050.0L1721.2 1052.0L1721.6 1051.4L1722.0 1052.1L1722.3 1051.9L1723.1 1050.1L1723.5 1050.2L1724.2 1052.0L1724.6 1050.9L1725.0 1050.4L1725.4 1051.8L1725.7 1051.3L1726.1 1051.2L1726.5 1050.5L1726.9 1051.4L1727.6 1051.8L1728.0 1052.2L1728.4 1050.4L1728.8 1052.0L1729.1 1050.9L1729.5 1051.1L1729.9 1051.0L1730.3 1052.0L1731.0 1050.4L1731.4 1051.2L1731.8 1050.5L1732.2 1050.2L1732.5 1050.3L1732.9 1051.0L1733.3 1051.2L1733.7 1050.2L1734.1 1050.4L1734.4 1052.1L1734.8 1051.3L1735.2 1052.3L1735.6 1051.3L1735.9 1052.2L1737.1 1050.1L1737.4 1050.3L1737.8 1051.7L1738.2 1051.4L1738.6 1050.5L1739.0 1050.2L1739.7 1051.8L1740.1 1050.3L1740.5 1051.9L1741.2 1050.0L1741.6 1049.9L1742.0 1050.9L1742.4 1051.3L1742.7 1049.6L1743.1 1049.6L1743.5 1049.3L1744.2 1049.1L1744.6 1049.4L1745.0 1048.8L1745.4 1049.5L1745.8 1048.3L1746.1 1048.1L1746.5 1048.2L1747.3 1046.7L1748.0 1045.8L1748.4 1046.8L1748.8 1044.9L1749.5 1045.7L1750.3 1043.2L1751.0 1042.0L1751.8 1039.6L1753.3 1036.7L1753.7 1035.2L1754.1 1035.3L1754.4 1033.4L1755.2 1032.5L1755.6 1031.0L1756.3 1029.7L1757.5 1025.3L1757.8 1025.9L1759.0 1022.6L1759.4 1022.3L1759.7 1023.4L1760.1 1022.2L1760.5 1022.9L1760.9 1022.8L1761.2 1021.6L1761.6 1021.7L1762.0 1023.4L1762.4 1022.4L1763.1 1025.0L1763.5 1024.7L1763.9 1025.3L1764.3 1027.3L1765.4 1029.5L1765.8 1029.5L1766.5 1031.0L1766.9 1034.0L1767.3 1034.2L1768.0 1037.1L1768.4 1036.5L1768.8 1039.0L1769.2 1038.4L1769.9 1040.1L1770.3 1042.5L1770.7 1043.2L1771.1 1042.6L1771.8 1045.0L1772.6 1046.3L1773.0 1045.7L1773.3 1045.9L1774.1 1048.3L1774.5 1048.0L1774.8 1048.9L1775.2 1047.7L1776.0 1049.9L1776.3 1049.3L1776.7 1050.1L1777.1 1050.3L1777.5 1049.7L1777.9 1050.4L1778.2 1050.5L1778.6 1050.1L1779.0 1050.4L1779.4 1051.1L1780.1 1051.7L1780.5 1050.4L1780.9 1051.2L1781.3 1051.0L1781.6 1051.7L1782.0 1050.4L1782.4 1050.9L1782.8 1050.5L1783.1 1051.7L1783.5 1051.6L1783.9 1050.1L1784.7 1050.4L1785.0 1051.4L1785.4 1051.9L1786.2 1050.4L1786.5 1051.5L1786.9 1051.6L1787.7 1050.9L1788.1 1051.1L1788.4 1050.8L1788.8 1052.1L1789.2 1051.2L1789.6 1051.9L1790.3 1050.9L1791.1 1051.0L1791.8 1052.3L1792.6 1052.5L1793.0 1050.8L1793.3 1051.1L1794.1 1050.7L1796.0 1052.6L1797.1 1050.9L1797.5 1051.4L1797.9 1050.9L1798.6 1051.2L1799.0 1051.9L1800.1 1051.0L1800.5 1051.2L1800.9 1052.6L1801.7 1052.0L1802.0 1052.0L1802.4 1051.4L1803.2 1051.3L1803.5 1052.3L1803.9 1050.7L1805.1 1052.8L1806.2 1050.8L1806.6 1050.8L1808.1 1052.4L1809.6 1051.1L1812.6 1052.2L1814.1 1052.2L1815.6 1051.4L1817.1 1052.3L1818.6 1052.8L1820.2 1051.8L1821.7 1051.7L1824.7 1052.7L1826.2 1052.3L1827.7 1052.9L1829.2 1052.5L1830.7 1052.9L1832.2 1051.4L1833.8 1052.3L1835.3 1051.3L1836.8 1051.1L1838.3 1051.6L1839.8 1052.9L1841.3 1051.5L1842.8 1051.5L1844.3 1052.9L1845.8 1053.0L1847.4 1052.5L1848.9 1051.6L1850.4 1052.6L1851.9 1051.0L1854.9 1051.0L1856.4 1051.6L1857.9 1051.4L1859.4 1052.7L1860.9 1051.8L1862.5 1052.7L1864.0 1051.9L1867.0 1051.6L1868.5 1050.9" stroke="#ff0000"/>
<path d="M169.0 1225.3L170.5 1226.4L173.5 1226.4L175.0 1224.5L178.1 1226.1L179.6 1224.6L181.1 1224.5L182.6 1224.8L184.1 1224.5L185.6 1225.9L187.1 1225.9L188.6 1226.5L190.1 1224.4L191.7 1225.8L193.2 1226.0L194.7 1224.7L196.2 1224.5L197.7 1226.4L199.2 1226.0L200.7 1224.4L202.2 1224.7L203.7 1225.7L205.3 1224.6L206.8 1225.2L208.3 1224.6L209.8 1224.5L211.3 1225.3L212.8 1225.4L214.3 1226.1L215.8 1224.2L217.3 1225.0L218.9 1224.4L220.4 1225.4L221.9 1224.6L223.4 1224.9L224.9 1226.3L226.4 1225.6L229.4 1225.5L230.9 1224.6L232.4 1225.6L234.0 1226.3L235.5 1224.3L237.0 1225.9L238.5 1224.8L240.0 1224.5L241.5 1225.5L243.0 1225.9L244.5 1224.4L246.0 1224.4L247.6 1225.1L249.1 1224.4L250.6 1225.0L252.1 1226.0L253.6 1223.9L255.1 1224.7L256.6 1224.2L258.1 1224.0L261.2 1225.6L262.7 1224.5L268.7 1225.2L270.2 1223.6L271.7 1223.1L273.2 1224.5L274.7 1223.6L276.3 1223.9L277.8 1221.9L279.3 1222.9L280.0 1221.1L280.6 1220.9L281.5 1222.3L281.8 1221.0L282.1 1221.2L283.1 1219.4L283.8 1220.6L284.3 1219.5L284.9 1218.4L285.2 1218.3L285.3 1219.8L285.8 1218.0L286.1 1217.9L286.7 1216.6L287.0 1216.5L287.3 1217.0L287.6 1216.5L287.9 1214.6L288.2 1214.3L288.3 1213.4L288.5 1214.6L288.8 1212.0L289.1 1211.8L289.4 1209.7L289.7 1209.3L290.9 1200.5L292.4 1172.5L294.5 1060.5L297.6 803.1L298.2 789.4L298.5 792.9L299.4 839.6L303.6 1163.3L305.4 1201.4L305.7 1204.4L306.0 1205.5L306.3 1208.7L306.5 1208.2L306.6 1209.8L306.9 1210.0L307.2 1212.2L307.5 1212.4L307.8 1214.7L308.1 1214.1L308.4 1216.0L308.7 1214.7L309.0 1216.6L309.3 1216.9L309.5 1215.7L309.6 1216.9L309.9 1216.6L310.2 1218.9L310.5 1217.3L310.9 1218.8L311.0 1218.7L311.2 1218.0L311.5 1220.0L311.8 1219.5L312.1 1219.9L312.5 1219.2L312.7 1219.7L313.0 1219.2L313.6 1220.6L313.9 1220.6L314.0 1221.5L314.2 1220.2L314.5 1220.5L315.1 1221.9L315.7 1220.9L316.0 1221.5L316.3 1221.7L317.0 1222.9L318.6 1222.1L320.1 1222.7L321.6 1223.9L323.1 1222.9L324.6 1222.7L325.7 1224.9L326.1 1224.8L326.2 1223.5L326.7 1223.5L327.1 1223.9L327.6 1223.4L328.1 1224.7L328.6 1225.0L329.0 1224.6L329.1 1223.9L329.5 1224.9L330.0 1225.2L330.5 1223.5L330.6 1224.6L330.9 1223.5L331.4 1225.4L331.9 1225.0L332.2 1224.1L332.3 1224.9L332.8 1223.9L333.3 1223.4L333.7 1224.4L333.8 1223.4L334.7 1225.2L335.6 1223.9L336.1 1223.8L336.6 1224.6L336.7 1224.5L337.1 1225.3L337.5 1223.7L338.0 1224.4L338.9 1223.7L339.7 1224.5L339.9 1223.7L340.8 1224.4L341.2 1225.3L341.3 1224.3L341.8 1223.9L342.3 1223.2L342.7 1224.2L343.7 1223.1L344.2 1223.9L344.6 1223.1L345.1 1223.6L345.6 1222.8L345.7 1221.3L346.0 1220.8L346.5 1220.8L347.3 1218.8L348.4 1214.3L349.3 1208.0L350.8 1199.5L351.2 1199.1L351.7 1197.7L351.8 1197.9L353.3 1195.0L353.6 1195.9L354.1 1195.3L354.5 1195.3L354.6 1194.8L355.2 1196.7L355.5 1195.6L355.8 1196.0L355.9 1197.2L356.3 1196.6L356.4 1198.4L356.9 1199.1L357.4 1199.1L357.5 1198.5L358.0 1200.4L358.3 1199.8L358.6 1200.9L359.2 1202.2L359.3 1201.9L359.7 1202.1L360.2 1203.4L360.3 1202.8L360.7 1203.4L360.9 1202.7L361.1 1202.5L361.4 1203.8L361.6 1203.2L362.0 1205.1L362.1 1203.5L362.4 1205.2L362.6 1204.1L363.0 1204.0L363.1 1204.9L363.5 1204.5L363.7 1206.1L364.0 1204.3L364.3 1204.8L364.4 1204.5L364.9 1205.6L365.4 1205.3L365.9 1206.2L366.0 1205.7L366.3 1206.7L366.8 1205.5L366.9 1206.8L367.1 1205.1L367.3 1205.6L367.7 1205.2L367.7 1207.3L368.2 1206.5L368.7 1207.6L368.8 1205.6L369.2 1207.5L369.4 1205.6L369.6 1207.1L369.9 1207.4L370.1 1206.5L370.5 1207.7L371.6 1206.1L372.0 1207.2L372.2 1207.2L372.5 1206.5L372.8 1207.3L372.9 1206.4L373.3 1206.9L373.4 1207.7L373.9 1206.7L374.4 1207.5L374.5 1206.7L374.8 1208.4L375.0 1206.9L375.3 1208.6L375.8 1208.7L376.0 1207.2L376.2 1208.1L376.2 1206.8L376.7 1208.8L377.2 1208.3L377.3 1206.8L377.5 1207.1L377.7 1207.0L378.1 1208.9L378.4 1208.6L378.6 1207.6L379.0 1208.6L379.1 1206.9L379.5 1208.1L380.0 1207.7L380.1 1207.1L380.5 1208.9L380.7 1208.3L381.0 1209.1L381.2 1208.3L381.4 1208.2L381.8 1207.1L382.0 1208.8L382.4 1208.1L382.9 1208.2L384.1 1207.5L384.6 1206.7L385.0 1207.1L386.3 1206.7L386.5 1208.2L386.9 1208.7L387.5 1208.1L388.0 1208.5L388.6 1207.2L389.2 1208.7L389.6 1207.8L389.7 1208.9L390.3 1207.7L390.9 1208.0L391.1 1208.6L391.4 1208.1L392.0 1208.4L392.6 1209.6L393.7 1210.6L394.3 1209.3L395.6 1210.3L396.0 1211.1L396.5 1210.5L397.1 1211.5L397.7 1210.6L398.2 1210.6L398.6 1209.8L398.8 1210.4L399.4 1210.9L399.9 1210.0L400.1 1210.9L400.5 1210.3L401.1 1210.7L401.6 1212.2L402.2 1212.3L402.8 1210.6L403.2 1211.7L403.9 1210.6L404.5 1211.3L404.7 1211.8L405.0 1211.6L405.6 1212.0L406.2 1211.0L406.7 1212.2L407.3 1212.3L407.7 1211.4L407.9 1212.3L408.4 1213.1L409.0 1213.1L409.2 1212.5L409.6 1212.4L410.1 1212.9L410.7 1212.4L411.3 1213.0L411.8 1212.3L412.4 1213.2L413.0 1212.9L413.5 1213.0L413.7 1212.5L414.1 1212.5L414.7 1213.2L415.2 1212.8L416.7 1212.7L416.9 1213.4L417.5 1214.0L418.1 1212.6L418.3 1213.6L418.6 1213.4L419.8 1213.8L420.9 1212.5L421.5 1213.7L422.8 1214.7L424.3 1214.2L425.8 1214.4L427.3 1213.9L428.8 1215.0L430.3 1213.7L431.9 1215.5L433.4 1214.7L434.9 1214.8L436.4 1215.5L437.9 1215.3L439.4 1216.4L440.9 1214.6L442.4 1214.6L443.9 1215.9L445.5 1215.2L447.0 1215.3L448.5 1217.1L450.0 1216.2L451.5 1215.8L452.2 1216.0L453.4 1215.6L453.9 1217.5L455.6 1215.7L456.0 1217.7L456.8 1215.8L457.3 1217.5L457.5 1216.8L457.9 1217.8L458.5 1216.7L459.0 1216.7L459.6 1215.8L460.2 1217.1L460.6 1216.4L460.7 1217.8L461.3 1216.4L461.9 1217.9L462.1 1216.7L462.4 1217.7L463.0 1217.6L463.6 1218.1L465.3 1216.7L465.8 1216.4L466.6 1216.9L467.0 1218.1L467.5 1216.3L468.1 1217.4L468.7 1217.5L469.2 1216.7L469.6 1217.9L469.8 1216.9L470.4 1218.1L470.9 1216.8L471.1 1218.4L471.5 1217.2L472.1 1216.7L473.2 1217.0L473.8 1216.9L474.2 1217.3L474.3 1218.7L474.9 1217.4L475.5 1217.5L475.7 1218.2L476.0 1216.7L476.6 1216.8L477.2 1218.5L477.7 1217.2L478.3 1216.9L478.7 1216.8L478.9 1218.1L479.4 1218.5L480.0 1217.2L480.2 1217.8L481.1 1216.6L482.3 1216.7L482.8 1216.4L483.2 1217.5L483.4 1215.9L484.5 1217.2L484.7 1215.6L485.1 1217.7L485.7 1216.9L486.2 1217.0L486.8 1216.0L487.4 1216.1L487.9 1217.9L488.5 1215.9L489.1 1217.9L489.3 1216.6L489.6 1216.4L490.2 1217.7L490.8 1216.8L491.3 1218.6L491.9 1218.7L492.5 1217.3L493.6 1218.9L493.8 1217.4L494.2 1218.9L494.7 1217.8L495.3 1218.4L495.9 1218.1L496.4 1217.9L496.8 1219.0L497.0 1218.5L497.6 1219.9L498.1 1220.0L498.7 1219.2L499.3 1219.5L499.8 1218.9L501.0 1219.4L501.3 1219.2L502.1 1220.2L502.7 1220.5L502.9 1220.0L503.2 1220.3L503.8 1219.1L504.4 1218.6L505.5 1219.6L505.9 1220.2L506.1 1220.1L506.6 1220.6L507.2 1220.3L507.4 1219.3L507.8 1218.7L508.3 1219.7L508.9 1219.4L509.5 1220.6L510.0 1220.7L510.4 1219.9L510.6 1220.5L511.2 1220.4L511.9 1219.8L512.3 1221.0L513.4 1220.2L514.0 1221.1L514.6 1219.3L514.9 1220.7L515.1 1220.2L516.3 1219.3L516.5 1220.3L516.8 1221.0L517.4 1219.5L518.0 1221.1L518.5 1221.3L519.1 1219.6L519.5 1220.4L521.0 1219.5L522.5 1219.9L524.0 1221.5L525.5 1221.3L527.0 1221.6L528.5 1220.7L530.0 1220.8L531.6 1219.9L533.1 1220.7L534.6 1221.1L536.1 1222.1L537.6 1220.1L539.1 1221.5L540.6 1220.2L542.1 1222.3L543.6 1220.6L545.2 1221.8L546.7 1221.7L548.2 1220.8L549.7 1221.4L551.2 1221.4L552.7 1220.9L554.2 1221.4L555.7 1220.7L557.2 1222.2L558.8 1222.8L560.3 1221.9L561.8 1221.7L563.3 1222.0L564.8 1221.2L566.3 1222.6L567.8 1222.5L569.3 1221.3L570.8 1221.9L572.3 1221.4L573.9 1222.7L575.4 1221.2L576.9 1223.2L578.4 1221.4L579.9 1223.2L581.4 1221.8L582.9 1222.6L585.9 1223.6L587.5 1223.5L589.0 1221.9L590.5 1223.2L593.5 1222.0L595.0 1222.7L596.5 1223.8L598.0 1221.8L599.5 1223.4L601.1 1223.0L602.6 1223.8L604.1 1223.0L605.6 1222.5L607.1 1223.9L608.6 1222.3L610.1 1223.6L611.6 1222.7L613.1 1222.2L614.6 1222.5L616.2 1224.0L617.7 1222.5L619.2 1224.3L620.7 1222.6L622.2 1224.3L623.7 1222.4L625.2 1223.8L626.7 1223.5L628.2 1223.7L629.8 1224.5L631.3 1223.0L632.8 1224.7L634.3 1223.8L635.8 1224.3L637.3 1223.1L638.8 1224.8L643.3 1223.1L644.9 1224.6L646.4 1223.9L647.9 1224.9L650.9 1224.4L652.4 1224.4L653.9 1223.2L655.4 1224.7L656.9 1224.4L658.5 1223.1L661.5 1223.1L663.0 1223.4L664.5 1224.6L667.5 1224.5L669.0 1223.8L670.5 1225.1L672.1 1223.4L673.6 1223.6L675.1 1224.1L676.6 1223.7L678.1 1224.8L679.6 1225.0L681.1 1224.8L682.6 1223.9L684.1 1224.5L685.6 1223.9L687.2 1224.5L688.7 1224.4L690.2 1223.6L691.7 1225.2L694.7 1225.0L696.2 1223.5L697.7 1223.9L699.2 1225.0L700.8 1225.2L702.3 1224.8L703.8 1225.5L705.3 1224.4L706.8 1223.9L708.3 1224.5L709.8 1224.1L711.3 1224.3L712.8 1225.2L714.4 1224.2L715.9 1225.1L717.4 1224.8L718.9 1223.6L720.4 1224.7L721.9 1225.5L723.4 1225.0L724.9 1225.5L726.4 1225.0L727.9 1225.8L729.5 1223.7L731.0 1224.6L732.5 1224.1L734.0 1225.3L735.5 1224.3L737.0 1225.2L738.5 1225.1L740.0 1223.8L741.5 1225.1L743.1 1224.5L744.6 1224.3L746.1 1225.2L747.6 1225.2L749.1 1224.2L750.6 1225.3L752.1 1224.0L753.6 1223.9L755.1 1225.8L759.7 1226.0L762.7 1225.1L765.7 1225.1L767.2 1226.0L768.7 1226.0L770.2 1224.9L771.8 1224.3L773.3 1225.1L774.8 1224.9L776.3 1225.7L777.8 1226.0L779.3 1225.3L780.8 1224.1L782.3 1225.1L783.8 1224.2L785.4 1225.1L786.9 1225.8L789.9 1225.0L791.4 1224.3L792.9 1226.0L794.4 1225.9L797.4 1224.1L798.9 1225.5L800.5 1224.9L803.5 1224.9L806.5 1224.4L808.0 1225.5L811.0 1225.0L812.5 1225.7L815.6 1224.4L817.1 1224.7L818.6 1225.3L820.1 1225.5L821.6 1225.5L823.1 1225.7L824.6 1224.9L826.1 1225.8L827.7 1225.4L829.2 1224.7L830.7 1224.4L832.2 1225.5L833.7 1226.0L835.2 1226.2L836.7 1225.9L838.2 1225.9L841.2 1224.7L842.8 1224.8L844.3 1226.0L845.8 1224.7L847.3 1225.2L848.8 1225.3L850.3 1224.1L853.3 1224.5L854.8 1225.9L856.4 1225.8L857.9 1224.3L859.4 1224.4L860.9 1226.3L862.4 1224.4L863.9 1225.8L865.4 1225.4L866.9 1226.0L868.4 1225.7L869.9 1224.3L871.5 1225.7L873.0 1225.6L874.5 1224.1L876.0 1226.1L877.5 1224.6L879.0 1225.0L883.5 1225.2L885.1 1224.1L886.6 1225.8L889.6 1224.1L891.1 1224.9L892.6 1224.2L895.6 1225.3L897.1 1225.3L898.7 1224.0L900.2 1224.2L901.7 1225.6L904.7 1223.7L905.3 1224.6L906.2 1223.4L906.4 1224.7L907.0 1223.4L907.5 1223.5L907.7 1224.6L908.1 1225.2L908.7 1223.2L909.2 1224.7L909.8 1223.3L910.9 1222.9L911.5 1224.4L912.1 1224.7L912.2 1222.7L912.6 1223.0L913.2 1222.7L913.8 1223.4L914.9 1222.8L915.3 1224.1L915.5 1222.5L916.0 1223.5L916.6 1222.4L916.8 1223.4L917.2 1222.2L917.7 1222.2L918.3 1223.8L918.9 1222.1L919.8 1222.7L920.0 1223.4L921.1 1221.0L921.3 1222.1L922.3 1221.4L922.8 1220.5L923.4 1221.0L924.0 1218.7L924.3 1219.3L924.5 1219.0L925.1 1218.8L925.7 1217.3L925.8 1215.7L926.8 1213.6L927.9 1207.4L928.5 1206.1L930.2 1189.8L930.4 1189.8L934.2 1132.9L937.0 1088.3L937.6 1082.3L937.9 1080.9L938.1 1078.7L938.7 1077.5L939.3 1078.4L940.4 1088.0L945.5 1169.6L947.2 1190.6L948.3 1202.0L948.5 1202.0L950.6 1213.9L951.1 1215.3L951.5 1217.0L951.7 1216.9L952.3 1218.1L952.8 1218.6L953.0 1219.8L953.4 1219.4L954.0 1219.3L954.5 1220.0L955.1 1221.7L955.7 1220.4L956.1 1220.8L956.2 1221.9L956.8 1222.2L957.4 1222.0L957.6 1222.4L957.9 1222.0L958.5 1222.6L959.1 1221.5L960.2 1223.8L960.8 1222.5L961.9 1224.1L962.1 1223.0L962.5 1222.9L963.0 1223.9L963.6 1224.0L964.2 1222.7L964.7 1223.7L965.1 1222.9L965.9 1224.1L966.4 1223.1L966.6 1224.4L967.0 1223.5L967.6 1224.3L968.1 1222.7L968.7 1223.3L969.3 1222.5L969.7 1224.3L969.8 1224.4L970.4 1223.5L971.0 1223.5L971.2 1224.6L971.5 1223.3L972.7 1222.7L973.2 1224.4L973.8 1224.2L974.2 1223.5L974.4 1224.0L974.9 1224.2L975.5 1223.8L975.7 1222.5L976.1 1223.7L976.6 1224.1L977.2 1223.2L977.8 1223.0L978.3 1223.4L978.7 1222.4L980.0 1224.0L980.2 1222.0L980.6 1223.1L981.2 1222.6L981.7 1221.5L982.3 1221.6L982.9 1222.5L983.0 1221.2L983.6 1222.4L984.0 1222.6L984.6 1220.5L984.6 1221.3L985.7 1220.4L985.7 1219.9L986.2 1219.0L986.3 1219.8L986.7 1219.6L987.3 1218.1L987.4 1218.4L987.8 1216.0L988.0 1216.2L988.3 1215.8L988.8 1212.2L989.3 1212.2L989.4 1210.5L989.7 1209.6L989.9 1209.7L991.0 1203.0L991.4 1199.1L991.5 1199.2L994.1 1171.9L998.2 1120.9L998.4 1121.1L998.9 1116.4L999.3 1116.1L999.4 1114.2L999.9 1114.2L999.9 1114.7L1000.4 1115.1L1000.5 1114.1L1001.0 1116.2L1001.6 1121.8L1002.1 1124.8L1004.7 1155.3L1005.0 1156.7L1006.8 1175.8L1007.9 1183.1L1008.9 1186.4L1009.5 1186.3L1010.1 1188.0L1010.4 1187.3L1010.5 1187.9L1010.6 1187.0L1011.0 1186.7L1011.2 1186.2L1011.8 1186.4L1012.0 1185.2L1012.1 1186.8L1012.3 1184.5L1012.6 1185.8L1012.9 1184.7L1013.2 1185.9L1013.7 1183.8L1014.0 1185.4L1014.2 1184.9L1014.6 1186.4L1015.0 1186.3L1015.3 1187.6L1015.8 1188.2L1016.3 1191.0L1016.5 1190.5L1017.4 1195.4L1017.4 1194.9L1018.4 1200.3L1019.0 1203.8L1019.1 1203.1L1019.7 1207.7L1020.0 1208.3L1020.3 1210.1L1020.6 1209.7L1022.1 1216.3L1022.5 1217.2L1022.7 1216.0L1023.2 1218.5L1023.7 1218.6L1023.7 1218.2L1024.0 1220.6L1024.3 1219.6L1024.8 1220.4L1025.4 1222.5L1025.9 1222.8L1026.4 1222.3L1026.5 1221.5L1026.9 1222.2L1027.1 1222.0L1027.6 1222.3L1028.0 1222.9L1028.2 1222.4L1028.5 1223.0L1028.6 1224.3L1028.8 1223.0L1029.3 1224.5L1029.6 1222.7L1029.9 1224.4L1030.5 1223.0L1030.6 1224.9L1031.0 1224.8L1031.1 1223.3L1031.6 1225.2L1031.7 1224.4L1032.2 1224.6L1032.2 1223.7L1032.7 1223.4L1033.1 1224.9L1033.3 1224.9L1033.3 1223.8L1033.8 1223.5L1033.9 1224.7L1034.3 1224.2L1034.6 1224.3L1034.8 1225.5L1035.9 1223.9L1036.1 1225.2L1036.4 1225.3L1037.0 1225.0L1037.5 1225.9L1037.6 1224.9L1038.0 1225.3L1038.5 1224.0L1039.6 1224.9L1040.1 1225.1L1040.7 1224.3L1041.2 1225.6L1041.7 1224.2L1042.2 1224.7L1042.2 1225.4L1042.8 1224.2L1043.3 1224.9L1043.7 1226.0L1044.9 1224.6L1045.2 1225.9L1045.4 1226.2L1045.9 1224.5L1046.7 1225.2L1049.7 1225.9L1051.2 1224.9L1052.7 1226.3L1054.3 1225.9L1057.3 1226.7L1058.8 1226.2L1060.3 1226.2L1061.8 1225.4L1063.3 1225.3L1064.8 1225.6L1066.3 1226.6L1069.4 1225.4L1070.9 1226.8L1072.4 1226.0L1073.9 1227.0L1075.4 1226.3L1076.9 1226.5L1078.4 1225.7L1079.9 1227.1L1081.4 1226.0L1083.0 1226.4L1083.9 1225.8L1084.5 1226.1L1084.8 1225.3L1086.0 1225.9L1086.7 1226.6L1087.5 1225.3L1088.6 1226.4L1089.0 1226.0L1089.6 1226.9L1090.5 1225.0L1092.0 1226.8L1093.3 1225.8L1093.5 1226.1L1094.3 1225.9L1095.0 1225.0L1096.2 1225.5L1096.5 1226.9L1097.1 1225.4L1098.1 1225.6L1099.6 1226.5L1100.9 1225.7L1101.1 1225.7L1101.8 1225.0L1102.6 1226.7L1102.8 1225.8L1104.1 1225.4L1104.7 1226.0L1105.6 1225.3L1106.6 1225.7L1107.1 1225.2L1108.4 1226.1L1108.6 1225.6L1109.4 1225.1L1110.1 1226.8L1110.3 1225.0L1111.3 1225.8L1112.2 1225.0L1114.1 1225.8L1114.7 1226.3L1115.1 1225.3L1116.0 1225.5L1116.2 1226.7L1117.7 1225.6L1117.9 1225.0L1119.2 1226.5L1119.8 1224.9L1120.7 1226.1L1121.7 1224.9L1122.2 1225.0L1122.6 1223.9L1123.7 1224.1L1124.5 1223.8L1125.4 1225.2L1126.4 1223.4L1126.8 1224.3L1127.3 1223.0L1128.3 1223.1L1129.2 1221.8L1129.8 1223.0L1130.2 1222.0L1131.1 1221.6L1131.3 1221.9L1132.0 1220.8L1132.8 1220.3L1133.0 1220.6L1133.9 1219.5L1134.3 1219.5L1134.9 1218.6L1135.8 1217.7L1136.8 1217.5L1137.3 1218.9L1137.7 1217.9L1138.7 1216.5L1139.6 1217.6L1140.4 1217.5L1140.5 1218.6L1141.5 1218.6L1141.9 1216.9L1142.4 1218.8L1143.4 1219.6L1144.3 1219.6L1144.9 1220.4L1145.3 1219.3L1147.2 1221.5L1147.9 1221.8L1148.1 1222.1L1149.0 1221.6L1149.4 1222.8L1150.0 1222.7L1150.9 1224.0L1151.9 1223.1L1152.8 1224.7L1154.0 1224.7L1154.7 1223.8L1155.5 1224.0L1156.6 1225.4L1157.0 1224.1L1157.5 1225.6L1158.5 1224.6L1160.0 1225.1L1160.4 1225.8L1161.3 1226.2L1161.5 1226.7L1162.3 1225.2L1163.0 1225.0L1163.2 1226.7L1164.2 1226.1L1164.5 1226.9L1165.1 1226.4L1166.0 1225.2L1167.0 1225.7L1167.6 1225.4L1167.9 1225.9L1168.9 1225.6L1169.1 1226.9L1169.8 1226.9L1170.6 1225.4L1170.8 1227.2L1171.7 1227.1L1172.1 1225.8L1172.6 1226.9L1173.6 1227.1L1174.5 1226.6L1175.1 1225.8L1175.5 1226.4L1176.4 1226.7L1176.6 1225.8L1177.4 1226.1L1178.1 1225.2L1179.3 1226.8L1179.6 1225.7L1180.2 1226.5L1181.1 1225.9L1182.1 1226.5L1183.0 1225.2L1184.0 1226.4L1184.2 1225.5L1184.9 1225.4L1186.8 1226.8L1187.8 1225.8L1188.7 1225.8L1189.6 1226.1L1190.2 1225.1L1191.5 1226.1L1191.7 1226.8L1193.2 1225.1L1193.4 1226.8L1194.4 1226.4L1194.7 1225.1L1195.3 1225.4L1195.5 1224.6L1196.1 1226.2L1196.3 1225.0L1196.6 1226.3L1197.2 1226.0L1197.8 1226.1L1199.3 1224.4L1199.5 1225.6L1200.0 1224.2L1200.8 1225.8L1201.2 1224.4L1201.7 1225.0L1202.3 1225.2L1202.9 1224.2L1203.4 1224.3L1203.8 1225.1L1204.0 1224.1L1205.1 1224.1L1205.3 1225.6L1205.7 1225.5L1206.3 1223.6L1206.8 1224.5L1207.4 1224.0L1208.0 1223.1L1208.3 1223.5L1208.5 1224.3L1209.1 1222.7L1209.7 1224.6L1209.8 1223.1L1210.2 1223.1L1210.8 1224.2L1211.4 1222.2L1211.9 1221.9L1212.5 1222.3L1213.1 1221.6L1214.2 1221.9L1214.8 1219.2L1215.9 1218.9L1217.0 1214.1L1218.2 1209.9L1219.3 1203.5L1221.0 1187.1L1222.7 1161.9L1227.2 1073.9L1228.0 1062.8L1228.9 1054.6L1229.5 1053.9L1230.1 1054.5L1230.6 1058.4L1231.8 1073.0L1237.0 1174.6L1239.7 1203.6L1240.1 1204.9L1240.3 1207.0L1241.4 1213.5L1241.6 1212.8L1242.0 1215.7L1242.5 1217.9L1243.1 1217.9L1244.2 1220.9L1244.6 1220.4L1244.8 1221.8L1245.3 1222.8L1245.9 1221.5L1246.1 1222.2L1246.5 1221.8L1247.0 1223.0L1247.6 1222.9L1248.2 1224.5L1248.7 1224.2L1249.1 1224.9L1249.3 1224.5L1249.9 1224.7L1250.4 1223.9L1250.6 1224.6L1251.0 1223.5L1251.6 1224.1L1252.1 1225.5L1252.7 1225.8L1253.3 1224.1L1253.7 1224.9L1253.8 1224.7L1254.4 1225.3L1255.0 1225.3L1255.2 1224.6L1255.5 1226.1L1256.1 1225.2L1256.7 1226.0L1257.2 1225.9L1257.8 1226.6L1258.2 1225.6L1258.9 1226.2L1259.7 1224.7L1260.1 1226.4L1260.6 1226.2L1261.8 1226.6L1262.3 1225.3L1262.7 1226.8L1262.9 1226.3L1263.5 1227.0L1264.2 1226.2L1265.7 1227.0L1267.3 1225.3L1268.8 1225.6L1270.3 1226.5L1271.8 1226.9L1274.8 1225.6L1276.3 1227.5L1277.8 1225.7L1279.3 1227.6L1280.9 1226.2L1282.4 1227.2L1283.9 1227.0L1285.4 1226.3L1286.9 1226.5L1288.4 1226.3L1289.9 1227.0L1291.4 1226.5L1292.9 1227.1L1296.0 1226.2L1297.5 1227.5L1299.0 1226.5L1300.5 1228.1L1302.0 1226.9L1303.5 1226.6L1305.0 1227.6L1306.5 1228.0L1308.0 1226.9L1309.6 1227.7L1311.1 1226.8L1312.6 1228.3L1314.1 1226.7L1315.6 1226.2L1317.1 1226.1L1318.6 1227.3L1320.1 1227.5L1321.6 1226.8L1323.1 1227.0L1326.2 1226.9L1327.7 1226.6L1329.2 1227.3L1330.7 1227.6L1332.2 1226.2L1333.7 1228.1L1335.2 1226.7L1336.7 1227.2L1338.3 1226.6L1339.8 1227.6L1341.3 1227.0L1342.8 1227.4L1344.3 1227.0L1345.8 1227.2L1347.3 1226.2L1348.8 1228.2L1349.4 1226.9L1350.0 1226.7L1350.3 1227.8L1350.6 1226.6L1351.2 1227.7L1352.5 1226.2L1353.1 1227.2L1353.4 1226.5L1353.7 1226.3L1354.3 1228.1L1354.9 1227.9L1355.5 1226.9L1356.1 1227.6L1356.7 1226.5L1357.3 1226.1L1357.9 1227.0L1358.5 1226.1L1359.1 1227.3L1359.7 1226.1L1360.3 1227.3L1360.9 1227.7L1361.5 1226.6L1362.1 1227.6L1362.7 1225.5L1363.3 1226.4L1363.9 1226.1L1364.5 1227.2L1365.1 1226.3L1365.4 1227.2L1365.8 1225.4L1366.4 1225.8L1367.0 1224.9L1367.6 1224.8L1368.2 1226.1L1368.5 1224.5L1369.4 1225.1L1370.0 1225.8L1370.6 1224.0L1371.2 1223.0L1371.5 1224.3L1371.8 1224.0L1372.4 1222.0L1373.0 1222.9L1374.2 1220.7L1374.8 1218.4L1375.4 1217.0L1376.0 1213.7L1376.6 1212.6L1378.4 1202.7L1379.0 1200.9L1380.3 1191.9L1380.6 1191.1L1380.9 1188.2L1381.5 1185.7L1382.1 1181.4L1382.7 1180.1L1383.3 1176.1L1383.9 1173.9L1384.5 1174.1L1385.1 1171.7L1386.3 1173.9L1386.6 1175.9L1386.9 1176.2L1387.5 1179.9L1388.1 1181.8L1389.9 1192.3L1391.1 1200.5L1392.3 1206.1L1394.2 1215.0L1394.8 1215.9L1395.7 1218.2L1396.0 1220.5L1396.6 1221.5L1397.2 1221.4L1397.8 1222.6L1398.4 1223.2L1398.7 1224.9L1399.0 1224.0L1399.6 1225.2L1400.2 1224.2L1400.8 1224.4L1401.4 1225.0L1401.7 1226.0L1402.0 1225.7L1402.6 1226.8L1403.2 1226.8L1403.8 1226.6L1404.4 1227.5L1405.0 1227.3L1405.6 1225.6L1406.2 1226.4L1406.8 1225.9L1407.4 1227.0L1407.7 1226.8L1408.0 1225.9L1408.7 1225.9L1409.3 1226.8L1409.9 1227.2L1410.5 1226.8L1411.1 1227.3L1412.3 1227.6L1413.5 1226.5L1413.8 1228.0L1414.1 1226.2L1414.7 1226.6L1415.3 1226.6L1415.9 1227.5L1416.5 1227.6L1416.8 1226.5L1417.1 1227.4L1418.3 1227.8L1418.9 1226.5L1419.5 1227.9L1419.8 1227.0L1420.1 1227.2L1420.7 1226.7L1421.3 1228.3L1422.9 1227.8L1424.4 1228.3L1427.4 1226.8L1428.9 1227.5L1430.4 1226.8L1431.9 1226.8L1433.4 1228.4L1434.9 1226.7L1436.4 1227.6L1438.0 1226.8L1439.5 1228.4L1441.0 1228.9L1442.5 1226.8L1444.0 1227.6L1445.5 1229.0L1447.0 1227.4L1448.5 1227.5L1450.0 1229.0L1451.6 1228.9L1453.1 1227.7L1454.6 1228.4L1456.1 1228.6L1459.1 1226.9L1463.6 1229.1L1465.2 1227.9L1468.2 1227.8L1469.7 1228.3L1471.2 1227.1L1472.7 1229.0L1474.2 1229.1L1475.7 1227.1L1477.2 1227.1L1478.7 1227.7L1480.3 1227.4L1481.8 1228.8L1483.3 1229.0L1484.8 1228.3L1486.3 1229.2L1487.8 1227.6L1489.3 1227.5L1490.8 1228.0L1492.3 1228.1L1493.9 1227.6L1495.4 1229.2L1496.9 1228.8L1498.4 1227.8L1499.9 1227.7L1502.9 1228.1L1504.4 1228.6L1507.5 1229.3L1509.0 1227.4L1512.0 1228.1L1513.5 1229.3L1515.0 1228.3L1516.5 1228.8L1518.0 1229.1L1519.5 1228.3L1521.0 1228.1L1522.6 1229.0L1524.1 1228.7L1525.6 1229.5L1527.1 1227.9L1528.6 1229.4L1530.1 1228.4L1531.6 1229.2L1533.1 1228.7L1534.6 1228.6L1536.2 1229.2L1537.7 1227.5L1540.7 1228.4L1542.2 1229.1L1543.7 1227.7L1545.2 1229.1L1546.7 1227.5L1548.2 1228.1L1549.7 1228.4L1551.3 1228.9L1552.8 1228.5L1554.3 1229.2L1555.8 1228.9L1557.3 1228.2L1558.8 1228.5L1560.3 1228.2L1561.8 1229.3L1563.3 1228.0L1564.9 1227.8L1567.9 1227.9L1569.4 1229.1L1570.9 1228.9L1572.4 1227.9L1573.9 1228.3L1575.4 1229.3L1576.9 1229.5L1578.5 1227.9L1580.0 1229.4L1581.5 1227.5L1583.0 1229.6L1584.5 1228.1L1586.0 1229.5L1587.5 1227.4L1589.0 1228.9L1590.5 1229.4L1592.0 1229.2L1592.8 1228.6L1593.6 1227.7L1593.9 1227.9L1595.1 1229.4L1596.2 1229.3L1596.6 1227.9L1597.3 1228.1L1598.1 1228.7L1598.5 1228.0L1599.6 1227.8L1600.7 1229.3L1601.1 1227.6L1601.9 1228.8L1602.6 1228.3L1604.1 1229.3L1605.6 1229.1L1606.4 1227.4L1607.2 1229.1L1607.5 1229.1L1608.7 1227.4L1609.8 1227.8L1610.2 1229.0L1610.9 1229.3L1611.7 1228.5L1612.1 1229.3L1613.2 1227.5L1614.3 1227.9L1614.7 1229.1L1615.5 1229.1L1616.2 1227.8L1616.6 1228.6L1617.7 1228.3L1618.9 1228.9L1619.2 1228.2L1620.0 1228.0L1620.8 1229.0L1622.3 1228.1L1623.4 1228.8L1623.8 1227.8L1624.5 1228.4L1625.3 1227.7L1625.7 1228.0L1626.8 1228.2L1627.9 1227.4L1628.3 1227.9L1629.8 1227.9L1631.3 1229.1L1632.5 1229.0L1632.8 1227.7L1634.3 1227.2L1634.7 1229.0L1637.0 1228.5L1637.4 1228.8L1638.1 1227.7L1639.3 1226.9L1641.5 1228.1L1641.9 1226.5L1642.7 1227.2L1643.4 1226.3L1644.9 1227.0L1646.1 1226.9L1646.4 1227.5L1647.2 1225.9L1647.9 1225.5L1648.3 1225.0L1649.5 1224.9L1651.0 1224.0L1651.7 1224.0L1652.5 1224.6L1652.9 1224.3L1654.0 1224.9L1655.1 1223.6L1655.5 1222.6L1656.3 1222.5L1657.4 1224.1L1658.5 1223.3L1659.7 1222.1L1660.8 1222.5L1661.5 1222.5L1661.9 1222.2L1664.2 1222.0L1664.6 1223.9L1666.1 1224.6L1666.4 1223.4L1667.6 1224.4L1669.1 1223.7L1669.8 1223.7L1670.6 1224.7L1671.0 1225.9L1673.2 1225.4L1673.6 1226.0L1674.4 1226.4L1675.1 1225.8L1676.6 1227.8L1677.8 1227.0L1678.2 1228.3L1678.9 1227.8L1679.7 1226.6L1680.0 1228.4L1682.3 1227.7L1682.7 1227.1L1683.4 1228.2L1684.2 1227.3L1684.6 1227.9L1685.7 1227.3L1686.8 1227.9L1687.2 1229.2L1688.0 1228.4L1688.7 1228.2L1689.1 1228.5L1691.4 1228.5L1691.8 1227.8L1692.5 1227.7L1693.6 1229.3L1694.8 1229.1L1696.3 1227.9L1697.0 1228.5L1697.8 1227.4L1698.2 1228.4L1700.4 1229.4L1700.8 1227.5L1701.6 1227.7L1703.8 1229.4L1705.0 1227.5L1705.3 1227.6L1706.9 1229.0L1707.2 1227.4L1709.5 1228.8L1709.9 1228.2L1710.6 1227.7L1711.4 1227.4L1711.8 1229.0L1712.9 1228.4L1714.0 1228.4L1714.4 1228.8L1715.2 1228.9L1716.0 1228.1L1716.3 1229.3L1716.8 1227.4L1717.4 1228.9L1717.5 1228.3L1718.3 1228.4L1718.6 1227.8L1718.9 1229.3L1719.1 1227.9L1719.7 1227.9L1719.9 1227.3L1720.5 1229.2L1720.7 1229.0L1720.8 1227.3L1722.0 1227.8L1722.3 1227.2L1723.5 1229.0L1724.2 1228.3L1724.7 1229.3L1725.0 1227.8L1725.5 1227.7L1726.3 1228.4L1727.1 1227.4L1727.6 1228.2L1727.9 1229.2L1728.7 1228.4L1728.8 1228.9L1729.5 1228.1L1730.2 1228.5L1731.0 1227.4L1731.8 1228.2L1732.5 1228.0L1732.6 1227.6L1733.4 1228.0L1734.1 1227.2L1734.2 1228.2L1735.0 1227.0L1735.6 1227.7L1735.8 1226.9L1736.6 1227.9L1737.1 1226.9L1737.4 1228.4L1738.2 1226.6L1738.6 1228.3L1739.0 1227.1L1739.8 1228.5L1740.1 1227.1L1740.5 1226.6L1741.3 1227.6L1741.6 1226.6L1742.1 1227.8L1742.9 1226.8L1743.1 1226.3L1743.7 1226.8L1745.3 1225.0L1746.1 1224.8L1746.9 1224.2L1747.7 1224.1L1748.5 1223.6L1749.2 1222.7L1749.3 1222.8L1750.7 1220.2L1750.9 1220.7L1751.6 1217.6L1752.2 1216.7L1752.4 1215.6L1753.2 1215.6L1753.7 1214.3L1754.0 1212.4L1754.8 1211.0L1755.2 1209.3L1755.6 1208.8L1756.4 1206.3L1756.7 1204.1L1758.0 1200.3L1758.2 1200.8L1758.8 1198.1L1759.6 1195.7L1759.7 1194.6L1760.4 1194.0L1761.2 1193.9L1761.2 1192.7L1762.8 1192.7L1764.3 1193.3L1764.3 1192.9L1765.1 1193.8L1765.8 1196.7L1766.7 1198.7L1767.3 1198.8L1767.5 1200.8L1768.3 1203.3L1768.8 1203.7L1769.9 1207.8L1770.7 1209.5L1771.8 1213.4L1772.3 1213.7L1773.1 1217.3L1773.3 1217.1L1774.8 1219.9L1775.4 1221.5L1776.2 1223.0L1776.3 1222.5L1777.0 1223.9L1777.8 1224.5L1777.9 1225.0L1779.4 1226.1L1779.4 1224.5L1780.2 1225.7L1780.9 1225.5L1781.0 1227.1L1781.8 1226.0L1782.4 1227.8L1782.6 1226.6L1783.4 1226.4L1783.9 1227.7L1784.2 1226.6L1785.4 1227.4L1785.8 1227.9L1786.5 1227.7L1788.1 1228.9L1788.4 1228.1L1788.9 1227.7L1789.7 1228.0L1789.9 1227.6L1790.5 1228.7L1791.3 1228.2L1791.5 1228.5L1792.1 1228.8L1792.9 1228.6L1793.0 1229.0L1793.7 1228.1L1795.3 1229.1L1796.0 1228.2L1796.1 1229.0L1796.9 1227.8L1797.5 1227.6L1797.6 1229.1L1798.4 1228.5L1799.0 1229.4L1799.2 1228.6L1800.5 1227.6L1800.8 1229.3L1801.6 1227.9L1802.0 1227.7L1802.4 1228.5L1803.2 1228.9L1803.5 1228.6L1804.0 1227.5L1804.8 1229.1L1805.6 1228.1L1806.4 1229.5L1806.6 1228.5L1807.2 1229.1L1808.0 1227.7L1808.1 1228.1L1808.8 1229.1L1810.3 1229.0L1811.1 1227.6L1812.6 1229.4L1814.1 1227.6L1815.6 1228.1L1817.1 1228.2L1818.6 1228.7L1820.2 1227.8L1821.7 1228.6L1823.2 1227.9L1824.7 1228.4L1826.2 1228.4L1827.7 1227.9L1829.2 1229.4L1830.7 1227.7L1832.2 1228.1L1833.8 1229.7L1835.3 1228.6L1836.8 1229.8L1838.3 1228.4L1839.8 1228.9L1841.3 1228.9L1842.8 1228.6L1844.3 1229.9L1845.8 1228.6L1847.4 1229.5L1848.9 1228.9L1850.4 1228.5L1851.9 1229.6L1853.4 1229.8L1854.9 1227.8L1856.4 1229.1L1857.9 1229.4L1859.4 1228.9L1860.9 1228.7L1862.5 1229.4L1864.0 1228.2L1865.5 1228.9L1867.0 1228.3L1868.5 1229.7" stroke="#000000"/>
</g>
<rect x="377.0" y="66.0" width="490.5" height="205.5" fill="#fff"/>
<g clip-path="url(#cia)" fill="none" stroke-width="9.2" stroke-linejoin="round"><path d="M377.0 221.0L378.8 220.9L380.6 221.6L382.4 221.6L384.1 221.9L385.9 221.6L387.7 222.3L389.5 222.2L391.3 222.6L393.1 221.9L396.6 222.3L398.4 221.6L398.7 222.1L399.0 222.1L399.3 221.4L399.6 222.0L399.9 221.5L400.2 221.5L400.4 221.9L401.0 221.4L401.6 221.7L401.9 221.0L402.0 221.7L402.2 221.3L402.8 221.5L403.0 220.7L403.6 221.0L403.8 220.3L403.9 220.6L404.2 220.6L404.8 220.3L405.1 220.5L405.4 219.6L405.5 220.1L405.9 219.3L406.2 219.4L406.5 218.9L406.8 218.9L407.1 218.4L407.3 218.4L407.4 218.0L407.7 218.5L408.0 217.3L408.8 215.9L409.1 214.6L409.1 215.3L410.3 209.8L411.7 196.4L415.5 122.2L415.8 119.9L416.1 120.1L417.0 129.9L420.4 191.8L422.8 205.4L423.3 206.3L423.4 207.2L423.9 207.3L424.2 208.6L424.8 209.1L425.1 209.8L425.4 209.2L425.9 209.7L426.8 211.2L426.9 210.5L427.7 211.3L428.0 212.0L428.3 212.0L428.5 211.4L428.7 212.1L428.8 211.7L430.5 212.6L430.6 212.9L431.2 213.3L431.7 212.8L432.0 213.4L432.3 213.2L432.9 214.1L433.2 213.8L434.1 214.2L435.9 213.9L437.6 214.7L439.3 215.3L439.6 214.5L439.9 215.5L440.1 214.5L440.4 215.3L440.7 215.0L441.0 215.5L441.2 215.5L441.6 214.6L441.9 215.2L442.2 214.7L442.5 215.0L442.7 214.7L443.0 214.8L443.0 214.6L443.3 215.0L443.6 214.6L443.9 214.7L444.2 215.2L444.5 214.7L445.1 215.1L445.4 214.8L445.9 214.9L446.2 214.1L446.5 213.9L446.6 214.7L447.1 213.8L447.4 214.2L447.7 213.2L448.0 213.0L448.3 213.4L448.3 212.5L448.5 213.1L448.8 212.0L449.1 212.1L449.4 210.9L450.3 209.1L450.6 207.0L451.2 204.7L453.2 182.8L455.8 139.7L456.4 137.3L456.7 138.1L457.8 151.7L461.0 201.1L462.2 209.4L462.7 211.7L463.6 213.3L463.9 214.5L465.1 215.5L465.4 216.3L465.6 216.1L466.2 216.8L466.2 217.4L466.8 217.1L467.1 217.9L467.4 218.1L467.7 217.7L468.0 218.3L468.5 218.3L468.8 218.8L469.4 218.8L469.7 219.2L469.7 218.7L470.0 218.4L470.3 218.4L470.6 219.2L470.9 219.1L471.4 219.7L471.5 219.1L471.7 219.1L472.0 219.5L472.3 219.0L473.3 219.7L473.5 219.5L473.8 220.0L476.9 220.7L478.7 220.7L482.2 221.4L484.0 221.5L485.8 221.3L489.4 222.1L491.2 221.7L492.9 221.9L494.7 221.7L496.5 222.4L498.3 222.0L500.1 222.5L503.6 222.3L505.4 223.2L507.2 222.7L509.0 223.4L514.3 223.2L517.9 223.6L519.7 223.1L521.5 223.5L525.0 223.2L526.8 223.3L528.6 223.9L530.4 224.1L534.0 223.4L539.3 223.7L541.1 224.2L542.9 223.9L546.4 223.9L548.2 223.4L550.5 223.6L550.8 223.2L551.5 223.7L551.8 223.7L552.5 223.1L552.8 223.6L553.5 223.0L553.6 223.9L553.8 223.6L554.1 223.8L554.5 223.2L554.8 223.6L555.1 223.6L555.5 222.7L556.8 223.1L557.1 222.6L557.8 222.3L558.2 222.6L558.5 222.2L558.8 222.2L558.9 222.0L559.2 222.7L559.5 222.0L560.2 222.0L560.5 221.3L560.8 221.9L561.2 221.1L561.5 221.3L563.2 219.1L564.3 216.3L565.8 208.4L567.5 194.1L569.9 171.5L570.2 170.0L570.5 169.4L571.2 171.1L575.2 208.6L576.2 214.6L577.2 218.1L577.5 218.2L577.9 218.7L578.9 221.1L579.2 220.7L579.9 221.7L580.9 221.8L581.2 222.4L581.9 222.3L582.1 222.4L582.2 223.1L582.6 223.1L582.9 222.9L583.2 223.5L583.6 222.8L584.2 223.9L584.6 223.1L585.2 223.6L585.6 223.6L585.7 223.3L585.9 224.1L586.9 223.8L587.6 224.1L587.9 223.9L588.2 224.4L588.9 223.9L589.6 224.5L590.3 224.1L591.0 224.6L592.8 224.2L594.6 225.0L596.4 224.6L601.7 225.1L603.5 224.6L605.3 224.7L607.1 225.0L608.9 224.6L610.7 225.0L612.4 224.8L616.0 225.1L617.8 225.6L621.4 225.1L623.1 225.4L624.9 225.3L626.7 224.9L630.3 225.6L633.8 225.9L635.6 225.0L637.4 225.5L641.0 225.5L642.8 225.9L644.5 225.5L649.9 226.0L653.5 225.7L655.2 225.3L657.0 225.5L658.8 225.4L660.6 226.0L662.4 225.9L664.2 225.4L667.7 226.1L669.5 226.1L671.3 225.7L674.9 225.8L676.7 225.7L678.4 226.3L683.8 226.4L685.6 225.5L687.4 226.3L689.1 225.7L690.9 225.7L692.7 226.0L696.3 225.6L698.1 226.4L699.8 225.6L701.6 225.5L705.2 226.3L707.0 226.2L708.8 225.9L712.3 225.6L714.1 226.2L715.9 226.1L717.7 225.6L721.2 226.2L721.6 225.6L722.0 225.5L722.3 226.0L723.4 225.2L724.1 225.9L724.5 225.3L725.2 225.9L725.9 225.2L726.2 225.7L726.9 225.6L727.3 225.8L727.7 225.3L728.4 225.3L728.7 225.6L729.1 225.1L729.8 225.0L730.2 225.4L730.5 225.2L730.9 224.6L731.2 225.2L731.6 225.3L731.9 224.5L732.3 224.8L733.0 224.4L733.7 223.4L734.1 224.0L734.4 223.2L734.8 223.4L736.9 219.7L737.7 217.4L738.0 215.4L738.4 214.5L741.2 198.4L742.3 195.2L742.6 195.1L743.0 194.8L743.4 196.5L743.7 197.0L747.3 216.1L748.4 219.6L749.8 222.6L750.1 222.4L750.5 223.4L750.9 223.5L751.2 224.2L751.6 224.2L751.9 224.7L752.3 224.3L752.6 224.5L753.3 224.5L754.1 224.7L754.4 225.2L755.8 225.8L756.2 225.4L758.3 225.5L759.8 226.0L760.1 226.3L760.5 225.9L760.8 226.4L761.2 225.7L761.6 226.0L762.6 226.0L763.0 225.7L763.3 226.5L763.7 225.6L764.0 226.4L769.4 226.1L771.2 226.7L773.0 226.2L774.8 226.4L776.5 226.3L778.3 226.6L781.9 226.5L783.7 226.1L785.5 226.0L787.2 226.7L789.0 226.1L790.8 226.6L792.6 226.4L794.4 226.9L797.9 226.2L805.1 226.9L808.6 227.2L812.2 226.3L814.0 226.9L815.8 226.6L817.6 226.9L819.3 226.5L821.1 226.7L822.9 226.6L826.5 227.3L828.3 226.7L833.6 227.2L835.4 226.8L837.2 226.7L839.0 227.1L840.7 226.8L844.3 227.1L846.1 227.1L847.9 227.5L849.7 226.9L851.4 226.7L853.2 226.9L855.0 227.5L856.8 227.4L858.6 226.6L862.1 226.8L863.9 227.4L865.7 227.3L867.5 226.8" stroke="#00ff00"/></g>
<g><line x1="1249.7" y1="1634.1" x2="1247.0" y2="1682.2" stroke="#ee1111" stroke-width="6.5"/><line x1="1247.0" y1="1682.2" x2="1244.6" y2="1726.4" stroke="#f2c8c8" stroke-width="6.5"/><line x1="1244.6" y1="1726.4" x2="1247.0" y2="1770.0" stroke="#f2c8c8" stroke-width="6.5"/><line x1="1247.0" y1="1770.0" x2="1249.7" y2="1817.5" stroke="#ee1111" stroke-width="6.5"/><line x1="1318.3" y1="1634.1" x2="1318.3" y2="1682.2" stroke="#ee1111" stroke-width="6.5"/><line x1="1318.3" y1="1682.2" x2="1318.3" y2="1726.4" stroke="#f2c8c8" stroke-width="6.5"/><line x1="1318.3" y1="1726.4" x2="1318.3" y2="1770.0" stroke="#f2c8c8" stroke-width="6.5"/><line x1="1318.3" y1="1770.0" x2="1318.3" y2="1817.5" stroke="#ee1111" stroke-width="6.5"/><line x1="1386.4" y1="1634.1" x2="1388.8" y2="1682.2" stroke="#ee1111" stroke-width="6.5"/><line x1="1388.8" y1="1682.2" x2="1391.0" y2="1726.4" stroke="#f2c8c8" stroke-width="6.5"/><line x1="1391.0" y1="1726.4" x2="1388.8" y2="1770.0" stroke="#f2c8c8" stroke-width="6.5"/><line x1="1388.8" y1="1770.0" x2="1386.4" y2="1817.5" stroke="#ee1111" stroke-width="6.5"/><line x1="1451.8" y1="1634.1" x2="1448.7" y2="1682.2" stroke="#ee1111" stroke-width="6.5"/><line x1="1448.7" y1="1682.2" x2="1445.8" y2="1726.4" stroke="#f2c8c8" stroke-width="6.5"/><line x1="1445.8" y1="1726.4" x2="1448.7" y2="1770.0" stroke="#f2c8c8" stroke-width="6.5"/><line x1="1448.7" y1="1770.0" x2="1451.8" y2="1817.5" stroke="#ee1111" stroke-width="6.5"/><line x1="1519.9" y1="1634.1" x2="1520.0" y2="1682.2" stroke="#ee1111" stroke-width="6.5"/><line x1="1520.0" y1="1682.2" x2="1520.0" y2="1726.4" stroke="#f2c8c8" stroke-width="6.5"/><line x1="1520.0" y1="1726.4" x2="1520.0" y2="1770.0" stroke="#f2c8c8" stroke-width="6.5"/><line x1="1520.0" y1="1770.0" x2="1519.9" y2="1817.5" stroke="#ee1111" stroke-width="6.5"/><line x1="1587.7" y1="1634.1" x2="1590.2" y2="1682.2" stroke="#ee1111" stroke-width="6.5"/><line x1="1590.2" y1="1682.2" x2="1592.4" y2="1726.4" stroke="#f2c8c8" stroke-width="6.5"/><line x1="1592.4" y1="1726.4" x2="1590.2" y2="1770.0" stroke="#f2c8c8" stroke-width="6.5"/><line x1="1590.2" y1="1770.0" x2="1587.7" y2="1817.5" stroke="#ee1111" stroke-width="6.5"/><line x1="1653.0" y1="1634.1" x2="1649.9" y2="1682.2" stroke="#ee1111" stroke-width="6.5"/><line x1="1649.9" y1="1682.2" x2="1647.0" y2="1726.4" stroke="#f2c8c8" stroke-width="6.5"/><line x1="1647.0" y1="1726.4" x2="1649.9" y2="1770.0" stroke="#f2c8c8" stroke-width="6.5"/><line x1="1649.9" y1="1770.0" x2="1653.0" y2="1817.5" stroke="#ee1111" stroke-width="6.5"/><line x1="1721.2" y1="1634.1" x2="1721.2" y2="1682.2" stroke="#ee1111" stroke-width="6.5"/><line x1="1721.2" y1="1682.2" x2="1721.2" y2="1726.4" stroke="#f2c8c8" stroke-width="6.5"/><line x1="1721.2" y1="1726.4" x2="1721.2" y2="1770.0" stroke="#f2c8c8" stroke-width="6.5"/><line x1="1721.2" y1="1770.0" x2="1721.2" y2="1817.5" stroke="#ee1111" stroke-width="6.5"/><line x1="1789.3" y1="1634.1" x2="1792.0" y2="1682.2" stroke="#ee1111" stroke-width="6.5"/><line x1="1792.0" y1="1682.2" x2="1794.5" y2="1726.4" stroke="#f2c8c8" stroke-width="6.5"/><line x1="1794.5" y1="1726.4" x2="1792.0" y2="1770.0" stroke="#f2c8c8" stroke-width="6.5"/><line x1="1792.0" y1="1770.0" x2="1789.3" y2="1817.5" stroke="#ee1111" stroke-width="6.5"/><line x1="1249.7" y1="1542.2" x2="1277.8" y2="1561.2" stroke="#ee1111" stroke-width="8"/><line x1="1277.8" y1="1561.2" x2="1318.3" y2="1588.6" stroke="#e8e878" stroke-width="8"/><line x1="1249.7" y1="1634.1" x2="1277.7" y2="1615.5" stroke="#ee1111" stroke-width="8"/><line x1="1277.7" y1="1615.5" x2="1318.3" y2="1588.6" stroke="#e8e878" stroke-width="8"/><line x1="1386.4" y1="1542.2" x2="1358.5" y2="1561.2" stroke="#ee1111" stroke-width="8"/><line x1="1358.5" y1="1561.2" x2="1318.3" y2="1588.6" stroke="#e8e878" stroke-width="8"/><line x1="1386.4" y1="1634.1" x2="1358.6" y2="1615.5" stroke="#ee1111" stroke-width="8"/><line x1="1358.6" y1="1615.5" x2="1318.3" y2="1588.6" stroke="#e8e878" stroke-width="8"/><line x1="1318.3" y1="1542.2" x2="1318.3" y2="1557.9" stroke="#b00000" stroke-width="9"/><line x1="1318.3" y1="1557.9" x2="1318.3" y2="1588.6" stroke="#a8a850" stroke-width="9"/><line x1="1318.3" y1="1634.1" x2="1318.3" y2="1618.8" stroke="#b00000" stroke-width="9"/><line x1="1318.3" y1="1618.8" x2="1318.3" y2="1588.6" stroke="#a8a850" stroke-width="9"/><line x1="1318.3" y1="1542.2" x2="1347.6" y2="1562.2" stroke="#ee1111" stroke-width="8"/><line x1="1347.6" y1="1562.2" x2="1386.4" y2="1588.6" stroke="#e678c0" stroke-width="8"/><line x1="1318.3" y1="1634.1" x2="1347.6" y2="1614.5" stroke="#ee1111" stroke-width="8"/><line x1="1347.6" y1="1614.5" x2="1386.4" y2="1588.6" stroke="#e678c0" stroke-width="8"/><line x1="1451.8" y1="1542.2" x2="1423.8" y2="1562.1" stroke="#ee1111" stroke-width="8"/><line x1="1423.8" y1="1562.1" x2="1386.4" y2="1588.6" stroke="#e678c0" stroke-width="8"/><line x1="1451.8" y1="1634.1" x2="1423.8" y2="1614.6" stroke="#ee1111" stroke-width="8"/><line x1="1423.8" y1="1614.6" x2="1386.4" y2="1588.6" stroke="#e678c0" stroke-width="8"/><line x1="1386.4" y1="1542.2" x2="1386.4" y2="1559.7" stroke="#b00000" stroke-width="9"/><line x1="1386.4" y1="1559.7" x2="1386.4" y2="1588.6" stroke="#a85488" stroke-width="9"/><line x1="1386.4" y1="1634.1" x2="1386.4" y2="1617.1" stroke="#b00000" stroke-width="9"/><line x1="1386.4" y1="1617.1" x2="1386.4" y2="1588.6" stroke="#a85488" stroke-width="9"/><line x1="1386.4" y1="1542.2" x2="1414.4" y2="1562.1" stroke="#ee1111" stroke-width="8"/><line x1="1414.4" y1="1562.1" x2="1451.8" y2="1588.6" stroke="#e678c0" stroke-width="8"/><line x1="1386.4" y1="1634.1" x2="1414.4" y2="1614.6" stroke="#ee1111" stroke-width="8"/><line x1="1414.4" y1="1614.6" x2="1451.8" y2="1588.6" stroke="#e678c0" stroke-width="8"/><line x1="1519.9" y1="1542.2" x2="1490.6" y2="1562.2" stroke="#ee1111" stroke-width="8"/><line x1="1490.6" y1="1562.2" x2="1451.8" y2="1588.6" stroke="#e678c0" stroke-width="8"/><line x1="1519.9" y1="1634.1" x2="1490.6" y2="1614.5" stroke="#ee1111" stroke-width="8"/><line x1="1490.6" y1="1614.5" x2="1451.8" y2="1588.6" stroke="#e678c0" stroke-width="8"/><line x1="1451.8" y1="1542.2" x2="1451.8" y2="1559.7" stroke="#b00000" stroke-width="9"/><line x1="1451.8" y1="1559.7" x2="1451.8" y2="1588.6" stroke="#a85488" stroke-width="9"/><line x1="1451.8" y1="1634.1" x2="1451.8" y2="1617.1" stroke="#b00000" stroke-width="9"/><line x1="1451.8" y1="1617.1" x2="1451.8" y2="1588.6" stroke="#a85488" stroke-width="9"/><line x1="1451.8" y1="1542.2" x2="1479.7" y2="1561.2" stroke="#ee1111" stroke-width="8"/><line x1="1479.7" y1="1561.2" x2="1519.9" y2="1588.6" stroke="#e8e878" stroke-width="8"/><line x1="1451.8" y1="1634.1" x2="1479.6" y2="1615.5" stroke="#ee1111" stroke-width="8"/><line x1="1479.6" y1="1615.5" x2="1519.9" y2="1588.6" stroke="#e8e878" stroke-width="8"/><line x1="1587.7" y1="1542.2" x2="1560.0" y2="1561.2" stroke="#ee1111" stroke-width="8"/><line x1="1560.0" y1="1561.2" x2="1519.9" y2="1588.6" stroke="#e8e878" stroke-width="8"/><line x1="1587.7" y1="1634.1" x2="1560.0" y2="1615.5" stroke="#ee1111" stroke-width="8"/><line x1="1560.0" y1="1615.5" x2="1519.9" y2="1588.6" stroke="#e8e878" stroke-width="8"/><line x1="1519.9" y1="1542.2" x2="1519.9" y2="1557.9" stroke="#b00000" stroke-width="9"/><line x1="1519.9" y1="1557.9" x2="1519.9" y2="1588.6" stroke="#a8a850" stroke-width="9"/><line x1="1519.9" y1="1634.1" x2="1519.9" y2="1618.8" stroke="#b00000" stroke-width="9"/><line x1="1519.9" y1="1618.8" x2="1519.9" y2="1588.6" stroke="#a8a850" stroke-width="9"/><line x1="1519.9" y1="1542.2" x2="1549.1" y2="1562.2" stroke="#ee1111" stroke-width="8"/><line x1="1549.1" y1="1562.2" x2="1587.7" y2="1588.6" stroke="#e678c0" stroke-width="8"/><line x1="1519.9" y1="1634.1" x2="1549.0" y2="1614.6" stroke="#ee1111" stroke-width="8"/><line x1="1549.0" y1="1614.6" x2="1587.7" y2="1588.6" stroke="#e678c0" stroke-width="8"/><line x1="1653.0" y1="1542.2" x2="1625.0" y2="1562.1" stroke="#ee1111" stroke-width="8"/><line x1="1625.0" y1="1562.1" x2="1587.7" y2="1588.6" stroke="#e678c0" stroke-width="8"/><line x1="1653.0" y1="1634.1" x2="1625.1" y2="1614.6" stroke="#ee1111" stroke-width="8"/><line x1="1625.1" y1="1614.6" x2="1587.7" y2="1588.6" stroke="#e678c0" stroke-width="8"/><line x1="1587.7" y1="1542.2" x2="1587.7" y2="1559.7" stroke="#b00000" stroke-width="9"/><line x1="1587.7" y1="1559.7" x2="1587.7" y2="1588.6" stroke="#a85488" stroke-width="9"/><line x1="1587.7" y1="1634.1" x2="1587.7" y2="1617.1" stroke="#b00000" stroke-width="9"/><line x1="1587.7" y1="1617.1" x2="1587.7" y2="1588.6" stroke="#a85488" stroke-width="9"/><line x1="1587.7" y1="1542.2" x2="1615.7" y2="1562.1" stroke="#ee1111" stroke-width="8"/><line x1="1615.7" y1="1562.1" x2="1653.0" y2="1588.6" stroke="#e678c0" stroke-width="8"/><line x1="1587.7" y1="1634.1" x2="1615.6" y2="1614.6" stroke="#ee1111" stroke-width="8"/><line x1="1615.6" y1="1614.6" x2="1653.0" y2="1588.6" stroke="#e678c0" stroke-width="8"/><line x1="1721.2" y1="1542.2" x2="1691.9" y2="1562.2" stroke="#ee1111" stroke-width="8"/><line x1="1691.9" y1="1562.2" x2="1653.0" y2="1588.6" stroke="#e678c0" stroke-width="8"/><line x1="1721.2" y1="1634.1" x2="1691.9" y2="1614.5" stroke="#ee1111" stroke-width="8"/><line x1="1691.9" y1="1614.5" x2="1653.0" y2="1588.6" stroke="#e678c0" stroke-width="8"/><line x1="1653.0" y1="1542.2" x2="1653.0" y2="1559.7" stroke="#b00000" stroke-width="9"/><line x1="1653.0" y1="1559.7" x2="1653.0" y2="1588.6" stroke="#a85488" stroke-width="9"/><line x1="1653.0" y1="1634.1" x2="1653.0" y2="1617.1" stroke="#b00000" stroke-width="9"/><line x1="1653.0" y1="1617.1" x2="1653.0" y2="1588.6" stroke="#a85488" stroke-width="9"/><line x1="1653.0" y1="1542.2" x2="1680.9" y2="1561.2" stroke="#ee1111" stroke-width="8"/><line x1="1680.9" y1="1561.2" x2="1721.2" y2="1588.6" stroke="#e8e878" stroke-width="8"/><line x1="1653.0" y1="1634.1" x2="1680.9" y2="1615.5" stroke="#ee1111" stroke-width="8"/><line x1="1680.9" y1="1615.5" x2="1721.2" y2="1588.6" stroke="#e8e878" stroke-width="8"/><line x1="1789.3" y1="1542.2" x2="1761.4" y2="1561.2" stroke="#ee1111" stroke-width="8"/><line x1="1761.4" y1="1561.2" x2="1721.2" y2="1588.6" stroke="#e8e878" stroke-width="8"/><line x1="1789.3" y1="1634.1" x2="1761.5" y2="1615.5" stroke="#ee1111" stroke-width="8"/><line x1="1761.5" y1="1615.5" x2="1721.2" y2="1588.6" stroke="#e8e878" stroke-width="8"/><line x1="1721.2" y1="1542.2" x2="1721.2" y2="1557.9" stroke="#b00000" stroke-width="9"/><line x1="1721.2" y1="1557.9" x2="1721.2" y2="1588.6" stroke="#a8a850" stroke-width="9"/><line x1="1721.2" y1="1634.1" x2="1721.2" y2="1618.8" stroke="#b00000" stroke-width="9"/><line x1="1721.2" y1="1618.8" x2="1721.2" y2="1588.6" stroke="#a8a850" stroke-width="9"/><line x1="1249.7" y1="1817.5" x2="1277.8" y2="1836.5" stroke="#ee1111" stroke-width="8"/><line x1="1277.8" y1="1836.5" x2="1318.3" y2="1863.8" stroke="#e8e878" stroke-width="8"/><line x1="1249.7" y1="1910.6" x2="1277.8" y2="1891.4" stroke="#ee1111" stroke-width="8"/><line x1="1277.8" y1="1891.4" x2="1318.3" y2="1863.8" stroke="#e8e878" stroke-width="8"/><line x1="1386.4" y1="1817.5" x2="1358.6" y2="1836.4" stroke="#ee1111" stroke-width="8"/><line x1="1358.6" y1="1836.4" x2="1318.3" y2="1863.8" stroke="#e8e878" stroke-width="8"/><line x1="1386.4" y1="1910.6" x2="1358.5" y2="1891.4" stroke="#ee1111" stroke-width="8"/><line x1="1358.5" y1="1891.4" x2="1318.3" y2="1863.8" stroke="#e8e878" stroke-width="8"/><line x1="1318.3" y1="1817.5" x2="1318.3" y2="1833.2" stroke="#b00000" stroke-width="9"/><line x1="1318.3" y1="1833.2" x2="1318.3" y2="1863.8" stroke="#a8a850" stroke-width="9"/><line x1="1318.3" y1="1910.6" x2="1318.3" y2="1894.7" stroke="#b00000" stroke-width="9"/><line x1="1318.3" y1="1894.7" x2="1318.3" y2="1863.8" stroke="#a8a850" stroke-width="9"/><line x1="1318.3" y1="1817.5" x2="1347.6" y2="1837.4" stroke="#ee1111" stroke-width="8"/><line x1="1347.6" y1="1837.4" x2="1386.4" y2="1863.8" stroke="#e678c0" stroke-width="8"/><line x1="1318.3" y1="1910.6" x2="1347.6" y2="1890.5" stroke="#ee1111" stroke-width="8"/><line x1="1347.6" y1="1890.5" x2="1386.4" y2="1863.8" stroke="#e678c0" stroke-width="8"/><line x1="1451.8" y1="1817.5" x2="1423.8" y2="1837.3" stroke="#ee1111" stroke-width="8"/><line x1="1423.8" y1="1837.3" x2="1386.4" y2="1863.8" stroke="#e678c0" stroke-width="8"/><line x1="1451.8" y1="1910.6" x2="1423.8" y2="1890.5" stroke="#ee1111" stroke-width="8"/><line x1="1423.8" y1="1890.5" x2="1386.4" y2="1863.8" stroke="#e678c0" stroke-width="8"/><line x1="1386.4" y1="1817.5" x2="1386.4" y2="1834.9" stroke="#b00000" stroke-width="9"/><line x1="1386.4" y1="1834.9" x2="1386.4" y2="1863.8" stroke="#a85488" stroke-width="9"/><line x1="1386.4" y1="1910.6" x2="1386.4" y2="1892.9" stroke="#b00000" stroke-width="9"/><line x1="1386.4" y1="1892.9" x2="1386.4" y2="1863.8" stroke="#a85488" stroke-width="9"/><line x1="1386.4" y1="1817.5" x2="1414.4" y2="1837.3" stroke="#ee1111" stroke-width="8"/><line x1="1414.4" y1="1837.3" x2="1451.8" y2="1863.8" stroke="#e678c0" stroke-width="8"/><line x1="1386.4" y1="1910.6" x2="1414.4" y2="1890.5" stroke="#ee1111" stroke-width="8"/><line x1="1414.4" y1="1890.5" x2="1451.8" y2="1863.8" stroke="#e678c0" stroke-width="8"/><line x1="1519.9" y1="1817.5" x2="1490.6" y2="1837.4" stroke="#ee1111" stroke-width="8"/><line x1="1490.6" y1="1837.4" x2="1451.8" y2="1863.8" stroke="#e678c0" stroke-width="8"/><line x1="1519.9" y1="1910.6" x2="1490.6" y2="1890.5" stroke="#ee1111" stroke-width="8"/><line x1="1490.6" y1="1890.5" x2="1451.8" y2="1863.8" stroke="#e678c0" stroke-width="8"/><line x1="1451.8" y1="1817.5" x2="1451.8" y2="1834.9" stroke="#b00000" stroke-width="9"/><line x1="1451.8" y1="1834.9" x2="1451.8" y2="1863.8" stroke="#a85488" stroke-width="9"/><line x1="1451.8" y1="1910.6" x2="1451.8" y2="1892.9" stroke="#b00000" stroke-width="9"/><line x1="1451.8" y1="1892.9" x2="1451.8" y2="1863.8" stroke="#a85488" stroke-width="9"/><line x1="1451.8" y1="1817.5" x2="1479.6" y2="1836.4" stroke="#ee1111" stroke-width="8"/><line x1="1479.6" y1="1836.4" x2="1519.9" y2="1863.8" stroke="#e8e878" stroke-width="8"/><line x1="1451.8" y1="1910.6" x2="1479.7" y2="1891.4" stroke="#ee1111" stroke-width="8"/><line x1="1479.7" y1="1891.4" x2="1519.9" y2="1863.8" stroke="#e8e878" stroke-width="8"/><line x1="1587.7" y1="1817.5" x2="1560.0" y2="1836.4" stroke="#ee1111" stroke-width="8"/><line x1="1560.0" y1="1836.4" x2="1519.9" y2="1863.8" stroke="#e8e878" stroke-width="8"/><line x1="1587.7" y1="1910.6" x2="1560.0" y2="1891.5" stroke="#ee1111" stroke-width="8"/><line x1="1560.0" y1="1891.5" x2="1519.9" y2="1863.8" stroke="#e8e878" stroke-width="8"/><line x1="1519.9" y1="1817.5" x2="1519.9" y2="1833.2" stroke="#b00000" stroke-width="9"/><line x1="1519.9" y1="1833.2" x2="1519.9" y2="1863.8" stroke="#a8a850" stroke-width="9"/><line x1="1519.9" y1="1910.6" x2="1519.9" y2="1894.7" stroke="#b00000" stroke-width="9"/><line x1="1519.9" y1="1894.7" x2="1519.9" y2="1863.8" stroke="#a8a850" stroke-width="9"/><line x1="1519.9" y1="1817.5" x2="1549.1" y2="1837.4" stroke="#ee1111" stroke-width="8"/><line x1="1549.1" y1="1837.4" x2="1587.7" y2="1863.8" stroke="#e678c0" stroke-width="8"/><line x1="1519.9" y1="1910.6" x2="1549.1" y2="1890.5" stroke="#ee1111" stroke-width="8"/><line x1="1549.1" y1="1890.5" x2="1587.7" y2="1863.8" stroke="#e678c0" stroke-width="8"/><line x1="1653.0" y1="1817.5" x2="1625.0" y2="1837.3" stroke="#ee1111" stroke-width="8"/><line x1="1625.0" y1="1837.3" x2="1587.7" y2="1863.8" stroke="#e678c0" stroke-width="8"/><line x1="1653.0" y1="1910.6" x2="1625.0" y2="1890.5" stroke="#ee1111" stroke-width="8"/><line x1="1625.0" y1="1890.5" x2="1587.7" y2="1863.8" stroke="#e678c0" stroke-width="8"/><line x1="1587.7" y1="1817.5" x2="1587.7" y2="1834.9" stroke="#b00000" stroke-width="9"/><line x1="1587.7" y1="1834.9" x2="1587.7" y2="1863.8" stroke="#a85488" stroke-width="9"/><line x1="1587.7" y1="1910.6" x2="1587.7" y2="1892.9" stroke="#b00000" stroke-width="9"/><line x1="1587.7" y1="1892.9" x2="1587.7" y2="1863.8" stroke="#a85488" stroke-width="9"/><line x1="1587.7" y1="1817.5" x2="1615.7" y2="1837.3" stroke="#ee1111" stroke-width="8"/><line x1="1615.7" y1="1837.3" x2="1653.0" y2="1863.8" stroke="#e678c0" stroke-width="8"/><line x1="1587.7" y1="1910.6" x2="1615.7" y2="1890.5" stroke="#ee1111" stroke-width="8"/><line x1="1615.7" y1="1890.5" x2="1653.0" y2="1863.8" stroke="#e678c0" stroke-width="8"/><line x1="1721.2" y1="1817.5" x2="1691.9" y2="1837.4" stroke="#ee1111" stroke-width="8"/><line x1="1691.9" y1="1837.4" x2="1653.0" y2="1863.8" stroke="#e678c0" stroke-width="8"/><line x1="1721.2" y1="1910.6" x2="1691.8" y2="1890.5" stroke="#ee1111" stroke-width="8"/><line x1="1691.8" y1="1890.5" x2="1653.0" y2="1863.8" stroke="#e678c0" stroke-width="8"/><line x1="1653.0" y1="1817.5" x2="1653.0" y2="1834.9" stroke="#b00000" stroke-width="9"/><line x1="1653.0" y1="1834.9" x2="1653.0" y2="1863.8" stroke="#a85488" stroke-width="9"/><line x1="1653.0" y1="1910.6" x2="1653.0" y2="1892.9" stroke="#b00000" stroke-width="9"/><line x1="1653.0" y1="1892.9" x2="1653.0" y2="1863.8" stroke="#a85488" stroke-width="9"/><line x1="1653.0" y1="1817.5" x2="1680.9" y2="1836.4" stroke="#ee1111" stroke-width="8"/><line x1="1680.9" y1="1836.4" x2="1721.2" y2="1863.8" stroke="#e8e878" stroke-width="8"/><line x1="1653.0" y1="1910.6" x2="1680.9" y2="1891.4" stroke="#ee1111" stroke-width="8"/><line x1="1680.9" y1="1891.4" x2="1721.2" y2="1863.8" stroke="#e8e878" stroke-width="8"/><line x1="1789.3" y1="1817.5" x2="1761.5" y2="1836.4" stroke="#ee1111" stroke-width="8"/><line x1="1761.5" y1="1836.4" x2="1721.2" y2="1863.8" stroke="#e8e878" stroke-width="8"/><line x1="1789.3" y1="1910.6" x2="1761.4" y2="1891.4" stroke="#ee1111" stroke-width="8"/><line x1="1761.4" y1="1891.4" x2="1721.2" y2="1863.8" stroke="#e8e878" stroke-width="8"/><line x1="1721.2" y1="1817.5" x2="1721.2" y2="1833.2" stroke="#b00000" stroke-width="9"/><line x1="1721.2" y1="1833.2" x2="1721.2" y2="1863.8" stroke="#a8a850" stroke-width="9"/><line x1="1721.2" y1="1910.6" x2="1721.2" y2="1894.7" stroke="#b00000" stroke-width="9"/><line x1="1721.2" y1="1894.7" x2="1721.2" y2="1863.8" stroke="#a8a850" stroke-width="9"/><circle cx="1244.6" cy="1726.4" r="7.5" fill="url(#gH)" stroke="#d8a0a0" stroke-width="1"/><circle cx="1318.3" cy="1726.4" r="7.5" fill="url(#gH)" stroke="#d8a0a0" stroke-width="1"/><circle cx="1391.0" cy="1726.4" r="7.5" fill="url(#gH)" stroke="#d8a0a0" stroke-width="1"/><circle cx="1445.8" cy="1726.4" r="7.5" fill="url(#gH)" stroke="#d8a0a0" stroke-width="1"/><circle cx="1520.0" cy="1726.4" r="7.5" fill="url(#gH)" stroke="#d8a0a0" stroke-width="1"/><circle cx="1592.4" cy="1726.4" r="7.5" fill="url(#gH)" stroke="#d8a0a0" stroke-width="1"/><circle cx="1647.0" cy="1726.4" r="7.5" fill="url(#gH)" stroke="#d8a0a0" stroke-width="1"/><circle cx="1721.2" cy="1726.4" r="7.5" fill="url(#gH)" stroke="#d8a0a0" stroke-width="1"/><circle cx="1794.5" cy="1726.4" r="7.5" fill="url(#gH)" stroke="#d8a0a0" stroke-width="1"/><circle cx="1318.3" cy="1588.6" r="27.0" fill="url(#gY)"/><rect x="1313.8" y="1604.6" width="9" height="11.0" fill="#9a9a48"/><rect x="1313.8" y="1561.6" width="9" height="7.0" fill="#9a9a48" opacity="0.8"/><circle cx="1386.4" cy="1588.6" r="23.5" fill="url(#gP)"/><rect x="1381.9" y="1601.1" width="9" height="11.0" fill="#a04c80"/><rect x="1381.9" y="1565.1" width="9" height="7.0" fill="#a04c80" opacity="0.8"/><circle cx="1451.8" cy="1588.6" r="23.5" fill="url(#gP)"/><rect x="1447.3" y="1601.1" width="9" height="11.0" fill="#a04c80"/><rect x="1447.3" y="1565.1" width="9" height="7.0" fill="#a04c80" opacity="0.8"/><circle cx="1519.9" cy="1588.6" r="27.0" fill="url(#gY)"/><rect x="1515.4" y="1604.6" width="9" height="11.0" fill="#9a9a48"/><rect x="1515.4" y="1561.6" width="9" height="7.0" fill="#9a9a48" opacity="0.8"/><circle cx="1587.7" cy="1588.6" r="23.5" fill="url(#gP)"/><rect x="1583.2" y="1601.1" width="9" height="11.0" fill="#a04c80"/><rect x="1583.2" y="1565.1" width="9" height="7.0" fill="#a04c80" opacity="0.8"/><circle cx="1653.0" cy="1588.6" r="23.5" fill="url(#gP)"/><rect x="1648.5" y="1601.1" width="9" height="11.0" fill="#a04c80"/><rect x="1648.5" y="1565.1" width="9" height="7.0" fill="#a04c80" opacity="0.8"/><circle cx="1721.2" cy="1588.6" r="27.0" fill="url(#gY)"/><rect x="1716.7" y="1604.6" width="9" height="11.0" fill="#9a9a48"/><rect x="1716.7" y="1561.6" width="9" height="7.0" fill="#9a9a48" opacity="0.8"/><circle cx="1249.7" cy="1542.2" r="12" fill="url(#gO)"/><circle cx="1249.7" cy="1634.1" r="12" fill="url(#gO)"/><circle cx="1318.3" cy="1542.2" r="12" fill="url(#gO)"/><circle cx="1318.3" cy="1634.1" r="12" fill="url(#gO)"/><circle cx="1386.4" cy="1542.2" r="12" fill="url(#gO)"/><circle cx="1386.4" cy="1634.1" r="12" fill="url(#gO)"/><circle cx="1451.8" cy="1542.2" r="12" fill="url(#gO)"/><circle cx="1451.8" cy="1634.1" r="12" fill="url(#gO)"/><circle cx="1519.9" cy="1542.2" r="12" fill="url(#gO)"/><circle cx="1519.9" cy="1634.1" r="12" fill="url(#gO)"/><circle cx="1587.7" cy="1542.2" r="12" fill="url(#gO)"/><circle cx="1587.7" cy="1634.1" r="12" fill="url(#gO)"/><circle cx="1653.0" cy="1542.2" r="12" fill="url(#gO)"/><circle cx="1653.0" cy="1634.1" r="12" fill="url(#gO)"/><circle cx="1721.2" cy="1542.2" r="12" fill="url(#gO)"/><circle cx="1721.2" cy="1634.1" r="12" fill="url(#gO)"/><circle cx="1789.3" cy="1542.2" r="12" fill="url(#gO)"/><circle cx="1789.3" cy="1634.1" r="12" fill="url(#gO)"/><circle cx="1318.3" cy="1863.8" r="27.0" fill="url(#gY)"/><rect x="1313.8" y="1879.8" width="9" height="11.0" fill="#9a9a48"/><rect x="1313.8" y="1836.8" width="9" height="7.0" fill="#9a9a48" opacity="0.8"/><circle cx="1386.4" cy="1863.8" r="23.5" fill="url(#gP)"/><rect x="1381.9" y="1876.3" width="9" height="11.0" fill="#a04c80"/><rect x="1381.9" y="1840.3" width="9" height="7.0" fill="#a04c80" opacity="0.8"/><circle cx="1451.8" cy="1863.8" r="23.5" fill="url(#gP)"/><rect x="1447.3" y="1876.3" width="9" height="11.0" fill="#a04c80"/><rect x="1447.3" y="1840.3" width="9" height="7.0" fill="#a04c80" opacity="0.8"/><circle cx="1519.9" cy="1863.8" r="27.0" fill="url(#gY)"/><rect x="1515.4" y="1879.8" width="9" height="11.0" fill="#9a9a48"/><rect x="1515.4" y="1836.8" width="9" height="7.0" fill="#9a9a48" opacity="0.8"/><circle cx="1587.7" cy="1863.8" r="23.5" fill="url(#gP)"/><rect x="1583.2" y="1876.3" width="9" height="11.0" fill="#a04c80"/><rect x="1583.2" y="1840.3" width="9" height="7.0" fill="#a04c80" opacity="0.8"/><circle cx="1653.0" cy="1863.8" r="23.5" fill="url(#gP)"/><rect x="1648.5" y="1876.3" width="9" height="11.0" fill="#a04c80"/><rect x="1648.5" y="1840.3" width="9" height="7.0" fill="#a04c80" opacity="0.8"/><circle cx="1721.2" cy="1863.8" r="27.0" fill="url(#gY)"/><rect x="1716.7" y="1879.8" width="9" height="11.0" fill="#9a9a48"/><rect x="1716.7" y="1836.8" width="9" height="7.0" fill="#9a9a48" opacity="0.8"/><circle cx="1249.7" cy="1817.5" r="12" fill="url(#gO)"/><circle cx="1249.7" cy="1910.6" r="12" fill="url(#gO)"/><circle cx="1318.3" cy="1817.5" r="12" fill="url(#gO)"/><circle cx="1318.3" cy="1910.6" r="12" fill="url(#gO)"/><circle cx="1386.4" cy="1817.5" r="12" fill="url(#gO)"/><circle cx="1386.4" cy="1910.6" r="12" fill="url(#gO)"/><circle cx="1451.8" cy="1817.5" r="12" fill="url(#gO)"/><circle cx="1451.8" cy="1910.6" r="12" fill="url(#gO)"/><circle cx="1519.9" cy="1817.5" r="12" fill="url(#gO)"/><circle cx="1519.9" cy="1910.6" r="12" fill="url(#gO)"/><circle cx="1587.7" cy="1817.5" r="12" fill="url(#gO)"/><circle cx="1587.7" cy="1910.6" r="12" fill="url(#gO)"/><circle cx="1653.0" cy="1817.5" r="12" fill="url(#gO)"/><circle cx="1653.0" cy="1910.6" r="12" fill="url(#gO)"/><circle cx="1721.2" cy="1817.5" r="12" fill="url(#gO)"/><circle cx="1721.2" cy="1910.6" r="12" fill="url(#gO)"/><circle cx="1789.3" cy="1817.5" r="12" fill="url(#gO)"/><circle cx="1789.3" cy="1910.6" r="12" fill="url(#gO)"/><line x1="1252.2" y1="2232.3" x2="1249.9" y2="2272.5" stroke="#ee1111" stroke-width="10.5"/><line x1="1249.9" y1="2272.5" x2="1247.0" y2="2325.2" stroke="#c0c4c6" stroke-width="10.5"/><line x1="1247.0" y1="2325.2" x2="1250.0" y2="2377.6" stroke="#c0c4c6" stroke-width="10.5"/><line x1="1250.0" y1="2377.6" x2="1252.2" y2="2417.5" stroke="#ee1111" stroke-width="10.5"/><line x1="1320.4" y1="2232.3" x2="1320.2" y2="2272.5" stroke="#ee1111" stroke-width="10.5"/><line x1="1320.2" y1="2272.5" x2="1320.0" y2="2325.2" stroke="#c0c4c6" stroke-width="10.5"/><line x1="1320.0" y1="2325.2" x2="1320.2" y2="2377.6" stroke="#c0c4c6" stroke-width="10.5"/><line x1="1320.2" y1="2377.6" x2="1320.4" y2="2417.5" stroke="#ee1111" stroke-width="10.5"/><line x1="1389.2" y1="2232.3" x2="1391.3" y2="2272.5" stroke="#ee1111" stroke-width="10.5"/><line x1="1391.3" y1="2272.5" x2="1394.0" y2="2325.2" stroke="#c0c4c6" stroke-width="10.5"/><line x1="1394.0" y1="2325.2" x2="1391.3" y2="2377.6" stroke="#c0c4c6" stroke-width="10.5"/><line x1="1391.3" y1="2377.6" x2="1389.2" y2="2417.5" stroke="#ee1111" stroke-width="10.5"/><line x1="1455.6" y1="2232.3" x2="1453.0" y2="2272.5" stroke="#ee1111" stroke-width="10.5"/><line x1="1453.0" y1="2272.5" x2="1449.7" y2="2325.2" stroke="#c0c4c6" stroke-width="10.5"/><line x1="1449.7" y1="2325.2" x2="1453.0" y2="2377.6" stroke="#c0c4c6" stroke-width="10.5"/><line x1="1453.0" y1="2377.6" x2="1455.6" y2="2417.5" stroke="#ee1111" stroke-width="10.5"/><line x1="1524.4" y1="2232.3" x2="1523.8" y2="2272.5" stroke="#ee1111" stroke-width="10.5"/><line x1="1523.8" y1="2272.5" x2="1523.0" y2="2325.2" stroke="#c0c4c6" stroke-width="10.5"/><line x1="1523.0" y1="2325.2" x2="1523.8" y2="2377.6" stroke="#c0c4c6" stroke-width="10.5"/><line x1="1523.8" y1="2377.6" x2="1524.4" y2="2417.5" stroke="#ee1111" stroke-width="10.5"/><line x1="1592.0" y1="2232.3" x2="1594.0" y2="2272.5" stroke="#ee1111" stroke-width="10.5"/><line x1="1594.0" y1="2272.5" x2="1596.6" y2="2325.2" stroke="#c0c4c6" stroke-width="10.5"/><line x1="1596.6" y1="2325.2" x2="1594.0" y2="2377.6" stroke="#c0c4c6" stroke-width="10.5"/><line x1="1594.0" y1="2377.6" x2="1592.0" y2="2417.5" stroke="#ee1111" stroke-width="10.5"/><line x1="1658.5" y1="2232.3" x2="1656.4" y2="2272.5" stroke="#ee1111" stroke-width="10.5"/><line x1="1656.4" y1="2272.5" x2="1653.7" y2="2325.2" stroke="#c0c4c6" stroke-width="10.5"/><line x1="1653.7" y1="2325.2" x2="1656.4" y2="2377.6" stroke="#c0c4c6" stroke-width="10.5"/><line x1="1656.4" y1="2377.6" x2="1658.5" y2="2417.5" stroke="#ee1111" stroke-width="10.5"/><line x1="1727.2" y1="2232.3" x2="1727.1" y2="2272.5" stroke="#ee1111" stroke-width="10.5"/><line x1="1727.1" y1="2272.5" x2="1727.0" y2="2325.2" stroke="#c0c4c6" stroke-width="10.5"/><line x1="1727.0" y1="2325.2" x2="1727.1" y2="2377.6" stroke="#c0c4c6" stroke-width="10.5"/><line x1="1727.1" y1="2377.6" x2="1727.2" y2="2417.5" stroke="#ee1111" stroke-width="10.5"/><line x1="1794.8" y1="2232.3" x2="1797.4" y2="2272.5" stroke="#ee1111" stroke-width="10.5"/><line x1="1797.4" y1="2272.5" x2="1800.7" y2="2325.2" stroke="#c0c4c6" stroke-width="10.5"/><line x1="1800.7" y1="2325.2" x2="1797.4" y2="2377.6" stroke="#c0c4c6" stroke-width="10.5"/><line x1="1797.4" y1="2377.6" x2="1794.8" y2="2417.5" stroke="#ee1111" stroke-width="10.5"/><line x1="1252.2" y1="2140.0" x2="1280.0" y2="2158.5" stroke="#ee1111" stroke-width="8"/><line x1="1280.0" y1="2158.5" x2="1320.4" y2="2185.2" stroke="#e8e878" stroke-width="8"/><line x1="1252.2" y1="2232.3" x2="1280.1" y2="2213.0" stroke="#ee1111" stroke-width="8"/><line x1="1280.1" y1="2213.0" x2="1320.4" y2="2185.2" stroke="#e8e878" stroke-width="8"/><line x1="1389.2" y1="2140.0" x2="1361.1" y2="2158.5" stroke="#ee1111" stroke-width="8"/><line x1="1361.1" y1="2158.5" x2="1320.4" y2="2185.2" stroke="#e8e878" stroke-width="8"/><line x1="1389.2" y1="2232.3" x2="1361.0" y2="2213.0" stroke="#ee1111" stroke-width="8"/><line x1="1361.0" y1="2213.0" x2="1320.4" y2="2185.2" stroke="#e8e878" stroke-width="8"/><line x1="1320.4" y1="2140.0" x2="1320.4" y2="2155.1" stroke="#b00000" stroke-width="9"/><line x1="1320.4" y1="2155.1" x2="1320.4" y2="2185.2" stroke="#a8a850" stroke-width="9"/><line x1="1320.4" y1="2232.3" x2="1320.4" y2="2216.2" stroke="#b00000" stroke-width="9"/><line x1="1320.4" y1="2216.2" x2="1320.4" y2="2185.2" stroke="#a8a850" stroke-width="9"/><line x1="1320.4" y1="2140.0" x2="1350.0" y2="2159.4" stroke="#ee1111" stroke-width="8"/><line x1="1350.0" y1="2159.4" x2="1389.2" y2="2185.2" stroke="#e678c0" stroke-width="8"/><line x1="1320.4" y1="2232.3" x2="1350.1" y2="2212.0" stroke="#ee1111" stroke-width="8"/><line x1="1350.1" y1="2212.0" x2="1389.2" y2="2185.2" stroke="#e678c0" stroke-width="8"/><line x1="1455.6" y1="2140.0" x2="1427.2" y2="2159.4" stroke="#ee1111" stroke-width="8"/><line x1="1427.2" y1="2159.4" x2="1389.2" y2="2185.2" stroke="#e678c0" stroke-width="8"/><line x1="1455.6" y1="2232.3" x2="1427.1" y2="2212.1" stroke="#ee1111" stroke-width="8"/><line x1="1427.1" y1="2212.1" x2="1389.2" y2="2185.2" stroke="#e678c0" stroke-width="8"/><line x1="1389.2" y1="2140.0" x2="1389.2" y2="2156.8" stroke="#b00000" stroke-width="9"/><line x1="1389.2" y1="2156.8" x2="1389.2" y2="2185.2" stroke="#a85488" stroke-width="9"/><line x1="1389.2" y1="2232.3" x2="1389.2" y2="2214.5" stroke="#b00000" stroke-width="9"/><line x1="1389.2" y1="2214.5" x2="1389.2" y2="2185.2" stroke="#a85488" stroke-width="9"/><line x1="1389.2" y1="2140.0" x2="1417.6" y2="2159.4" stroke="#ee1111" stroke-width="8"/><line x1="1417.6" y1="2159.4" x2="1455.6" y2="2185.2" stroke="#e678c0" stroke-width="8"/><line x1="1389.2" y1="2232.3" x2="1417.7" y2="2212.1" stroke="#ee1111" stroke-width="8"/><line x1="1417.7" y1="2212.1" x2="1455.6" y2="2185.2" stroke="#e678c0" stroke-width="8"/><line x1="1524.4" y1="2140.0" x2="1494.8" y2="2159.4" stroke="#ee1111" stroke-width="8"/><line x1="1494.8" y1="2159.4" x2="1455.6" y2="2185.2" stroke="#e678c0" stroke-width="8"/><line x1="1524.4" y1="2232.3" x2="1494.7" y2="2212.0" stroke="#ee1111" stroke-width="8"/><line x1="1494.7" y1="2212.0" x2="1455.6" y2="2185.2" stroke="#e678c0" stroke-width="8"/><line x1="1455.6" y1="2140.0" x2="1455.6" y2="2156.8" stroke="#b00000" stroke-width="9"/><line x1="1455.6" y1="2156.8" x2="1455.6" y2="2185.2" stroke="#a85488" stroke-width="9"/><line x1="1455.6" y1="2232.3" x2="1455.6" y2="2214.5" stroke="#b00000" stroke-width="9"/><line x1="1455.6" y1="2214.5" x2="1455.6" y2="2185.2" stroke="#a85488" stroke-width="9"/><line x1="1455.6" y1="2140.0" x2="1483.7" y2="2158.5" stroke="#ee1111" stroke-width="8"/><line x1="1483.7" y1="2158.5" x2="1524.4" y2="2185.2" stroke="#e8e878" stroke-width="8"/><line x1="1455.6" y1="2232.3" x2="1483.8" y2="2213.0" stroke="#ee1111" stroke-width="8"/><line x1="1483.8" y1="2213.0" x2="1524.4" y2="2185.2" stroke="#e8e878" stroke-width="8"/><line x1="1592.0" y1="2140.0" x2="1564.4" y2="2158.4" stroke="#ee1111" stroke-width="8"/><line x1="1564.4" y1="2158.4" x2="1524.4" y2="2185.2" stroke="#e8e878" stroke-width="8"/><line x1="1592.0" y1="2232.3" x2="1564.4" y2="2213.0" stroke="#ee1111" stroke-width="8"/><line x1="1564.4" y1="2213.0" x2="1524.4" y2="2185.2" stroke="#e8e878" stroke-width="8"/><line x1="1524.4" y1="2140.0" x2="1524.4" y2="2155.1" stroke="#b00000" stroke-width="9"/><line x1="1524.4" y1="2155.1" x2="1524.4" y2="2185.2" stroke="#a8a850" stroke-width="9"/><line x1="1524.4" y1="2232.3" x2="1524.4" y2="2216.2" stroke="#b00000" stroke-width="9"/><line x1="1524.4" y1="2216.2" x2="1524.4" y2="2185.2" stroke="#a8a850" stroke-width="9"/><line x1="1524.4" y1="2140.0" x2="1553.4" y2="2159.4" stroke="#ee1111" stroke-width="8"/><line x1="1553.4" y1="2159.4" x2="1592.0" y2="2185.2" stroke="#e678c0" stroke-width="8"/><line x1="1524.4" y1="2232.3" x2="1553.5" y2="2212.0" stroke="#ee1111" stroke-width="8"/><line x1="1553.5" y1="2212.0" x2="1592.0" y2="2185.2" stroke="#e678c0" stroke-width="8"/><line x1="1658.5" y1="2140.0" x2="1630.0" y2="2159.4" stroke="#ee1111" stroke-width="8"/><line x1="1630.0" y1="2159.4" x2="1592.0" y2="2185.2" stroke="#e678c0" stroke-width="8"/><line x1="1658.5" y1="2232.3" x2="1629.9" y2="2212.1" stroke="#ee1111" stroke-width="8"/><line x1="1629.9" y1="2212.1" x2="1592.0" y2="2185.2" stroke="#e678c0" stroke-width="8"/><line x1="1592.0" y1="2140.0" x2="1592.0" y2="2156.8" stroke="#b00000" stroke-width="9"/><line x1="1592.0" y1="2156.8" x2="1592.0" y2="2185.2" stroke="#a85488" stroke-width="9"/><line x1="1592.0" y1="2232.3" x2="1592.0" y2="2214.5" stroke="#b00000" stroke-width="9"/><line x1="1592.0" y1="2214.5" x2="1592.0" y2="2185.2" stroke="#a85488" stroke-width="9"/><line x1="1592.0" y1="2140.0" x2="1620.5" y2="2159.4" stroke="#ee1111" stroke-width="8"/><line x1="1620.5" y1="2159.4" x2="1658.5" y2="2185.2" stroke="#e678c0" stroke-width="8"/><line x1="1592.0" y1="2232.3" x2="1620.6" y2="2212.1" stroke="#ee1111" stroke-width="8"/><line x1="1620.6" y1="2212.1" x2="1658.5" y2="2185.2" stroke="#e678c0" stroke-width="8"/><line x1="1727.2" y1="2140.0" x2="1697.7" y2="2159.4" stroke="#ee1111" stroke-width="8"/><line x1="1697.7" y1="2159.4" x2="1658.5" y2="2185.2" stroke="#e678c0" stroke-width="8"/><line x1="1727.2" y1="2232.3" x2="1697.6" y2="2212.0" stroke="#ee1111" stroke-width="8"/><line x1="1697.6" y1="2212.0" x2="1658.5" y2="2185.2" stroke="#e678c0" stroke-width="8"/><line x1="1658.5" y1="2140.0" x2="1658.5" y2="2156.8" stroke="#b00000" stroke-width="9"/><line x1="1658.5" y1="2156.8" x2="1658.5" y2="2185.2" stroke="#a85488" stroke-width="9"/><line x1="1658.5" y1="2232.3" x2="1658.5" y2="2214.5" stroke="#b00000" stroke-width="9"/><line x1="1658.5" y1="2214.5" x2="1658.5" y2="2185.2" stroke="#a85488" stroke-width="9"/><line x1="1658.5" y1="2140.0" x2="1686.6" y2="2158.5" stroke="#ee1111" stroke-width="8"/><line x1="1686.6" y1="2158.5" x2="1727.2" y2="2185.2" stroke="#e8e878" stroke-width="8"/><line x1="1658.5" y1="2232.3" x2="1686.7" y2="2213.0" stroke="#ee1111" stroke-width="8"/><line x1="1686.7" y1="2213.0" x2="1727.2" y2="2185.2" stroke="#e8e878" stroke-width="8"/><line x1="1794.8" y1="2140.0" x2="1767.2" y2="2158.4" stroke="#ee1111" stroke-width="8"/><line x1="1767.2" y1="2158.4" x2="1727.2" y2="2185.2" stroke="#e8e878" stroke-width="8"/><line x1="1794.8" y1="2232.3" x2="1767.2" y2="2213.0" stroke="#ee1111" stroke-width="8"/><line x1="1767.2" y1="2213.0" x2="1727.2" y2="2185.2" stroke="#e8e878" stroke-width="8"/><line x1="1727.2" y1="2140.0" x2="1727.2" y2="2155.1" stroke="#b00000" stroke-width="9"/><line x1="1727.2" y1="2155.1" x2="1727.2" y2="2185.2" stroke="#a8a850" stroke-width="9"/><line x1="1727.2" y1="2232.3" x2="1727.2" y2="2216.2" stroke="#b00000" stroke-width="9"/><line x1="1727.2" y1="2216.2" x2="1727.2" y2="2185.2" stroke="#a8a850" stroke-width="9"/><line x1="1252.2" y1="2417.5" x2="1280.1" y2="2436.2" stroke="#ee1111" stroke-width="8"/><line x1="1280.1" y1="2436.2" x2="1320.4" y2="2463.3" stroke="#e8e878" stroke-width="8"/><line x1="1252.2" y1="2508.6" x2="1280.1" y2="2490.1" stroke="#ee1111" stroke-width="8"/><line x1="1280.1" y1="2490.1" x2="1320.4" y2="2463.3" stroke="#e8e878" stroke-width="8"/><line x1="1389.2" y1="2417.5" x2="1361.0" y2="2436.2" stroke="#ee1111" stroke-width="8"/><line x1="1361.0" y1="2436.2" x2="1320.4" y2="2463.3" stroke="#e8e878" stroke-width="8"/><line x1="1389.2" y1="2508.6" x2="1361.1" y2="2490.1" stroke="#ee1111" stroke-width="8"/><line x1="1361.1" y1="2490.1" x2="1320.4" y2="2463.3" stroke="#e8e878" stroke-width="8"/><line x1="1320.4" y1="2417.5" x2="1320.4" y2="2432.9" stroke="#b00000" stroke-width="9"/><line x1="1320.4" y1="2432.9" x2="1320.4" y2="2463.3" stroke="#a8a850" stroke-width="9"/><line x1="1320.4" y1="2508.6" x2="1320.4" y2="2493.4" stroke="#b00000" stroke-width="9"/><line x1="1320.4" y1="2493.4" x2="1320.4" y2="2463.3" stroke="#a8a850" stroke-width="9"/><line x1="1320.4" y1="2417.5" x2="1350.0" y2="2437.2" stroke="#ee1111" stroke-width="8"/><line x1="1350.0" y1="2437.2" x2="1389.2" y2="2463.3" stroke="#e678c0" stroke-width="8"/><line x1="1320.4" y1="2508.6" x2="1350.0" y2="2489.1" stroke="#ee1111" stroke-width="8"/><line x1="1350.0" y1="2489.1" x2="1389.2" y2="2463.3" stroke="#e678c0" stroke-width="8"/><line x1="1455.6" y1="2417.5" x2="1427.1" y2="2437.1" stroke="#ee1111" stroke-width="8"/><line x1="1427.1" y1="2437.1" x2="1389.2" y2="2463.3" stroke="#e678c0" stroke-width="8"/><line x1="1455.6" y1="2508.6" x2="1427.1" y2="2489.2" stroke="#ee1111" stroke-width="8"/><line x1="1427.1" y1="2489.2" x2="1389.2" y2="2463.3" stroke="#e678c0" stroke-width="8"/><line x1="1389.2" y1="2417.5" x2="1389.2" y2="2434.7" stroke="#b00000" stroke-width="9"/><line x1="1389.2" y1="2434.7" x2="1389.2" y2="2463.3" stroke="#a85488" stroke-width="9"/><line x1="1389.2" y1="2508.6" x2="1389.2" y2="2491.7" stroke="#b00000" stroke-width="9"/><line x1="1389.2" y1="2491.7" x2="1389.2" y2="2463.3" stroke="#a85488" stroke-width="9"/><line x1="1389.2" y1="2417.5" x2="1417.7" y2="2437.1" stroke="#ee1111" stroke-width="8"/><line x1="1417.7" y1="2437.1" x2="1455.6" y2="2463.3" stroke="#e678c0" stroke-width="8"/><line x1="1389.2" y1="2508.6" x2="1417.7" y2="2489.2" stroke="#ee1111" stroke-width="8"/><line x1="1417.7" y1="2489.2" x2="1455.6" y2="2463.3" stroke="#e678c0" stroke-width="8"/><line x1="1524.4" y1="2417.5" x2="1494.8" y2="2437.2" stroke="#ee1111" stroke-width="8"/><line x1="1494.8" y1="2437.2" x2="1455.6" y2="2463.3" stroke="#e678c0" stroke-width="8"/><line x1="1524.4" y1="2508.6" x2="1494.8" y2="2489.1" stroke="#ee1111" stroke-width="8"/><line x1="1494.8" y1="2489.1" x2="1455.6" y2="2463.3" stroke="#e678c0" stroke-width="8"/><line x1="1455.6" y1="2417.5" x2="1455.6" y2="2434.7" stroke="#b00000" stroke-width="9"/><line x1="1455.6" y1="2434.7" x2="1455.6" y2="2463.3" stroke="#a85488" stroke-width="9"/><line x1="1455.6" y1="2508.6" x2="1455.6" y2="2491.7" stroke="#b00000" stroke-width="9"/><line x1="1455.6" y1="2491.7" x2="1455.6" y2="2463.3" stroke="#a85488" stroke-width="9"/><line x1="1455.6" y1="2417.5" x2="1483.8" y2="2436.2" stroke="#ee1111" stroke-width="8"/><line x1="1483.8" y1="2436.2" x2="1524.4" y2="2463.3" stroke="#e8e878" stroke-width="8"/><line x1="1455.6" y1="2508.6" x2="1483.7" y2="2490.1" stroke="#ee1111" stroke-width="8"/><line x1="1483.7" y1="2490.1" x2="1524.4" y2="2463.3" stroke="#e8e878" stroke-width="8"/><line x1="1592.0" y1="2417.5" x2="1564.4" y2="2436.2" stroke="#ee1111" stroke-width="8"/><line x1="1564.4" y1="2436.2" x2="1524.4" y2="2463.3" stroke="#e8e878" stroke-width="8"/><line x1="1592.0" y1="2508.6" x2="1564.4" y2="2490.1" stroke="#ee1111" stroke-width="8"/><line x1="1564.4" y1="2490.1" x2="1524.4" y2="2463.3" stroke="#e8e878" stroke-width="8"/><line x1="1524.4" y1="2417.5" x2="1524.4" y2="2432.9" stroke="#b00000" stroke-width="9"/><line x1="1524.4" y1="2432.9" x2="1524.4" y2="2463.3" stroke="#a8a850" stroke-width="9"/><line x1="1524.4" y1="2508.6" x2="1524.4" y2="2493.4" stroke="#b00000" stroke-width="9"/><line x1="1524.4" y1="2493.4" x2="1524.4" y2="2463.3" stroke="#a8a850" stroke-width="9"/><line x1="1524.4" y1="2417.5" x2="1553.4" y2="2437.2" stroke="#ee1111" stroke-width="8"/><line x1="1553.4" y1="2437.2" x2="1592.0" y2="2463.3" stroke="#e678c0" stroke-width="8"/><line x1="1524.4" y1="2508.6" x2="1553.4" y2="2489.2" stroke="#ee1111" stroke-width="8"/><line x1="1553.4" y1="2489.2" x2="1592.0" y2="2463.3" stroke="#e678c0" stroke-width="8"/><line x1="1658.5" y1="2417.5" x2="1630.0" y2="2437.1" stroke="#ee1111" stroke-width="8"/><line x1="1630.0" y1="2437.1" x2="1592.0" y2="2463.3" stroke="#e678c0" stroke-width="8"/><line x1="1658.5" y1="2508.6" x2="1630.0" y2="2489.2" stroke="#ee1111" stroke-width="8"/><line x1="1630.0" y1="2489.2" x2="1592.0" y2="2463.3" stroke="#e678c0" stroke-width="8"/><line x1="1592.0" y1="2417.5" x2="1592.0" y2="2434.7" stroke="#b00000" stroke-width="9"/><line x1="1592.0" y1="2434.7" x2="1592.0" y2="2463.3" stroke="#a85488" stroke-width="9"/><line x1="1592.0" y1="2508.6" x2="1592.0" y2="2491.7" stroke="#b00000" stroke-width="9"/><line x1="1592.0" y1="2491.7" x2="1592.0" y2="2463.3" stroke="#a85488" stroke-width="9"/><line x1="1592.0" y1="2417.5" x2="1620.5" y2="2437.1" stroke="#ee1111" stroke-width="8"/><line x1="1620.5" y1="2437.1" x2="1658.5" y2="2463.3" stroke="#e678c0" stroke-width="8"/><line x1="1592.0" y1="2508.6" x2="1620.5" y2="2489.2" stroke="#ee1111" stroke-width="8"/><line x1="1620.5" y1="2489.2" x2="1658.5" y2="2463.3" stroke="#e678c0" stroke-width="8"/><line x1="1727.2" y1="2417.5" x2="1697.6" y2="2437.2" stroke="#ee1111" stroke-width="8"/><line x1="1697.6" y1="2437.2" x2="1658.5" y2="2463.3" stroke="#e678c0" stroke-width="8"/><line x1="1727.2" y1="2508.6" x2="1697.7" y2="2489.1" stroke="#ee1111" stroke-width="8"/><line x1="1697.7" y1="2489.1" x2="1658.5" y2="2463.3" stroke="#e678c0" stroke-width="8"/><line x1="1658.5" y1="2417.5" x2="1658.5" y2="2434.7" stroke="#b00000" stroke-width="9"/><line x1="1658.5" y1="2434.7" x2="1658.5" y2="2463.3" stroke="#a85488" stroke-width="9"/><line x1="1658.5" y1="2508.6" x2="1658.5" y2="2491.7" stroke="#b00000" stroke-width="9"/><line x1="1658.5" y1="2491.7" x2="1658.5" y2="2463.3" stroke="#a85488" stroke-width="9"/><line x1="1658.5" y1="2417.5" x2="1686.6" y2="2436.2" stroke="#ee1111" stroke-width="8"/><line x1="1686.6" y1="2436.2" x2="1727.2" y2="2463.3" stroke="#e8e878" stroke-width="8"/><line x1="1658.5" y1="2508.6" x2="1686.6" y2="2490.1" stroke="#ee1111" stroke-width="8"/><line x1="1686.6" y1="2490.1" x2="1727.2" y2="2463.3" stroke="#e8e878" stroke-width="8"/><line x1="1794.8" y1="2417.5" x2="1767.2" y2="2436.2" stroke="#ee1111" stroke-width="8"/><line x1="1767.2" y1="2436.2" x2="1727.2" y2="2463.3" stroke="#e8e878" stroke-width="8"/><line x1="1794.8" y1="2508.6" x2="1767.2" y2="2490.1" stroke="#ee1111" stroke-width="8"/><line x1="1767.2" y1="2490.1" x2="1727.2" y2="2463.3" stroke="#e8e878" stroke-width="8"/><line x1="1727.2" y1="2417.5" x2="1727.2" y2="2432.9" stroke="#b00000" stroke-width="9"/><line x1="1727.2" y1="2432.9" x2="1727.2" y2="2463.3" stroke="#a8a850" stroke-width="9"/><line x1="1727.2" y1="2508.6" x2="1727.2" y2="2493.4" stroke="#b00000" stroke-width="9"/><line x1="1727.2" y1="2493.4" x2="1727.2" y2="2463.3" stroke="#a8a850" stroke-width="9"/><circle cx="1247.0" cy="2325.2" r="24.5" fill="url(#gA)"/><circle cx="1320.0" cy="2325.2" r="24.5" fill="url(#gA)"/><circle cx="1394.0" cy="2325.2" r="24.5" fill="url(#gA)"/><circle cx="1449.7" cy="2325.2" r="24.5" fill="url(#gA)"/><circle cx="1523.0" cy="2325.2" r="24.5" fill="url(#gA)"/><circle cx="1596.6" cy="2325.2" r="24.5" fill="url(#gA)"/><circle cx="1653.7" cy="2325.2" r="24.5" fill="url(#gA)"/><circle cx="1727.0" cy="2325.2" r="24.5" fill="url(#gA)"/><circle cx="1800.7" cy="2325.2" r="24.5" fill="url(#gA)"/><circle cx="1320.4" cy="2185.2" r="27.0" fill="url(#gY)"/><rect x="1315.9" y="2201.2" width="9" height="11.0" fill="#9a9a48"/><rect x="1315.9" y="2158.2" width="9" height="7.0" fill="#9a9a48" opacity="0.8"/><circle cx="1389.2" cy="2185.2" r="23.5" fill="url(#gP)"/><rect x="1384.7" y="2197.7" width="9" height="11.0" fill="#a04c80"/><rect x="1384.7" y="2161.7" width="9" height="7.0" fill="#a04c80" opacity="0.8"/><circle cx="1455.6" cy="2185.2" r="23.5" fill="url(#gP)"/><rect x="1451.1" y="2197.7" width="9" height="11.0" fill="#a04c80"/><rect x="1451.1" y="2161.7" width="9" height="7.0" fill="#a04c80" opacity="0.8"/><circle cx="1524.4" cy="2185.2" r="27.0" fill="url(#gY)"/><rect x="1519.9" y="2201.2" width="9" height="11.0" fill="#9a9a48"/><rect x="1519.9" y="2158.2" width="9" height="7.0" fill="#9a9a48" opacity="0.8"/><circle cx="1592.0" cy="2185.2" r="23.5" fill="url(#gP)"/><rect x="1587.5" y="2197.7" width="9" height="11.0" fill="#a04c80"/><rect x="1587.5" y="2161.7" width="9" height="7.0" fill="#a04c80" opacity="0.8"/><circle cx="1658.5" cy="2185.2" r="23.5" fill="url(#gP)"/><rect x="1654.0" y="2197.7" width="9" height="11.0" fill="#a04c80"/><rect x="1654.0" y="2161.7" width="9" height="7.0" fill="#a04c80" opacity="0.8"/><circle cx="1727.2" cy="2185.2" r="27.0" fill="url(#gY)"/><rect x="1722.7" y="2201.2" width="9" height="11.0" fill="#9a9a48"/><rect x="1722.7" y="2158.2" width="9" height="7.0" fill="#9a9a48" opacity="0.8"/><circle cx="1252.2" cy="2140.0" r="12" fill="url(#gO)"/><circle cx="1252.2" cy="2232.3" r="12" fill="url(#gO)"/><circle cx="1320.4" cy="2140.0" r="12" fill="url(#gO)"/><circle cx="1320.4" cy="2232.3" r="12" fill="url(#gO)"/><circle cx="1389.2" cy="2140.0" r="12" fill="url(#gO)"/><circle cx="1389.2" cy="2232.3" r="12" fill="url(#gO)"/><circle cx="1455.6" cy="2140.0" r="12" fill="url(#gO)"/><circle cx="1455.6" cy="2232.3" r="12" fill="url(#gO)"/><circle cx="1524.4" cy="2140.0" r="12" fill="url(#gO)"/><circle cx="1524.4" cy="2232.3" r="12" fill="url(#gO)"/><circle cx="1592.0" cy="2140.0" r="12" fill="url(#gO)"/><circle cx="1592.0" cy="2232.3" r="12" fill="url(#gO)"/><circle cx="1658.5" cy="2140.0" r="12" fill="url(#gO)"/><circle cx="1658.5" cy="2232.3" r="12" fill="url(#gO)"/><circle cx="1727.2" cy="2140.0" r="12" fill="url(#gO)"/><circle cx="1727.2" cy="2232.3" r="12" fill="url(#gO)"/><circle cx="1794.8" cy="2140.0" r="12" fill="url(#gO)"/><circle cx="1794.8" cy="2232.3" r="12" fill="url(#gO)"/><circle cx="1320.4" cy="2463.3" r="27.0" fill="url(#gY)"/><rect x="1315.9" y="2479.3" width="9" height="11.0" fill="#9a9a48"/><rect x="1315.9" y="2436.3" width="9" height="7.0" fill="#9a9a48" opacity="0.8"/><circle cx="1389.2" cy="2463.3" r="23.5" fill="url(#gP)"/><rect x="1384.7" y="2475.8" width="9" height="11.0" fill="#a04c80"/><rect x="1384.7" y="2439.8" width="9" height="7.0" fill="#a04c80" opacity="0.8"/><circle cx="1455.6" cy="2463.3" r="23.5" fill="url(#gP)"/><rect x="1451.1" y="2475.8" width="9" height="11.0" fill="#a04c80"/><rect x="1451.1" y="2439.8" width="9" height="7.0" fill="#a04c80" opacity="0.8"/><circle cx="1524.4" cy="2463.3" r="27.0" fill="url(#gY)"/><rect x="1519.9" y="2479.3" width="9" height="11.0" fill="#9a9a48"/><rect x="1519.9" y="2436.3" width="9" height="7.0" fill="#9a9a48" opacity="0.8"/><circle cx="1592.0" cy="2463.3" r="23.5" fill="url(#gP)"/><rect x="1587.5" y="2475.8" width="9" height="11.0" fill="#a04c80"/><rect x="1587.5" y="2439.8" width="9" height="7.0" fill="#a04c80" opacity="0.8"/><circle cx="1658.5" cy="2463.3" r="23.5" fill="url(#gP)"/><rect x="1654.0" y="2475.8" width="9" height="11.0" fill="#a04c80"/><rect x="1654.0" y="2439.8" width="9" height="7.0" fill="#a04c80" opacity="0.8"/><circle cx="1727.2" cy="2463.3" r="27.0" fill="url(#gY)"/><rect x="1722.7" y="2479.3" width="9" height="11.0" fill="#9a9a48"/><rect x="1722.7" y="2436.3" width="9" height="7.0" fill="#9a9a48" opacity="0.8"/><circle cx="1252.2" cy="2417.5" r="12" fill="url(#gO)"/><circle cx="1252.2" cy="2508.6" r="12" fill="url(#gO)"/><circle cx="1320.4" cy="2417.5" r="12" fill="url(#gO)"/><circle cx="1320.4" cy="2508.6" r="12" fill="url(#gO)"/><circle cx="1389.2" cy="2417.5" r="12" fill="url(#gO)"/><circle cx="1389.2" cy="2508.6" r="12" fill="url(#gO)"/><circle cx="1455.6" cy="2417.5" r="12" fill="url(#gO)"/><circle cx="1455.6" cy="2508.6" r="12" fill="url(#gO)"/><circle cx="1524.4" cy="2417.5" r="12" fill="url(#gO)"/><circle cx="1524.4" cy="2508.6" r="12" fill="url(#gO)"/><circle cx="1592.0" cy="2417.5" r="12" fill="url(#gO)"/><circle cx="1592.0" cy="2508.6" r="12" fill="url(#gO)"/><circle cx="1658.5" cy="2417.5" r="12" fill="url(#gO)"/><circle cx="1658.5" cy="2508.6" r="12" fill="url(#gO)"/><circle cx="1727.2" cy="2417.5" r="12" fill="url(#gO)"/><circle cx="1727.2" cy="2508.6" r="12" fill="url(#gO)"/><circle cx="1794.8" cy="2417.5" r="12" fill="url(#gO)"/><circle cx="1794.8" cy="2508.6" r="12" fill="url(#gO)"/></g>
<g clip-path="url(#cb)" fill="none" stroke-width="7.8" stroke-linejoin="round">
<path d="M170.5 2044.1L171.9 2044.3L173.2 2044.2L174.6 2043.1L175.9 2044.2L177.3 2043.0L178.7 2044.4L180.0 2042.7L181.4 2043.3L182.7 2043.1L184.1 2044.2L185.4 2044.1L186.8 2043.6L188.2 2043.6L189.5 2043.1L190.9 2043.7L192.2 2042.5L193.6 2044.0L195.0 2044.5L196.3 2043.4L197.7 2043.5L199.0 2043.7L200.4 2043.3L201.8 2044.5L203.1 2042.9L205.8 2044.0L207.2 2044.1L208.5 2043.2L209.9 2042.8L211.3 2044.0L212.6 2042.8L214.0 2044.3L215.3 2042.5L216.7 2044.4L218.1 2044.3L219.4 2043.6L220.8 2044.5L223.5 2044.0L224.9 2043.1L226.2 2042.7L228.9 2042.7L230.3 2044.0L231.6 2044.1L233.0 2044.6L234.4 2043.4L235.7 2043.4L237.1 2044.5L238.4 2044.3L239.8 2044.7L241.2 2042.6L242.5 2044.7L243.9 2043.5L245.2 2044.3L246.6 2043.0L248.0 2043.8L249.3 2044.2L252.0 2044.1L253.4 2042.8L254.7 2044.6L256.1 2042.7L257.5 2044.4L258.8 2043.9L260.2 2044.0L261.5 2043.1L262.9 2044.4L264.3 2044.3L265.6 2043.2L267.0 2044.7L268.3 2043.6L269.7 2044.5L271.1 2043.2L272.4 2043.5L275.1 2042.7L277.8 2043.0L279.2 2043.8L280.6 2043.7L281.9 2042.9L283.3 2044.7L284.6 2044.1L286.0 2043.8L287.4 2043.3L288.7 2043.6L290.1 2044.7L291.4 2043.6L292.8 2043.8L294.2 2044.7L295.5 2043.6L296.9 2044.6L298.2 2042.9L299.6 2044.3L300.9 2043.0L302.3 2043.3L303.7 2042.9L305.0 2044.7L306.4 2044.7L307.7 2044.5L310.5 2043.0L313.2 2044.7L314.5 2044.3L315.9 2042.8L317.3 2044.9L318.6 2044.8L320.0 2044.1L321.3 2042.8L322.7 2044.3L324.0 2044.1L325.4 2042.8L326.8 2043.8L328.1 2042.8L329.5 2042.9L330.8 2044.3L332.2 2044.5L333.6 2043.5L334.9 2043.1L336.3 2043.4L337.6 2043.3L339.0 2044.0L340.4 2043.4L341.7 2044.8L343.1 2042.8L344.4 2043.3L345.8 2044.2L347.1 2043.8L348.5 2043.0L349.9 2043.7L351.2 2043.4L352.6 2044.6L353.9 2043.3L355.3 2044.2L356.7 2044.3L359.4 2042.9L360.7 2044.0L362.1 2043.1L363.4 2043.3L364.8 2044.9L366.2 2043.2L367.5 2044.9L368.9 2043.2L370.2 2042.9L371.6 2042.9L373.0 2044.7L374.3 2044.8L375.7 2043.4L378.4 2043.6L379.8 2044.2L381.1 2043.5L383.8 2044.2L385.2 2043.4L386.5 2043.1L387.9 2044.2L389.3 2044.2L390.6 2042.8L393.3 2044.7L394.7 2044.1L396.1 2044.3L397.4 2044.9L398.8 2043.2L400.1 2043.6L401.5 2043.1L402.9 2044.7L404.2 2044.0L405.6 2044.7L408.3 2043.5L409.6 2044.3L411.0 2043.3L415.1 2044.4L416.4 2043.2L417.8 2044.3L419.2 2043.8L420.5 2044.0L421.9 2042.8L423.2 2043.7L424.6 2042.8L426.0 2043.9L427.3 2044.3L428.7 2043.3L430.0 2043.4L431.4 2043.8L432.7 2043.6L434.1 2044.5L436.8 2043.8L439.5 2042.4L440.9 2043.7L442.3 2042.6L443.6 2043.6L445.0 2043.4L446.3 2043.8L447.7 2042.0L449.1 2042.9L450.4 2042.5L453.1 2042.1L453.8 2043.3L454.0 2042.4L454.1 2042.6L454.3 2041.6L454.7 2042.7L454.8 2041.6L455.0 2042.1L455.2 2041.9L455.3 2042.5L455.5 2041.4L455.7 2043.4L455.8 2042.1L456.0 2043.2L456.2 2041.3L456.5 2043.1L456.9 2041.9L457.0 2042.5L457.4 2041.6L457.5 2043.0L458.1 2041.9L458.2 2042.7L458.4 2042.5L458.6 2041.5L458.9 2041.7L459.1 2040.8L459.2 2041.6L459.4 2040.9L459.6 2042.0L459.8 2041.2L460.4 2040.5L460.6 2041.8L460.8 2040.7L460.9 2040.7L461.1 2039.9L461.3 2041.0L461.6 2038.5L461.8 2039.1L462.0 2037.0L462.1 2038.5L462.6 2034.5L462.8 2034.3L465.0 2008.2L465.2 2008.3L465.5 2004.2L466.0 2000.8L466.2 2000.7L466.7 1996.0L466.9 1996.6L467.2 1993.4L467.4 1993.5L467.9 1990.8L468.4 1989.4L468.6 1989.4L468.8 1989.1L469.1 1991.0L469.3 1990.0L469.4 1991.3L469.9 1991.5L470.3 1993.9L470.5 1992.9L470.8 1994.4L471.0 1993.9L471.1 1994.9L471.5 1994.4L471.6 1995.5L471.8 1995.4L472.0 1996.1L472.2 1994.7L472.3 1995.6L472.7 1995.0L472.8 1993.7L473.2 1994.3L473.3 1993.3L473.5 1993.3L473.7 1994.7L473.9 1993.0L474.0 1993.9L474.2 1993.0L474.4 1993.5L474.7 1992.5L474.9 1992.8L475.0 1992.2L475.2 1993.5L475.6 1991.3L475.7 1992.4L475.9 1991.0L476.1 1992.0L476.2 1991.9L476.4 1992.0L476.6 1990.9L476.7 1991.2L477.1 1990.8L477.2 1990.1L477.4 1990.5L477.9 1988.6L478.1 1989.3L478.3 1989.3L478.4 1987.8L478.6 1988.7L480.3 1984.8L483.0 1975.7L484.4 1969.6L485.7 1961.8L487.1 1948.8L489.5 1908.1L492.4 1769.7L494.2 1493.5L500.2 2007.5L500.3 2008.7L502.0 2009.9L503.4 2011.5L506.1 2016.2L507.5 2016.2L508.8 2018.6L510.2 2018.7L511.6 2021.0L512.9 2021.9L514.3 2021.0L515.6 2023.1L518.4 2023.4L519.7 2024.2L521.1 2025.5L522.4 2025.1L523.8 2025.7L525.1 2025.9L526.5 2025.2L527.9 2027.1L529.2 2026.0L530.6 2028.0L531.9 2026.3L533.3 2027.8L534.7 2027.4L536.0 2028.5L537.4 2028.6L541.5 2030.0L542.8 2028.2L544.2 2028.7L545.5 2029.4L546.9 2030.5L548.2 2029.5L549.6 2029.2L551.0 2030.1L553.7 2029.4L555.0 2031.1L556.4 2030.5L557.8 2031.5L559.1 2030.0L560.5 2030.6L561.8 2030.2L563.2 2032.0L564.6 2031.2L565.9 2031.7L567.3 2030.6L568.6 2031.5L570.0 2031.5L571.3 2032.3L572.7 2031.4L574.1 2033.2L575.4 2031.8L576.8 2032.4L579.5 2032.2L580.9 2031.7L582.2 2031.7L583.6 2033.8L584.9 2034.0L587.7 2032.4L590.4 2033.0L591.7 2032.4L593.1 2033.2L595.8 2033.4L597.2 2034.6L598.5 2034.1L599.9 2035.2L601.2 2033.7L602.6 2033.3L604.0 2034.9L605.3 2034.9L606.7 2035.2L608.0 2034.3L609.4 2035.4L610.8 2033.9L612.1 2035.4L614.8 2035.2L616.2 2035.4L617.5 2035.2L620.3 2035.4L623.0 2036.4L624.3 2035.3L625.7 2035.9L628.4 2035.2L629.8 2036.5L631.1 2035.0L632.5 2037.0L633.9 2035.3L635.2 2035.6L636.6 2037.0L637.9 2036.4L639.3 2036.1L640.6 2036.6L642.0 2037.7L644.7 2036.6L646.1 2038.0L647.4 2036.5L648.8 2036.2L650.2 2037.7L652.9 2038.0L654.2 2037.2L655.6 2037.9L657.0 2037.0L658.3 2037.2L659.7 2038.7L661.0 2038.6L662.4 2038.9L663.7 2038.1L665.1 2038.5L666.5 2037.8L667.8 2037.9L669.2 2039.2L670.5 2038.8L671.9 2039.3L673.3 2037.7L674.6 2038.3L676.0 2039.5L677.3 2039.6L678.7 2039.4L680.0 2039.6L681.4 2038.3L682.8 2039.4L684.1 2038.1L685.5 2039.0L686.8 2038.0L688.2 2039.0L689.6 2038.6L692.3 2039.7L693.6 2039.8L695.0 2040.3L696.4 2040.5L697.7 2039.2L700.4 2039.6L701.8 2039.3L703.1 2040.6L707.2 2040.4L708.6 2039.7L709.9 2039.7L711.3 2040.8L712.7 2039.4L714.0 2041.4L715.4 2039.6L716.7 2039.8L718.1 2041.1L719.5 2041.5L720.8 2039.9L722.2 2041.7L724.9 2040.0L726.2 2041.0L727.6 2040.3L729.0 2041.3L730.3 2041.3L731.7 2041.8L733.0 2042.1L734.4 2042.0L735.8 2041.6L738.5 2042.2L739.8 2042.1L741.2 2041.4L742.6 2042.5L743.9 2042.6L745.3 2040.9L746.6 2041.0L748.0 2042.0L750.7 2041.6L752.1 2041.9L753.4 2041.3L757.5 2042.6L758.9 2042.6L760.2 2041.3L761.6 2041.6L764.3 2042.9L765.7 2041.9L767.0 2042.9L768.4 2041.8L769.7 2042.1L771.1 2043.3L772.4 2041.9L773.8 2043.4L775.2 2042.8L776.5 2041.7L777.9 2042.7L779.2 2042.9L780.6 2042.0L782.0 2042.6L783.3 2042.9L784.7 2042.9L786.0 2044.0L787.4 2042.8L788.8 2044.0L790.1 2042.7L791.5 2043.7L792.8 2042.5L794.2 2043.5L796.9 2044.1L798.3 2042.4L799.6 2044.0L801.0 2042.7L802.3 2044.6L803.7 2043.1L805.1 2044.4L806.4 2042.9L807.8 2044.8L809.1 2043.8L810.5 2043.2L811.9 2044.7L814.6 2044.4L817.3 2043.4L818.6 2044.3L820.0 2044.8L822.7 2044.6L824.1 2043.2L825.4 2044.1L826.8 2043.8L829.5 2044.7L830.9 2044.6L832.2 2043.3L833.6 2044.0L835.0 2044.0L836.3 2044.3L839.0 2043.9L840.4 2044.0L843.1 2045.5L844.5 2044.1L845.8 2045.8L847.2 2045.2L848.5 2045.7L849.9 2045.7L851.3 2045.5L852.6 2045.8L854.0 2044.3L855.3 2045.3L858.1 2044.3L859.4 2044.6L860.8 2045.5L862.1 2044.4L863.5 2044.3L864.8 2046.0L866.2 2046.0L867.6 2044.3L868.9 2044.7L870.3 2044.3L873.0 2046.5L874.4 2044.7L875.7 2045.7L877.1 2045.4L878.4 2046.0L879.8 2045.8L881.2 2046.1L882.5 2044.8L883.9 2046.7L885.2 2046.3L886.6 2044.9L887.9 2044.7L889.3 2046.5L890.7 2046.4L892.0 2045.6L893.4 2046.8L894.7 2046.2L896.1 2046.0L897.5 2044.9L898.8 2046.0L900.2 2045.7L901.5 2045.9L902.9 2045.7L904.3 2046.9L905.6 2045.8L907.0 2045.3L908.3 2045.6L909.7 2046.9L911.0 2046.3L912.4 2045.9L913.8 2047.1L915.1 2047.4L916.5 2046.1L917.8 2045.6L919.2 2046.0L920.6 2045.5L921.9 2047.2L923.3 2046.9L924.6 2046.1L926.0 2046.8L928.7 2047.6L930.1 2045.8L932.8 2046.9L934.1 2046.5L935.5 2046.7L938.2 2046.5L939.6 2046.8L942.3 2046.3L943.7 2046.5L945.0 2047.4L946.4 2046.0L947.7 2046.7L949.1 2046.2L950.5 2047.7L951.8 2045.7L953.2 2046.4L954.5 2047.8L955.9 2047.3L957.2 2046.2L958.6 2047.3L960.0 2046.8L961.3 2045.9L964.0 2045.7L964.4 2046.2L964.9 2046.5L965.3 2047.7L965.8 2046.8L966.3 2047.0L966.8 2046.9L967.2 2047.3L967.7 2046.3L968.1 2046.9L968.2 2045.9L969.1 2046.0L969.5 2046.3L969.6 2046.0L970.1 2046.7L970.6 2045.4L971.0 2046.6L971.5 2047.0L972.0 2046.9L972.2 2046.1L972.5 2046.5L972.9 2045.2L973.4 2047.1L973.6 2046.5L973.9 2046.7L974.4 2045.2L974.8 2045.8L974.9 2045.5L975.3 2046.6L975.8 2046.4L976.3 2045.0L976.7 2046.6L977.2 2044.9L977.6 2044.6L977.7 2045.5L978.2 2045.1L978.6 2046.1L979.0 2043.9L979.1 2045.8L980.3 2043.4L980.5 2044.5L981.0 2042.6L981.5 2042.7L981.7 2042.0L982.5 2043.0L982.9 2041.8L983.1 2040.8L984.8 2036.3L985.3 2034.1L985.8 2030.3L986.3 2028.8L987.1 2020.6L987.2 2021.3L987.7 2016.0L988.6 2008.9L991.2 1983.7L992.6 1977.7L992.9 1976.9L994.3 1982.2L996.2 1998.8L997.7 2013.0L998.6 2020.2L999.4 2027.2L999.6 2027.1L1001.0 2035.3L1002.1 2039.1L1002.4 2039.2L1003.4 2041.6L1003.4 2041.2L1003.9 2042.3L1005.3 2044.6L1005.8 2045.8L1006.2 2045.4L1006.2 2045.7L1006.7 2045.4L1007.2 2046.0L1007.5 2045.9L1007.7 2044.5L1008.1 2045.5L1008.6 2045.1L1008.9 2046.4L1009.1 2045.7L1009.6 2046.0L1010.0 2045.5L1010.2 2047.3L1010.5 2045.8L1011.0 2045.6L1011.5 2046.2L1011.9 2045.9L1012.4 2047.1L1012.9 2046.5L1013.0 2045.6L1013.4 2047.7L1013.8 2046.0L1014.3 2047.6L1014.8 2048.0L1015.3 2047.0L1015.7 2047.5L1015.7 2045.9L1016.2 2046.3L1016.7 2047.7L1017.0 2047.5L1017.2 2046.2L1017.6 2046.6L1018.1 2046.2L1018.4 2047.8L1019.1 2046.8L1019.5 2047.3L1020.0 2046.7L1020.5 2047.3L1021.0 2046.2L1021.1 2047.7L1021.4 2048.3L1022.5 2046.6L1023.8 2047.2L1026.3 2047.9L1026.5 2046.9L1026.8 2047.9L1027.4 2047.0L1027.9 2047.9L1028.4 2047.3L1029.0 2047.4L1029.3 2048.1L1029.5 2046.5L1030.1 2047.2L1031.2 2046.2L1031.7 2047.8L1032.0 2046.5L1032.8 2046.3L1033.3 2047.7L1033.9 2047.4L1034.4 2046.6L1034.7 2046.9L1035.0 2046.6L1035.5 2046.8L1036.1 2045.8L1036.6 2046.2L1037.1 2047.6L1037.4 2046.2L1037.7 2047.0L1038.8 2046.3L1039.9 2046.5L1040.1 2046.2L1040.4 2046.6L1040.9 2045.3L1041.5 2045.0L1042.6 2045.7L1043.1 2043.6L1044.2 2044.7L1044.8 2042.5L1045.3 2042.6L1045.6 2041.6L1045.8 2041.7L1046.4 2041.1L1047.5 2036.8L1048.0 2035.5L1048.3 2035.6L1048.6 2032.2L1049.1 2030.2L1050.7 2020.4L1052.9 1999.9L1053.7 1989.5L1054.0 1988.7L1056.4 1964.6L1056.7 1964.8L1057.3 1962.4L1057.8 1961.3L1058.3 1960.8L1059.4 1966.3L1064.6 2018.8L1064.9 2019.5L1065.9 2028.6L1066.5 2029.9L1067.3 2036.0L1068.1 2036.9L1069.2 2041.5L1069.8 2042.5L1070.0 2041.7L1070.3 2042.9L1070.8 2043.7L1071.4 2043.7L1071.9 2044.1L1072.7 2045.3L1073.0 2046.7L1073.6 2045.6L1074.1 2047.1L1074.6 2045.4L1075.2 2046.6L1075.5 2046.0L1075.7 2045.9L1076.8 2047.6L1077.4 2047.5L1077.9 2047.0L1078.2 2048.0L1078.5 2048.0L1079.0 2048.4L1079.5 2048.2L1080.1 2046.9L1080.9 2049.0L1081.7 2048.4L1082.3 2047.3L1082.8 2049.0L1083.3 2048.3L1083.9 2049.3L1084.4 2047.8L1085.0 2047.4L1085.5 2049.5L1086.1 2049.4L1086.3 2047.7L1087.1 2049.5L1087.7 2049.0L1088.2 2048.8L1088.8 2049.9L1089.0 2047.8L1089.3 2048.6L1089.9 2048.1L1090.4 2049.9L1093.1 2048.5L1094.5 2050.0L1095.8 2050.1L1097.2 2049.2L1098.6 2050.3L1099.9 2048.8L1101.1 2050.5L1101.3 2048.8L1101.6 2049.9L1102.6 2050.3L1103.1 2049.0L1103.7 2049.2L1104.0 2048.7L1104.2 2049.5L1104.7 2050.3L1105.2 2049.1L1105.4 2050.4L1105.7 2049.0L1107.7 2050.6L1108.1 2049.3L1108.8 2050.2L1109.4 2050.3L1109.8 2049.1L1110.3 2050.5L1111.3 2049.9L1111.8 2049.3L1112.1 2050.2L1112.3 2048.7L1112.8 2050.2L1113.3 2049.5L1113.5 2050.3L1114.4 2049.4L1114.9 2049.3L1115.4 2049.7L1115.9 2048.9L1116.2 2049.2L1116.4 2050.0L1116.9 2049.0L1117.4 2050.6L1117.6 2049.8L1118.4 2049.0L1119.5 2049.4L1120.0 2048.8L1120.3 2049.1L1120.5 2050.5L1121.7 2050.3L1122.0 2049.7L1122.5 2050.2L1124.0 2047.9L1124.5 2049.4L1125.6 2049.0L1125.7 2047.7L1126.6 2048.4L1127.1 2047.5L1127.6 2047.5L1128.1 2047.2L1128.5 2046.3L1128.6 2046.9L1129.1 2045.4L1129.6 2046.2L1129.8 2045.3L1130.2 2044.7L1130.7 2046.0L1132.2 2045.3L1132.5 2045.0L1132.7 2046.3L1133.2 2046.2L1133.7 2046.5L1133.9 2046.9L1134.2 2045.4L1134.7 2047.4L1135.2 2047.9L1135.8 2046.6L1136.3 2046.8L1136.6 2048.8L1136.8 2047.5L1137.8 2049.5L1138.0 2048.0L1138.3 2048.8L1138.8 2048.0L1139.3 2050.0L1139.8 2050.1L1140.3 2049.3L1140.7 2050.2L1140.9 2048.8L1141.4 2050.3L1141.9 2050.4L1142.4 2048.7L1143.4 2050.1L1143.9 2050.5L1144.4 2049.8L1144.8 2050.2L1144.9 2049.6L1145.4 2049.9L1146.1 2048.9L1146.5 2050.4L1147.5 2048.9L1148.5 2048.6L1148.8 2048.9L1149.0 2048.0L1149.5 2048.4L1150.5 2047.7L1151.0 2046.6L1151.6 2048.2L1152.1 2046.6L1152.9 2047.5L1153.1 2046.1L1153.6 2045.8L1154.1 2046.3L1154.3 2046.8L1154.6 2045.8L1155.1 2045.9L1155.6 2044.7L1156.6 2045.6L1157.0 2046.2L1157.2 2045.6L1157.7 2046.7L1158.2 2047.2L1158.3 2046.0L1158.7 2046.8L1159.2 2046.2L1160.7 2048.8L1161.1 2047.6L1161.2 2049.0L1161.7 2049.0L1162.1 2049.5L1162.3 2047.9L1162.4 2048.9L1162.4 2048.1L1162.7 2049.6L1163.0 2048.6L1163.3 2050.3L1163.6 2050.2L1163.9 2048.8L1164.2 2050.1L1164.3 2049.2L1164.5 2050.4L1164.8 2049.2L1165.1 2050.5L1165.1 2049.4L1165.3 2050.0L1165.4 2049.4L1165.7 2050.1L1165.8 2048.9L1166.0 2049.5L1166.3 2049.5L1166.6 2050.6L1166.8 2049.9L1166.9 2050.9L1167.2 2049.2L1167.3 2050.4L1167.9 2049.3L1168.5 2049.9L1168.8 2049.9L1168.9 2050.5L1169.1 2050.5L1169.2 2049.6L1169.4 2050.4L1169.7 2050.0L1169.9 2048.8L1170.0 2050.5L1170.3 2050.6L1170.6 2049.7L1170.6 2050.6L1170.9 2050.6L1171.4 2048.5L1171.5 2049.4L1171.8 2048.6L1172.1 2049.4L1172.8 2047.8L1173.1 2048.8L1173.3 2048.2L1173.5 2049.1L1173.7 2048.7L1174.0 2046.8L1174.5 2046.2L1174.6 2045.2L1174.7 2046.6L1174.9 2045.5L1175.8 2041.3L1176.1 2039.2L1176.5 2038.3L1176.7 2035.1L1178.6 2022.0L1178.7 2022.7L1179.2 2019.0L1179.5 2018.5L1179.6 2017.5L1179.8 2018.1L1180.1 2017.9L1180.4 2016.8L1180.7 2017.9L1181.0 2020.5L1181.1 2019.4L1181.4 2021.3L1181.6 2024.0L1183.8 2038.9L1184.1 2039.2L1184.4 2042.4L1184.7 2041.9L1185.0 2044.0L1185.2 2044.3L1185.3 2045.3L1185.5 2045.5L1185.6 2047.0L1185.7 2045.5L1185.9 2047.6L1186.2 2048.5L1186.5 2047.8L1186.8 2049.1L1187.1 2048.2L1187.4 2049.1L1187.7 2048.5L1188.0 2049.1L1188.2 2048.7L1188.6 2050.7L1189.0 2050.0L1189.3 2050.9L1189.6 2049.7L1189.9 2050.2L1190.2 2050.0L1190.5 2051.4L1190.8 2049.4L1191.4 2050.5L1192.0 2049.8L1192.6 2051.5L1193.2 2050.4L1193.5 2050.8L1193.8 2049.8L1194.2 2050.4L1194.5 2050.6L1194.8 2051.5L1195.0 2050.7L1195.1 2051.7L1195.4 2050.1L1195.7 2050.5L1196.0 2050.2L1196.3 2051.6L1196.4 2050.2L1196.6 2051.1L1196.9 2051.0L1197.2 2051.5L1197.8 2050.6L1197.8 2052.0L1198.4 2050.3L1199.1 2051.2L1200.5 2051.2L1201.8 2050.3L1203.2 2050.2L1204.5 2051.3L1205.9 2051.8L1207.3 2051.0L1208.6 2051.7L1210.0 2050.9L1211.3 2051.9L1212.7 2052.1L1214.1 2051.5L1215.4 2052.4L1216.8 2051.3L1218.1 2051.3L1219.5 2050.5L1222.2 2052.1L1223.6 2052.2L1224.9 2051.4L1226.3 2051.5L1227.6 2051.9L1229.0 2050.7L1230.4 2051.7L1231.7 2052.4L1233.1 2050.8L1234.4 2050.7L1235.8 2051.7L1237.2 2051.9L1238.5 2051.4L1239.9 2051.5L1241.2 2052.7L1244.0 2052.8L1245.3 2051.0L1246.7 2051.3L1248.0 2051.2L1248.4 2052.6L1249.4 2051.9L1249.9 2050.8L1250.7 2052.8L1251.4 2051.1L1252.1 2051.3L1252.2 2050.7L1253.0 2052.5L1253.5 2051.1L1253.7 2051.0L1254.5 2052.5L1255.2 2051.6L1256.0 2051.1L1256.2 2052.7L1256.8 2051.4L1257.5 2052.2L1258.3 2052.0L1258.9 2051.4L1259.1 2052.7L1259.8 2051.5L1261.4 2050.6L1262.1 2052.6L1262.9 2052.1L1263.0 2051.3L1263.7 2051.2L1264.4 2052.3L1265.2 2051.2L1265.9 2051.0L1266.7 2052.2L1267.1 2051.5L1267.5 2051.9L1268.2 2051.9L1268.4 2052.1L1269.8 2050.4L1270.5 2051.7L1271.1 2050.8L1271.3 2052.1L1272.1 2051.4L1273.6 2051.9L1273.8 2051.8L1274.4 2051.9L1275.1 2051.6L1275.2 2050.3L1275.9 2051.2L1276.6 2050.2L1276.6 2051.1L1277.4 2050.4L1277.9 2050.2L1278.2 2049.1L1278.9 2048.9L1279.7 2048.3L1280.5 2049.4L1280.6 2049.4L1281.2 2047.7L1283.4 2046.1L1283.5 2044.5L1284.3 2045.4L1284.7 2042.7L1285.1 2042.3L1285.8 2042.3L1286.1 2040.9L1286.6 2040.6L1288.1 2037.2L1288.8 2036.5L1288.9 2035.4L1289.6 2034.6L1290.2 2033.2L1290.4 2033.4L1291.2 2030.3L1291.5 2030.2L1291.9 2029.0L1292.7 2028.1L1292.9 2029.1L1294.2 2027.7L1295.0 2027.8L1295.6 2028.3L1295.8 2030.0L1296.5 2030.2L1296.9 2030.5L1297.3 2031.4L1298.3 2033.1L1298.8 2033.2L1299.6 2036.8L1299.7 2036.1L1301.0 2039.6L1301.1 2038.0L1303.4 2042.6L1304.2 2045.3L1304.9 2045.8L1305.1 2046.4L1305.7 2046.6L1306.5 2048.4L1307.2 2049.1L1307.8 2047.9L1308.0 2049.3L1308.7 2050.4L1309.2 2050.4L1309.5 2050.0L1310.3 2050.0L1310.5 2049.5L1311.0 2050.1L1311.9 2049.9L1312.6 2051.6L1313.3 2051.2L1313.3 2050.9L1314.1 2051.8L1314.6 2051.0L1314.9 2052.4L1315.6 2051.0L1316.4 2051.0L1317.2 2052.7L1317.9 2051.1L1318.7 2052.8L1319.5 2050.9L1320.0 2052.4L1320.2 2051.9L1321.0 2051.4L1321.4 2052.2L1321.7 2051.4L1322.5 2052.1L1322.8 2052.6L1323.3 2051.9L1324.1 2053.0L1324.8 2051.5L1325.5 2051.5L1325.6 2051.1L1326.3 2051.9L1326.8 2051.3L1327.1 2051.8L1327.9 2051.4L1328.2 2052.2L1328.6 2051.8L1329.4 2053.3L1330.2 2052.0L1330.9 2052.4L1331.7 2051.5L1332.3 2051.4L1332.4 2053.1L1333.2 2051.5L1333.6 2052.1L1334.0 2051.9L1335.5 2051.8L1336.3 2053.4L1336.4 2051.9L1337.0 2052.8L1337.7 2051.9L1337.8 2053.5L1338.6 2053.4L1339.1 2052.6L1339.3 2053.5L1340.1 2053.0L1340.4 2053.4L1343.1 2051.7L1344.5 2051.7L1345.9 2053.4L1347.2 2053.7L1348.6 2052.5L1349.9 2053.5L1351.3 2053.6L1352.7 2052.3L1354.0 2053.3L1355.4 2053.4L1356.7 2053.1L1358.1 2052.2L1359.5 2051.8L1360.8 2052.4L1362.2 2052.3L1363.5 2052.9L1364.9 2052.5L1366.2 2052.6L1369.0 2052.1L1370.3 2052.4L1371.7 2053.3L1373.0 2052.4L1374.4 2053.8L1375.8 2053.7L1377.1 2052.8L1378.5 2052.5L1379.8 2053.3L1381.2 2053.8L1382.5 2053.7L1383.9 2052.3L1385.3 2052.3L1386.6 2052.0L1388.0 2054.0L1389.3 2052.5L1390.7 2052.8L1392.1 2053.6L1393.4 2052.5L1394.8 2053.5L1396.1 2051.9L1397.5 2052.8L1398.9 2051.9L1399.5 2053.7L1400.2 2052.5L1400.4 2053.7L1401.2 2053.5L1401.6 2052.1L1402.9 2053.6L1403.8 2053.4L1404.6 2052.1L1405.5 2052.2L1405.6 2052.6L1407.0 2053.3L1407.2 2053.7L1408.4 2053.0L1409.7 2053.2L1410.6 2051.9L1411.1 2051.9L1411.4 2053.0L1412.3 2052.7L1412.4 2053.7L1413.1 2052.3L1413.8 2052.5L1414.0 2052.3L1415.2 2053.5L1415.7 2051.9L1417.4 2053.1L1418.2 2053.3L1419.1 2051.9L1419.2 2053.1L1419.9 2052.5L1420.6 2053.5L1420.8 2051.9L1421.6 2053.3L1422.0 2053.4L1423.3 2051.7L1424.7 2052.0L1425.0 2053.1L1425.9 2051.5L1426.0 2052.0L1426.7 2051.8L1427.4 2052.1L1427.6 2052.5L1428.4 2050.8L1428.7 2051.2L1429.3 2050.7L1430.1 2051.4L1431.5 2051.6L1431.8 2051.3L1432.7 2049.6L1432.8 2051.3L1433.5 2048.8L1434.2 2048.7L1434.4 2049.5L1435.2 2048.8L1435.5 2047.9L1436.1 2048.0L1438.3 2044.1L1438.6 2043.8L1439.4 2041.5L1439.6 2042.5L1440.3 2039.9L1441.0 2039.3L1441.1 2039.7L1442.3 2036.5L1442.8 2033.8L1443.7 2032.9L1444.5 2028.9L1446.2 2026.0L1446.4 2026.3L1447.1 2023.0L1447.8 2022.3L1447.9 2021.6L1448.8 2021.3L1449.1 2019.3L1449.6 2020.9L1450.5 2019.3L1451.3 2019.3L1451.8 2021.2L1452.2 2021.3L1453.2 2023.2L1453.9 2023.6L1454.6 2025.1L1454.7 2026.3L1455.9 2028.1L1456.4 2030.3L1457.3 2032.2L1459.0 2037.5L1459.8 2037.9L1460.0 2039.4L1460.7 2040.7L1461.4 2041.2L1461.5 2042.1L1462.4 2043.1L1462.7 2045.2L1463.2 2044.9L1464.1 2046.1L1464.9 2048.6L1465.4 2047.9L1465.8 2049.1L1466.8 2049.9L1467.5 2049.2L1468.2 2049.9L1468.3 2051.4L1469.5 2050.8L1470.0 2051.4L1470.9 2050.7L1471.7 2052.5L1472.2 2052.7L1472.6 2053.2L1473.4 2052.0L1473.6 2052.8L1474.3 2053.5L1474.9 2053.4L1475.1 2052.5L1476.0 2053.7L1476.3 2052.9L1477.7 2053.1L1478.5 2052.3L1480.2 2053.7L1480.4 2053.2L1481.1 2052.8L1481.7 2054.2L1481.9 2052.3L1482.8 2052.5L1483.1 2052.9L1483.6 2054.3L1484.5 2053.2L1485.3 2053.1L1485.8 2054.1L1486.2 2052.8L1487.0 2054.1L1487.2 2052.5L1488.5 2054.5L1488.7 2053.7L1489.6 2053.0L1489.9 2052.9L1490.4 2054.2L1491.3 2053.1L1492.1 2054.6L1493.0 2052.7L1493.8 2054.2L1494.7 2054.1L1495.3 2052.6L1495.5 2053.4L1496.3 2053.7L1496.7 2054.6L1497.2 2052.8L1498.0 2053.6L1498.9 2053.4L1499.4 2054.1L1499.7 2053.7L1500.6 2053.4L1500.8 2053.8L1501.4 2053.9L1502.1 2052.8L1503.5 2053.5L1506.2 2053.4L1507.6 2053.6L1508.9 2053.5L1510.3 2053.7L1511.6 2054.4L1513.0 2053.4L1514.4 2055.0L1515.7 2053.1L1517.1 2053.6L1518.4 2054.6L1519.8 2054.5L1521.1 2053.7L1522.5 2053.7L1523.9 2054.6L1525.2 2053.9L1526.6 2054.9L1527.9 2055.1L1529.3 2053.5L1530.7 2054.6L1532.0 2053.6L1534.7 2055.1L1536.1 2054.5L1537.5 2055.1L1538.8 2053.9L1540.2 2053.8L1541.5 2054.3L1542.9 2053.9L1544.2 2054.3L1545.6 2053.7L1547.0 2053.6L1548.3 2054.5L1549.7 2053.4L1551.0 2053.6L1551.4 2053.3L1552.4 2054.6L1553.4 2053.5L1553.8 2053.7L1554.4 2055.0L1555.1 2054.3L1556.5 2053.8L1557.5 2054.3L1557.8 2054.8L1558.5 2053.9L1559.2 2053.4L1559.5 2053.5L1560.6 2054.7L1561.6 2054.2L1561.9 2055.2L1562.6 2053.6L1563.3 2054.7L1563.6 2054.0L1564.6 2053.7L1565.6 2054.7L1566.0 2053.8L1566.7 2053.6L1567.3 2054.1L1567.7 2054.0L1568.7 2053.3L1569.7 2055.2L1570.1 2054.0L1570.7 2053.9L1571.4 2053.4L1572.8 2053.5L1573.8 2053.2L1574.1 2054.3L1575.5 2054.9L1575.8 2053.6L1576.9 2054.8L1577.9 2054.7L1578.2 2053.2L1578.9 2053.5L1579.6 2053.5L1579.9 2054.9L1580.9 2054.6L1582.0 2053.1L1582.3 2053.5L1583.0 2053.3L1583.7 2054.3L1584.0 2053.9L1585.0 2055.0L1586.0 2054.7L1586.4 2053.5L1587.0 2053.5L1587.7 2053.9L1588.1 2053.7L1589.1 2054.5L1590.1 2053.2L1590.4 2054.6L1591.8 2053.5L1592.1 2054.7L1593.2 2053.3L1594.5 2054.5L1595.2 2054.2L1595.9 2054.3L1596.2 2053.1L1597.2 2053.6L1598.3 2053.6L1598.6 2052.3L1599.3 2052.5L1600.0 2053.4L1601.3 2051.6L1602.3 2052.4L1602.7 2050.8L1604.0 2051.4L1604.4 2050.7L1605.4 2049.7L1606.4 2050.6L1607.4 2050.5L1608.1 2049.2L1608.5 2048.9L1609.5 2048.6L1610.5 2049.5L1610.8 2048.4L1611.5 2048.7L1612.2 2049.3L1612.5 2049.0L1613.5 2049.7L1614.6 2048.6L1614.9 2049.5L1615.6 2049.4L1616.3 2049.1L1616.6 2050.8L1618.6 2051.5L1619.0 2050.0L1619.7 2049.7L1620.7 2052.0L1621.7 2051.1L1622.7 2051.3L1623.1 2052.5L1623.7 2052.2L1624.4 2052.4L1624.8 2052.8L1625.8 2052.6L1626.8 2053.5L1627.1 2053.0L1627.8 2053.5L1628.5 2052.1L1628.8 2053.1L1629.9 2054.2L1630.9 2053.4L1631.2 2053.9L1631.9 2053.6L1632.6 2054.6L1632.9 2052.7L1633.9 2053.3L1634.9 2053.1L1635.3 2054.6L1636.0 2054.9L1636.6 2053.2L1637.0 2053.4L1638.0 2053.4L1639.4 2054.4L1640.0 2053.4L1640.7 2054.7L1641.1 2053.9L1642.1 2054.0L1643.1 2053.7L1643.4 2053.9L1644.1 2053.0L1644.8 2053.0L1645.1 2055.1L1646.2 2053.6L1647.2 2053.7L1647.5 2055.1L1648.2 2053.7L1648.9 2053.2L1649.2 2054.9L1650.2 2053.9L1651.3 2054.4L1651.6 2053.7L1652.3 2053.3L1653.0 2053.5L1653.3 2054.7L1654.3 2054.2L1655.7 2054.6L1656.3 2054.3L1657.0 2054.5L1657.4 2053.5L1658.4 2053.4L1659.4 2054.0L1659.7 2054.9L1660.4 2053.5L1661.1 2054.7L1661.4 2054.9L1662.5 2054.7L1663.5 2053.3L1663.8 2053.3L1664.5 2054.8L1665.5 2053.1L1666.5 2054.3L1667.6 2054.6L1667.9 2054.9L1669.3 2054.4L1669.6 2053.8L1670.6 2055.1L1671.6 2053.6L1672.0 2054.0L1672.7 2053.3L1673.7 2054.6L1676.1 2053.9L1677.4 2053.1L1678.8 2054.4L1680.1 2053.1L1681.5 2054.7L1682.8 2054.4L1684.2 2054.9L1685.6 2054.5L1686.9 2054.7L1688.3 2053.7L1689.6 2055.1L1691.0 2054.3L1692.4 2054.3L1693.7 2053.9L1695.1 2054.9L1696.4 2054.4L1697.8 2054.3L1699.2 2054.4L1701.9 2055.2L1703.2 2053.5L1704.6 2055.1L1705.9 2053.7L1707.3 2054.0L1708.7 2054.6L1710.0 2054.8L1711.4 2053.8L1712.7 2053.7L1714.1 2054.2L1718.2 2053.7L1719.5 2053.0L1720.9 2055.1L1722.2 2053.8L1723.6 2055.0L1725.0 2054.4L1726.3 2053.2L1727.7 2053.4L1729.0 2053.8L1731.8 2053.2L1733.1 2054.7L1735.8 2053.3L1737.2 2054.1L1739.9 2054.8L1741.3 2053.9L1744.0 2053.1L1745.3 2054.3L1746.7 2054.1L1748.1 2055.2L1749.4 2053.5L1750.8 2053.1L1752.1 2054.1L1753.5 2054.5L1754.9 2053.5L1756.2 2053.6L1757.6 2053.4L1758.9 2054.8L1761.7 2053.5L1763.0 2053.7L1764.4 2053.5L1765.7 2053.0L1767.1 2054.7L1768.4 2054.6L1769.8 2053.6L1771.2 2053.6L1772.5 2054.9L1773.9 2053.5L1775.2 2054.4L1776.6 2054.9L1778.0 2053.5L1779.3 2054.6L1780.7 2053.5L1782.0 2055.0L1783.4 2053.1L1784.8 2053.2L1786.1 2054.3L1787.5 2053.6L1788.8 2053.8L1790.2 2054.6L1790.8 2053.1L1791.4 2053.2L1791.5 2054.1L1792.0 2053.3L1792.6 2053.7L1792.9 2053.2L1793.2 2054.1L1793.8 2054.2L1794.3 2052.8L1794.4 2054.4L1794.9 2054.8L1795.5 2053.4L1795.6 2054.4L1796.1 2053.4L1796.7 2054.7L1797.0 2054.8L1797.9 2053.6L1798.3 2053.4L1798.5 2053.0L1799.1 2054.6L1799.7 2054.7L1800.3 2054.2L1800.9 2054.6L1801.1 2053.3L1801.5 2052.7L1802.1 2053.6L1802.4 2054.7L1802.7 2053.8L1803.3 2054.4L1803.8 2053.9L1803.9 2053.4L1804.5 2053.5L1805.1 2053.0L1805.6 2054.5L1806.2 2054.4L1806.5 2053.7L1806.8 2053.9L1807.4 2053.0L1808.0 2054.3L1808.6 2052.4L1809.2 2054.3L1809.8 2052.5L1810.6 2052.1L1811.6 2053.5L1811.9 2052.3L1812.2 2053.8L1812.8 2053.3L1813.3 2051.7L1813.4 2053.1L1814.0 2051.7L1814.6 2052.5L1814.6 2051.0L1815.2 2052.4L1815.8 2051.0L1816.0 2051.6L1816.3 2050.0L1816.9 2050.4L1817.4 2049.8L1817.5 2049.1L1818.1 2049.1L1818.7 2049.6L1819.3 2046.7L1819.9 2047.9L1820.1 2046.3L1820.5 2046.7L1821.1 2045.8L1821.7 2044.4L1822.3 2044.3L1822.8 2042.3L1822.9 2043.0L1824.1 2040.5L1824.2 2041.8L1824.7 2039.5L1825.3 2041.0L1825.9 2039.1L1826.5 2040.8L1826.9 2039.2L1827.0 2040.8L1827.6 2041.8L1828.2 2042.1L1828.8 2043.2L1829.4 2043.6L1830.6 2045.9L1831.0 2045.2L1831.2 2045.2L1831.8 2046.5L1832.3 2046.6L1832.4 2048.5L1833.0 2048.2L1833.6 2050.1L1833.7 2048.3L1834.2 2049.6L1834.8 2050.5L1835.0 2050.2L1835.4 2051.2L1836.4 2050.4L1836.6 2052.4L1837.7 2051.7L1838.3 2052.9L1838.9 2051.6L1840.1 2053.5L1840.7 2052.7L1841.3 2053.1L1841.8 2053.8L1841.9 2052.6L1842.5 2052.2L1843.1 2053.1L1843.2 2052.2L1843.5 2052.4L1843.7 2053.3L1844.5 2051.9L1844.9 2054.1L1845.6 2053.2L1845.9 2053.0L1846.1 2054.1L1846.7 2054.0L1847.1 2053.4L1847.6 2054.0L1847.9 2052.4L1848.1 2053.0L1848.4 2053.2L1848.6 2052.6L1849.6 2053.9L1850.1 2052.8L1850.2 2053.1L1850.7 2051.9L1851.2 2051.9L1851.4 2053.7L1851.7 2053.5L1852.0 2052.4L1852.2 2053.2L1852.6 2052.1L1852.7 2053.0L1853.2 2052.9L1853.7 2053.2L1853.8 2052.0L1854.1 2053.7L1854.2 2053.0L1854.4 2053.9L1854.7 2051.8L1855.0 2053.2L1855.4 2053.7L1855.6 2052.1L1856.2 2053.4L1856.8 2051.7L1857.3 2052.7L1857.4 2052.0L1857.8 2053.0L1858.0 2051.5L1858.1 2052.8L1858.6 2051.5L1858.8 2051.6L1859.3 2053.0L1859.5 2053.0L1859.7 2050.9L1859.8 2052.7L1860.8 2051.3L1860.9 2050.5L1861.4 2051.8L1861.9 2050.4L1862.2 2050.9L1862.4 2049.8L1862.9 2051.2L1863.6 2050.1L1863.9 2050.2L1864.4 2047.7L1865.4 2047.5L1866.3 2044.7L1866.5 2043.0L1867.0 2042.3L1869.0 2033.4" stroke="#008000"/>
<path d="M170.5 2619.9L171.9 2621.5L173.2 2619.8L174.6 2619.9L175.9 2621.7L177.3 2619.8L178.7 2619.6L180.0 2620.5L184.1 2621.6L185.4 2621.7L186.8 2619.8L188.2 2621.5L189.5 2620.3L190.9 2621.2L192.2 2621.7L193.6 2620.2L196.3 2622.0L197.7 2620.9L200.4 2621.7L201.8 2620.9L203.1 2620.3L204.5 2621.7L205.8 2620.2L207.2 2622.2L208.5 2621.3L209.9 2621.5L211.3 2620.6L212.6 2621.5L214.0 2621.3L215.3 2621.8L216.7 2620.6L220.8 2622.2L222.1 2622.0L223.5 2620.6L224.9 2622.7L226.2 2621.5L228.9 2622.8L230.3 2622.5L231.6 2621.5L233.0 2621.3L234.4 2621.9L235.7 2621.9L237.1 2621.2L238.4 2622.2L239.8 2622.8L241.2 2621.3L242.5 2622.3L243.9 2622.2L245.2 2621.5L246.6 2623.0L248.0 2621.4L249.3 2622.8L250.7 2621.3L252.0 2623.1L253.4 2621.8L254.7 2622.8L257.5 2622.8L258.8 2623.0L260.2 2622.0L264.3 2623.0L265.6 2622.4L267.0 2622.3L268.3 2622.9L269.7 2621.8L271.1 2622.8L272.4 2622.5L273.8 2623.2L276.5 2621.8L277.8 2623.3L279.2 2622.5L280.6 2622.0L281.9 2621.9L283.3 2624.0L286.0 2622.2L287.4 2622.1L288.7 2623.2L290.1 2623.0L291.4 2622.1L292.8 2623.2L295.5 2623.4L296.9 2622.4L298.2 2622.2L299.6 2623.5L300.9 2622.2L302.3 2623.3L303.3 2623.0L303.5 2624.0L303.7 2622.5L303.9 2623.9L304.0 2622.6L304.1 2623.4L304.4 2622.8L304.7 2623.5L305.0 2622.9L305.2 2624.2L305.6 2622.9L305.8 2623.6L305.9 2623.5L306.0 2624.2L306.3 2622.0L306.4 2623.5L306.6 2622.6L306.7 2624.0L306.9 2622.3L307.3 2623.9L307.4 2622.6L307.5 2623.3L307.7 2621.9L307.7 2622.7L307.8 2621.8L307.9 2623.1L308.2 2621.3L308.4 2623.1L308.5 2621.9L308.6 2622.4L309.0 2620.2L309.1 2620.5L309.4 2617.2L309.6 2618.0L311.3 2600.8L311.6 2602.5L311.7 2602.0L312.6 2610.6L312.7 2610.2L313.1 2615.9L313.2 2615.1L314.2 2622.2L314.3 2621.8L314.5 2623.1L314.7 2622.7L314.9 2623.2L315.0 2621.8L315.1 2623.0L315.3 2622.4L315.4 2623.0L315.6 2622.1L316.0 2624.2L316.1 2624.2L316.2 2623.5L316.4 2623.9L316.6 2622.5L316.9 2623.7L317.2 2622.5L317.5 2624.4L317.6 2623.3L317.9 2624.3L318.3 2623.6L318.4 2624.2L318.6 2622.6L318.7 2624.2L318.9 2622.7L319.1 2624.6L319.2 2623.5L319.4 2623.5L319.5 2622.7L320.0 2624.3L324.0 2623.9L325.4 2623.6L326.8 2624.5L328.1 2625.0L329.5 2623.1L330.8 2623.5L332.2 2624.7L333.6 2624.5L334.9 2624.8L336.3 2623.4L337.6 2624.0L339.0 2624.2L340.4 2623.2L341.7 2624.5L343.1 2623.6L345.8 2625.0L347.1 2623.5L348.5 2625.4L349.9 2625.0L352.6 2623.7L353.9 2625.0L355.3 2624.5L356.7 2625.8L358.0 2624.6L359.4 2625.0L362.1 2624.0L363.4 2624.6L364.8 2624.2L366.2 2624.9L367.5 2624.4L368.9 2625.4L370.2 2625.8L371.6 2625.4L373.0 2624.6L374.3 2624.1L375.7 2625.7L377.0 2624.9L378.4 2626.2L379.8 2624.4L381.1 2625.5L382.5 2626.1L383.8 2624.9L385.2 2625.1L387.9 2624.3L389.3 2626.4L390.6 2625.2L392.0 2626.2L393.3 2624.4L394.7 2626.4L396.1 2625.6L397.4 2626.4L398.8 2625.2L400.1 2625.1L401.5 2625.6L404.2 2625.4L406.9 2624.8L408.3 2624.8L411.0 2625.3L412.4 2626.7L415.1 2626.2L416.4 2625.1L417.8 2625.7L419.2 2627.1L421.9 2627.1L423.2 2625.9L424.6 2626.6L426.0 2625.7L427.3 2626.6L428.7 2626.4L430.0 2626.6L431.4 2625.4L432.7 2625.9L434.1 2626.0L435.5 2626.6L436.8 2626.1L440.9 2626.8L442.3 2626.4L443.6 2626.4L445.0 2626.9L447.7 2627.3L449.1 2627.1L450.4 2626.0L451.1 2626.5L451.5 2627.7L451.8 2627.1L451.9 2627.1L452.0 2626.3L452.2 2627.0L452.6 2626.2L452.7 2627.9L452.9 2627.9L453.0 2626.4L453.1 2626.9L453.3 2625.9L453.4 2627.6L453.5 2626.4L453.7 2627.6L453.8 2626.3L454.1 2627.3L454.2 2627.1L454.4 2627.7L454.8 2626.6L455.0 2626.7L455.2 2627.5L455.3 2625.8L455.6 2627.2L455.7 2625.9L455.8 2627.4L456.0 2626.4L456.1 2627.5L456.3 2626.0L456.5 2627.3L456.7 2626.0L457.1 2627.0L457.2 2626.0L457.3 2626.5L457.6 2626.2L457.8 2624.2L458.0 2624.5L458.3 2622.7L458.6 2623.8L458.8 2621.7L459.1 2623.0L459.4 2621.2L459.7 2622.6L459.8 2621.9L460.2 2624.0L460.3 2623.5L460.6 2624.5L460.7 2624.2L460.9 2625.3L461.0 2625.2L461.1 2626.5L461.3 2625.2L461.4 2626.2L461.7 2625.6L462.0 2626.8L462.4 2627.2L462.5 2625.9L462.6 2627.9L462.8 2627.9L463.0 2626.3L463.2 2627.6L463.3 2626.1L463.5 2627.3L463.6 2626.6L463.7 2628.1L463.9 2626.3L464.0 2627.1L464.1 2626.3L464.3 2626.3L464.5 2627.7L464.7 2626.4L464.8 2628.2L465.0 2626.4L465.1 2626.7L465.4 2626.6L465.5 2627.4L465.6 2626.1L465.8 2627.8L466.0 2628.2L466.3 2626.4L466.4 2626.7L466.6 2626.4L466.7 2628.2L466.9 2627.4L467.3 2627.8L467.4 2628.3L468.1 2626.6L472.2 2627.6L473.5 2627.4L474.9 2626.9L476.2 2627.1L477.6 2627.8L478.9 2626.5L480.3 2628.0L480.5 2626.4L480.8 2628.0L481.0 2626.4L481.2 2627.1L481.5 2626.0L481.8 2627.5L482.0 2626.3L482.2 2627.3L482.3 2625.8L482.7 2626.5L482.9 2624.8L483.0 2625.7L483.2 2624.3L483.4 2624.2L483.5 2623.2L483.7 2624.4L484.0 2622.2L484.2 2622.6L485.1 2617.7L485.2 2617.6L485.4 2615.1L485.6 2615.6L485.7 2612.3L485.9 2612.8L486.6 2605.5L486.8 2605.4L487.1 2601.1L488.6 2586.7L488.8 2586.9L489.5 2581.5L489.6 2581.9L490.2 2578.8L490.3 2578.9L490.5 2578.5L490.8 2582.2L491.0 2581.5L491.7 2586.9L491.9 2586.3L492.4 2589.5L492.9 2592.1L493.0 2591.1L493.2 2591.3L493.4 2593.3L493.6 2592.6L494.1 2596.1L494.2 2594.7L494.4 2595.8L494.6 2595.5L494.7 2597.3L494.9 2596.4L495.4 2597.7L495.8 2600.0L495.9 2599.9L496.1 2600.2L496.4 2599.7L497.0 2600.3L497.3 2601.8L497.5 2601.0L497.6 2602.3L497.8 2602.4L498.1 2602.0L498.5 2604.1L498.8 2604.2L499.2 2603.4L499.3 2604.9L499.5 2603.5L499.7 2604.5L500.2 2604.1L500.5 2605.6L500.7 2605.6L502.0 2607.4L503.4 2608.0L504.8 2609.5L506.1 2608.7L508.8 2610.3L510.2 2610.4L512.9 2612.3L515.6 2612.8L517.0 2614.3L518.4 2614.7L519.7 2615.5L521.1 2615.1L523.8 2615.9L525.1 2617.0L526.5 2616.0L527.9 2617.5L529.2 2617.0L530.6 2617.9L531.9 2618.2L533.3 2617.4L534.7 2618.3L536.0 2618.2L537.4 2617.8L538.7 2618.5L540.1 2620.0L541.5 2618.9L542.8 2618.6L544.2 2620.1L545.5 2619.8L546.9 2620.3L548.2 2619.4L549.6 2620.4L551.0 2620.4L552.3 2620.9L553.7 2620.8L555.0 2621.1L556.4 2622.2L557.8 2620.5L559.1 2620.5L560.5 2621.2L561.8 2620.9L563.2 2620.8L564.6 2622.5L565.9 2622.8L567.3 2621.1L568.6 2621.6L570.0 2621.8L571.3 2622.2L572.7 2623.7L574.1 2621.8L575.4 2622.6L576.8 2623.0L578.1 2622.3L579.5 2622.7L580.9 2623.6L582.2 2623.7L583.6 2624.0L584.9 2623.9L586.3 2623.1L589.0 2622.6L590.4 2624.1L591.7 2624.4L594.4 2624.1L595.8 2623.8L597.2 2623.0L598.5 2624.0L599.9 2623.3L601.2 2623.8L602.6 2624.9L604.0 2624.5L605.3 2625.3L608.0 2625.0L609.4 2625.5L610.8 2623.8L612.1 2625.2L614.8 2624.9L616.2 2624.0L618.9 2625.8L620.3 2625.4L621.6 2625.9L623.0 2625.6L624.3 2624.1L627.1 2625.9L629.8 2625.2L635.2 2625.0L637.9 2625.6L639.3 2624.7L640.6 2624.7L642.0 2625.8L644.7 2625.5L646.1 2625.6L647.4 2625.3L648.8 2626.7L650.2 2625.2L651.5 2625.8L652.9 2625.3L654.2 2626.0L655.6 2625.3L657.0 2625.6L658.3 2624.8L659.7 2625.5L663.7 2626.5L665.1 2624.9L666.5 2625.6L667.8 2625.4L669.2 2625.9L670.5 2626.9L671.9 2627.0L673.3 2626.5L674.6 2627.0L676.0 2626.1L677.3 2626.4L678.7 2625.3L680.0 2626.6L681.4 2625.6L682.8 2626.3L684.1 2625.6L685.5 2626.2L686.8 2626.0L688.2 2627.1L689.6 2626.3L690.9 2626.9L692.3 2625.7L693.6 2626.3L695.0 2626.4L696.4 2625.9L697.7 2626.1L699.1 2625.3L701.8 2626.0L703.1 2626.8L704.5 2626.6L705.9 2626.9L707.2 2625.5L708.6 2625.8L709.9 2627.4L711.3 2625.6L712.7 2625.7L714.0 2626.6L715.4 2626.4L716.7 2627.3L718.1 2627.3L719.5 2626.7L720.8 2626.4L722.2 2626.4L723.5 2627.6L724.9 2625.7L727.6 2627.1L729.0 2626.9L730.3 2625.6L731.7 2627.2L733.0 2627.5L734.4 2627.1L735.8 2625.8L737.1 2627.4L738.5 2625.7L739.8 2625.4L741.2 2626.9L743.9 2627.1L745.3 2626.5L746.6 2625.5L748.0 2625.4L749.3 2626.8L750.7 2627.0L752.1 2626.1L753.4 2627.0L754.8 2626.1L756.1 2626.2L757.5 2626.7L760.2 2626.5L761.6 2625.4L762.9 2626.5L764.3 2626.7L768.4 2626.0L769.7 2625.2L771.1 2626.7L772.4 2626.5L773.8 2624.8L775.2 2625.5L776.5 2625.5L779.2 2624.0L780.6 2623.8L782.0 2622.9L783.3 2623.8L784.7 2622.5L786.0 2622.7L787.4 2619.9L788.1 2620.9L788.8 2618.1L789.0 2618.8L789.2 2617.7L789.4 2618.5L789.6 2617.3L789.8 2618.4L790.1 2616.1L790.3 2617.5L790.7 2615.3L790.9 2615.2L791.4 2615.3L791.5 2614.0L791.6 2614.5L792.0 2613.6L792.3 2612.2L792.5 2611.9L792.7 2609.5L792.8 2610.5L793.2 2608.4L793.4 2608.5L793.6 2606.4L793.8 2606.3L795.6 2591.6L796.9 2562.5L798.7 2449.9L801.1 2178.9L801.3 2176.3L801.5 2178.4L805.5 2554.5L806.8 2588.5L808.8 2606.2L809.1 2606.4L810.2 2611.7L810.4 2611.5L810.5 2612.5L810.6 2611.6L810.8 2613.0L811.3 2613.7L811.5 2615.5L811.9 2615.5L811.9 2616.6L812.4 2617.2L812.6 2618.1L812.8 2616.9L813.0 2617.8L813.2 2617.3L813.2 2618.8L813.5 2619.2L813.7 2617.9L813.9 2618.8L814.1 2618.5L814.4 2620.4L814.6 2620.2L815.9 2620.7L817.3 2622.6L818.6 2623.9L820.0 2624.4L822.7 2623.4L824.1 2624.5L825.4 2624.6L826.8 2625.8L828.2 2625.1L829.5 2626.5L830.9 2625.4L832.2 2626.8L833.6 2627.0L836.3 2625.3L837.7 2627.0L839.0 2627.2L840.4 2625.7L841.7 2627.1L843.1 2625.7L844.5 2626.3L847.2 2626.0L848.5 2627.1L849.9 2627.9L851.3 2626.9L852.6 2627.9L854.0 2626.4L855.3 2626.2L856.7 2626.5L858.1 2627.8L859.4 2626.7L860.8 2626.8L862.1 2627.9L864.8 2626.9L866.2 2628.0L867.6 2626.4L868.9 2626.6L870.3 2627.5L871.6 2627.3L874.4 2628.0L875.7 2627.7L877.1 2626.6L878.4 2627.8L879.8 2626.8L881.2 2626.5L882.5 2626.9L885.2 2627.4L886.6 2626.6L887.9 2627.7L889.3 2627.2L890.7 2628.5L892.0 2627.4L893.4 2628.2L894.7 2628.2L896.1 2627.7L897.5 2627.9L898.8 2626.6L900.2 2628.4L902.9 2628.5L904.3 2626.6L907.0 2627.2L908.3 2626.9L909.7 2627.1L911.0 2626.7L912.4 2627.8L913.8 2628.4L915.1 2627.3L916.5 2628.4L917.8 2628.4L919.2 2627.8L920.6 2628.4L921.9 2627.1L923.3 2627.9L924.6 2628.0L926.0 2626.6L927.4 2628.7L928.7 2627.1L931.4 2628.3L934.1 2626.9L935.5 2628.8L936.9 2628.5L938.2 2627.7L939.6 2627.3L940.9 2626.6L942.3 2627.3L943.7 2628.7L945.0 2628.2L946.4 2626.9L947.7 2628.0L949.1 2626.8L951.8 2628.7L953.2 2626.6L955.9 2628.7L957.2 2626.8L960.0 2628.3L961.3 2628.4L962.7 2627.7L965.4 2627.7L966.8 2627.9L968.1 2628.6L970.8 2626.9L972.2 2626.9L974.9 2627.8L976.3 2628.0L977.6 2626.9L980.3 2626.4L981.7 2627.8L983.1 2626.1L984.4 2626.0L987.1 2627.7L988.5 2628.0L989.9 2626.3L991.2 2626.4L992.6 2625.8L995.3 2625.7L996.7 2626.9L999.4 2626.3L1000.7 2626.2L1002.1 2624.7L1003.4 2626.1L1004.8 2624.8L1006.2 2623.8L1007.5 2624.5L1008.9 2622.7L1010.2 2621.5L1011.6 2622.3L1013.0 2619.8L1013.6 2621.1L1013.9 2620.5L1014.0 2619.3L1014.2 2620.5L1014.7 2618.5L1014.7 2619.7L1015.7 2617.2L1015.8 2618.4L1016.1 2617.3L1016.4 2617.1L1016.6 2615.1L1016.7 2616.2L1016.9 2616.2L1017.0 2614.4L1017.2 2616.0L1017.4 2613.5L1017.7 2615.0L1018.0 2613.1L1018.1 2613.9L1018.3 2613.7L1018.4 2611.3L1018.5 2611.4L1018.7 2611.4L1018.8 2610.7L1019.1 2610.8L1019.6 2608.4L1019.8 2608.7L1020.1 2606.5L1020.2 2607.3L1020.4 2605.2L1020.7 2605.1L1021.0 2601.7L1021.1 2602.3L1022.5 2592.7L1024.0 2570.7L1025.6 2510.9L1029.7 2132.2L1029.9 2127.0L1030.3 2132.5L1035.1 2521.0L1037.8 2584.8L1038.1 2586.0L1039.2 2598.1L1039.5 2599.0L1040.0 2603.7L1040.1 2603.3L1040.3 2605.6L1041.1 2608.8L1041.2 2607.7L1041.4 2610.3L1041.6 2609.8L1042.2 2612.8L1042.4 2612.3L1042.7 2614.7L1042.8 2613.0L1043.2 2615.7L1043.3 2615.4L1043.8 2615.9L1043.9 2615.1L1044.1 2617.0L1044.3 2616.0L1044.5 2618.3L1044.6 2616.4L1045.2 2618.6L1045.4 2618.3L1045.6 2619.2L1045.7 2618.3L1045.9 2619.6L1046.0 2619.0L1046.2 2620.5L1046.6 2620.6L1046.9 2619.6L1047.3 2621.4L1047.6 2620.7L1048.3 2620.6L1048.6 2621.0L1049.0 2620.9L1050.3 2623.7L1050.7 2623.4L1051.0 2624.2L1051.7 2624.3L1052.0 2623.2L1052.4 2622.8L1052.7 2624.1L1053.0 2623.8L1053.4 2625.3L1053.7 2623.3L1054.1 2625.4L1054.4 2624.1L1055.1 2625.2L1056.4 2625.7L1057.8 2625.4L1059.2 2626.4L1060.5 2626.8L1061.9 2625.4L1063.2 2627.1L1064.6 2627.7L1067.3 2627.1L1068.7 2627.2L1070.0 2626.2L1071.4 2627.3L1072.7 2626.8L1074.1 2626.8L1075.5 2628.4L1076.8 2627.0L1078.2 2626.9L1079.5 2628.4L1080.9 2627.8L1082.3 2628.6L1083.6 2627.1L1085.0 2628.7L1086.3 2627.7L1087.7 2628.7L1090.4 2627.6L1091.8 2627.6L1093.1 2627.1L1094.5 2628.1L1095.8 2627.1L1097.2 2628.9L1098.6 2627.5L1102.6 2628.0L1104.0 2629.0L1105.4 2627.2L1108.1 2628.2L1109.4 2628.1L1110.8 2628.9L1112.1 2628.1L1113.5 2628.4L1114.9 2628.4L1116.2 2627.7L1117.6 2627.9L1118.9 2627.3L1120.3 2627.1L1121.7 2628.9L1123.0 2628.2L1124.4 2626.9L1125.7 2628.5L1127.1 2627.4L1128.5 2627.4L1129.8 2628.1L1131.2 2626.9L1132.5 2627.6L1133.9 2627.7L1135.2 2627.3L1136.6 2626.0L1138.0 2625.6L1139.3 2626.7L1140.7 2626.0L1141.0 2625.4L1141.4 2626.6L1141.7 2625.6L1142.0 2626.4L1142.4 2624.5L1142.7 2625.8L1143.1 2626.0L1143.4 2624.1L1143.7 2624.0L1144.1 2624.4L1144.4 2623.9L1144.8 2624.3L1145.1 2623.1L1146.1 2622.4L1146.5 2622.7L1146.8 2623.4L1147.5 2621.4L1148.2 2622.6L1148.5 2622.1L1148.8 2619.9L1149.2 2620.7L1149.5 2618.9L1149.9 2620.1L1150.2 2618.3L1150.9 2618.2L1151.9 2613.6L1152.2 2613.8L1152.9 2610.9L1155.3 2589.8L1157.0 2554.4L1160.4 2444.4L1160.7 2439.0L1161.1 2437.1L1161.4 2438.6L1162.8 2471.5L1165.1 2554.5L1166.2 2578.5L1167.9 2602.3L1169.6 2612.8L1170.2 2613.7L1170.9 2616.8L1171.3 2617.0L1171.6 2618.8L1172.3 2618.8L1172.6 2620.0L1173.0 2619.6L1173.6 2622.3L1174.0 2621.1L1174.3 2621.3L1174.7 2622.6L1175.0 2622.1L1175.3 2622.1L1175.7 2623.3L1176.0 2622.8L1176.4 2624.1L1177.0 2623.6L1177.4 2625.3L1177.7 2624.7L1178.1 2625.4L1178.4 2625.5L1178.7 2624.5L1179.4 2624.9L1180.1 2626.2L1180.4 2624.9L1180.8 2625.3L1181.1 2624.9L1181.4 2626.7L1182.8 2627.4L1184.2 2627.0L1185.5 2627.2L1188.2 2627.1L1189.6 2627.4L1191.0 2626.7L1193.7 2628.0L1195.0 2627.8L1196.4 2628.5L1197.8 2627.6L1199.1 2628.2L1200.5 2629.5L1201.8 2628.0L1203.2 2629.8L1204.5 2627.6L1205.9 2629.8L1208.6 2629.8L1211.3 2630.1L1212.7 2629.1L1214.1 2629.8L1215.4 2628.4L1216.8 2629.9L1218.1 2628.5L1219.5 2630.0L1222.2 2629.7L1223.6 2629.9L1224.9 2629.0L1226.3 2630.1L1227.6 2630.3L1229.0 2629.7L1230.4 2629.9L1230.7 2628.9L1231.4 2629.9L1232.1 2629.6L1232.4 2628.7L1232.7 2628.4L1233.4 2630.2L1233.8 2630.6L1234.1 2628.7L1234.4 2630.5L1234.8 2629.0L1235.1 2630.5L1235.5 2629.3L1235.8 2630.2L1236.1 2629.7L1236.5 2629.8L1236.8 2628.5L1237.2 2628.7L1237.5 2630.4L1237.8 2628.5L1238.5 2630.5L1238.9 2629.8L1239.2 2629.6L1239.9 2630.1L1240.2 2629.0L1240.6 2628.6L1241.2 2629.7L1241.6 2628.8L1242.3 2629.2L1242.6 2628.9L1243.3 2630.1L1243.6 2629.1L1244.0 2629.6L1244.3 2628.3L1244.6 2629.6L1245.0 2629.3L1245.3 2627.5L1245.7 2627.0L1246.0 2627.6L1246.7 2626.1L1247.0 2626.0L1247.3 2627.1L1247.7 2625.9L1248.0 2625.8L1248.7 2623.7L1249.0 2625.2L1249.4 2624.7L1249.7 2623.3L1250.1 2624.1L1251.1 2622.1L1251.4 2624.2L1251.8 2622.4L1252.1 2623.6L1252.4 2623.8L1252.8 2625.1L1253.5 2624.6L1253.8 2625.8L1254.1 2625.4L1254.8 2628.2L1255.2 2628.0L1255.5 2629.0L1255.8 2628.4L1256.5 2628.9L1256.9 2627.8L1257.5 2629.1L1257.9 2629.4L1258.2 2630.3L1258.9 2629.2L1259.2 2630.7L1259.9 2628.7L1260.3 2629.8L1260.6 2629.3L1261.6 2630.6L1262.0 2630.3L1262.3 2630.8L1263.0 2629.0L1263.7 2630.8L1264.0 2629.6L1264.3 2631.0L1264.7 2629.0L1265.0 2630.2L1265.4 2629.4L1265.7 2630.2L1266.0 2629.4L1266.4 2630.1L1266.7 2629.3L1267.1 2631.0L1267.4 2631.0L1268.1 2629.3L1268.4 2630.2L1268.8 2629.4L1269.1 2631.0L1269.4 2630.9L1269.8 2629.3L1270.1 2629.3L1270.4 2630.4L1270.8 2629.6L1271.1 2629.3L1272.5 2629.5L1273.8 2629.2L1275.2 2631.0L1276.6 2629.5L1277.9 2629.3L1279.3 2629.8L1280.6 2629.3L1282.0 2631.0L1283.4 2630.9L1284.7 2630.5L1286.1 2631.5L1287.4 2631.4L1290.2 2629.7L1291.5 2631.0L1292.9 2629.4L1294.2 2631.5L1296.9 2631.0L1298.3 2629.8L1299.7 2631.3L1301.0 2631.3L1302.4 2631.6L1303.7 2630.5L1305.1 2630.4L1306.5 2631.5L1307.8 2630.6L1309.2 2631.1L1310.5 2631.3L1311.9 2630.1L1314.6 2631.5L1316.0 2631.9L1317.3 2630.3L1320.0 2630.8L1321.4 2630.2L1322.8 2629.8L1324.1 2631.3L1325.5 2631.5L1328.2 2630.2L1329.6 2630.8L1330.9 2630.2L1332.3 2631.3L1333.6 2630.1L1335.0 2630.6L1336.4 2630.1L1339.1 2632.1L1340.4 2631.6L1341.8 2630.3L1343.1 2630.4L1344.5 2631.6L1345.9 2630.3L1347.2 2631.5L1348.6 2630.2L1349.9 2630.4L1351.3 2632.1L1352.7 2631.1L1354.0 2630.9L1355.4 2630.4L1356.7 2631.9L1358.1 2631.5L1359.5 2631.9L1360.8 2630.5L1362.2 2631.2L1363.5 2631.1L1364.9 2630.4L1366.2 2631.3L1367.6 2631.6L1369.0 2631.5L1370.3 2632.0L1371.7 2631.5L1373.0 2631.5L1374.4 2630.9L1375.8 2631.4L1377.1 2631.0L1379.8 2632.0L1382.5 2631.1L1383.9 2632.3L1385.3 2630.9L1386.6 2632.5L1388.0 2632.6L1389.3 2631.1L1390.7 2631.1L1392.1 2631.9L1393.4 2630.8L1394.8 2631.9L1396.1 2631.8L1397.5 2632.5L1398.9 2631.2L1400.2 2632.4L1401.6 2630.9L1402.9 2631.9L1405.6 2631.6L1407.0 2631.8L1408.4 2631.5L1409.7 2632.3L1411.1 2632.2L1412.4 2630.7L1413.8 2631.7L1415.2 2631.4L1416.5 2632.2L1417.9 2632.6L1419.2 2632.5L1422.0 2632.8L1423.3 2631.9L1424.7 2630.8L1426.0 2632.3L1427.4 2632.7L1428.7 2632.7L1430.1 2631.7L1431.5 2631.0L1432.8 2631.8L1434.2 2631.1L1435.5 2631.4L1436.9 2631.1L1438.3 2632.6L1439.6 2632.9L1442.3 2632.0L1443.7 2632.7L1445.1 2632.7L1446.4 2631.7L1450.5 2631.2L1451.8 2632.5L1453.2 2631.4L1454.6 2631.6L1455.9 2632.6L1457.3 2632.0L1458.6 2630.8L1460.0 2632.1L1461.4 2630.9L1462.7 2631.8L1464.1 2631.3L1465.4 2632.4L1468.2 2631.7L1469.5 2632.4L1470.9 2632.7L1472.2 2631.6L1473.6 2632.3L1474.9 2631.1L1476.3 2632.8L1477.7 2630.9L1479.0 2632.1L1481.7 2630.9L1483.1 2631.0L1484.5 2631.6L1485.8 2631.0L1488.5 2632.9L1489.9 2632.4L1491.3 2632.6L1492.6 2631.7L1494.0 2631.1L1495.3 2630.8L1496.7 2631.9L1498.0 2631.6L1499.4 2632.2L1500.8 2631.4L1502.1 2631.3L1504.8 2632.7L1506.2 2631.7L1507.6 2632.4L1508.9 2630.7L1511.6 2632.6L1513.0 2630.7L1514.4 2632.4L1517.1 2630.8L1518.4 2632.0L1519.8 2632.8L1521.1 2631.4L1522.5 2630.9L1523.9 2631.8L1525.2 2630.7L1526.6 2632.7L1527.9 2632.0L1529.3 2631.6L1530.7 2630.7L1532.0 2631.4L1533.4 2630.6L1534.7 2630.8L1536.1 2631.6L1537.5 2631.2L1540.2 2632.0L1541.5 2630.6L1542.9 2632.6L1544.2 2631.8L1545.6 2631.7L1547.0 2630.5L1548.3 2632.5L1549.7 2631.2L1551.0 2630.9L1552.4 2631.9L1555.1 2630.8L1556.5 2630.5L1557.8 2632.2L1559.2 2632.0L1560.6 2632.3L1563.3 2631.1L1564.6 2632.1L1566.0 2630.2L1568.7 2631.8L1570.1 2631.0L1571.4 2631.5L1572.8 2631.4L1573.5 2630.3L1574.1 2631.7L1574.4 2629.6L1575.3 2631.2L1575.5 2629.5L1576.3 2629.7L1576.9 2629.4L1577.6 2630.5L1578.1 2630.1L1578.2 2631.2L1578.5 2629.9L1578.9 2629.3L1579.1 2631.3L1579.6 2631.0L1579.9 2629.2L1580.0 2631.0L1580.3 2631.0L1580.4 2629.7L1580.9 2629.0L1581.2 2629.7L1581.4 2629.3L1581.6 2629.5L1581.9 2629.5L1582.0 2630.5L1582.3 2629.0L1582.5 2629.7L1582.8 2628.7L1582.9 2629.5L1583.0 2629.1L1583.4 2629.0L1583.5 2630.4L1583.7 2630.6L1583.7 2629.4L1583.8 2630.3L1584.0 2629.2L1584.3 2630.1L1584.7 2628.8L1585.0 2630.0L1585.6 2629.9L1585.6 2628.4L1586.0 2627.8L1586.4 2629.2L1586.5 2628.3L1586.9 2628.0L1587.0 2629.0L1587.4 2629.0L1587.5 2627.6L1587.6 2628.0L1587.8 2627.8L1588.1 2628.7L1588.2 2627.0L1588.6 2628.6L1588.7 2626.9L1589.1 2627.5L1589.1 2628.7L1589.3 2628.6L1590.0 2627.4L1590.3 2626.0L1590.4 2626.9L1590.6 2625.7L1590.9 2625.7L1591.2 2627.2L1591.3 2626.0L1591.6 2625.9L1591.8 2625.0L1591.8 2626.0L1592.2 2626.4L1592.7 2623.8L1593.1 2623.5L1593.2 2623.9L1593.5 2624.2L1594.0 2622.6L1594.0 2621.6L1594.2 2622.3L1594.4 2621.3L1594.7 2619.5L1594.9 2619.8L1595.7 2617.6L1595.9 2615.5L1596.2 2614.7L1596.6 2611.3L1596.7 2611.9L1597.5 2606.9L1598.6 2597.6L1600.2 2579.9L1602.4 2551.9L1602.4 2552.8L1603.4 2544.0L1603.7 2544.6L1604.0 2543.0L1604.1 2544.1L1604.4 2543.3L1604.9 2545.9L1605.0 2546.0L1605.5 2547.6L1606.9 2559.6L1607.7 2567.6L1607.9 2569.0L1609.0 2579.4L1609.5 2581.6L1611.5 2596.1L1611.6 2598.7L1611.8 2598.2L1612.2 2601.0L1612.5 2602.0L1612.7 2603.7L1613.0 2604.5L1613.0 2605.6L1613.5 2607.4L1613.6 2609.4L1613.9 2608.3L1614.3 2611.8L1614.6 2612.6L1614.7 2611.8L1615.5 2615.8L1615.6 2614.4L1616.1 2615.3L1616.3 2617.6L1616.4 2616.6L1616.6 2618.0L1616.9 2616.9L1617.4 2618.7L1617.4 2618.1L1617.6 2618.2L1617.8 2619.6L1618.1 2618.8L1618.3 2620.8L1618.6 2619.0L1618.7 2619.5L1619.0 2619.4L1619.2 2621.0L1619.6 2621.1L1619.7 2620.1L1620.0 2620.2L1620.2 2620.7L1620.3 2620.8L1620.5 2619.7L1620.7 2621.6L1621.1 2621.2L1621.2 2619.7L1621.4 2620.7L1621.7 2619.7L1621.8 2621.5L1622.2 2619.5L1622.2 2620.4L1622.7 2620.1L1623.0 2620.6L1623.1 2619.9L1623.2 2620.8L1623.6 2619.2L1623.7 2619.8L1623.9 2618.7L1624.0 2620.3L1624.2 2618.9L1624.4 2619.9L1624.8 2618.3L1624.9 2619.2L1625.3 2619.2L1625.3 2618.3L1625.8 2618.4L1626.2 2619.5L1626.7 2617.7L1626.7 2618.6L1626.8 2617.8L1627.1 2617.1L1627.3 2618.8L1627.5 2619.1L1627.6 2617.5L1627.8 2618.6L1628.0 2618.6L1628.3 2617.2L1628.5 2618.8L1628.6 2617.0L1628.8 2617.4L1628.9 2618.5L1629.3 2617.7L1629.5 2617.0L1629.9 2619.0L1630.2 2618.0L1630.4 2618.7L1630.4 2618.6L1630.9 2619.5L1631.2 2618.1L1631.4 2618.6L1631.9 2619.2L1632.4 2620.2L1633.2 2619.5L1633.4 2621.1L1633.9 2621.0L1634.2 2621.7L1634.4 2620.4L1635.3 2621.5L1635.5 2622.6L1636.0 2622.2L1636.1 2622.9L1636.5 2622.7L1636.6 2623.8L1637.0 2623.9L1637.5 2623.2L1637.9 2625.1L1638.0 2624.9L1638.9 2625.2L1639.4 2624.4L1639.5 2624.5L1640.0 2626.0L1640.7 2627.0L1641.7 2626.6L1642.1 2627.5L1642.6 2627.6L1643.5 2628.8L1644.5 2627.2L1644.8 2629.0L1645.4 2628.2L1646.2 2629.9L1646.3 2628.1L1647.3 2629.0L1647.5 2628.4L1648.2 2629.8L1648.9 2628.7L1650.1 2630.1L1650.2 2629.2L1651.0 2629.0L1651.6 2631.0L1652.9 2630.3L1653.0 2631.1L1653.8 2630.6L1654.3 2631.3L1654.7 2629.6L1655.7 2629.5L1656.6 2631.0L1657.0 2630.2L1657.5 2630.8L1658.4 2631.2L1658.5 2630.7L1659.4 2630.3L1659.7 2631.7L1660.3 2630.5L1661.3 2630.8L1662.2 2629.8L1662.5 2630.9L1663.1 2631.1L1663.8 2630.2L1664.1 2631.3L1665.0 2630.8L1665.2 2631.9L1666.5 2630.0L1666.9 2631.9L1667.8 2630.5L1667.9 2632.0L1668.7 2631.4L1669.3 2630.7L1670.6 2631.7L1671.5 2631.9L1672.0 2630.3L1672.5 2630.6L1673.3 2630.2L1673.4 2631.1L1674.4 2630.6L1674.7 2630.6L1676.1 2632.1L1676.2 2630.5L1677.2 2631.2L1677.4 2631.0L1678.1 2631.3L1679.0 2630.4L1680.0 2630.7L1680.1 2632.1L1680.9 2631.1L1681.5 2632.1L1681.8 2630.1L1682.8 2630.5L1682.8 2632.1L1683.7 2630.3L1684.2 2631.4L1684.6 2630.5L1685.6 2630.4L1688.3 2632.0L1689.6 2631.3L1691.0 2630.1L1692.4 2630.6L1693.7 2632.3L1697.8 2630.8L1699.2 2630.8L1700.5 2630.2L1701.9 2630.6L1703.2 2632.0L1704.6 2630.9L1705.9 2632.0L1707.3 2632.2L1710.0 2630.7L1711.4 2631.1L1712.7 2630.4L1715.5 2630.9L1716.8 2630.2L1718.2 2632.0L1719.5 2631.2L1720.9 2630.9L1722.2 2631.5L1725.0 2630.8L1727.7 2631.0L1729.0 2630.7L1731.8 2631.1L1733.1 2631.9L1734.5 2631.8L1735.8 2631.9L1737.2 2631.1L1738.6 2632.1L1739.9 2630.2L1741.3 2631.9L1742.6 2631.5L1744.0 2630.1L1745.3 2631.9L1746.7 2630.7L1748.1 2631.3L1749.4 2630.1L1750.8 2631.4L1752.1 2631.4L1753.5 2630.8L1754.9 2630.7L1756.2 2631.7L1757.6 2632.0L1758.9 2630.0L1761.7 2631.1L1763.0 2630.6L1764.4 2630.7L1767.1 2631.8L1768.4 2631.7L1769.8 2630.8L1771.2 2631.8L1772.5 2632.0L1773.9 2630.2L1775.2 2630.3L1776.6 2632.0L1778.0 2630.1L1779.3 2630.4L1780.7 2632.0L1782.0 2631.6L1783.4 2630.3L1784.8 2630.7L1786.1 2632.0L1787.5 2630.4L1788.8 2631.5L1790.2 2630.4L1791.5 2630.7L1792.9 2631.8L1795.6 2630.7L1797.0 2631.9L1798.3 2631.7L1799.7 2631.8L1802.4 2630.0L1803.8 2630.4L1805.1 2630.0L1806.5 2630.2L1807.9 2629.9L1809.2 2631.0L1810.6 2631.2L1811.9 2629.5L1813.3 2631.2L1814.6 2631.2L1816.0 2630.5L1817.4 2631.5L1818.7 2629.5L1820.1 2629.3L1822.8 2629.4L1824.2 2630.6L1824.5 2630.3L1824.7 2629.2L1824.9 2630.7L1825.4 2630.1L1825.5 2629.4L1825.8 2630.9L1826.2 2628.9L1826.3 2629.7L1826.5 2630.2L1826.9 2629.1L1826.9 2630.1L1827.1 2629.7L1827.4 2630.7L1827.6 2630.5L1827.6 2629.2L1827.8 2630.2L1827.9 2628.9L1828.0 2629.2L1828.2 2628.5L1828.3 2630.1L1828.5 2628.9L1828.6 2630.2L1828.7 2629.6L1828.9 2630.1L1829.1 2629.7L1829.3 2628.6L1829.4 2629.8L1829.6 2629.9L1829.6 2629.1L1829.8 2629.8L1830.0 2628.2L1830.2 2629.0L1830.3 2628.0L1830.7 2629.6L1830.9 2629.2L1831.1 2627.8L1831.3 2628.5L1831.3 2627.5L1831.6 2628.9L1831.8 2627.2L1832.0 2628.0L1832.2 2627.4L1832.3 2628.0L1832.4 2626.3L1832.7 2627.3L1833.3 2624.6L1833.6 2624.6L1833.8 2622.7L1834.0 2622.4L1834.2 2620.4L1834.4 2621.3L1836.0 2604.1L1836.2 2601.0L1837.1 2591.8L1837.1 2593.4L1837.4 2590.2L1837.5 2590.8L1837.7 2589.6L1838.0 2589.5L1838.4 2592.8L1838.6 2593.0L1839.4 2604.0L1839.5 2603.3L1841.5 2620.2L1841.5 2618.6L1841.9 2621.7L1842.2 2620.2L1842.4 2622.1L1842.6 2620.1L1842.8 2620.6L1843.0 2621.7L1843.2 2621.0L1843.3 2621.4L1843.5 2619.2L1843.7 2620.6L1843.9 2619.0L1844.2 2619.2L1844.2 2619.6L1844.6 2616.9L1844.9 2617.6L1845.0 2616.0L1845.2 2615.8L1845.3 2616.5L1845.5 2616.5L1845.6 2615.1L1845.7 2616.7L1845.9 2615.9L1846.1 2615.7L1846.2 2615.1L1846.4 2615.5L1846.6 2615.1L1846.8 2615.9L1847.0 2614.6L1847.2 2615.6L1847.5 2617.1L1847.6 2615.5L1847.9 2617.6L1848.1 2616.6L1848.3 2618.0L1848.6 2618.2L1848.6 2619.7L1848.8 2618.8L1849.0 2620.4L1849.2 2620.1L1849.5 2621.5L1849.6 2621.1L1849.7 2622.8L1849.9 2621.7L1850.0 2623.1L1850.1 2623.1L1850.3 2624.3L1850.3 2622.7L1850.7 2624.5L1850.8 2624.1L1851.3 2625.3L1851.7 2626.9L1852.0 2626.9L1852.4 2626.5L1852.7 2627.9L1853.0 2627.2L1853.4 2627.1L1854.4 2628.7L1854.7 2628.3L1855.1 2628.2L1855.4 2629.8L1855.8 2628.3L1856.4 2630.0L1856.8 2629.0L1857.1 2629.7L1857.5 2628.9L1857.8 2629.8L1858.1 2628.5L1858.5 2630.5L1859.1 2630.5L1859.8 2629.5L1860.8 2630.5L1861.2 2629.6L1861.9 2629.0L1862.2 2629.2L1862.5 2630.1L1862.9 2628.8L1863.2 2629.9L1863.6 2628.7L1863.9 2630.3L1864.2 2629.1L1864.9 2630.5L1865.3 2630.2L1865.6 2628.9L1865.9 2630.1L1866.3 2629.5L1866.6 2630.8L1867.0 2629.1L1867.6 2630.0L1869.0 2629.7" stroke="#696969"/>
</g>
<rect x="235.0" y="2256.5" width="489.8" height="205.0" fill="#fff"/>
<g clip-path="url(#cib)" fill="none" stroke-width="9.6" stroke-linejoin="round"><path d="M235.0 2441.5L238.3 2441.8L241.5 2441.2L244.8 2441.9L246.8 2441.3L247.2 2440.3L247.7 2440.1L248.1 2441.0L248.5 2440.6L248.9 2439.5L249.3 2439.9L249.7 2440.9L250.1 2439.4L250.5 2438.8L250.9 2439.2L251.3 2437.4L251.7 2437.6L252.1 2438.5L252.6 2435.7L253.4 2435.0L254.2 2432.4L254.6 2432.4L255.0 2431.4L255.4 2428.7L255.8 2428.8L256.6 2425.2L257.0 2422.3L257.9 2419.8L259.1 2409.5L259.9 2405.2L266.0 2345.5L267.2 2332.6L267.7 2331.3L268.5 2324.0L268.9 2322.7L269.3 2319.3L269.7 2318.6L270.1 2315.9L270.5 2316.4L271.3 2315.7L272.1 2321.6L272.6 2323.0L273.4 2328.8L273.8 2330.5L274.6 2336.5L275.4 2338.4L276.2 2343.9L278.7 2353.9L279.1 2354.2L279.9 2357.6L280.3 2357.5L280.7 2360.3L281.1 2359.5L281.5 2361.4L281.9 2361.5L282.3 2364.5L282.8 2365.1L283.2 2364.4L284.0 2367.8L284.4 2367.5L286.0 2371.3L286.4 2371.4L286.8 2372.2L287.2 2374.4L287.7 2373.0L288.5 2374.6L289.3 2376.9L289.7 2377.1L290.1 2378.7L290.9 2377.8L291.3 2378.3L291.7 2379.9L292.1 2379.2L292.6 2381.3L293.0 2381.6L293.4 2381.0L293.8 2383.1L294.2 2383.6L294.6 2382.5L295.0 2382.4L295.4 2383.6L295.8 2383.5L297.0 2385.9L300.3 2387.0L303.6 2390.2L306.8 2392.1L310.1 2394.9L316.6 2396.6L319.9 2397.8L323.2 2400.2L329.7 2402.7L333.0 2404.7L336.2 2404.9L339.5 2406.4L342.8 2406.4L346.0 2407.1L349.3 2409.0L352.6 2410.6L355.8 2410.6L359.1 2412.9L362.3 2411.5L368.9 2413.4L375.4 2414.4L378.7 2415.2L381.9 2417.8L385.2 2416.8L388.5 2418.7L391.7 2419.3L395.0 2418.7L398.3 2420.0L404.8 2420.6L411.3 2421.4L414.6 2420.5L417.9 2422.3L421.1 2422.6L424.4 2423.6L427.7 2423.7L430.9 2423.4L434.2 2424.0L437.5 2423.5L444.0 2423.9L447.2 2425.2L450.5 2424.8L453.8 2424.9L457.0 2426.3L460.3 2427.0L463.6 2425.4L466.8 2427.7L470.1 2426.4L473.4 2426.8L479.9 2428.4L486.4 2428.6L489.7 2428.3L493.0 2428.5L496.2 2427.2L499.5 2428.6L502.8 2427.7L506.0 2429.8L509.3 2428.5L512.6 2429.5L515.8 2428.3L519.1 2430.2L522.3 2428.9L525.6 2428.7L528.9 2429.4L532.1 2430.4L535.4 2430.4L538.7 2429.8L541.9 2430.2L545.2 2429.3L548.5 2429.8L551.7 2429.8L555.0 2431.9L558.3 2430.2L561.5 2431.4L564.8 2431.5L568.1 2430.2L571.3 2431.9L577.9 2432.1L581.1 2430.6L584.4 2430.6L587.7 2432.1L590.9 2432.9L594.2 2432.4L597.5 2430.8L600.7 2432.4L604.0 2431.1L607.2 2431.4L613.8 2432.7L617.0 2432.0L620.3 2431.8L623.6 2433.0L626.8 2432.1L630.1 2432.2L633.4 2431.6L636.6 2432.1L639.9 2433.3L643.2 2431.6L646.4 2432.8L649.7 2432.3L653.0 2433.2L656.2 2432.3L662.8 2433.4L666.0 2434.1L669.3 2432.2L672.6 2433.1L675.8 2433.4L679.1 2432.0L685.6 2432.6L688.9 2433.1L692.1 2432.1L698.7 2433.2L701.9 2434.1L705.2 2434.5L708.5 2434.4L711.7 2432.5L715.0 2432.5L718.3 2433.6L721.5 2433.6L724.8 2432.6" stroke="#696969"/></g>
<g fill="none" stroke="#000" stroke-width="7.0">
<rect x="169.0" y="33.0" width="1699.5" height="1254.5"/>
<rect x="170.5" y="1437.5" width="1698.5" height="1253.5"/>
<rect x="377.0" y="66.0" width="490.5" height="205.5"/>
<rect x="235.0" y="2256.5" width="489.8" height="205.0"/>
<path d="M357.8 1287.5V1265.5M735.5 1287.5V1265.5M1113.2 1287.5V1265.5M1490.8 1287.5V1265.5M1868.5 1287.5V1265.5M546.7 1287.5V1275.5M924.3 1287.5V1275.5M1302.0 1287.5V1275.5M1679.7 1287.5V1275.5M510.2 2691.0V2669.0M849.9 2691.0V2669.0M1189.6 2691.0V2669.0M1529.3 2691.0V2669.0M340.4 2691.0V2679.0M680.0 2691.0V2679.0M1019.8 2691.0V2679.0M1359.5 2691.0V2679.0M1699.2 2691.0V2679.0M421.6 271.5V249.5M644.5 271.5V249.5M533.1 271.5V259.5M756.0 271.5V259.5M479.9 2461.5V2439.5"/>
</g>
<g font-family="'DejaVu Sans', 'Liberation Sans', sans-serif" fill="#000">
<text transform="translate(358.3,1371.5) scale(1.035,1)" font-size="72.5" text-anchor="middle">20</text>
<text transform="translate(736.0,1371.5) scale(1.035,1)" font-size="72.5" text-anchor="middle">30</text>
<text transform="translate(1113.7,1371.5) scale(1.035,1)" font-size="72.5" text-anchor="middle">40</text>
<text transform="translate(1491.3,1371.5) scale(1.035,1)" font-size="72.5" text-anchor="middle">50</text>
<text transform="translate(1869.0,1371.5) scale(1.035,1)" font-size="72.5" text-anchor="middle">60</text>
<text transform="translate(171.0,2776.5) scale(1.035,1)" font-size="73" text-anchor="middle">10</text>
<text transform="translate(510.7,2776.5) scale(1.035,1)" font-size="73" text-anchor="middle">20</text>
<text transform="translate(850.4,2776.5) scale(1.035,1)" font-size="73" text-anchor="middle">30</text>
<text transform="translate(1190.1,2776.5) scale(1.035,1)" font-size="73" text-anchor="middle">40</text>
<text transform="translate(1529.8,2776.5) scale(1.035,1)" font-size="73" text-anchor="middle">50</text>
<text transform="translate(1869.5,2776.5) scale(1.035,1)" font-size="73" text-anchor="middle">60</text>
<text transform="translate(421.6,357.5) scale(1.02,1)" font-size="74.5" text-anchor="middle">20</text>
<text transform="translate(644.5,357.5) scale(1.02,1)" font-size="74.5" text-anchor="middle">25</text>
<text transform="translate(867.5,357.5) scale(1.02,1)" font-size="74.5" text-anchor="middle">30</text>
<text transform="translate(235.0,2548.5) scale(1.04,1)" font-size="72.5" text-anchor="middle">19</text>
<text transform="translate(479.9,2548.5) scale(1.04,1)" font-size="72.5" text-anchor="middle">22</text>
<text transform="translate(724.8,2548.5) scale(1.04,1)" font-size="72.5" text-anchor="middle">25</text>
<text x="1848" y="457.5" font-size="74" text-anchor="end">9</text>
<text x="1848" y="638.0" font-size="74" text-anchor="end">8</text>
<text x="1848" y="823.5" font-size="74" text-anchor="end">6</text>
<text x="1848" y="1001.5" font-size="74" text-anchor="end">5</text>
<text x="1848" y="1180.5" font-size="74" text-anchor="end">1</text>
<text font-size="75" fill="#000"><tspan x="1443.9" y="196.9">α</tspan><tspan x="1506.1" y="196.9">−</tspan><tspan x="1582.6" y="196.9">Li</tspan><tspan x="1645.2" y="207.3" font-size="52.5">2</tspan><tspan x="1679.6" y="196.9">IrO</tspan><tspan x="1794.0" y="207.3" font-size="52.5">3</tspan></text>
<text font-size="75" fill="#008000"><tspan x="586.0" y="1831.6">H</tspan><tspan x="641.3" y="1842.1" font-size="52.5">3</tspan><tspan x="676.6" y="1831.6">LiIr</tspan><tspan x="793.2" y="1842.1" font-size="52.5">2</tspan><tspan x="828.5" y="1831.6">O</tspan><tspan x="887.2" y="1842.1" font-size="52.5">6</tspan></text>
<text font-size="75" fill="#696969"><tspan x="569.8" y="2144.1">Ag</tspan><tspan x="665.3" y="2154.6" font-size="52.5">3</tspan><tspan x="701.3" y="2144.1">LiIr</tspan><tspan x="817.2" y="2154.6" font-size="52.5">2</tspan><tspan x="852.1" y="2144.1">O</tspan><tspan x="911.6" y="2154.6" font-size="52.5">6</tspan></text>
<text transform="translate(104.5,1104.4) rotate(-90) scale(0.972,1)" font-size="88.5">Normalized Intensity</text>
<text transform="translate(104.5,2512.9) rotate(-90) scale(0.972,1)" font-size="88.5">Normalized Intensity</text>
<text transform="translate(769.5,2902) scale(0.972,1)" font-size="88.5">2<tspan font-style="italic">θ</tspan> (degree)</text>
</g>
<g font-family="'DejaVu Sans', 'Liberation Sans', sans-serif" fill="#000">
<text font-size="99.5" stroke="#fff" stroke-width="3.2"><tspan x="24.3" y="122.9">(</tspan><tspan x="103.7" y="122.9">)</tspan></text>
<text transform="translate(54.0,115.6) scale(1.10,1)" font-size="89" stroke="#fff" stroke-width="2.0">a</text>
<text font-size="99.5" stroke="#fff" stroke-width="3.2"><tspan x="24.3" y="1522.9">(</tspan><tspan x="103.7" y="1522.9">)</tspan></text>
<text transform="translate(54.7,1515.6) scale(1.00,1)" font-size="89" stroke="#fff" stroke-width="2.0">b</text>
</g>
</svg>
</body></html>
